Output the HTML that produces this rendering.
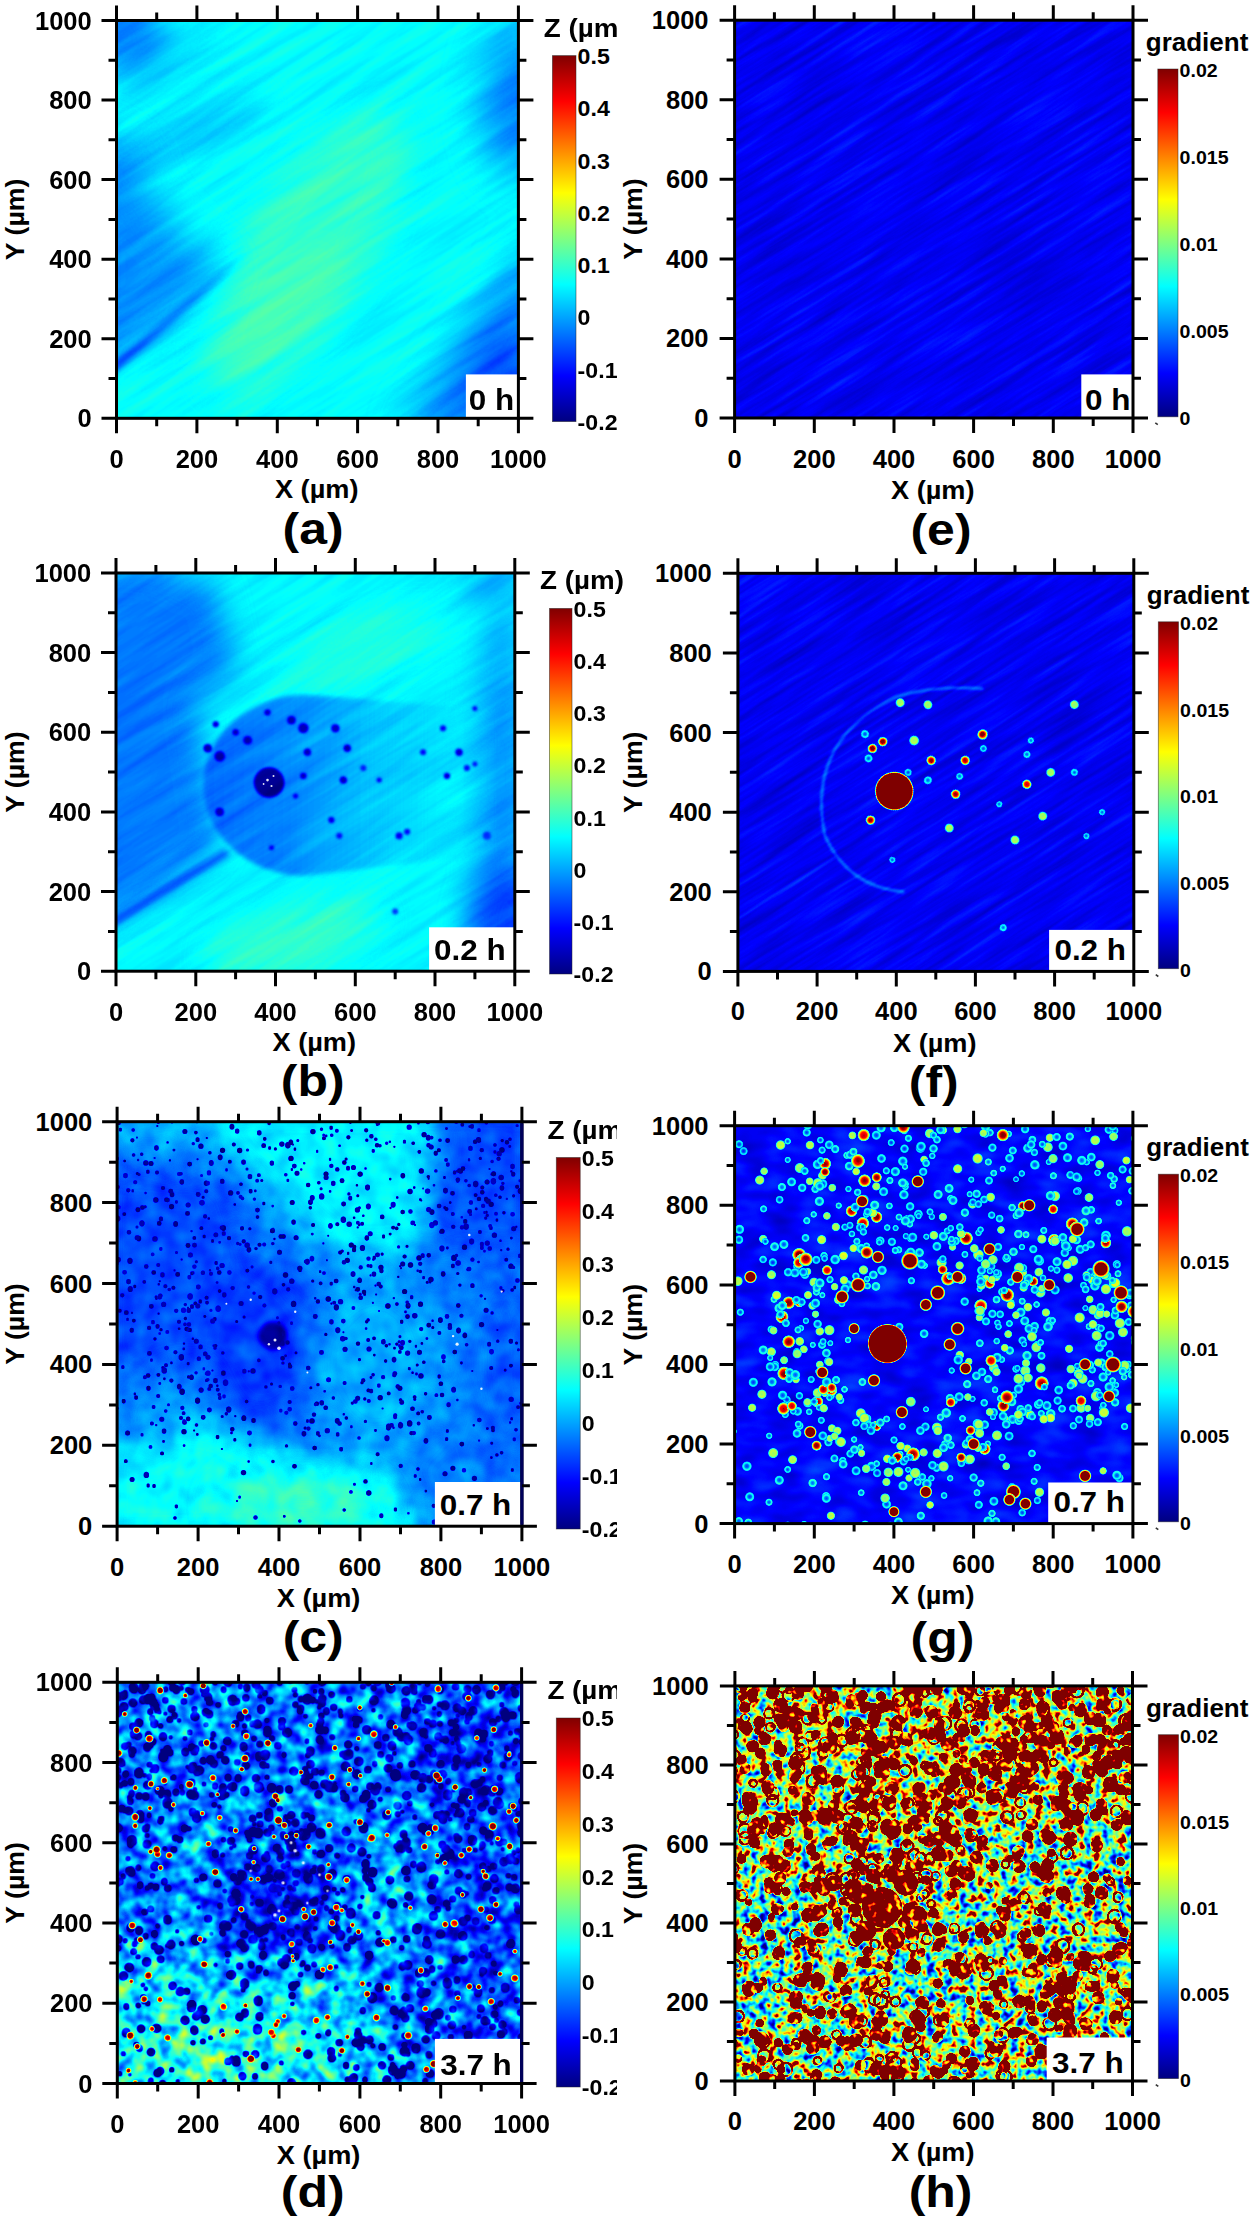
<!DOCTYPE html><html><head><meta charset="utf-8"><title>Figure</title><style>html,body{margin:0;padding:0;background:#fff;width:1250px;height:2220px;overflow:hidden}text{font-family:'Liberation Sans',sans-serif;font-weight:bold;fill:#000}</style></head><body><svg width="1250" height="2220" viewBox="0 0 1250 2220" style="display:block;font-family:'Liberation Sans',sans-serif;font-weight:bold"><defs><filter id="blur05" x="-50%" y="-50%" width="200%" height="200%" color-interpolation-filters="sRGB"><feGaussianBlur stdDeviation="0.5"/></filter><filter id="blur07h" x="-5%" y="-5%" width="110%" height="110%" color-interpolation-filters="sRGB"><feGaussianBlur stdDeviation="0.7"/></filter><filter id="blur12h" x="-5%" y="-5%" width="110%" height="110%" color-interpolation-filters="sRGB"><feGaussianBlur stdDeviation="1.2"/></filter><filter id="blur15h" x="-5%" y="-5%" width="110%" height="110%" color-interpolation-filters="sRGB"><feGaussianBlur stdDeviation="1.5"/></filter><filter id="blur1" x="-50%" y="-50%" width="200%" height="200%" color-interpolation-filters="sRGB"><feGaussianBlur stdDeviation="0.8"/></filter><filter id="blur2" x="-50%" y="-50%" width="200%" height="200%" color-interpolation-filters="sRGB"><feGaussianBlur stdDeviation="2"/></filter><filter id="blur3" x="-50%" y="-50%" width="200%" height="200%" color-interpolation-filters="sRGB"><feGaussianBlur stdDeviation="3"/></filter><filter id="blur4" x="-50%" y="-50%" width="200%" height="200%" color-interpolation-filters="sRGB"><feGaussianBlur stdDeviation="4"/></filter><filter id="blur8" x="-50%" y="-50%" width="200%" height="200%" color-interpolation-filters="sRGB"><feGaussianBlur stdDeviation="8"/></filter><filter id="blur15" x="-50%" y="-50%" width="200%" height="200%" color-interpolation-filters="sRGB"><feGaussianBlur stdDeviation="15"/></filter><filter id="blur20" x="-50%" y="-50%" width="200%" height="200%" color-interpolation-filters="sRGB"><feGaussianBlur stdDeviation="20"/></filter><filter id="blur30" x="-50%" y="-50%" width="200%" height="200%" color-interpolation-filters="sRGB"><feGaussianBlur stdDeviation="30"/></filter><radialGradient id="full"><stop offset="0" stop-color="#f2f2f2"/><stop offset="0.45" stop-color="#e6e6e6"/><stop offset="0.65" stop-color="#b8b8b8"/><stop offset="0.8" stop-color="#858585"/><stop offset="0.9" stop-color="#616161"/><stop offset="1" stop-color="#212121" stop-opacity="0"/></radialGradient><radialGradient id="half"><stop offset="0" stop-color="#808080"/><stop offset="0.3" stop-color="#8c8c8c"/><stop offset="0.6" stop-color="#8c8c8c"/><stop offset="0.8" stop-color="#666666"/><stop offset="1" stop-color="#212121" stop-opacity="0"/></radialGradient><radialGradient id="donut"><stop offset="0" stop-color="#2e2e2e"/><stop offset="0.35" stop-color="#404040"/><stop offset="0.65" stop-color="#6b6b6b"/><stop offset="0.82" stop-color="#545454"/><stop offset="1" stop-color="#212121" stop-opacity="0"/></radialGradient><radialGradient id="big"><stop offset="0" stop-color="#ffffff"/><stop offset="0.9" stop-color="#ffffff"/><stop offset="0.95" stop-color="#cccccc"/><stop offset="1" stop-color="#4c4c4c" stop-opacity="0"/></radialGradient><radialGradient id="dred"><stop offset="0" stop-color="#ffffff"/><stop offset="0.62" stop-color="#ffffff"/><stop offset="0.75" stop-color="#b2b2b2"/><stop offset="0.86" stop-color="#737373"/><stop offset="1" stop-color="#212121" stop-opacity="0"/></radialGradient><radialGradient id="rdot"><stop offset="0" stop-color="#ffffff"/><stop offset="0.5" stop-color="#f7f7f7"/><stop offset="0.75" stop-color="#bfbfbf"/><stop offset="1" stop-color="#4c4c4c" stop-opacity="0"/></radialGradient><linearGradient id="cbar" x1="0" y1="0" x2="0" y2="1"><stop offset="0.0000" stop-color="#800000"/><stop offset="0.1250" stop-color="#ff0000"/><stop offset="0.2500" stop-color="#ff8000"/><stop offset="0.3750" stop-color="#ffff00"/><stop offset="0.5000" stop-color="#80ff80"/><stop offset="0.6250" stop-color="#00ffff"/><stop offset="0.7500" stop-color="#0080ff"/><stop offset="0.8750" stop-color="#0000ff"/><stop offset="1.0000" stop-color="#000080"/></linearGradient><clipPath id="clip_a"><rect x="0" y="0" width="401.9" height="397.8"/></clipPath><filter id="jet_a" filterUnits="userSpaceOnUse" x="-401.9" y="-397.8" width="1205.6999999999998" height="1193.4" color-interpolation-filters="sRGB"><feTurbulence type="fractalNoise" baseFrequency="0.008 0.09" numOctaves="3" seed="2" result="n"/><feColorMatrix in="n" type="matrix" values="1 0 0 0 0  1 0 0 0 0  1 0 0 0 0  0 0 0 0 1" result="ng"/><feComposite in="SourceGraphic" in2="ng" operator="arithmetic" k1="0" k2="1" k3="0.075" k4="-0.0375" result="s"/><feComponentTransfer><feFuncR type="table" tableValues="0 0 0 0 0.5 1 1 1 0.5"/><feFuncG type="table" tableValues="0 0 0.5 1 1 1 0.5 0 0"/><feFuncB type="table" tableValues="0.5 1 1 1 0.5 0 0 0 0"/><feFuncA type="identity"/></feComponentTransfer></filter><clipPath id="colclip_a"><rect x="0" y="0" width="617" height="2220"/></clipPath><clipPath id="clip_b"><rect x="0" y="0" width="398.8" height="398.2"/></clipPath><filter id="jet_b" filterUnits="userSpaceOnUse" x="-398.79999999999995" y="-398.20000000000005" width="1196.3999999999999" height="1194.6000000000001" color-interpolation-filters="sRGB"><feTurbulence type="fractalNoise" baseFrequency="0.008 0.09" numOctaves="3" seed="4" result="n"/><feColorMatrix in="n" type="matrix" values="1 0 0 0 0  1 0 0 0 0  1 0 0 0 0  0 0 0 0 1" result="ng"/><feComposite in="SourceGraphic" in2="ng" operator="arithmetic" k1="0" k2="1" k3="0.075" k4="-0.0375" result="s"/><feComponentTransfer><feFuncR type="table" tableValues="0 0 0 0 0.5 1 1 1 0.5"/><feFuncG type="table" tableValues="0 0 0.5 1 1 1 0.5 0 0"/><feFuncB type="table" tableValues="0.5 1 1 1 0.5 0 0 0 0"/><feFuncA type="identity"/></feComponentTransfer></filter><clipPath id="colclip_b"><rect x="0" y="0" width="640" height="2220"/></clipPath><clipPath id="clip_c"><rect x="0" y="0" width="404.8" height="404.5"/></clipPath><filter id="jet_c" filterUnits="userSpaceOnUse" x="-404.79999999999995" y="-404.5" width="1214.3999999999999" height="1213.5" color-interpolation-filters="sRGB"><feTurbulence type="fractalNoise" baseFrequency="0.05" numOctaves="2" seed="12" result="n"/><feColorMatrix in="n" type="matrix" values="1 0 0 0 0  1 0 0 0 0  1 0 0 0 0  0 0 0 0 1" result="ng"/><feComposite in="SourceGraphic" in2="ng" operator="arithmetic" k1="0" k2="1" k3="0.12" k4="-0.0600" result="s"/><feComponentTransfer><feFuncR type="table" tableValues="0 0 0 0 0.5 1 1 1 0.5"/><feFuncG type="table" tableValues="0 0 0.5 1 1 1 0.5 0 0"/><feFuncB type="table" tableValues="0.5 1 1 1 0.5 0 0 0 0"/><feFuncA type="identity"/></feComponentTransfer></filter><clipPath id="colclip_c"><rect x="0" y="0" width="617" height="2220"/></clipPath><clipPath id="clip_d"><rect x="0" y="0" width="404.3" height="401.2"/></clipPath><filter id="jet_d" filterUnits="userSpaceOnUse" x="-404.3" y="-401.20000000000005" width="1212.9" height="1203.6000000000001" color-interpolation-filters="sRGB"><feTurbulence type="fractalNoise" baseFrequency="0.07" numOctaves="2" seed="21" result="n"/><feColorMatrix in="n" type="matrix" values="1 0 0 0 0  1 0 0 0 0  1 0 0 0 0  0 0 0 0 1" result="ng"/><feComposite in="SourceGraphic" in2="ng" operator="arithmetic" k1="0" k2="1" k3="0.6" k4="-0.3000" result="s"/><feComponentTransfer><feFuncR type="table" tableValues="0 0 0 0 0.5 1 1 1 0.5"/><feFuncG type="table" tableValues="0 0 0.5 1 1 1 0.5 0 0"/><feFuncB type="table" tableValues="0.5 1 1 1 0.5 0 0 0 0"/><feFuncA type="identity"/></feComponentTransfer></filter><clipPath id="colclip_d"><rect x="0" y="0" width="617" height="2220"/></clipPath><clipPath id="clip_e"><rect x="0" y="0" width="398.4" height="397.8"/></clipPath><filter id="jet_e" filterUnits="userSpaceOnUse" x="-398.4" y="-397.8" width="1195.1999999999998" height="1193.4" color-interpolation-filters="sRGB"><feTurbulence type="fractalNoise" baseFrequency="0.01 0.15" numOctaves="3" seed="6" result="n"/><feColorMatrix in="n" type="matrix" values="1 0 0 0 0  1 0 0 0 0  1 0 0 0 0  0 0 0 0 1" result="ng"/><feComposite in="SourceGraphic" in2="ng" operator="arithmetic" k1="0" k2="1" k3="0.12" k4="-0.0600" result="s"/><feComponentTransfer><feFuncR type="table" tableValues="0.000 0.000 0.000 0.000 0.000 0.000 0.000 0.000 0.000 0.000 0.000 0.000 0.000 0.000 0.000 0.000 0.100 0.200 0.300 0.400 0.500 0.600 0.700 0.800 0.900 1.000 1.000 1.000 1.000 1.000 1.000 1.000 1.000 1.000 1.000 1.000 0.900 0.600 0.500 0.500 0.500"/><feFuncG type="table" tableValues="0.000 0.000 0.000 0.000 0.000 0.000 0.100 0.200 0.300 0.400 0.500 0.600 0.700 0.800 0.900 1.000 1.000 1.000 1.000 1.000 1.000 1.000 1.000 1.000 1.000 1.000 0.900 0.800 0.700 0.600 0.500 0.400 0.300 0.200 0.100 0.000 0.000 0.000 0.000 0.000 0.000"/><feFuncB type="table" tableValues="0.500 0.600 0.700 0.800 0.900 1.000 1.000 1.000 1.000 1.000 1.000 1.000 1.000 1.000 1.000 1.000 0.900 0.800 0.700 0.600 0.500 0.400 0.300 0.200 0.100 0.000 0.000 0.000 0.000 0.000 0.000 0.000 0.000 0.000 0.000 0.000 0.000 0.000 0.000 0.000 0.000"/><feFuncA type="identity"/></feComponentTransfer></filter><clipPath id="clip_f"><rect x="0" y="0" width="395.9" height="398.1"/></clipPath><filter id="jet_f" filterUnits="userSpaceOnUse" x="-395.9" y="-398.1" width="1187.6999999999998" height="1194.3000000000002" color-interpolation-filters="sRGB"><feTurbulence type="fractalNoise" baseFrequency="0.01 0.15" numOctaves="3" seed="8" result="n"/><feColorMatrix in="n" type="matrix" values="1 0 0 0 0  1 0 0 0 0  1 0 0 0 0  0 0 0 0 1" result="ng"/><feComposite in="SourceGraphic" in2="ng" operator="arithmetic" k1="0" k2="1" k3="0.12" k4="-0.0600" result="s"/><feComponentTransfer><feFuncR type="table" tableValues="0.000 0.000 0.000 0.000 0.000 0.000 0.000 0.000 0.000 0.000 0.000 0.000 0.000 0.000 0.000 0.000 0.100 0.200 0.300 0.400 0.500 0.600 0.700 0.800 0.900 1.000 1.000 1.000 1.000 1.000 1.000 1.000 1.000 1.000 1.000 1.000 0.900 0.600 0.500 0.500 0.500"/><feFuncG type="table" tableValues="0.000 0.000 0.000 0.000 0.000 0.000 0.100 0.200 0.300 0.400 0.500 0.600 0.700 0.800 0.900 1.000 1.000 1.000 1.000 1.000 1.000 1.000 1.000 1.000 1.000 1.000 0.900 0.800 0.700 0.600 0.500 0.400 0.300 0.200 0.100 0.000 0.000 0.000 0.000 0.000 0.000"/><feFuncB type="table" tableValues="0.500 0.600 0.700 0.800 0.900 1.000 1.000 1.000 1.000 1.000 1.000 1.000 1.000 1.000 1.000 1.000 0.900 0.800 0.700 0.600 0.500 0.400 0.300 0.200 0.100 0.000 0.000 0.000 0.000 0.000 0.000 0.000 0.000 0.000 0.000 0.000 0.000 0.000 0.000 0.000 0.000"/><feFuncA type="identity"/></feComponentTransfer></filter><clipPath id="clip_g"><rect x="0" y="0" width="398.3" height="397.9"/></clipPath><filter id="jet_g" filterUnits="userSpaceOnUse" x="-398.30000000000007" y="-397.89999999999986" width="1194.9" height="1193.6999999999996" color-interpolation-filters="sRGB"><feTurbulence type="fractalNoise" baseFrequency="0.03 0.06" numOctaves="2" seed="31" result="n"/><feColorMatrix in="n" type="matrix" values="1 0 0 0 0  1 0 0 0 0  1 0 0 0 0  0 0 0 0 1" result="ng"/><feComposite in="SourceGraphic" in2="ng" operator="arithmetic" k1="0" k2="1" k3="0.16" k4="-0.0800" result="s"/><feComponentTransfer><feFuncR type="table" tableValues="0.000 0.000 0.000 0.000 0.000 0.000 0.000 0.000 0.000 0.000 0.000 0.000 0.000 0.000 0.000 0.000 0.100 0.200 0.300 0.400 0.500 0.600 0.700 0.800 0.900 1.000 1.000 1.000 1.000 1.000 1.000 1.000 1.000 1.000 1.000 1.000 0.900 0.600 0.500 0.500 0.500"/><feFuncG type="table" tableValues="0.000 0.000 0.000 0.000 0.000 0.000 0.100 0.200 0.300 0.400 0.500 0.600 0.700 0.800 0.900 1.000 1.000 1.000 1.000 1.000 1.000 1.000 1.000 1.000 1.000 1.000 0.900 0.800 0.700 0.600 0.500 0.400 0.300 0.200 0.100 0.000 0.000 0.000 0.000 0.000 0.000"/><feFuncB type="table" tableValues="0.500 0.600 0.700 0.800 0.900 1.000 1.000 1.000 1.000 1.000 1.000 1.000 1.000 1.000 1.000 1.000 0.900 0.800 0.700 0.600 0.500 0.400 0.300 0.200 0.100 0.000 0.000 0.000 0.000 0.000 0.000 0.000 0.000 0.000 0.000 0.000 0.000 0.000 0.000 0.000 0.000"/><feFuncA type="identity"/></feComponentTransfer></filter><clipPath id="clip_h"><rect x="0" y="0" width="397.6" height="395.1"/></clipPath><filter id="jet_h" filterUnits="userSpaceOnUse" x="-397.6" y="-395.0999999999999" width="1192.8000000000002" height="1185.2999999999997" color-interpolation-filters="sRGB"><feTurbulence type="fractalNoise" baseFrequency="0.12" numOctaves="2" seed="41" result="n"/><feColorMatrix in="n" type="matrix" values="1 0 0 0 0  1 0 0 0 0  1 0 0 0 0  0 0 0 0 1" result="ng"/><feComposite in="SourceGraphic" in2="ng" operator="arithmetic" k1="0" k2="1" k3="1.5" k4="-0.7500" result="s"/><feComponentTransfer><feFuncR type="table" tableValues="0.000 0.000 0.000 0.000 0.000 0.000 0.000 0.000 0.000 0.000 0.000 0.000 0.000 0.000 0.000 0.000 0.000 0.000 0.000 0.000 0.000 0.000 0.000 0.000 0.000 0.000 0.000 0.000 0.000 0.000 0.000 0.000 0.000 0.000 0.000 0.000 0.000 0.000 0.020 0.060 0.100 0.140 0.180 0.220 0.260 0.300 0.340 0.380 0.420 0.460 0.500 0.540 0.580 0.620 0.660 0.700 0.740 0.780 0.820 0.860 0.900 0.940 0.980 1.000 1.000 1.000 1.000 1.000 1.000 1.000 1.000 1.000 1.000 1.000 1.000 1.000 1.000 1.000 1.000 0.929 0.843 0.757 0.671 0.586 0.500 0.500 0.500 0.500 0.500 0.500 0.500 0.500 0.500 0.500 0.500 0.500 0.500 0.500 0.500 0.500 0.500"/><feFuncG type="table" tableValues="0.000 0.000 0.000 0.000 0.000 0.000 0.000 0.000 0.000 0.000 0.000 0.000 0.000 0.020 0.060 0.100 0.140 0.180 0.220 0.260 0.300 0.340 0.380 0.420 0.460 0.500 0.540 0.580 0.620 0.660 0.700 0.740 0.780 0.820 0.860 0.900 0.940 0.980 1.000 1.000 1.000 1.000 1.000 1.000 1.000 1.000 1.000 1.000 1.000 1.000 1.000 1.000 1.000 1.000 1.000 1.000 1.000 1.000 1.000 1.000 1.000 1.000 1.000 0.980 0.940 0.900 0.860 0.820 0.780 0.740 0.700 0.614 0.529 0.443 0.357 0.271 0.186 0.100 0.014 0.000 0.000 0.000 0.000 0.000 0.000 0.000 0.000 0.000 0.000 0.000 0.000 0.000 0.000 0.000 0.000 0.000 0.000 0.000 0.000 0.000 0.000"/><feFuncB type="table" tableValues="0.500 0.540 0.580 0.620 0.660 0.700 0.740 0.780 0.820 0.860 0.900 0.940 0.980 1.000 1.000 1.000 1.000 1.000 1.000 1.000 1.000 1.000 1.000 1.000 1.000 1.000 1.000 1.000 1.000 1.000 1.000 1.000 1.000 1.000 1.000 1.000 1.000 1.000 0.980 0.940 0.900 0.860 0.820 0.780 0.740 0.700 0.660 0.620 0.580 0.540 0.500 0.460 0.420 0.380 0.340 0.300 0.260 0.220 0.180 0.140 0.100 0.060 0.020 0.000 0.000 0.000 0.000 0.000 0.000 0.000 0.000 0.000 0.000 0.000 0.000 0.000 0.000 0.000 0.000 0.000 0.000 0.000 0.000 0.000 0.000 0.000 0.000 0.000 0.000 0.000 0.000 0.000 0.000 0.000 0.000 0.000 0.000 0.000 0.000 0.000 0.000"/><feFuncA type="identity"/></feComponentTransfer></filter></defs><rect width="1250" height="2220" fill="#fff"/><g transform="translate(116.5 20.5)"><g clip-path="url(#clip_a)"><g transform="rotate(-32 200.9 198.9)" filter="url(#jet_a)"><g transform="rotate(32 200.9 198.9)"><rect x="-241" y="-239" width="884" height="875" fill="#606060"/>
<g filter="url(#blur15)">
<ellipse cx="188.9" cy="230.7" rx="160.8" ry="59.7" fill="#6c6c6c" transform="rotate(-58 188.9 230.7)"/>
<ellipse cx="176.8" cy="278.5" rx="64.3" ry="39.8" fill="#717171" transform="rotate(-45 176.8 278.5)"/>
<ellipse cx="0.0" cy="11.9" rx="48.2" ry="39.8" fill="#404040"/>
<ellipse cx="68.3" cy="115.4" rx="88.4" ry="15.9" fill="#4c4c4c" transform="rotate(-25 68.3 115.4)"/>
<ellipse cx="48.2" cy="47.7" rx="56.3" ry="13.9" fill="#525252" transform="rotate(-30 48.2 47.7)"/>
</g><g filter="url(#blur20)">
<path d="M-40.2 99.5 L16.1 127.3 L36.2 183.0 L80.4 226.7 L108.5 250.6 L0.0 342.1 L-40.2 358.0 Z" fill="#424242" />
<ellipse cx="401.9" cy="79.6" rx="36.2" ry="79.6" fill="#404040"/>
<path d="M281.3 417.7 L422.0 206.9 L422.0 417.7 Z" fill="#3b3b3b" />
<ellipse cx="389.8" cy="350.1" rx="24.1" ry="39.8" fill="#2b2b2b"/>
</g>
<g filter="url(#blur3)">
<linearGradient id="sga" gradientUnits="userSpaceOnUse" x1="0" y1="350.1" x2="132.6" y2="230.7"><stop offset="0" stop-color="#292929"/><stop offset="0.6" stop-color="#333333" stop-opacity="0.8"/><stop offset="1" stop-color="#404040" stop-opacity="0"/></linearGradient>
<path d="M-8.0 352.1 L132.6 230.7" stroke="url(#sga)" stroke-width="7" fill="none"/>
</g></g></g></g><rect x="349.4" y="353.9" width="52.5" height="43.9" fill="#fff"/></g>
<rect x="116.5" y="20.5" width="401.9" height="397.8" fill="none" stroke="#000" stroke-width="3"/>
<path d="M116.5 20.5v-15M116.5 418.3v15M116.5 418.3h-15M518.4 418.3h15M156.7 20.5v-8M156.7 418.3v8M116.5 378.5h-8M518.4 378.5h8M196.9 20.5v-15M196.9 418.3v15M116.5 338.7h-15M518.4 338.7h15M237.1 20.5v-8M237.1 418.3v8M116.5 299.0h-8M518.4 299.0h8M277.3 20.5v-15M277.3 418.3v15M116.5 259.2h-15M518.4 259.2h15M317.4 20.5v-8M317.4 418.3v8M116.5 219.4h-8M518.4 219.4h8M357.6 20.5v-15M357.6 418.3v15M116.5 179.6h-15M518.4 179.6h15M397.8 20.5v-8M397.8 418.3v8M116.5 139.8h-8M518.4 139.8h8M438.0 20.5v-15M438.0 418.3v15M116.5 100.1h-15M518.4 100.1h15M478.2 20.5v-8M478.2 418.3v8M116.5 60.3h-8M518.4 60.3h8M518.4 20.5v-15M518.4 418.3v15M116.5 20.5h-15M518.4 20.5h15" stroke="#000" stroke-width="3" fill="none"/>
<g clip-path="url(#colclip_a)"><text x="91.7" y="427.3" font-size="25.5" text-anchor="end" >0</text>
<text x="116.5" y="468.3" font-size="25.5" text-anchor="middle" >0</text>
<text x="91.7" y="347.7" font-size="25.5" text-anchor="end" >200</text>
<text x="196.9" y="468.3" font-size="25.5" text-anchor="middle" >200</text>
<text x="91.7" y="268.2" font-size="25.5" text-anchor="end" >400</text>
<text x="277.3" y="468.3" font-size="25.5" text-anchor="middle" >400</text>
<text x="91.7" y="188.6" font-size="25.5" text-anchor="end" >600</text>
<text x="357.6" y="468.3" font-size="25.5" text-anchor="middle" >600</text>
<text x="91.7" y="109.0" font-size="25.5" text-anchor="end" >800</text>
<text x="438.0" y="468.3" font-size="25.5" text-anchor="middle" >800</text>
<text x="91.7" y="29.5" font-size="25.5" text-anchor="end" >1000</text>
<text x="518.4" y="468.3" font-size="25.5" text-anchor="middle" >1000</text>
<text transform="translate(316.7 498.0) scale(1.065 1)" font-size="25.5" text-anchor="middle" >X (µm)</text>
<text transform="translate(23.6 219.4) rotate(-90) scale(1.045 1)" font-size="25.5" text-anchor="middle">Y (µm)</text>
<text transform="translate(313.1 544.0) scale(1.11 1)" font-size="45" text-anchor="middle" >(a)</text>
<text transform="translate(514.2 409.5) scale(1.065 1)" font-size="29.5" text-anchor="end" >0 h</text>
<rect x="552.4" y="55.6" width="23.6" height="366.0" fill="url(#cbar)" stroke="#222" stroke-width="0.8" stroke-opacity="0.6"/>
<text transform="translate(577.6 63.9) scale(1.03 1)" font-size="22.5" text-anchor="start" >0.5</text>
<text transform="translate(577.6 116.2) scale(1.03 1)" font-size="22.5" text-anchor="start" >0.4</text>
<text transform="translate(577.6 168.5) scale(1.03 1)" font-size="22.5" text-anchor="start" >0.3</text>
<text transform="translate(577.6 220.8) scale(1.03 1)" font-size="22.5" text-anchor="start" >0.2</text>
<text transform="translate(577.6 273.1) scale(1.03 1)" font-size="22.5" text-anchor="start" >0.1</text>
<text transform="translate(577.6 325.4) scale(1.03 1)" font-size="22.5" text-anchor="start" >0</text>
<text transform="translate(577.6 377.6) scale(1.03 1)" font-size="22.5" text-anchor="start" >-0.1</text>
<text transform="translate(577.6 429.9) scale(1.03 1)" font-size="22.5" text-anchor="start" >-0.2</text>
<text transform="translate(543.8 37.0) scale(1.11 1)" font-size="25" text-anchor="start" >Z (µm)</text></g>
<g transform="translate(116.0 573.0)"><g clip-path="url(#clip_b)"><g transform="rotate(-32 199.4 199.1)" filter="url(#jet_b)"><g transform="rotate(32 199.4 199.1)"><rect x="-239" y="-239" width="877" height="876" fill="#5e5e5e"/>
<g filter="url(#blur15)">
<ellipse cx="247.3" cy="79.6" rx="87.7" ry="23.9" fill="#696969" transform="rotate(-20 247.3 79.6)"/>
<ellipse cx="179.5" cy="366.3" rx="87.7" ry="31.9" fill="#6c6c6c" transform="rotate(-15 179.5 366.3)"/>
<ellipse cx="8.0" cy="19.9" rx="71.8" ry="31.9" fill="#424242"/>
<path d="M-39.9 19.9 L99.7 8.0 L119.6 99.6 L79.8 127.4 L103.7 278.7 L0.0 350.4 L-39.9 358.4 Z" fill="#3e3e3e" />
<ellipse cx="386.8" cy="199.1" rx="27.9" ry="159.3" fill="#454545"/>
<ellipse cx="390.8" cy="350.4" rx="39.9" ry="55.7" fill="#303030"/>
<ellipse cx="378.9" cy="11.9" rx="31.9" ry="19.9" fill="#474747"/>
</g>
<g filter="url(#blur3)">
<path d="M-8.0 352.4 L111.7 278.7" stroke="#2e2e2e" stroke-width="7" fill="none"/>
</g>
<linearGradient id="dgrad" gradientUnits="userSpaceOnUse" x1="83.7" y1="0" x2="378.9" y2="0"><stop offset="0" stop-color="#393939"/><stop offset="0.3" stop-color="#424242"/><stop offset="0.55" stop-color="#4f4f4f"/><stop offset="0.8" stop-color="#575757" stop-opacity="0.7"/><stop offset="1" stop-color="#595959" stop-opacity="0"/></linearGradient>
<g filter="url(#blur2)">
<path d="M187.4 121.5 A103.7 90.8 0 0 0 187.4 303.0 L378.9 279.9 L378.9 136.6 Z" fill="url(#dgrad)"/>
</g>
<g filter="url(#blur1)">
<circle cx="153.1" cy="209.5" r="15" fill="#050505"/>
<circle cx="119.6" cy="159.3" r="3" fill="#0d0d0d"/>
<circle cx="131.6" cy="167.2" r="4" fill="#0d0d0d"/>
<circle cx="99.7" cy="151.3" r="3" fill="#0f0f0f"/>
<circle cx="91.7" cy="175.2" r="4" fill="#0a0a0a"/>
<circle cx="103.7" cy="183.2" r="5" fill="#0a0a0a"/>
<circle cx="151.5" cy="139.4" r="3" fill="#0f0f0f"/>
<circle cx="175.5" cy="147.3" r="4" fill="#0f0f0f"/>
<circle cx="187.4" cy="155.3" r="5" fill="#0d0d0d"/>
<circle cx="191.4" cy="179.2" r="3.5" fill="#0d0d0d"/>
<circle cx="219.3" cy="155.3" r="4" fill="#0d0d0d"/>
<circle cx="231.3" cy="175.2" r="3.5" fill="#0a0a0a"/>
<circle cx="187.4" cy="203.1" r="3" fill="#0f0f0f"/>
<circle cx="227.3" cy="207.1" r="3.5" fill="#0d0d0d"/>
<circle cx="103.7" cy="238.9" r="4" fill="#0a0a0a"/>
<circle cx="215.4" cy="246.9" r="3" fill="#121212"/>
<circle cx="155.5" cy="274.8" r="2.5" fill="#1a1a1a"/>
<circle cx="223.3" cy="262.8" r="3" fill="#1f1f1f"/>
<circle cx="247.3" cy="195.1" r="3" fill="#262626"/>
<circle cx="343.0" cy="179.2" r="3.5" fill="#141414"/>
<circle cx="331.0" cy="203.1" r="3" fill="#0f0f0f"/>
<circle cx="350.9" cy="195.1" r="3" fill="#1f1f1f"/>
<circle cx="283.1" cy="262.8" r="3.5" fill="#1a1a1a"/>
<circle cx="291.1" cy="258.8" r="3" fill="#1f1f1f"/>
<circle cx="358.9" cy="191.1" r="2.5" fill="#212121"/>
<circle cx="307.1" cy="179.2" r="3" fill="#1f1f1f"/>
<circle cx="279.2" cy="338.5" r="3" fill="#2e2e2e"/>
<circle cx="370.9" cy="262.8" r="4" fill="#2b2b2b"/>
<circle cx="358.9" cy="135.4" r="2.5" fill="#1f1f1f"/>
<circle cx="263.2" cy="207.1" r="2.5" fill="#1f1f1f"/>
<circle cx="179.5" cy="223.0" r="2.5" fill="#1a1a1a"/>
<circle cx="327.0" cy="155.3" r="3" fill="#1f1f1f"/>
</g></g></g><circle cx="151.5" cy="207.1" r="1.3" fill="#fff" fill-opacity="0.9"/><circle cx="155.5" cy="213.0" r="1.1" fill="#fff" fill-opacity="0.9"/><circle cx="157.5" cy="203.1" r="1.0" fill="#fff" fill-opacity="0.9"/><circle cx="147.6" cy="211.0" r="0.9" fill="#fff" fill-opacity="0.9"/></g><rect x="313.1" y="354.3" width="85.7" height="43.9" fill="#fff"/></g>
<rect x="116.0" y="573.0" width="398.8" height="398.2" fill="none" stroke="#000" stroke-width="3"/>
<path d="M116.0 573.0v-15M116.0 971.2v15M116.0 971.2h-15M514.8 971.2h15M155.9 573.0v-8M155.9 971.2v8M116.0 931.4h-8M514.8 931.4h8M195.8 573.0v-15M195.8 971.2v15M116.0 891.6h-15M514.8 891.6h15M235.6 573.0v-8M235.6 971.2v8M116.0 851.7h-8M514.8 851.7h8M275.5 573.0v-15M275.5 971.2v15M116.0 811.9h-15M514.8 811.9h15M315.4 573.0v-8M315.4 971.2v8M116.0 772.1h-8M514.8 772.1h8M355.3 573.0v-15M355.3 971.2v15M116.0 732.3h-15M514.8 732.3h15M395.2 573.0v-8M395.2 971.2v8M116.0 692.5h-8M514.8 692.5h8M435.0 573.0v-15M435.0 971.2v15M116.0 652.6h-15M514.8 652.6h15M474.9 573.0v-8M474.9 971.2v8M116.0 612.8h-8M514.8 612.8h8M514.8 573.0v-15M514.8 971.2v15M116.0 573.0h-15M514.8 573.0h15" stroke="#000" stroke-width="3" fill="none"/>
<g clip-path="url(#colclip_b)"><text x="91.2" y="980.2" font-size="25.5" text-anchor="end" >0</text>
<text x="116.0" y="1020.5" font-size="25.5" text-anchor="middle" >0</text>
<text x="91.2" y="900.5" font-size="25.5" text-anchor="end" >200</text>
<text x="195.8" y="1020.5" font-size="25.5" text-anchor="middle" >200</text>
<text x="91.2" y="820.9" font-size="25.5" text-anchor="end" >400</text>
<text x="275.5" y="1020.5" font-size="25.5" text-anchor="middle" >400</text>
<text x="91.2" y="741.3" font-size="25.5" text-anchor="end" >600</text>
<text x="355.3" y="1020.5" font-size="25.5" text-anchor="middle" >600</text>
<text x="91.2" y="661.6" font-size="25.5" text-anchor="end" >800</text>
<text x="435.0" y="1020.5" font-size="25.5" text-anchor="middle" >800</text>
<text x="91.2" y="582.0" font-size="25.5" text-anchor="end" >1000</text>
<text x="514.8" y="1020.5" font-size="25.5" text-anchor="middle" >1000</text>
<text transform="translate(314.3 1050.5) scale(1.065 1)" font-size="25.5" text-anchor="middle" >X (µm)</text>
<text transform="translate(23.6 772.1) rotate(-90) scale(1.045 1)" font-size="25.5" text-anchor="middle">Y (µm)</text>
<text transform="translate(312.7 1096.0) scale(1.11 1)" font-size="45" text-anchor="middle" >(b)</text>
<text transform="translate(505.6 960.2) scale(1.065 1)" font-size="29.5" text-anchor="end" >0.2 h</text>
<rect x="549.5" y="608.4" width="22.5" height="365.6" fill="url(#cbar)" stroke="#222" stroke-width="0.8" stroke-opacity="0.6"/>
<text transform="translate(573.6 616.7) scale(1.03 1)" font-size="22.5" text-anchor="start" >0.5</text>
<text transform="translate(573.6 669.0) scale(1.03 1)" font-size="22.5" text-anchor="start" >0.4</text>
<text transform="translate(573.6 721.2) scale(1.03 1)" font-size="22.5" text-anchor="start" >0.3</text>
<text transform="translate(573.6 773.4) scale(1.03 1)" font-size="22.5" text-anchor="start" >0.2</text>
<text transform="translate(573.6 825.6) scale(1.03 1)" font-size="22.5" text-anchor="start" >0.1</text>
<text transform="translate(573.6 877.9) scale(1.03 1)" font-size="22.5" text-anchor="start" >0</text>
<text transform="translate(573.6 930.1) scale(1.03 1)" font-size="22.5" text-anchor="start" >-0.1</text>
<text transform="translate(573.6 982.3) scale(1.03 1)" font-size="22.5" text-anchor="start" >-0.2</text>
<text transform="translate(540.1 589.3) scale(1.11 1)" font-size="25" text-anchor="start" >Z (µm)</text></g>
<g transform="translate(117.1 1121.7)"><g clip-path="url(#clip_c)"><g filter="url(#jet_c)"><rect x="-20" y="-20" width="445" height="444" fill="#414141"/>
<g filter="url(#blur15)">
<path d="M-20.2 40.5 L113.3 48.5 L145.7 141.6 L97.2 242.7 L-20.2 258.9 Z" fill="#333333" />
<ellipse cx="32.4" cy="8.1" rx="56.7" ry="28.3" fill="#4a4a4a"/>
<path d="M48.6 -20.2 L129.5 -20.2 L259.1 105.2 L210.5 129.4 Z" fill="#595959" />
<path d="M121.4 -20.2 L331.9 -20.2 L303.6 133.5 L222.6 137.5 Z" fill="#5d5d5d" />
<path d="M323.8 -20.2 L425.0 -20.2 L425.0 133.5 L307.6 133.5 Z" fill="#333333" />
<ellipse cx="145.7" cy="222.5" rx="60.7" ry="84.9" fill="#2f2f2f"/>
<ellipse cx="259.1" cy="242.7" rx="68.8" ry="89.0" fill="#4b4b4b"/>
<path d="M-20.2 323.6 L89.1 291.2 L170.0 335.7 L275.3 347.9 L307.6 424.7 L-20.2 424.7 Z" fill="#616161" />
<ellipse cx="388.6" cy="242.7" rx="24.3" ry="121.3" fill="#363636"/>
<ellipse cx="24.3" cy="291.2" rx="32.4" ry="40.5" fill="#454545"/>
</g>
<g filter="url(#blur20)">
<ellipse cx="186.2" cy="384.3" rx="81.0" ry="28.3" fill="#6e6e6e"/>
</g>
<circle cx="155.8" cy="214.4" r="14" fill="#050505" filter="url(#blur2)"/>
<g filter="url(#blur05)">
<path fill="#000000" d="M67.3 207.3a2.3 2.3 0 1 0 4.7 0a2.3 2.3 0 1 0 -4.7 0M177.4 51.6a2.5 2.5 0 1 0 5.0 0a2.5 2.5 0 1 0 -5.0 0M239.2 74.1a1.5 1.5 0 1 0 3.0 0a1.5 1.5 0 1 0 -3.0 0M268.1 184.3a2.7 2.7 0 1 0 5.4 0a2.7 2.7 0 1 0 -5.4 0M288.4 124.5a1.5 1.5 0 1 0 3.0 0a1.5 1.5 0 1 0 -3.0 0M227.5 37.3a1.5 1.5 0 1 0 3.0 0a1.5 1.5 0 1 0 -3.0 0M393.9 348.4a1.4 1.4 0 1 0 2.7 0a1.4 1.4 0 1 0 -2.7 0M102.8 28.6a2.6 2.6 0 1 0 5.3 0a2.6 2.6 0 1 0 -5.3 0M165.7 153.3a2.7 2.7 0 1 0 5.4 0a2.7 2.7 0 1 0 -5.4 0M280.0 155.2a1.1 1.1 0 1 0 2.3 0a1.1 1.1 0 1 0 -2.3 0M18.4 88.0a2.4 2.4 0 1 0 4.9 0a2.4 2.4 0 1 0 -4.9 0M140.4 123.1a2.0 2.0 0 1 0 4.0 0a2.0 2.0 0 1 0 -4.0 0M192.2 299.2a2.7 2.7 0 1 0 5.4 0a2.7 2.7 0 1 0 -5.4 0M323.7 376.8a2.2 2.2 0 1 0 4.3 0a2.2 2.2 0 1 0 -4.3 0M175.1 344.6a2.3 2.3 0 1 0 4.6 0a2.3 2.3 0 1 0 -4.6 0M119.9 28.8a2.6 2.6 0 1 0 5.3 0a2.6 2.6 0 1 0 -5.3 0M235.5 125.0a1.8 1.8 0 1 0 3.7 0a1.8 1.8 0 1 0 -3.7 0M246.1 277.2a1.6 1.6 0 1 0 3.2 0a1.6 1.6 0 1 0 -3.2 0M36.2 217.1a1.6 1.6 0 1 0 3.3 0a1.6 1.6 0 1 0 -3.3 0M278.8 75.8a1.3 1.3 0 1 0 2.6 0a1.3 1.3 0 1 0 -2.6 0M334.2 136.2a2.7 2.7 0 1 0 5.3 0a2.7 2.7 0 1 0 -5.3 0M167.7 324.2a1.7 1.7 0 1 0 3.4 0a1.7 1.7 0 1 0 -3.4 0M294.3 21.6a1.8 1.8 0 1 0 3.6 0a1.8 1.8 0 1 0 -3.6 0M116.4 82.8a1.3 1.3 0 1 0 2.6 0a1.3 1.3 0 1 0 -2.6 0M258.5 332.5a2.0 2.0 0 1 0 4.0 0a2.0 2.0 0 1 0 -4.0 0M269.0 306.5a2.3 2.3 0 1 0 4.6 0a2.3 2.3 0 1 0 -4.6 0M304.4 13.0a2.6 2.6 0 1 0 5.2 0a2.6 2.6 0 1 0 -5.2 0M373.4 52.6a1.4 1.4 0 1 0 2.8 0a1.4 1.4 0 1 0 -2.8 0M1.8 7.9a1.5 1.5 0 1 0 2.9 0a1.5 1.5 0 1 0 -2.9 0M191.1 80.5a2.3 2.3 0 1 0 4.5 0a2.3 2.3 0 1 0 -4.5 0M116.4 318.1a1.4 1.4 0 1 0 2.7 0a1.4 1.4 0 1 0 -2.7 0M328.2 18.9a2.3 2.3 0 1 0 4.7 0a2.3 2.3 0 1 0 -4.7 0M131.2 107.0a1.5 1.5 0 1 0 3.1 0a1.5 1.5 0 1 0 -3.1 0M374.1 308.7a1.8 1.8 0 1 0 3.6 0a1.8 1.8 0 1 0 -3.6 0M130.3 339.8a1.2 1.2 0 1 0 2.5 0a1.2 1.2 0 1 0 -2.5 0M45.9 257.1a1.3 1.3 0 1 0 2.7 0a1.3 1.3 0 1 0 -2.7 0M34.3 150.8a2.3 2.3 0 1 0 4.7 0a2.3 2.3 0 1 0 -4.7 0M298.6 243.3a1.5 1.5 0 1 0 3.0 0a1.5 1.5 0 1 0 -3.0 0M59.8 265.1a1.2 1.2 0 1 0 2.4 0a1.2 1.2 0 1 0 -2.4 0M-9.4 94.5a1.6 1.6 0 1 0 3.1 0a1.6 1.6 0 1 0 -3.1 0M359.7 77.2a2.2 2.2 0 1 0 4.4 0a2.2 2.2 0 1 0 -4.4 0M409.6 76.9a1.3 1.3 0 1 0 2.7 0a1.3 1.3 0 1 0 -2.7 0M16.3 164.7a1.4 1.4 0 1 0 2.7 0a1.4 1.4 0 1 0 -2.7 0M405.0 -6.7a1.9 1.9 0 1 0 3.8 0a1.9 1.9 0 1 0 -3.8 0M156.2 117.3a1.1 1.1 0 1 0 2.3 0a1.1 1.1 0 1 0 -2.3 0M247.0 8.6a2.1 2.1 0 1 0 4.2 0a2.1 2.1 0 1 0 -4.2 0M66.6 196.8a1.7 1.7 0 1 0 3.4 0a1.7 1.7 0 1 0 -3.4 0M85.7 114.8a1.4 1.4 0 1 0 2.7 0a1.4 1.4 0 1 0 -2.7 0M117.1 294.5a1.1 1.1 0 1 0 2.2 0a1.1 1.1 0 1 0 -2.2 0M391.2 144.5a2.6 2.6 0 1 0 5.2 0a2.6 2.6 0 1 0 -5.2 0M277.8 106.7a1.8 1.8 0 1 0 3.6 0a1.8 1.8 0 1 0 -3.6 0M382.6 407.9a2.2 2.2 0 1 0 4.4 0a2.2 2.2 0 1 0 -4.4 0M356.6 73.4a1.9 1.9 0 1 0 3.8 0a1.9 1.9 0 1 0 -3.8 0M96.2 197.3a1.6 1.6 0 1 0 3.1 0a1.6 1.6 0 1 0 -3.1 0M86.3 194.8a1.4 1.4 0 1 0 2.9 0a1.4 1.4 0 1 0 -2.9 0M295.8 65.9a1.3 1.3 0 1 0 2.6 0a1.3 1.3 0 1 0 -2.6 0M274.1 105.9a1.9 1.9 0 1 0 3.9 0a1.9 1.9 0 1 0 -3.9 0M205.8 -3.7a2.6 2.6 0 1 0 5.3 0a2.6 2.6 0 1 0 -5.3 0M240.8 103.2a1.3 1.3 0 1 0 2.6 0a1.3 1.3 0 1 0 -2.6 0M303.5 221.7a1.3 1.3 0 1 0 2.6 0a1.3 1.3 0 1 0 -2.6 0M389.3 127.5a1.6 1.6 0 1 0 3.2 0a1.6 1.6 0 1 0 -3.2 0M202.0 149.9a1.1 1.1 0 1 0 2.1 0a1.1 1.1 0 1 0 -2.1 0M213.2 181.9a1.1 1.1 0 1 0 2.2 0a1.1 1.1 0 1 0 -2.2 0M320.9 198.4a2.4 2.4 0 1 0 4.7 0a2.4 2.4 0 1 0 -4.7 0M326.2 55.8a1.2 1.2 0 1 0 2.3 0a1.2 1.2 0 1 0 -2.3 0M386.7 248.5a1.3 1.3 0 1 0 2.7 0a1.3 1.3 0 1 0 -2.7 0M152.8 109.0a2.5 2.5 0 1 0 5.0 0a2.5 2.5 0 1 0 -5.0 0M192.4 266.2a1.4 1.4 0 1 0 2.8 0a1.4 1.4 0 1 0 -2.8 0M339.1 208.8a2.4 2.4 0 1 0 4.7 0a2.4 2.4 0 1 0 -4.7 0M387.9 368.8a1.6 1.6 0 1 0 3.2 0a1.6 1.6 0 1 0 -3.2 0M316.7 31.6a2.0 2.0 0 1 0 3.9 0a2.0 2.0 0 1 0 -3.9 0M238.6 63.5a1.2 1.2 0 1 0 2.5 0a1.2 1.2 0 1 0 -2.5 0M396.4 165.8a1.3 1.3 0 1 0 2.5 0a1.3 1.3 0 1 0 -2.5 0M299.2 291.7a1.9 1.9 0 1 0 3.8 0a1.9 1.9 0 1 0 -3.8 0M263.5 132.4a1.5 1.5 0 1 0 3.1 0a1.5 1.5 0 1 0 -3.1 0M58.2 152.7a2.4 2.4 0 1 0 4.8 0a2.4 2.4 0 1 0 -4.8 0M78.9 312.7a1.3 1.3 0 1 0 2.6 0a1.3 1.3 0 1 0 -2.6 0M262.4 149.0a2.0 2.0 0 1 0 3.9 0a2.0 2.0 0 1 0 -3.9 0M321.5 262.1a2.3 2.3 0 1 0 4.6 0a2.3 2.3 0 1 0 -4.6 0M156.7 27.2a1.6 1.6 0 1 0 3.2 0a1.6 1.6 0 1 0 -3.2 0M280.3 266.5a2.5 2.5 0 1 0 5.0 0a2.5 2.5 0 1 0 -5.0 0M197.4 282.0a2.3 2.3 0 1 0 4.6 0a2.3 2.3 0 1 0 -4.6 0M283.3 90.2a2.2 2.2 0 1 0 4.5 0a2.2 2.2 0 1 0 -4.5 0M271.6 112.4a1.4 1.4 0 1 0 2.9 0a1.4 1.4 0 1 0 -2.9 0M227.6 138.6a2.6 2.6 0 1 0 5.2 0a2.6 2.6 0 1 0 -5.2 0M382.2 28.3a2.6 2.6 0 1 0 5.3 0a2.6 2.6 0 1 0 -5.3 0M341.2 163.4a1.6 1.6 0 1 0 3.2 0a1.6 1.6 0 1 0 -3.2 0M301.8 77.9a1.4 1.4 0 1 0 2.8 0a1.4 1.4 0 1 0 -2.8 0M181.5 148.5a1.5 1.5 0 1 0 2.9 0a1.5 1.5 0 1 0 -2.9 0M285.4 134.8a2.1 2.1 0 1 0 4.2 0a2.1 2.1 0 1 0 -4.2 0M229.2 15.6a2.1 2.1 0 1 0 4.2 0a2.1 2.1 0 1 0 -4.2 0M40.4 192.0a1.1 1.1 0 1 0 2.2 0a1.1 1.1 0 1 0 -2.2 0M260.5 276.0a2.6 2.6 0 1 0 5.2 0a2.6 2.6 0 1 0 -5.2 0M122.8 106.7a2.1 2.1 0 1 0 4.2 0a2.1 2.1 0 1 0 -4.2 0M164.6 163.0a1.8 1.8 0 1 0 3.6 0a1.8 1.8 0 1 0 -3.6 0M103.7 327.3a1.1 1.1 0 1 0 2.2 0a1.1 1.1 0 1 0 -2.2 0M171.3 36.7a2.6 2.6 0 1 0 5.2 0a2.6 2.6 0 1 0 -5.2 0M302.0 357.8a1.1 1.1 0 1 0 2.1 0a1.1 1.1 0 1 0 -2.1 0M172.6 80.8a2.5 2.5 0 1 0 5.0 0a2.5 2.5 0 1 0 -5.0 0M339.1 151.8a1.6 1.6 0 1 0 3.2 0a1.6 1.6 0 1 0 -3.2 0M259.0 3.2a1.0 1.0 0 1 0 2.1 0a1.0 1.0 0 1 0 -2.1 0M357.7 87.2a1.4 1.4 0 1 0 2.8 0a1.4 1.4 0 1 0 -2.8 0M109.8 116.5a2.1 2.1 0 1 0 4.2 0a2.1 2.1 0 1 0 -4.2 0M238.7 221.9a2.2 2.2 0 1 0 4.4 0a2.2 2.2 0 1 0 -4.4 0M81.6 179.9a1.6 1.6 0 1 0 3.1 0a1.6 1.6 0 1 0 -3.1 0M244.9 94.0a1.3 1.3 0 1 0 2.6 0a1.3 1.3 0 1 0 -2.6 0M68.0 91.7a2.4 2.4 0 1 0 4.9 0a2.4 2.4 0 1 0 -4.9 0M14.8 198.9a1.9 1.9 0 1 0 3.8 0a1.9 1.9 0 1 0 -3.8 0M53.0 241.2a1.3 1.3 0 1 0 2.6 0a1.3 1.3 0 1 0 -2.6 0M6.3 39.3a1.3 1.3 0 1 0 2.6 0a1.3 1.3 0 1 0 -2.6 0M29.8 -5.7a2.7 2.7 0 1 0 5.4 0a2.7 2.7 0 1 0 -5.4 0M218.2 102.5a2.0 2.0 0 1 0 4.1 0a2.0 2.0 0 1 0 -4.1 0M278.1 222.4a1.6 1.6 0 1 0 3.3 0a1.6 1.6 0 1 0 -3.3 0M44.2 245.8a1.6 1.6 0 1 0 3.2 0a1.6 1.6 0 1 0 -3.2 0M204.8 16.6a2.0 2.0 0 1 0 4.1 0a2.0 2.0 0 1 0 -4.1 0M194.0 159.3a1.6 1.6 0 1 0 3.2 0a1.6 1.6 0 1 0 -3.2 0M17.3 275.9a1.8 1.8 0 1 0 3.5 0a1.8 1.8 0 1 0 -3.5 0M124.4 296.5a2.4 2.4 0 1 0 4.7 0a2.4 2.4 0 1 0 -4.7 0M152.9 262.3a1.5 1.5 0 1 0 3.1 0a1.5 1.5 0 1 0 -3.1 0M398.0 65.0a2.0 2.0 0 1 0 4.0 0a2.0 2.0 0 1 0 -4.0 0M255.1 216.6a1.8 1.8 0 1 0 3.7 0a1.8 1.8 0 1 0 -3.7 0M70.2 42.4a2.3 2.3 0 1 0 4.7 0a2.3 2.3 0 1 0 -4.7 0M174.4 100.4a2.1 2.1 0 1 0 4.1 0a2.1 2.1 0 1 0 -4.1 0M43.0 331.7a1.9 1.9 0 1 0 3.9 0a1.9 1.9 0 1 0 -3.9 0M261.3 145.7a2.5 2.5 0 1 0 5.1 0a2.5 2.5 0 1 0 -5.1 0M383.5 18.9a1.6 1.6 0 1 0 3.2 0a1.6 1.6 0 1 0 -3.2 0M39.2 4.3a1.0 1.0 0 1 0 2.1 0a1.0 1.0 0 1 0 -2.1 0M295.6 275.4a1.9 1.9 0 1 0 3.8 0a1.9 1.9 0 1 0 -3.8 0M212.5 6.0a1.6 1.6 0 1 0 3.1 0a1.6 1.6 0 1 0 -3.1 0M207.2 212.7a1.5 1.5 0 1 0 3.1 0a1.5 1.5 0 1 0 -3.1 0M31.4 41.7a2.5 2.5 0 1 0 5.0 0a2.5 2.5 0 1 0 -5.0 0M335.4 230.3a2.2 2.2 0 1 0 4.5 0a2.2 2.2 0 1 0 -4.5 0M76.3 181.7a1.9 1.9 0 1 0 3.9 0a1.9 1.9 0 1 0 -3.9 0M355.5 303.6a1.2 1.2 0 1 0 2.4 0a1.2 1.2 0 1 0 -2.4 0M378.7 98.4a1.2 1.2 0 1 0 2.3 0a1.2 1.2 0 1 0 -2.3 0M198.6 179.7a2.2 2.2 0 1 0 4.4 0a2.2 2.2 0 1 0 -4.4 0M75.4 116.2a1.8 1.8 0 1 0 3.7 0a1.8 1.8 0 1 0 -3.7 0M249.4 268.7a1.9 1.9 0 1 0 3.8 0a1.9 1.9 0 1 0 -3.8 0M84.5 75.6a1.5 1.5 0 1 0 3.0 0a1.5 1.5 0 1 0 -3.0 0M165.7 394.5a1.5 1.5 0 1 0 3.0 0a1.5 1.5 0 1 0 -3.0 0M222.5 59.1a2.4 2.4 0 1 0 4.9 0a2.4 2.4 0 1 0 -4.9 0M331.8 80.9a1.3 1.3 0 1 0 2.6 0a1.3 1.3 0 1 0 -2.6 0M99.0 264.0a1.2 1.2 0 1 0 2.4 0a1.2 1.2 0 1 0 -2.4 0M366.5 188.6a2.5 2.5 0 1 0 5.0 0a2.5 2.5 0 1 0 -5.0 0M406.1 157.0a2.5 2.5 0 1 0 5.0 0a2.5 2.5 0 1 0 -5.0 0M276.0 226.5a1.4 1.4 0 1 0 2.8 0a1.4 1.4 0 1 0 -2.8 0M231.6 123.3a2.6 2.6 0 1 0 5.2 0a2.6 2.6 0 1 0 -5.2 0M391.9 243.9a1.9 1.9 0 1 0 3.9 0a1.9 1.9 0 1 0 -3.9 0M72.2 255.6a2.3 2.3 0 1 0 4.5 0a2.3 2.3 0 1 0 -4.5 0M342.4 322.4a2.3 2.3 0 1 0 4.7 0a2.3 2.3 0 1 0 -4.7 0M291.1 219.6a1.6 1.6 0 1 0 3.3 0a1.6 1.6 0 1 0 -3.3 0M170.9 242.5a1.6 1.6 0 1 0 3.2 0a1.6 1.6 0 1 0 -3.2 0M246.0 172.5a1.5 1.5 0 1 0 3.0 0a1.5 1.5 0 1 0 -3.0 0M265.5 218.5a1.1 1.1 0 1 0 2.3 0a1.1 1.1 0 1 0 -2.3 0M322.5 109.5a2.5 2.5 0 1 0 5.0 0a2.5 2.5 0 1 0 -5.0 0M266.9 239.3a1.6 1.6 0 1 0 3.3 0a1.6 1.6 0 1 0 -3.3 0M94.2 119.3a1.3 1.3 0 1 0 2.5 0a1.3 1.3 0 1 0 -2.5 0M195.3 326.3a2.2 2.2 0 1 0 4.5 0a2.2 2.2 0 1 0 -4.5 0M129.6 128.0a2.3 2.3 0 1 0 4.5 0a2.3 2.3 0 1 0 -4.5 0M210.1 114.1a1.0 1.0 0 1 0 2.0 0a1.0 1.0 0 1 0 -2.0 0M117.1 411.9a2.4 2.4 0 1 0 4.7 0a2.4 2.4 0 1 0 -4.7 0M186.5 306.2a1.5 1.5 0 1 0 3.0 0a1.5 1.5 0 1 0 -3.0 0M257.7 23.5a2.2 2.2 0 1 0 4.5 0a2.2 2.2 0 1 0 -4.5 0M141.0 175.4a2.1 2.1 0 1 0 4.2 0a2.1 2.1 0 1 0 -4.2 0M294.3 251.0a1.2 1.2 0 1 0 2.4 0a1.2 1.2 0 1 0 -2.4 0M225.3 388.3a1.8 1.8 0 1 0 3.6 0a1.8 1.8 0 1 0 -3.6 0M73.0 184.8a1.9 1.9 0 1 0 3.7 0a1.9 1.9 0 1 0 -3.7 0M240.4 52.4a2.6 2.6 0 1 0 5.3 0a2.6 2.6 0 1 0 -5.3 0M255.8 233.4a1.3 1.3 0 1 0 2.7 0a1.3 1.3 0 1 0 -2.7 0M-7.2 153.2a1.5 1.5 0 1 0 3.1 0a1.5 1.5 0 1 0 -3.1 0M112.5 5.0a2.4 2.4 0 1 0 4.7 0a2.4 2.4 0 1 0 -4.7 0M367.5 60.4a2.5 2.5 0 1 0 5.0 0a2.5 2.5 0 1 0 -5.0 0M42.3 208.0a1.6 1.6 0 1 0 3.2 0a1.6 1.6 0 1 0 -3.2 0M299.3 136.2a2.6 2.6 0 1 0 5.2 0a2.6 2.6 0 1 0 -5.2 0M39.4 253.1a1.9 1.9 0 1 0 3.8 0a1.9 1.9 0 1 0 -3.8 0M309.3 203.5a2.3 2.3 0 1 0 4.7 0a2.3 2.3 0 1 0 -4.7 0M310.5 57.0a1.0 1.0 0 1 0 2.0 0a1.0 1.0 0 1 0 -2.0 0M68.5 123.8a2.4 2.4 0 1 0 4.8 0a2.4 2.4 0 1 0 -4.8 0M-2.5 3.4a1.7 1.7 0 1 0 3.5 0a1.7 1.7 0 1 0 -3.5 0M409.5 335.6a2.7 2.7 0 1 0 5.3 0a2.7 2.7 0 1 0 -5.3 0M137.2 126.9a1.7 1.7 0 1 0 3.4 0a1.7 1.7 0 1 0 -3.4 0M300.4 30.1a1.8 1.8 0 1 0 3.7 0a1.8 1.8 0 1 0 -3.7 0M374.0 52.0a2.5 2.5 0 1 0 5.0 0a2.5 2.5 0 1 0 -5.0 0M247.9 200.1a1.7 1.7 0 1 0 3.4 0a1.7 1.7 0 1 0 -3.4 0M288.6 184.0a2.4 2.4 0 1 0 4.7 0a2.4 2.4 0 1 0 -4.7 0M134.4 298.8a2.1 2.1 0 1 0 4.1 0a2.1 2.1 0 1 0 -4.1 0M86.8 61.5a2.3 2.3 0 1 0 4.5 0a2.3 2.3 0 1 0 -4.5 0M303.1 78.8a1.0 1.0 0 1 0 2.1 0a1.0 1.0 0 1 0 -2.1 0M338.9 183.9a2.2 2.2 0 1 0 4.5 0a2.2 2.2 0 1 0 -4.5 0M344.8 125.5a2.6 2.6 0 1 0 5.2 0a2.6 2.6 0 1 0 -5.2 0M284.9 169.8a2.6 2.6 0 1 0 5.2 0a2.6 2.6 0 1 0 -5.2 0M176.7 27.4a1.2 1.2 0 1 0 2.3 0a1.2 1.2 0 1 0 -2.3 0M124.5 119.7a2.1 2.1 0 1 0 4.2 0a2.1 2.1 0 1 0 -4.2 0M371.5 82.6a2.6 2.6 0 1 0 5.2 0a2.6 2.6 0 1 0 -5.2 0M379.4 37.1a2.0 2.0 0 1 0 4.1 0a2.0 2.0 0 1 0 -4.1 0M0.1 1.3a1.7 1.7 0 1 0 3.3 0a1.7 1.7 0 1 0 -3.3 0M73.3 151.6a1.5 1.5 0 1 0 2.9 0a1.5 1.5 0 1 0 -2.9 0M319.7 28.5a2.0 2.0 0 1 0 4.1 0a2.0 2.0 0 1 0 -4.1 0M300.8 182.5a2.6 2.6 0 1 0 5.2 0a2.6 2.6 0 1 0 -5.2 0M62.4 270.1a2.7 2.7 0 1 0 5.3 0a2.7 2.7 0 1 0 -5.3 0M355.8 20.1a2.2 2.2 0 1 0 4.4 0a2.2 2.2 0 1 0 -4.4 0M-3.1 36.9a2.3 2.3 0 1 0 4.5 0a2.3 2.3 0 1 0 -4.5 0M296.2 277.5a1.5 1.5 0 1 0 3.0 0a1.5 1.5 0 1 0 -3.0 0M408.4 272.6a2.0 2.0 0 1 0 4.1 0a2.0 2.0 0 1 0 -4.1 0M314.2 205.9a1.5 1.5 0 1 0 3.0 0a1.5 1.5 0 1 0 -3.0 0M56.1 396.3a1.7 1.7 0 1 0 3.5 0a1.7 1.7 0 1 0 -3.5 0M123.9 106.1a1.5 1.5 0 1 0 3.0 0a1.5 1.5 0 1 0 -3.0 0M280.1 102.7a1.6 1.6 0 1 0 3.2 0a1.6 1.6 0 1 0 -3.2 0M346.2 99.7a2.0 2.0 0 1 0 3.9 0a2.0 2.0 0 1 0 -3.9 0M99.9 150.9a2.2 2.2 0 1 0 4.5 0a2.2 2.2 0 1 0 -4.5 0M-5.1 158.3a2.5 2.5 0 1 0 5.1 0a2.5 2.5 0 1 0 -5.1 0M225.0 40.7a2.2 2.2 0 1 0 4.5 0a2.2 2.2 0 1 0 -4.5 0M65.7 221.9a1.2 1.2 0 1 0 2.4 0a1.2 1.2 0 1 0 -2.4 0M151.2 26.4a1.4 1.4 0 1 0 2.7 0a1.4 1.4 0 1 0 -2.7 0M374.2 59.6a2.4 2.4 0 1 0 4.9 0a2.4 2.4 0 1 0 -4.9 0M39.8 101.7a2.3 2.3 0 1 0 4.6 0a2.3 2.3 0 1 0 -4.6 0M145.4 81.8a1.4 1.4 0 1 0 2.7 0a1.4 1.4 0 1 0 -2.7 0M381.1 75.5a1.8 1.8 0 1 0 3.6 0a1.8 1.8 0 1 0 -3.6 0M244.7 170.3a2.2 2.2 0 1 0 4.4 0a2.2 2.2 0 1 0 -4.4 0M378.1 333.2a1.7 1.7 0 1 0 3.4 0a1.7 1.7 0 1 0 -3.4 0M77.9 278.9a2.6 2.6 0 1 0 5.1 0a2.6 2.6 0 1 0 -5.1 0M406.5 96.8a1.9 1.9 0 1 0 3.7 0a1.9 1.9 0 1 0 -3.7 0M290.7 143.3a2.7 2.7 0 1 0 5.4 0a2.7 2.7 0 1 0 -5.4 0M51.7 38.7a1.1 1.1 0 1 0 2.3 0a1.1 1.1 0 1 0 -2.3 0M299.1 347.2a1.7 1.7 0 1 0 3.5 0a1.7 1.7 0 1 0 -3.5 0M345.5 213.7a2.3 2.3 0 1 0 4.5 0a2.3 2.3 0 1 0 -4.5 0M173.8 182.2a2.7 2.7 0 1 0 5.3 0a2.7 2.7 0 1 0 -5.3 0M49.3 20.7a1.2 1.2 0 1 0 2.4 0a1.2 1.2 0 1 0 -2.4 0M269.7 271.7a1.9 1.9 0 1 0 3.8 0a1.9 1.9 0 1 0 -3.8 0M13.2 18.6a2.1 2.1 0 1 0 4.2 0a2.1 2.1 0 1 0 -4.2 0M385.1 91.1a1.7 1.7 0 1 0 3.4 0a1.7 1.7 0 1 0 -3.4 0M4.8 279.5a1.8 1.8 0 1 0 3.5 0a1.8 1.8 0 1 0 -3.5 0M194.0 103.4a2.0 2.0 0 1 0 4.0 0a2.0 2.0 0 1 0 -4.0 0M208.5 177.3a2.7 2.7 0 1 0 5.4 0a2.7 2.7 0 1 0 -5.4 0M104.1 106.4a2.4 2.4 0 1 0 4.7 0a2.4 2.4 0 1 0 -4.7 0M51.9 84.9a2.5 2.5 0 1 0 5.1 0a2.5 2.5 0 1 0 -5.1 0M281.8 226.1a2.4 2.4 0 1 0 4.8 0a2.4 2.4 0 1 0 -4.8 0M41.6 159.5a1.0 1.0 0 1 0 2.1 0a1.0 1.0 0 1 0 -2.1 0M333.3 346.5a2.5 2.5 0 1 0 5.0 0a2.5 2.5 0 1 0 -5.0 0M188.8 63.3a2.2 2.2 0 1 0 4.5 0a2.2 2.2 0 1 0 -4.5 0M403.6 37.9a1.3 1.3 0 1 0 2.7 0a1.3 1.3 0 1 0 -2.7 0M280.9 230.2a1.8 1.8 0 1 0 3.7 0a1.8 1.8 0 1 0 -3.7 0M308.6 160.5a1.5 1.5 0 1 0 3.1 0a1.5 1.5 0 1 0 -3.1 0M68.8 297.2a2.3 2.3 0 1 0 4.6 0a2.3 2.3 0 1 0 -4.6 0M191.5 86.0a1.7 1.7 0 1 0 3.4 0a1.7 1.7 0 1 0 -3.4 0M206.4 52.2a2.5 2.5 0 1 0 5.0 0a2.5 2.5 0 1 0 -5.0 0M75.9 308.8a1.1 1.1 0 1 0 2.2 0a1.1 1.1 0 1 0 -2.2 0M343.4 3.0a1.8 1.8 0 1 0 3.7 0a1.8 1.8 0 1 0 -3.7 0M100.7 169.4a1.8 1.8 0 1 0 3.6 0a1.8 1.8 0 1 0 -3.6 0M372.3 106.4a1.6 1.6 0 1 0 3.1 0a1.6 1.6 0 1 0 -3.1 0M164.0 114.8a2.3 2.3 0 1 0 4.7 0a2.3 2.3 0 1 0 -4.7 0M366.8 177.1a1.1 1.1 0 1 0 2.3 0a1.1 1.1 0 1 0 -2.3 0M267.5 224.1a1.8 1.8 0 1 0 3.6 0a1.8 1.8 0 1 0 -3.6 0M407.4 407.6a1.2 1.2 0 1 0 2.5 0a1.2 1.2 0 1 0 -2.5 0M70.4 208.2a2.2 2.2 0 1 0 4.4 0a2.2 2.2 0 1 0 -4.4 0M118.1 199.9a1.5 1.5 0 1 0 3.0 0a1.5 1.5 0 1 0 -3.0 0M128.3 148.9a1.9 1.9 0 1 0 3.9 0a1.9 1.9 0 1 0 -3.9 0M252.3 144.4a1.5 1.5 0 1 0 2.9 0a1.5 1.5 0 1 0 -2.9 0M69.8 255.2a1.5 1.5 0 1 0 3.1 0a1.5 1.5 0 1 0 -3.1 0M19.5 116.8a2.3 2.3 0 1 0 4.5 0a2.3 2.3 0 1 0 -4.5 0M221.1 130.8a2.0 2.0 0 1 0 4.0 0a2.0 2.0 0 1 0 -4.0 0M397.8 221.3a1.6 1.6 0 1 0 3.2 0a1.6 1.6 0 1 0 -3.2 0M29.4 266.6a2.0 2.0 0 1 0 3.9 0a2.0 2.0 0 1 0 -3.9 0M391.7 219.5a2.1 2.1 0 1 0 4.1 0a2.1 2.1 0 1 0 -4.1 0M48.9 -4.6a2.0 2.0 0 1 0 4.1 0a2.0 2.0 0 1 0 -4.1 0"/>
<path fill="#050505" d="M240.3 158.6a2.3 2.3 0 1 0 4.5 0a2.3 2.3 0 1 0 -4.5 0M253.2 341.8a1.1 1.1 0 1 0 2.1 0a1.1 1.1 0 1 0 -2.1 0M65.4 227.2a1.3 1.3 0 1 0 2.6 0a1.3 1.3 0 1 0 -2.6 0M114.7 22.8a2.0 2.0 0 1 0 4.0 0a2.0 2.0 0 1 0 -4.0 0M373.0 335.9a1.3 1.3 0 1 0 2.6 0a1.3 1.3 0 1 0 -2.6 0M-2.2 105.2a1.1 1.1 0 1 0 2.2 0a1.1 1.1 0 1 0 -2.2 0M29.2 50.1a1.6 1.6 0 1 0 3.1 0a1.6 1.6 0 1 0 -3.1 0M180.1 146.6a2.6 2.6 0 1 0 5.2 0a2.6 2.6 0 1 0 -5.2 0M97.5 -3.3a2.2 2.2 0 1 0 4.3 0a2.2 2.2 0 1 0 -4.3 0M328.9 309.4a1.4 1.4 0 1 0 2.7 0a1.4 1.4 0 1 0 -2.7 0M409.4 58.9a2.2 2.2 0 1 0 4.4 0a2.2 2.2 0 1 0 -4.4 0M26.6 85.1a1.5 1.5 0 1 0 3.0 0a1.5 1.5 0 1 0 -3.0 0M45.1 319.7a1.3 1.3 0 1 0 2.7 0a1.3 1.3 0 1 0 -2.7 0M249.2 218.3a1.9 1.9 0 1 0 3.8 0a1.9 1.9 0 1 0 -3.8 0M350.2 89.8a2.4 2.4 0 1 0 4.8 0a2.4 2.4 0 1 0 -4.8 0M38.6 204.6a1.9 1.9 0 1 0 3.7 0a1.9 1.9 0 1 0 -3.7 0M170.8 244.7a2.2 2.2 0 1 0 4.4 0a2.2 2.2 0 1 0 -4.4 0M66.5 182.9a1.7 1.7 0 1 0 3.4 0a1.7 1.7 0 1 0 -3.4 0M326.3 86.0a1.4 1.4 0 1 0 2.9 0a1.4 1.4 0 1 0 -2.9 0M243.3 261.0a1.6 1.6 0 1 0 3.2 0a1.6 1.6 0 1 0 -3.2 0M320.6 254.8a1.5 1.5 0 1 0 2.9 0a1.5 1.5 0 1 0 -2.9 0M257.0 308.8a1.4 1.4 0 1 0 2.8 0a1.4 1.4 0 1 0 -2.8 0M283.0 200.0a1.6 1.6 0 1 0 3.1 0a1.6 1.6 0 1 0 -3.1 0M360.9 110.3a1.9 1.9 0 1 0 3.8 0a1.9 1.9 0 1 0 -3.8 0M311.2 157.8a2.6 2.6 0 1 0 5.3 0a2.6 2.6 0 1 0 -5.3 0M189.1 299.3a1.3 1.3 0 1 0 2.5 0a1.3 1.3 0 1 0 -2.5 0M240.8 86.1a1.5 1.5 0 1 0 3.0 0a1.5 1.5 0 1 0 -3.0 0M90.3 -3.5a1.6 1.6 0 1 0 3.3 0a1.6 1.6 0 1 0 -3.3 0M207.8 14.2a1.3 1.3 0 1 0 2.6 0a1.3 1.3 0 1 0 -2.6 0M342.9 241.3a1.4 1.4 0 1 0 2.8 0a1.4 1.4 0 1 0 -2.8 0M370.2 222.5a1.9 1.9 0 1 0 3.7 0a1.9 1.9 0 1 0 -3.7 0M221.2 24.0a1.3 1.3 0 1 0 2.6 0a1.3 1.3 0 1 0 -2.6 0M40.5 162.6a1.2 1.2 0 1 0 2.4 0a1.2 1.2 0 1 0 -2.4 0M230.0 131.6a1.1 1.1 0 1 0 2.1 0a1.1 1.1 0 1 0 -2.1 0M23.0 85.8a2.2 2.2 0 1 0 4.4 0a2.2 2.2 0 1 0 -4.4 0M237.7 88.2a2.6 2.6 0 1 0 5.2 0a2.6 2.6 0 1 0 -5.2 0M65.1 300.8a2.3 2.3 0 1 0 4.7 0a2.3 2.3 0 1 0 -4.7 0M125.5 195.3a1.5 1.5 0 1 0 3.0 0a1.5 1.5 0 1 0 -3.0 0M351.3 4.9a1.3 1.3 0 1 0 2.6 0a1.3 1.3 0 1 0 -2.6 0M96.7 224.1a1.8 1.8 0 1 0 3.6 0a1.8 1.8 0 1 0 -3.6 0M299.9 230.6a2.5 2.5 0 1 0 5.0 0a2.5 2.5 0 1 0 -5.0 0M136.9 69.2a1.3 1.3 0 1 0 2.6 0a1.3 1.3 0 1 0 -2.6 0M281.9 144.5a1.0 1.0 0 1 0 2.1 0a1.0 1.0 0 1 0 -2.1 0M302.0 207.4a2.1 2.1 0 1 0 4.2 0a2.1 2.1 0 1 0 -4.2 0M109.1 287.8a2.6 2.6 0 1 0 5.1 0a2.6 2.6 0 1 0 -5.1 0M91.1 31.1a1.7 1.7 0 1 0 3.4 0a1.7 1.7 0 1 0 -3.4 0M52.8 72.9a2.2 2.2 0 1 0 4.3 0a2.2 2.2 0 1 0 -4.3 0M100.7 35.6a2.4 2.4 0 1 0 4.7 0a2.4 2.4 0 1 0 -4.7 0M282.3 280.7a2.4 2.4 0 1 0 4.8 0a2.4 2.4 0 1 0 -4.8 0M90.4 96.8a1.3 1.3 0 1 0 2.6 0a1.3 1.3 0 1 0 -2.6 0M96.2 258.9a2.2 2.2 0 1 0 4.3 0a2.2 2.2 0 1 0 -4.3 0M87.2 69.6a2.0 2.0 0 1 0 4.0 0a2.0 2.0 0 1 0 -4.0 0M272.8 -6.4a1.2 1.2 0 1 0 2.5 0a1.2 1.2 0 1 0 -2.5 0M201.6 161.6a1.9 1.9 0 1 0 3.8 0a1.9 1.9 0 1 0 -3.8 0M52.2 258.9a2.1 2.1 0 1 0 4.2 0a2.1 2.1 0 1 0 -4.2 0M70.1 189.2a1.1 1.1 0 1 0 2.2 0a1.1 1.1 0 1 0 -2.2 0M307.5 369.4a1.3 1.3 0 1 0 2.6 0a1.3 1.3 0 1 0 -2.6 0M249.0 371.3a2.7 2.7 0 1 0 5.4 0a2.7 2.7 0 1 0 -5.4 0M138.6 95.4a1.8 1.8 0 1 0 3.6 0a1.8 1.8 0 1 0 -3.6 0M330.8 203.8a2.0 2.0 0 1 0 3.9 0a2.0 2.0 0 1 0 -3.9 0M367.0 77.6a2.0 2.0 0 1 0 3.9 0a2.0 2.0 0 1 0 -3.9 0M376.1 23.4a1.7 1.7 0 1 0 3.5 0a1.7 1.7 0 1 0 -3.5 0M278.0 182.4a1.8 1.8 0 1 0 3.6 0a1.8 1.8 0 1 0 -3.6 0M74.6 217.0a1.2 1.2 0 1 0 2.4 0a1.2 1.2 0 1 0 -2.4 0M394.9 74.1a1.6 1.6 0 1 0 3.2 0a1.6 1.6 0 1 0 -3.2 0M16.7 272.2a1.1 1.1 0 1 0 2.1 0a1.1 1.1 0 1 0 -2.1 0M320.4 211.2a1.9 1.9 0 1 0 3.8 0a1.9 1.9 0 1 0 -3.8 0M380.2 362.0a1.2 1.2 0 1 0 2.5 0a1.2 1.2 0 1 0 -2.5 0M82.4 106.5a1.9 1.9 0 1 0 3.8 0a1.9 1.9 0 1 0 -3.8 0M393.7 383.8a2.6 2.6 0 1 0 5.2 0a2.6 2.6 0 1 0 -5.2 0M328.8 126.3a1.4 1.4 0 1 0 2.8 0a1.4 1.4 0 1 0 -2.8 0M24.7 85.7a1.5 1.5 0 1 0 3.1 0a1.5 1.5 0 1 0 -3.1 0M311.7 160.4a1.3 1.3 0 1 0 2.6 0a1.3 1.3 0 1 0 -2.6 0M248.1 18.5a1.6 1.6 0 1 0 3.2 0a1.6 1.6 0 1 0 -3.2 0M216.7 185.6a2.6 2.6 0 1 0 5.1 0a2.6 2.6 0 1 0 -5.1 0M61.9 296.2a2.0 2.0 0 1 0 4.0 0a2.0 2.0 0 1 0 -4.0 0M152.5 140.6a1.3 1.3 0 1 0 2.5 0a1.3 1.3 0 1 0 -2.5 0M237.6 168.5a1.1 1.1 0 1 0 2.3 0a1.1 1.1 0 1 0 -2.3 0M221.6 -7.2a2.0 2.0 0 1 0 4.1 0a2.0 2.0 0 1 0 -4.1 0M353.4 163.9a2.0 2.0 0 1 0 3.9 0a2.0 2.0 0 1 0 -3.9 0M216.7 159.3a2.3 2.3 0 1 0 4.7 0a2.3 2.3 0 1 0 -4.7 0M322.1 110.3a1.6 1.6 0 1 0 3.2 0a1.6 1.6 0 1 0 -3.2 0M363.2 65.8a2.0 2.0 0 1 0 4.0 0a2.0 2.0 0 1 0 -4.0 0M62.6 60.3a2.2 2.2 0 1 0 4.3 0a2.2 2.2 0 1 0 -4.3 0M334.0 144.3a1.8 1.8 0 1 0 3.5 0a1.8 1.8 0 1 0 -3.5 0M407.8 23.7a1.0 1.0 0 1 0 2.0 0a1.0 1.0 0 1 0 -2.0 0M400.7 69.3a2.4 2.4 0 1 0 4.7 0a2.4 2.4 0 1 0 -4.7 0M308.8 16.0a2.4 2.4 0 1 0 4.7 0a2.4 2.4 0 1 0 -4.7 0M290.3 69.8a2.6 2.6 0 1 0 5.3 0a2.6 2.6 0 1 0 -5.3 0M200.9 314.1a1.4 1.4 0 1 0 2.8 0a1.4 1.4 0 1 0 -2.8 0M193.2 9.9a2.6 2.6 0 1 0 5.3 0a2.6 2.6 0 1 0 -5.3 0M69.6 188.7a2.1 2.1 0 1 0 4.1 0a2.1 2.1 0 1 0 -4.1 0M309.9 295.8a2.4 2.4 0 1 0 4.8 0a2.4 2.4 0 1 0 -4.8 0M91.4 264.2a2.2 2.2 0 1 0 4.4 0a2.2 2.2 0 1 0 -4.4 0M113.0 307.5a2.2 2.2 0 1 0 4.4 0a2.2 2.2 0 1 0 -4.4 0M394.2 52.4a2.0 2.0 0 1 0 3.9 0a2.0 2.0 0 1 0 -3.9 0M353.1 4.6a1.9 1.9 0 1 0 3.7 0a1.9 1.9 0 1 0 -3.7 0M147.1 265.2a1.7 1.7 0 1 0 3.4 0a1.7 1.7 0 1 0 -3.4 0M187.7 -3.6a1.4 1.4 0 1 0 2.9 0a1.4 1.4 0 1 0 -2.9 0M9.3 160.0a2.2 2.2 0 1 0 4.3 0a2.2 2.2 0 1 0 -4.3 0M177.5 231.2a1.4 1.4 0 1 0 2.8 0a1.4 1.4 0 1 0 -2.8 0M176.5 116.1a2.5 2.5 0 1 0 5.0 0a2.5 2.5 0 1 0 -5.0 0M297.4 -6.7a1.2 1.2 0 1 0 2.5 0a1.2 1.2 0 1 0 -2.5 0M393.3 168.3a1.8 1.8 0 1 0 3.6 0a1.8 1.8 0 1 0 -3.6 0M309.4 133.6a2.2 2.2 0 1 0 4.4 0a2.2 2.2 0 1 0 -4.4 0M199.2 263.0a1.6 1.6 0 1 0 3.3 0a1.6 1.6 0 1 0 -3.3 0M382.7 331.0a1.8 1.8 0 1 0 3.6 0a1.8 1.8 0 1 0 -3.6 0M29.6 363.8a1.5 1.5 0 1 0 2.9 0a1.5 1.5 0 1 0 -2.9 0M64.3 310.0a2.6 2.6 0 1 0 5.2 0a2.6 2.6 0 1 0 -5.2 0M373.4 191.2a1.6 1.6 0 1 0 3.2 0a1.6 1.6 0 1 0 -3.2 0M272.3 86.3a1.1 1.1 0 1 0 2.3 0a1.1 1.1 0 1 0 -2.3 0M131.8 69.5a1.8 1.8 0 1 0 3.5 0a1.8 1.8 0 1 0 -3.5 0M28.7 253.8a2.3 2.3 0 1 0 4.6 0a2.3 2.3 0 1 0 -4.6 0M233.6 152.4a2.4 2.4 0 1 0 4.7 0a2.4 2.4 0 1 0 -4.7 0M301.6 49.2a2.6 2.6 0 1 0 5.2 0a2.6 2.6 0 1 0 -5.2 0M341.2 49.6a2.4 2.4 0 1 0 4.8 0a2.4 2.4 0 1 0 -4.8 0M406.7 185.3a2.0 2.0 0 1 0 4.1 0a2.0 2.0 0 1 0 -4.1 0M283.1 142.4a2.5 2.5 0 1 0 5.0 0a2.5 2.5 0 1 0 -5.0 0M56.3 230.5a2.0 2.0 0 1 0 4.1 0a2.0 2.0 0 1 0 -4.1 0M83.7 295.6a2.4 2.4 0 1 0 4.8 0a2.4 2.4 0 1 0 -4.8 0M293.1 287.1a2.3 2.3 0 1 0 4.6 0a2.3 2.3 0 1 0 -4.6 0M392.8 116.4a1.4 1.4 0 1 0 2.8 0a1.4 1.4 0 1 0 -2.8 0M246.2 359.7a2.2 2.2 0 1 0 4.4 0a2.2 2.2 0 1 0 -4.4 0M379.0 219.5a1.6 1.6 0 1 0 3.3 0a1.6 1.6 0 1 0 -3.3 0M354.7 356.6a2.6 2.6 0 1 0 5.2 0a2.6 2.6 0 1 0 -5.2 0M403.4 91.3a1.8 1.8 0 1 0 3.5 0a1.8 1.8 0 1 0 -3.5 0M362.9 70.6a2.2 2.2 0 1 0 4.5 0a2.2 2.2 0 1 0 -4.5 0M104.1 251.4a2.2 2.2 0 1 0 4.3 0a2.2 2.2 0 1 0 -4.3 0M324.8 390.3a2.1 2.1 0 1 0 4.1 0a2.1 2.1 0 1 0 -4.1 0M-0.9 138.0a2.3 2.3 0 1 0 4.5 0a2.3 2.3 0 1 0 -4.5 0M55.2 -1.6a1.4 1.4 0 1 0 2.8 0a1.4 1.4 0 1 0 -2.8 0M235.7 96.1a1.3 1.3 0 1 0 2.6 0a1.3 1.3 0 1 0 -2.6 0M235.0 128.1a2.0 2.0 0 1 0 3.9 0a2.0 2.0 0 1 0 -3.9 0M338.4 -5.0a1.3 1.3 0 1 0 2.6 0a1.3 1.3 0 1 0 -2.6 0M247.6 116.3a2.2 2.2 0 1 0 4.3 0a2.2 2.2 0 1 0 -4.3 0M252.4 153.7a1.0 1.0 0 1 0 2.1 0a1.0 1.0 0 1 0 -2.1 0M60.7 207.0a1.3 1.3 0 1 0 2.6 0a1.3 1.3 0 1 0 -2.6 0M334.4 -6.6a1.7 1.7 0 1 0 3.4 0a1.7 1.7 0 1 0 -3.4 0M127.7 279.8a1.8 1.8 0 1 0 3.6 0a1.8 1.8 0 1 0 -3.6 0M324.8 239.7a1.8 1.8 0 1 0 3.6 0a1.8 1.8 0 1 0 -3.6 0M312.5 90.4a2.4 2.4 0 1 0 4.7 0a2.4 2.4 0 1 0 -4.7 0M261.8 164.8a1.9 1.9 0 1 0 3.8 0a1.9 1.9 0 1 0 -3.8 0M387.3 138.0a1.9 1.9 0 1 0 3.8 0a1.9 1.9 0 1 0 -3.8 0M46.9 243.6a2.0 2.0 0 1 0 4.0 0a2.0 2.0 0 1 0 -4.0 0M110.8 40.0a1.9 1.9 0 1 0 3.8 0a1.9 1.9 0 1 0 -3.8 0M154.1 339.8a1.7 1.7 0 1 0 3.5 0a1.7 1.7 0 1 0 -3.5 0M219.3 300.2a1.8 1.8 0 1 0 3.6 0a1.8 1.8 0 1 0 -3.6 0M0.7 189.1a1.9 1.9 0 1 0 3.9 0a1.9 1.9 0 1 0 -3.9 0M249.3 198.2a1.7 1.7 0 1 0 3.4 0a1.7 1.7 0 1 0 -3.4 0M14.6 69.1a1.1 1.1 0 1 0 2.1 0a1.1 1.1 0 1 0 -2.1 0M254.7 152.5a2.2 2.2 0 1 0 4.3 0a2.2 2.2 0 1 0 -4.3 0M98.8 315.4a1.7 1.7 0 1 0 3.3 0a1.7 1.7 0 1 0 -3.3 0M301.4 149.8a1.7 1.7 0 1 0 3.5 0a1.7 1.7 0 1 0 -3.5 0M374.7 113.5a2.6 2.6 0 1 0 5.2 0a2.6 2.6 0 1 0 -5.2 0M196.9 176.5a1.2 1.2 0 1 0 2.4 0a1.2 1.2 0 1 0 -2.4 0M405.6 325.3a1.5 1.5 0 1 0 2.9 0a1.5 1.5 0 1 0 -2.9 0M276.1 25.1a1.1 1.1 0 1 0 2.3 0a1.1 1.1 0 1 0 -2.3 0M240.8 237.9a1.6 1.6 0 1 0 3.2 0a1.6 1.6 0 1 0 -3.2 0M162.1 22.4a2.6 2.6 0 1 0 5.3 0a2.6 2.6 0 1 0 -5.3 0M218.0 47.7a2.2 2.2 0 1 0 4.4 0a2.2 2.2 0 1 0 -4.4 0M393.4 297.1a1.2 1.2 0 1 0 2.3 0a1.2 1.2 0 1 0 -2.3 0M145.8 17.2a1.8 1.8 0 1 0 3.6 0a1.8 1.8 0 1 0 -3.6 0M5.3 92.4a1.9 1.9 0 1 0 3.8 0a1.9 1.9 0 1 0 -3.8 0M358.8 17.8a2.6 2.6 0 1 0 5.2 0a2.6 2.6 0 1 0 -5.2 0M236.0 -4.5a2.4 2.4 0 1 0 4.8 0a2.4 2.4 0 1 0 -4.8 0M206.3 286.0a2.3 2.3 0 1 0 4.6 0a2.3 2.3 0 1 0 -4.6 0M393.1 49.7a1.1 1.1 0 1 0 2.3 0a1.1 1.1 0 1 0 -2.3 0M233.1 8.9a1.4 1.4 0 1 0 2.9 0a1.4 1.4 0 1 0 -2.9 0M37.9 176.8a1.4 1.4 0 1 0 2.8 0a1.4 1.4 0 1 0 -2.8 0M289.9 301.7a2.7 2.7 0 1 0 5.3 0a2.7 2.7 0 1 0 -5.3 0M212.7 161.9a1.5 1.5 0 1 0 2.9 0a1.5 1.5 0 1 0 -2.9 0M281.4 215.1a1.4 1.4 0 1 0 2.9 0a1.4 1.4 0 1 0 -2.9 0M233.6 281.4a1.6 1.6 0 1 0 3.2 0a1.6 1.6 0 1 0 -3.2 0M387.7 20.6a2.2 2.2 0 1 0 4.4 0a2.2 2.2 0 1 0 -4.4 0M161.4 114.8a2.3 2.3 0 1 0 4.6 0a2.3 2.3 0 1 0 -4.6 0M255.6 136.0a1.6 1.6 0 1 0 3.1 0a1.6 1.6 0 1 0 -3.1 0M98.7 268.0a1.9 1.9 0 1 0 3.8 0a1.9 1.9 0 1 0 -3.8 0M26.1 41.2a2.7 2.7 0 1 0 5.4 0a2.7 2.7 0 1 0 -5.4 0M81.2 24.5a2.6 2.6 0 1 0 5.2 0a2.6 2.6 0 1 0 -5.2 0M288.1 194.9a2.3 2.3 0 1 0 4.6 0a2.3 2.3 0 1 0 -4.6 0M333.1 71.6a2.3 2.3 0 1 0 4.6 0a2.3 2.3 0 1 0 -4.6 0M328.0 6.9a1.4 1.4 0 1 0 2.8 0a1.4 1.4 0 1 0 -2.8 0M95.6 -8.1a1.9 1.9 0 1 0 3.8 0a1.9 1.9 0 1 0 -3.8 0M238.3 167.6a2.4 2.4 0 1 0 4.8 0a2.4 2.4 0 1 0 -4.8 0M29.9 206.2a2.1 2.1 0 1 0 4.2 0a2.1 2.1 0 1 0 -4.2 0M361.3 19.3a1.4 1.4 0 1 0 2.8 0a1.4 1.4 0 1 0 -2.8 0M37.2 26.3a2.2 2.2 0 1 0 4.3 0a2.2 2.2 0 1 0 -4.3 0M10.3 139.1a2.6 2.6 0 1 0 5.1 0a2.6 2.6 0 1 0 -5.1 0M359.7 19.4a2.0 2.0 0 1 0 4.0 0a2.0 2.0 0 1 0 -4.0 0M118.8 379.4a1.1 1.1 0 1 0 2.2 0a1.1 1.1 0 1 0 -2.2 0M309.5 54.9a1.7 1.7 0 1 0 3.4 0a1.7 1.7 0 1 0 -3.4 0M227.5 296.3a1.7 1.7 0 1 0 3.5 0a1.7 1.7 0 1 0 -3.5 0M133.3 249.2a2.6 2.6 0 1 0 5.2 0a2.6 2.6 0 1 0 -5.2 0M122.1 62.5a1.8 1.8 0 1 0 3.6 0a1.8 1.8 0 1 0 -3.6 0M94.3 248.8a1.0 1.0 0 1 0 2.1 0a1.0 1.0 0 1 0 -2.1 0M399.1 4.1a1.2 1.2 0 1 0 2.4 0a1.2 1.2 0 1 0 -2.4 0M110.9 71.2a2.6 2.6 0 1 0 5.2 0a2.6 2.6 0 1 0 -5.2 0M159.9 130.5a2.5 2.5 0 1 0 5.0 0a2.5 2.5 0 1 0 -5.0 0M88.1 180.9a1.8 1.8 0 1 0 3.7 0a1.8 1.8 0 1 0 -3.7 0M327.4 87.3a1.9 1.9 0 1 0 3.9 0a1.9 1.9 0 1 0 -3.9 0M144.2 24.0a2.4 2.4 0 1 0 4.8 0a2.4 2.4 0 1 0 -4.8 0M6.8 339.5a1.9 1.9 0 1 0 3.8 0a1.9 1.9 0 1 0 -3.8 0M18.7 51.8a1.5 1.5 0 1 0 3.0 0a1.5 1.5 0 1 0 -3.0 0M69.8 186.2a1.1 1.1 0 1 0 2.2 0a1.1 1.1 0 1 0 -2.2 0M323.9 152.3a2.2 2.2 0 1 0 4.3 0a2.2 2.2 0 1 0 -4.3 0M54.3 166.1a2.0 2.0 0 1 0 4.0 0a2.0 2.0 0 1 0 -4.0 0M265.0 114.8a1.5 1.5 0 1 0 2.9 0a1.5 1.5 0 1 0 -2.9 0M368.8 306.9a1.4 1.4 0 1 0 2.9 0a1.4 1.4 0 1 0 -2.9 0M349.2 147.9a1.7 1.7 0 1 0 3.4 0a1.7 1.7 0 1 0 -3.4 0M-1.3 141.7a1.4 1.4 0 1 0 2.7 0a1.4 1.4 0 1 0 -2.7 0M35.4 364.3a1.6 1.6 0 1 0 3.1 0a1.6 1.6 0 1 0 -3.1 0M199.0 311.8a1.8 1.8 0 1 0 3.5 0a1.8 1.8 0 1 0 -3.5 0M306.8 272.1a1.7 1.7 0 1 0 3.4 0a1.7 1.7 0 1 0 -3.4 0M173.7 47.8a1.1 1.1 0 1 0 2.1 0a1.1 1.1 0 1 0 -2.1 0M347.0 398.0a1.3 1.3 0 1 0 2.6 0a1.3 1.3 0 1 0 -2.6 0M398.1 105.1a1.1 1.1 0 1 0 2.2 0a1.1 1.1 0 1 0 -2.2 0M37.7 175.5a1.4 1.4 0 1 0 2.7 0a1.4 1.4 0 1 0 -2.7 0M36.1 78.3a2.6 2.6 0 1 0 5.3 0a2.6 2.6 0 1 0 -5.3 0M211.1 104.2a2.3 2.3 0 1 0 4.5 0a2.3 2.3 0 1 0 -4.5 0M406.3 289.4a1.0 1.0 0 1 0 2.1 0a1.0 1.0 0 1 0 -2.1 0M296.8 354.3a1.4 1.4 0 1 0 2.7 0a1.4 1.4 0 1 0 -2.7 0M368.3 90.5a1.1 1.1 0 1 0 2.1 0a1.1 1.1 0 1 0 -2.1 0M261.0 24.1a1.8 1.8 0 1 0 3.6 0a1.8 1.8 0 1 0 -3.6 0M56.2 102.2a2.4 2.4 0 1 0 4.7 0a2.4 2.4 0 1 0 -4.7 0M361.6 36.7a1.6 1.6 0 1 0 3.2 0a1.6 1.6 0 1 0 -3.2 0M281.7 278.4a1.8 1.8 0 1 0 3.6 0a1.8 1.8 0 1 0 -3.6 0M361.8 202.9a2.6 2.6 0 1 0 5.3 0a2.6 2.6 0 1 0 -5.3 0M371.4 47.2a1.0 1.0 0 1 0 2.0 0a1.0 1.0 0 1 0 -2.0 0M304.9 240.5a1.8 1.8 0 1 0 3.6 0a1.8 1.8 0 1 0 -3.6 0M150.3 1.9a1.7 1.7 0 1 0 3.4 0a1.7 1.7 0 1 0 -3.4 0M217.8 299.1a2.4 2.4 0 1 0 4.7 0a2.4 2.4 0 1 0 -4.7 0M53.1 0.0a1.8 1.8 0 1 0 3.6 0a1.8 1.8 0 1 0 -3.6 0M365.5 -6.9a2.1 2.1 0 1 0 4.2 0a2.1 2.1 0 1 0 -4.2 0M12.7 208.5a2.0 2.0 0 1 0 3.9 0a2.0 2.0 0 1 0 -3.9 0M220.2 301.8a2.2 2.2 0 1 0 4.5 0a2.2 2.2 0 1 0 -4.5 0M376.3 369.7a1.3 1.3 0 1 0 2.6 0a1.3 1.3 0 1 0 -2.6 0M255.0 137.8a1.3 1.3 0 1 0 2.6 0a1.3 1.3 0 1 0 -2.6 0M162.9 -1.8a2.1 2.1 0 1 0 4.3 0a2.1 2.1 0 1 0 -4.3 0M373.2 321.6a1.4 1.4 0 1 0 2.9 0a1.4 1.4 0 1 0 -2.9 0M327.2 38.2a1.8 1.8 0 1 0 3.7 0a1.8 1.8 0 1 0 -3.7 0M4.3 245.4a1.5 1.5 0 1 0 2.9 0a1.5 1.5 0 1 0 -2.9 0M170.5 280.4a2.0 2.0 0 1 0 4.0 0a2.0 2.0 0 1 0 -4.0 0M12.5 357.7a2.5 2.5 0 1 0 5.0 0a2.5 2.5 0 1 0 -5.0 0M187.7 140.0a2.5 2.5 0 1 0 4.9 0a2.5 2.5 0 1 0 -4.9 0M199.9 61.1a1.8 1.8 0 1 0 3.6 0a1.8 1.8 0 1 0 -3.6 0M322.7 273.2a2.2 2.2 0 1 0 4.5 0a2.2 2.2 0 1 0 -4.5 0M65.3 9.7a2.5 2.5 0 1 0 5.0 0a2.5 2.5 0 1 0 -5.0 0M97.6 141.3a1.5 1.5 0 1 0 2.9 0a1.5 1.5 0 1 0 -2.9 0M328.1 317.4a1.5 1.5 0 1 0 2.9 0a1.5 1.5 0 1 0 -2.9 0M243.1 102.0a1.9 1.9 0 1 0 3.9 0a1.9 1.9 0 1 0 -3.9 0M171.5 20.6a2.3 2.3 0 1 0 4.5 0a2.3 2.3 0 1 0 -4.5 0M258.2 133.1a1.6 1.6 0 1 0 3.2 0a1.6 1.6 0 1 0 -3.2 0M343.6 46.9a2.3 2.3 0 1 0 4.6 0a2.3 2.3 0 1 0 -4.6 0M408.4 344.3a1.0 1.0 0 1 0 2.0 0a1.0 1.0 0 1 0 -2.0 0M163.2 236.6a2.3 2.3 0 1 0 4.6 0a2.3 2.3 0 1 0 -4.6 0M176.0 301.8a2.2 2.2 0 1 0 4.4 0a2.2 2.2 0 1 0 -4.4 0M249.4 144.1a1.7 1.7 0 1 0 3.4 0a1.7 1.7 0 1 0 -3.4 0M292.3 311.5a2.1 2.1 0 1 0 4.2 0a2.1 2.1 0 1 0 -4.2 0M263.3 95.2a1.5 1.5 0 1 0 3.1 0a1.5 1.5 0 1 0 -3.1 0M283.5 54.0a2.3 2.3 0 1 0 4.5 0a2.3 2.3 0 1 0 -4.5 0M63.5 137.8a1.1 1.1 0 1 0 2.2 0a1.1 1.1 0 1 0 -2.2 0M314.5 384.1a2.1 2.1 0 1 0 4.3 0a2.1 2.1 0 1 0 -4.3 0M372.2 246.3a1.9 1.9 0 1 0 3.9 0a1.9 1.9 0 1 0 -3.9 0M397.1 308.0a1.8 1.8 0 1 0 3.6 0a1.8 1.8 0 1 0 -3.6 0M78.6 17.9a1.9 1.9 0 1 0 3.7 0a1.9 1.9 0 1 0 -3.7 0M194.7 292.9a2.2 2.2 0 1 0 4.4 0a2.2 2.2 0 1 0 -4.4 0"/>
<path fill="#0f0f0f" d="M46.8 289.3a1.8 1.8 0 1 0 3.6 0a1.8 1.8 0 1 0 -3.6 0M-2.8 147.0a1.2 1.2 0 1 0 2.4 0a1.2 1.2 0 1 0 -2.4 0M89.9 288.3a2.4 2.4 0 1 0 4.8 0a2.4 2.4 0 1 0 -4.8 0M360.0 298.3a2.2 2.2 0 1 0 4.5 0a2.2 2.2 0 1 0 -4.5 0M207.6 309.0a2.6 2.6 0 1 0 5.2 0a2.6 2.6 0 1 0 -5.2 0M366.0 129.5a1.3 1.3 0 1 0 2.7 0a1.3 1.3 0 1 0 -2.7 0M290.0 391.6a1.3 1.3 0 1 0 2.6 0a1.3 1.3 0 1 0 -2.6 0M89.8 51.2a2.1 2.1 0 1 0 4.1 0a2.1 2.1 0 1 0 -4.1 0M44.0 182.7a2.5 2.5 0 1 0 5.1 0a2.5 2.5 0 1 0 -5.1 0M131.7 323.4a1.3 1.3 0 1 0 2.5 0a1.3 1.3 0 1 0 -2.5 0M231.3 76.5a1.9 1.9 0 1 0 3.7 0a1.9 1.9 0 1 0 -3.7 0M196.7 282.6a1.9 1.9 0 1 0 3.8 0a1.9 1.9 0 1 0 -3.8 0M93.1 199.3a2.5 2.5 0 1 0 5.1 0a2.5 2.5 0 1 0 -5.1 0M327.6 194.7a2.3 2.3 0 1 0 4.6 0a2.3 2.3 0 1 0 -4.6 0M379.5 32.0a2.6 2.6 0 1 0 5.2 0a2.6 2.6 0 1 0 -5.2 0M98.6 160.8a1.3 1.3 0 1 0 2.7 0a1.3 1.3 0 1 0 -2.7 0M-5.1 100.7a1.6 1.6 0 1 0 3.2 0a1.6 1.6 0 1 0 -3.2 0M241.6 172.6a1.5 1.5 0 1 0 3.0 0a1.5 1.5 0 1 0 -3.0 0M212.1 44.2a2.1 2.1 0 1 0 4.3 0a2.1 2.1 0 1 0 -4.3 0M360.4 8.5a1.5 1.5 0 1 0 2.9 0a1.5 1.5 0 1 0 -2.9 0M373.6 59.6a2.7 2.7 0 1 0 5.3 0a2.7 2.7 0 1 0 -5.3 0M234.4 186.3a1.9 1.9 0 1 0 3.8 0a1.9 1.9 0 1 0 -3.8 0M407.8 149.9a1.3 1.3 0 1 0 2.7 0a1.3 1.3 0 1 0 -2.7 0M121.5 75.0a2.0 2.0 0 1 0 4.0 0a2.0 2.0 0 1 0 -4.0 0M267.4 316.5a2.5 2.5 0 1 0 4.9 0a2.5 2.5 0 1 0 -4.9 0M376.5 30.2a1.4 1.4 0 1 0 2.7 0a1.4 1.4 0 1 0 -2.7 0M121.5 122.6a1.5 1.5 0 1 0 3.0 0a1.5 1.5 0 1 0 -3.0 0M271.5 20.1a1.2 1.2 0 1 0 2.5 0a1.2 1.2 0 1 0 -2.5 0M275.2 306.0a1.2 1.2 0 1 0 2.4 0a1.2 1.2 0 1 0 -2.4 0M48.3 78.3a2.2 2.2 0 1 0 4.4 0a2.2 2.2 0 1 0 -4.4 0M246.5 -0.3a1.6 1.6 0 1 0 3.2 0a1.6 1.6 0 1 0 -3.2 0M-2.5 75.9a1.2 1.2 0 1 0 2.5 0a1.2 1.2 0 1 0 -2.5 0M160.1 201.2a1.6 1.6 0 1 0 3.2 0a1.6 1.6 0 1 0 -3.2 0M370.4 126.8a2.2 2.2 0 1 0 4.5 0a2.2 2.2 0 1 0 -4.5 0M31.5 325.2a1.9 1.9 0 1 0 3.8 0a1.9 1.9 0 1 0 -3.8 0M49.9 283.1a1.5 1.5 0 1 0 3.0 0a1.5 1.5 0 1 0 -3.0 0M367.6 121.4a2.6 2.6 0 1 0 5.2 0a2.6 2.6 0 1 0 -5.2 0M105.8 261.1a2.7 2.7 0 1 0 5.3 0a2.7 2.7 0 1 0 -5.3 0M405.5 6.0a2.3 2.3 0 1 0 4.6 0a2.3 2.3 0 1 0 -4.6 0M240.2 316.4a1.7 1.7 0 1 0 3.5 0a1.7 1.7 0 1 0 -3.5 0M293.2 101.2a2.4 2.4 0 1 0 4.9 0a2.4 2.4 0 1 0 -4.9 0M205.0 151.3a1.8 1.8 0 1 0 3.7 0a1.8 1.8 0 1 0 -3.7 0M69.6 208.1a1.4 1.4 0 1 0 2.7 0a1.4 1.4 0 1 0 -2.7 0M88.9 258.0a1.7 1.7 0 1 0 3.5 0a1.7 1.7 0 1 0 -3.5 0M113.4 166.4a2.1 2.1 0 1 0 4.3 0a2.1 2.1 0 1 0 -4.3 0M362.9 122.4a1.9 1.9 0 1 0 3.7 0a1.9 1.9 0 1 0 -3.7 0M192.6 136.9a2.3 2.3 0 1 0 4.5 0a2.3 2.3 0 1 0 -4.5 0M130.0 311.3a2.4 2.4 0 1 0 4.8 0a2.4 2.4 0 1 0 -4.8 0M102.6 106.0a2.1 2.1 0 1 0 4.3 0a2.1 2.1 0 1 0 -4.3 0M84.8 295.6a1.2 1.2 0 1 0 2.5 0a1.2 1.2 0 1 0 -2.5 0M273.6 83.0a2.5 2.5 0 1 0 4.9 0a2.5 2.5 0 1 0 -4.9 0M407.8 163.8a1.6 1.6 0 1 0 3.2 0a1.6 1.6 0 1 0 -3.2 0M312.2 103.4a2.6 2.6 0 1 0 5.1 0a2.6 2.6 0 1 0 -5.1 0M312.5 406.7a2.6 2.6 0 1 0 5.2 0a2.6 2.6 0 1 0 -5.2 0M56.4 148.7a1.0 1.0 0 1 0 2.1 0a1.0 1.0 0 1 0 -2.1 0M162.3 288.9a1.5 1.5 0 1 0 2.9 0a1.5 1.5 0 1 0 -2.9 0M249.2 136.9a2.2 2.2 0 1 0 4.4 0a2.2 2.2 0 1 0 -4.4 0M202.0 230.7a2.4 2.4 0 1 0 4.8 0a2.4 2.4 0 1 0 -4.8 0M208.8 138.6a1.0 1.0 0 1 0 2.0 0a1.0 1.0 0 1 0 -2.0 0M73.3 109.5a1.1 1.1 0 1 0 2.3 0a1.1 1.1 0 1 0 -2.3 0M381.5 393.8a1.5 1.5 0 1 0 3.0 0a1.5 1.5 0 1 0 -3.0 0M281.6 301.6a1.5 1.5 0 1 0 3.1 0a1.5 1.5 0 1 0 -3.1 0M74.5 22.0a1.6 1.6 0 1 0 3.3 0a1.6 1.6 0 1 0 -3.3 0M108.3 48.2a1.2 1.2 0 1 0 2.3 0a1.2 1.2 0 1 0 -2.3 0M391.3 24.8a1.4 1.4 0 1 0 2.8 0a1.4 1.4 0 1 0 -2.8 0M179.2 18.9a1.5 1.5 0 1 0 3.0 0a1.5 1.5 0 1 0 -3.0 0M264.4 286.8a1.1 1.1 0 1 0 2.2 0a1.1 1.1 0 1 0 -2.2 0M289.5 5.5a2.6 2.6 0 1 0 5.2 0a2.6 2.6 0 1 0 -5.2 0M249.7 279.2a1.9 1.9 0 1 0 3.9 0a1.9 1.9 0 1 0 -3.9 0M3.0 173.6a2.1 2.1 0 1 0 4.3 0a2.1 2.1 0 1 0 -4.3 0M249.4 227.3a2.5 2.5 0 1 0 5.1 0a2.5 2.5 0 1 0 -5.1 0M138.2 59.0a1.8 1.8 0 1 0 3.7 0a1.8 1.8 0 1 0 -3.7 0M104.8 111.8a1.9 1.9 0 1 0 3.7 0a1.9 1.9 0 1 0 -3.7 0M35.2 117.2a2.7 2.7 0 1 0 5.4 0a2.7 2.7 0 1 0 -5.4 0M329.6 -7.8a2.4 2.4 0 1 0 4.7 0a2.4 2.4 0 1 0 -4.7 0M382.5 166.2a1.4 1.4 0 1 0 2.7 0a1.4 1.4 0 1 0 -2.7 0M23.6 313.1a1.4 1.4 0 1 0 2.7 0a1.4 1.4 0 1 0 -2.7 0M169.5 58.6a1.3 1.3 0 1 0 2.5 0a1.3 1.3 0 1 0 -2.5 0M42.3 127.1a1.5 1.5 0 1 0 2.9 0a1.5 1.5 0 1 0 -2.9 0M57.9 130.9a1.5 1.5 0 1 0 3.0 0a1.5 1.5 0 1 0 -3.0 0M6.2 53.9a2.2 2.2 0 1 0 4.3 0a2.2 2.2 0 1 0 -4.3 0M59.9 52.3a2.0 2.0 0 1 0 4.1 0a2.0 2.0 0 1 0 -4.1 0M275.1 253.5a2.1 2.1 0 1 0 4.2 0a2.1 2.1 0 1 0 -4.2 0M379.3 208.2a1.0 1.0 0 1 0 2.0 0a1.0 1.0 0 1 0 -2.0 0M401.4 59.1a1.5 1.5 0 1 0 3.0 0a1.5 1.5 0 1 0 -3.0 0M42.2 297.6a2.5 2.5 0 1 0 5.0 0a2.5 2.5 0 1 0 -5.0 0M87.8 252.0a1.3 1.3 0 1 0 2.5 0a1.3 1.3 0 1 0 -2.5 0M395.7 317.6a1.5 1.5 0 1 0 2.9 0a1.5 1.5 0 1 0 -2.9 0M13.8 191.2a1.1 1.1 0 1 0 2.2 0a1.1 1.1 0 1 0 -2.2 0M298.0 252.3a1.4 1.4 0 1 0 2.8 0a1.4 1.4 0 1 0 -2.8 0M258.1 133.1a2.4 2.4 0 1 0 4.8 0a2.4 2.4 0 1 0 -4.8 0M288.3 180.5a1.7 1.7 0 1 0 3.5 0a1.7 1.7 0 1 0 -3.5 0M272.2 303.6a2.2 2.2 0 1 0 4.5 0a2.2 2.2 0 1 0 -4.5 0M135.3 171.4a1.6 1.6 0 1 0 3.3 0a1.6 1.6 0 1 0 -3.3 0M173.1 201.5a1.4 1.4 0 1 0 2.7 0a1.4 1.4 0 1 0 -2.7 0M133.5 145.3a1.4 1.4 0 1 0 2.9 0a1.4 1.4 0 1 0 -2.9 0M212.3 200.2a2.1 2.1 0 1 0 4.1 0a2.1 2.1 0 1 0 -4.1 0M166.9 53.0a1.8 1.8 0 1 0 3.6 0a1.8 1.8 0 1 0 -3.6 0M242.8 126.3a2.6 2.6 0 1 0 5.1 0a2.6 2.6 0 1 0 -5.1 0M252.2 269.3a1.9 1.9 0 1 0 3.7 0a1.9 1.9 0 1 0 -3.7 0M250.6 112.0a2.5 2.5 0 1 0 5.0 0a2.5 2.5 0 1 0 -5.0 0M39.2 143.3a1.9 1.9 0 1 0 3.9 0a1.9 1.9 0 1 0 -3.9 0M174.8 22.9a1.1 1.1 0 1 0 2.2 0a1.1 1.1 0 1 0 -2.2 0M70.8 133.2a2.5 2.5 0 1 0 5.0 0a2.5 2.5 0 1 0 -5.0 0M260.9 189.3a1.0 1.0 0 1 0 2.1 0a1.0 1.0 0 1 0 -2.1 0M291.1 89.7a2.2 2.2 0 1 0 4.5 0a2.2 2.2 0 1 0 -4.5 0M393.3 44.8a2.2 2.2 0 1 0 4.3 0a2.2 2.2 0 1 0 -4.3 0M407.1 325.4a1.8 1.8 0 1 0 3.5 0a1.8 1.8 0 1 0 -3.5 0M185.8 41.6a1.3 1.3 0 1 0 2.6 0a1.3 1.3 0 1 0 -2.6 0M85.6 247.1a1.2 1.2 0 1 0 2.3 0a1.2 1.2 0 1 0 -2.3 0M92.3 188.5a1.5 1.5 0 1 0 3.1 0a1.5 1.5 0 1 0 -3.1 0M317.4 273.5a1.9 1.9 0 1 0 3.8 0a1.9 1.9 0 1 0 -3.8 0M33.7 132.6a1.8 1.8 0 1 0 3.7 0a1.8 1.8 0 1 0 -3.7 0M263.9 255.5a2.1 2.1 0 1 0 4.2 0a2.1 2.1 0 1 0 -4.2 0M136.1 395.8a2.3 2.3 0 1 0 4.6 0a2.3 2.3 0 1 0 -4.6 0M145.1 122.8a2.0 2.0 0 1 0 4.0 0a2.0 2.0 0 1 0 -4.0 0M205.1 13.2a1.5 1.5 0 1 0 3.0 0a1.5 1.5 0 1 0 -3.0 0M145.3 183.8a2.0 2.0 0 1 0 4.0 0a2.0 2.0 0 1 0 -4.0 0M223.9 199.4a2.3 2.3 0 1 0 4.6 0a2.3 2.3 0 1 0 -4.6 0M360.8 318.9a1.1 1.1 0 1 0 2.3 0a1.1 1.1 0 1 0 -2.3 0M105.4 274.7a1.6 1.6 0 1 0 3.1 0a1.6 1.6 0 1 0 -3.1 0M282.8 146.5a1.1 1.1 0 1 0 2.2 0a1.1 1.1 0 1 0 -2.2 0M347.7 223.1a1.8 1.8 0 1 0 3.6 0a1.8 1.8 0 1 0 -3.6 0M-6.1 129.0a2.7 2.7 0 1 0 5.4 0a2.7 2.7 0 1 0 -5.4 0M233.1 305.0a1.2 1.2 0 1 0 2.3 0a1.2 1.2 0 1 0 -2.3 0M300.0 1.5a1.3 1.3 0 1 0 2.6 0a1.3 1.3 0 1 0 -2.6 0M16.1 60.6a2.0 2.0 0 1 0 4.1 0a2.0 2.0 0 1 0 -4.1 0M212.8 13.6a1.8 1.8 0 1 0 3.6 0a1.8 1.8 0 1 0 -3.6 0M409.4 93.8a1.6 1.6 0 1 0 3.2 0a1.6 1.6 0 1 0 -3.2 0M338.7 49.6a1.2 1.2 0 1 0 2.5 0a1.2 1.2 0 1 0 -2.5 0M209.0 258.0a2.5 2.5 0 1 0 5.0 0a2.5 2.5 0 1 0 -5.0 0M123.6 76.7a1.8 1.8 0 1 0 3.6 0a1.8 1.8 0 1 0 -3.6 0M222.9 217.0a2.7 2.7 0 1 0 5.4 0a2.7 2.7 0 1 0 -5.4 0M192.3 79.6a1.6 1.6 0 1 0 3.3 0a1.6 1.6 0 1 0 -3.3 0M276.2 295.1a1.9 1.9 0 1 0 3.7 0a1.9 1.9 0 1 0 -3.7 0M36.4 36.3a1.1 1.1 0 1 0 2.2 0a1.1 1.1 0 1 0 -2.2 0M238.8 101.1a1.9 1.9 0 1 0 3.9 0a1.9 1.9 0 1 0 -3.9 0M78.8 165.3a2.4 2.4 0 1 0 4.8 0a2.4 2.4 0 1 0 -4.8 0M235.9 279.8a2.3 2.3 0 1 0 4.7 0a2.3 2.3 0 1 0 -4.7 0M26.6 353.2a2.7 2.7 0 1 0 5.3 0a2.7 2.7 0 1 0 -5.3 0M349.6 147.3a2.3 2.3 0 1 0 4.7 0a2.3 2.3 0 1 0 -4.7 0M377.1 92.0a1.8 1.8 0 1 0 3.7 0a1.8 1.8 0 1 0 -3.7 0M155.1 169.7a2.6 2.6 0 1 0 5.1 0a2.6 2.6 0 1 0 -5.1 0M91.7 148.5a1.2 1.2 0 1 0 2.4 0a1.2 1.2 0 1 0 -2.4 0M305.3 410.8a2.7 2.7 0 1 0 5.4 0a2.7 2.7 0 1 0 -5.4 0M279.9 125.2a1.6 1.6 0 1 0 3.2 0a1.6 1.6 0 1 0 -3.2 0M235.8 362.6a1.5 1.5 0 1 0 3.1 0a1.5 1.5 0 1 0 -3.1 0M47.2 226.4a2.2 2.2 0 1 0 4.5 0a2.2 2.2 0 1 0 -4.5 0M211.7 69.7a1.3 1.3 0 1 0 2.6 0a1.3 1.3 0 1 0 -2.6 0M363.0 126.0a1.8 1.8 0 1 0 3.5 0a1.8 1.8 0 1 0 -3.5 0M231.9 370.2a1.9 1.9 0 1 0 3.9 0a1.9 1.9 0 1 0 -3.9 0M391.5 277.6a2.6 2.6 0 1 0 5.2 0a2.6 2.6 0 1 0 -5.2 0M70.5 155.5a1.8 1.8 0 1 0 3.5 0a1.8 1.8 0 1 0 -3.5 0M303.4 290.1a1.7 1.7 0 1 0 3.5 0a1.7 1.7 0 1 0 -3.5 0M65.4 299.7a1.7 1.7 0 1 0 3.3 0a1.7 1.7 0 1 0 -3.3 0M34.2 200.5a1.7 1.7 0 1 0 3.3 0a1.7 1.7 0 1 0 -3.3 0M88.3 251.5a2.6 2.6 0 1 0 5.2 0a2.6 2.6 0 1 0 -5.2 0M252.5 255.8a1.4 1.4 0 1 0 2.8 0a1.4 1.4 0 1 0 -2.8 0M290.0 183.5a1.4 1.4 0 1 0 2.9 0a1.4 1.4 0 1 0 -2.9 0M213.8 -4.8a2.4 2.4 0 1 0 4.7 0a2.4 2.4 0 1 0 -4.7 0M372.2 230.0a2.3 2.3 0 1 0 4.5 0a2.3 2.3 0 1 0 -4.5 0M368.2 361.4a1.0 1.0 0 1 0 2.1 0a1.0 1.0 0 1 0 -2.1 0M294.6 311.4a2.1 2.1 0 1 0 4.3 0a2.1 2.1 0 1 0 -4.3 0M70.4 174.8a2.7 2.7 0 1 0 5.3 0a2.7 2.7 0 1 0 -5.3 0M43.8 66.3a2.1 2.1 0 1 0 4.2 0a2.1 2.1 0 1 0 -4.2 0M91.9 152.0a2.0 2.0 0 1 0 4.0 0a2.0 2.0 0 1 0 -4.0 0M25.8 255.5a2.0 2.0 0 1 0 4.0 0a2.0 2.0 0 1 0 -4.0 0M158.8 196.1a1.5 1.5 0 1 0 3.0 0a1.5 1.5 0 1 0 -3.0 0M280.9 303.6a2.6 2.6 0 1 0 5.1 0a2.6 2.6 0 1 0 -5.1 0M69.7 202.7a2.2 2.2 0 1 0 4.4 0a2.2 2.2 0 1 0 -4.4 0M-8.9 79.8a1.7 1.7 0 1 0 3.3 0a1.7 1.7 0 1 0 -3.3 0M339.1 59.9a1.4 1.4 0 1 0 2.9 0a1.4 1.4 0 1 0 -2.9 0M5.2 150.6a2.3 2.3 0 1 0 4.6 0a2.3 2.3 0 1 0 -4.6 0M18.8 15.9a1.0 1.0 0 1 0 2.1 0a1.0 1.0 0 1 0 -2.1 0M167.1 234.1a1.4 1.4 0 1 0 2.8 0a1.4 1.4 0 1 0 -2.8 0M78.7 72.8a2.4 2.4 0 1 0 4.8 0a2.4 2.4 0 1 0 -4.8 0M248.8 84.8a2.5 2.5 0 1 0 4.9 0a2.5 2.5 0 1 0 -4.9 0M125.3 249.4a2.0 2.0 0 1 0 3.9 0a2.0 2.0 0 1 0 -3.9 0M404.1 34.2a2.2 2.2 0 1 0 4.3 0a2.2 2.2 0 1 0 -4.3 0M222.1 -6.6a2.3 2.3 0 1 0 4.5 0a2.3 2.3 0 1 0 -4.5 0M373.3 39.8a1.7 1.7 0 1 0 3.4 0a1.7 1.7 0 1 0 -3.4 0M294.4 410.2a2.6 2.6 0 1 0 5.2 0a2.6 2.6 0 1 0 -5.2 0M351.8 92.8a1.6 1.6 0 1 0 3.2 0a1.6 1.6 0 1 0 -3.2 0M267.9 21.5a1.7 1.7 0 1 0 3.4 0a1.7 1.7 0 1 0 -3.4 0M98.4 187.1a2.7 2.7 0 1 0 5.3 0a2.7 2.7 0 1 0 -5.3 0M89.1 61.5a1.8 1.8 0 1 0 3.5 0a1.8 1.8 0 1 0 -3.5 0M214.0 61.7a2.2 2.2 0 1 0 4.3 0a2.2 2.2 0 1 0 -4.3 0M167.2 291.1a2.0 2.0 0 1 0 4.1 0a2.0 2.0 0 1 0 -4.1 0M247.7 206.9a1.3 1.3 0 1 0 2.6 0a1.3 1.3 0 1 0 -2.6 0M223.6 98.0a2.7 2.7 0 1 0 5.3 0a2.7 2.7 0 1 0 -5.3 0M260.1 263.9a1.7 1.7 0 1 0 3.3 0a1.7 1.7 0 1 0 -3.3 0M154.3 84.4a1.3 1.3 0 1 0 2.6 0a1.3 1.3 0 1 0 -2.6 0M247.2 46.8a1.2 1.2 0 1 0 2.5 0a1.2 1.2 0 1 0 -2.5 0M366.4 90.8a1.1 1.1 0 1 0 2.1 0a1.1 1.1 0 1 0 -2.1 0M201.9 74.7a2.7 2.7 0 1 0 5.3 0a2.7 2.7 0 1 0 -5.3 0M332.5 406.1a2.1 2.1 0 1 0 4.2 0a2.1 2.1 0 1 0 -4.2 0M189.2 306.9a2.1 2.1 0 1 0 4.3 0a2.1 2.1 0 1 0 -4.3 0M41.3 211.9a1.3 1.3 0 1 0 2.6 0a1.3 1.3 0 1 0 -2.6 0M79.6 237.0a2.2 2.2 0 1 0 4.4 0a2.2 2.2 0 1 0 -4.4 0M329.5 283.0a2.0 2.0 0 1 0 3.9 0a2.0 2.0 0 1 0 -3.9 0M344.7 348.5a2.2 2.2 0 1 0 4.4 0a2.2 2.2 0 1 0 -4.4 0M128.8 28.3a1.6 1.6 0 1 0 3.2 0a1.6 1.6 0 1 0 -3.2 0M66.1 202.7a1.8 1.8 0 1 0 3.6 0a1.8 1.8 0 1 0 -3.6 0M75.1 144.9a2.2 2.2 0 1 0 4.4 0a2.2 2.2 0 1 0 -4.4 0M44.8 309.5a2.2 2.2 0 1 0 4.3 0a2.2 2.2 0 1 0 -4.3 0M338.3 141.3a2.7 2.7 0 1 0 5.4 0a2.7 2.7 0 1 0 -5.4 0M50.4 167.9a1.7 1.7 0 1 0 3.5 0a1.7 1.7 0 1 0 -3.5 0M319.7 84.3a2.3 2.3 0 1 0 4.6 0a2.3 2.3 0 1 0 -4.6 0M393.2 92.6a2.3 2.3 0 1 0 4.6 0a2.3 2.3 0 1 0 -4.6 0M135.6 77.4a1.7 1.7 0 1 0 3.4 0a1.7 1.7 0 1 0 -3.4 0M275.3 251.9a2.4 2.4 0 1 0 4.9 0a2.4 2.4 0 1 0 -4.9 0M363.9 84.2a2.1 2.1 0 1 0 4.2 0a2.1 2.1 0 1 0 -4.2 0M307.8 69.4a2.7 2.7 0 1 0 5.4 0a2.7 2.7 0 1 0 -5.4 0M96.3 113.2a2.4 2.4 0 1 0 4.9 0a2.4 2.4 0 1 0 -4.9 0M154.4 -4.3a2.5 2.5 0 1 0 4.9 0a2.5 2.5 0 1 0 -4.9 0M285.9 20.0a1.5 1.5 0 1 0 2.9 0a1.5 1.5 0 1 0 -2.9 0M170.3 287.5a2.2 2.2 0 1 0 4.5 0a2.2 2.2 0 1 0 -4.5 0M101.2 120.6a1.4 1.4 0 1 0 2.8 0a1.4 1.4 0 1 0 -2.8 0M205.2 121.7a1.0 1.0 0 1 0 2.1 0a1.0 1.0 0 1 0 -2.1 0M19.8 38.3a1.2 1.2 0 1 0 2.4 0a1.2 1.2 0 1 0 -2.4 0M283.1 221.1a2.4 2.4 0 1 0 4.7 0a2.4 2.4 0 1 0 -4.7 0M352.1 119.7a2.5 2.5 0 1 0 4.9 0a2.5 2.5 0 1 0 -4.9 0M83.0 53.8a1.5 1.5 0 1 0 3.0 0a1.5 1.5 0 1 0 -3.0 0M0.1 85.5a1.6 1.6 0 1 0 3.1 0a1.6 1.6 0 1 0 -3.1 0M342.7 105.7a2.1 2.1 0 1 0 4.3 0a2.1 2.1 0 1 0 -4.3 0M293.0 175.6a1.6 1.6 0 1 0 3.1 0a1.6 1.6 0 1 0 -3.1 0M353.2 138.0a2.1 2.1 0 1 0 4.2 0a2.1 2.1 0 1 0 -4.2 0M63.2 286.2a2.0 2.0 0 1 0 4.1 0a2.0 2.0 0 1 0 -4.1 0M315.6 63.5a1.3 1.3 0 1 0 2.6 0a1.3 1.3 0 1 0 -2.6 0M110.1 150.8a2.2 2.2 0 1 0 4.4 0a2.2 2.2 0 1 0 -4.4 0M14.3 8.3a1.8 1.8 0 1 0 3.6 0a1.8 1.8 0 1 0 -3.6 0M314.7 400.3a2.5 2.5 0 1 0 5.0 0a2.5 2.5 0 1 0 -5.0 0M225.5 261.3a2.0 2.0 0 1 0 4.0 0a2.0 2.0 0 1 0 -4.0 0M401.1 134.2a1.7 1.7 0 1 0 3.3 0a1.7 1.7 0 1 0 -3.3 0M303.7 133.9a1.9 1.9 0 1 0 3.7 0a1.9 1.9 0 1 0 -3.7 0M398.5 4.0a1.2 1.2 0 1 0 2.4 0a1.2 1.2 0 1 0 -2.4 0M63.8 188.5a2.6 2.6 0 1 0 5.2 0a2.6 2.6 0 1 0 -5.2 0M269.7 304.8a2.1 2.1 0 1 0 4.3 0a2.1 2.1 0 1 0 -4.3 0M121.3 375.4a1.3 1.3 0 1 0 2.5 0a1.3 1.3 0 1 0 -2.5 0M217.8 9.1a1.9 1.9 0 1 0 3.9 0a1.9 1.9 0 1 0 -3.9 0M206.3 269.5a1.3 1.3 0 1 0 2.6 0a1.3 1.3 0 1 0 -2.6 0M83.6 151.0a2.2 2.2 0 1 0 4.4 0a2.2 2.2 0 1 0 -4.4 0M128.4 47.2a1.5 1.5 0 1 0 3.0 0a1.5 1.5 0 1 0 -3.0 0M82.2 81.0a2.7 2.7 0 1 0 5.4 0a2.7 2.7 0 1 0 -5.4 0M324.2 235.3a2.2 2.2 0 1 0 4.3 0a2.2 2.2 0 1 0 -4.3 0M220.8 180.0a2.6 2.6 0 1 0 5.3 0a2.6 2.6 0 1 0 -5.3 0M199.0 29.6a1.1 1.1 0 1 0 2.1 0a1.1 1.1 0 1 0 -2.1 0M144.0 -7.7a2.6 2.6 0 1 0 5.2 0a2.6 2.6 0 1 0 -5.2 0M388.6 77.2a1.1 1.1 0 1 0 2.3 0a1.1 1.1 0 1 0 -2.3 0M367.4 0.8a1.9 1.9 0 1 0 3.8 0a1.9 1.9 0 1 0 -3.8 0M262.3 394.1a2.0 2.0 0 1 0 3.9 0a2.0 2.0 0 1 0 -3.9 0M43.3 153.2a2.1 2.1 0 1 0 4.1 0a2.1 2.1 0 1 0 -4.1 0M376.9 73.5a1.8 1.8 0 1 0 3.6 0a1.8 1.8 0 1 0 -3.6 0M343.4 95.5a1.2 1.2 0 1 0 2.5 0a1.2 1.2 0 1 0 -2.5 0M58.0 80.2a1.4 1.4 0 1 0 2.7 0a1.4 1.4 0 1 0 -2.7 0M75.0 123.5a2.4 2.4 0 1 0 4.8 0a2.4 2.4 0 1 0 -4.8 0M40.0 0.7a1.3 1.3 0 1 0 2.5 0a1.3 1.3 0 1 0 -2.5 0M20.4 52.9a1.5 1.5 0 1 0 3.0 0a1.5 1.5 0 1 0 -3.0 0M48.3 210.2a1.9 1.9 0 1 0 3.8 0a1.9 1.9 0 1 0 -3.8 0M305.0 66.8a1.0 1.0 0 1 0 2.0 0a1.0 1.0 0 1 0 -2.0 0M206.5 55.7a2.5 2.5 0 1 0 5.0 0a2.5 2.5 0 1 0 -5.0 0M248.0 65.7a2.5 2.5 0 1 0 4.9 0a2.5 2.5 0 1 0 -4.9 0M169.0 167.7a2.1 2.1 0 1 0 4.2 0a2.1 2.1 0 1 0 -4.2 0M309.0 87.9a2.6 2.6 0 1 0 5.2 0a2.6 2.6 0 1 0 -5.2 0M313.4 -5.1a1.7 1.7 0 1 0 3.5 0a1.7 1.7 0 1 0 -3.5 0M105.1 173.2a2.1 2.1 0 1 0 4.1 0a2.1 2.1 0 1 0 -4.1 0"/>
<path fill="#0a0a0a" d="M340.3 49.0a2.1 2.1 0 1 0 4.1 0a2.1 2.1 0 1 0 -4.1 0M259.4 162.4a2.3 2.3 0 1 0 4.6 0a2.3 2.3 0 1 0 -4.6 0M308.4 216.9a1.4 1.4 0 1 0 2.8 0a1.4 1.4 0 1 0 -2.8 0M322.4 126.7a2.5 2.5 0 1 0 4.9 0a2.5 2.5 0 1 0 -4.9 0M202.7 7.5a1.7 1.7 0 1 0 3.4 0a1.7 1.7 0 1 0 -3.4 0M368.4 79.5a2.6 2.6 0 1 0 5.3 0a2.6 2.6 0 1 0 -5.3 0M211.9 37.6a1.1 1.1 0 1 0 2.1 0a1.1 1.1 0 1 0 -2.1 0M29.9 231.7a2.4 2.4 0 1 0 4.8 0a2.4 2.4 0 1 0 -4.8 0M51.2 69.5a2.4 2.4 0 1 0 4.9 0a2.4 2.4 0 1 0 -4.9 0M22.9 32.6a1.7 1.7 0 1 0 3.4 0a1.7 1.7 0 1 0 -3.4 0M230.2 72.2a1.6 1.6 0 1 0 3.2 0a1.6 1.6 0 1 0 -3.2 0M57.7 384.7a1.6 1.6 0 1 0 3.1 0a1.6 1.6 0 1 0 -3.1 0M241.5 145.7a2.1 2.1 0 1 0 4.2 0a2.1 2.1 0 1 0 -4.2 0M257.3 163.9a1.1 1.1 0 1 0 2.2 0a1.1 1.1 0 1 0 -2.2 0M10.7 167.4a2.5 2.5 0 1 0 4.9 0a2.5 2.5 0 1 0 -4.9 0M391.8 300.8a1.2 1.2 0 1 0 2.4 0a1.2 1.2 0 1 0 -2.4 0M305.3 156.0a1.3 1.3 0 1 0 2.5 0a1.3 1.3 0 1 0 -2.5 0M113.1 311.2a1.3 1.3 0 1 0 2.6 0a1.3 1.3 0 1 0 -2.6 0M81.5 268.4a2.5 2.5 0 1 0 5.1 0a2.5 2.5 0 1 0 -5.1 0M287.9 231.4a2.6 2.6 0 1 0 5.2 0a2.6 2.6 0 1 0 -5.2 0M367.0 96.4a1.6 1.6 0 1 0 3.2 0a1.6 1.6 0 1 0 -3.2 0M274.7 237.9a2.3 2.3 0 1 0 4.5 0a2.3 2.3 0 1 0 -4.5 0M262.8 95.2a2.3 2.3 0 1 0 4.6 0a2.3 2.3 0 1 0 -4.6 0M290.9 246.9a1.3 1.3 0 1 0 2.5 0a1.3 1.3 0 1 0 -2.5 0M77.3 251.1a1.6 1.6 0 1 0 3.3 0a1.6 1.6 0 1 0 -3.3 0M27.3 71.3a1.2 1.2 0 1 0 2.4 0a1.2 1.2 0 1 0 -2.4 0M129.7 165.3a1.7 1.7 0 1 0 3.4 0a1.7 1.7 0 1 0 -3.4 0M317.1 49.2a1.7 1.7 0 1 0 3.4 0a1.7 1.7 0 1 0 -3.4 0M225.4 227.6a2.5 2.5 0 1 0 5.1 0a2.5 2.5 0 1 0 -5.1 0M394.1 107.1a2.5 2.5 0 1 0 5.0 0a2.5 2.5 0 1 0 -5.0 0M103.6 294.9a1.5 1.5 0 1 0 3.0 0a1.5 1.5 0 1 0 -3.0 0M377.0 23.0a1.0 1.0 0 1 0 2.0 0a1.0 1.0 0 1 0 -2.0 0M-8.1 367.0a1.1 1.1 0 1 0 2.2 0a1.1 1.1 0 1 0 -2.2 0M252.1 14.6a2.2 2.2 0 1 0 4.4 0a2.2 2.2 0 1 0 -4.4 0M276.1 293.5a2.0 2.0 0 1 0 4.1 0a2.0 2.0 0 1 0 -4.1 0M102.4 143.8a2.6 2.6 0 1 0 5.2 0a2.6 2.6 0 1 0 -5.2 0M168.2 220.8a2.2 2.2 0 1 0 4.4 0a2.2 2.2 0 1 0 -4.4 0M121.5 181.9a2.5 2.5 0 1 0 5.0 0a2.5 2.5 0 1 0 -5.0 0M215.2 181.0a1.9 1.9 0 1 0 3.8 0a1.9 1.9 0 1 0 -3.8 0M224.6 140.6a2.3 2.3 0 1 0 4.6 0a2.3 2.3 0 1 0 -4.6 0M100.4 272.9a1.8 1.8 0 1 0 3.6 0a1.8 1.8 0 1 0 -3.6 0M254.3 253.1a1.7 1.7 0 1 0 3.4 0a1.7 1.7 0 1 0 -3.4 0M311.6 25.2a2.5 2.5 0 1 0 5.0 0a2.5 2.5 0 1 0 -5.0 0M103.1 59.6a2.1 2.1 0 1 0 4.1 0a2.1 2.1 0 1 0 -4.1 0M350.3 63.9a1.7 1.7 0 1 0 3.5 0a1.7 1.7 0 1 0 -3.5 0M104.0 231.2a1.7 1.7 0 1 0 3.4 0a1.7 1.7 0 1 0 -3.4 0M224.1 82.3a2.4 2.4 0 1 0 4.8 0a2.4 2.4 0 1 0 -4.8 0M252.9 -4.1a1.6 1.6 0 1 0 3.1 0a1.6 1.6 0 1 0 -3.1 0M254.7 181.1a1.1 1.1 0 1 0 2.2 0a1.1 1.1 0 1 0 -2.2 0M-1.3 65.3a2.0 2.0 0 1 0 4.0 0a2.0 2.0 0 1 0 -4.0 0M381.4 55.8a2.7 2.7 0 1 0 5.4 0a2.7 2.7 0 1 0 -5.4 0M408.0 19.2a2.2 2.2 0 1 0 4.4 0a2.2 2.2 0 1 0 -4.4 0M62.6 236.1a1.5 1.5 0 1 0 2.9 0a1.5 1.5 0 1 0 -2.9 0M88.4 235.6a2.5 2.5 0 1 0 5.0 0a2.5 2.5 0 1 0 -5.0 0M-4.4 248.8a1.6 1.6 0 1 0 3.3 0a1.6 1.6 0 1 0 -3.3 0M26.9 144.9a2.2 2.2 0 1 0 4.5 0a2.2 2.2 0 1 0 -4.5 0M271.8 57.4a1.3 1.3 0 1 0 2.6 0a1.3 1.3 0 1 0 -2.6 0M59.9 264.9a2.3 2.3 0 1 0 4.5 0a2.3 2.3 0 1 0 -4.5 0M362.4 174.1a1.6 1.6 0 1 0 3.3 0a1.6 1.6 0 1 0 -3.3 0M229.1 46.5a1.9 1.9 0 1 0 3.7 0a1.9 1.9 0 1 0 -3.7 0M218.9 312.7a1.7 1.7 0 1 0 3.3 0a1.7 1.7 0 1 0 -3.3 0M22.3 101.6a2.6 2.6 0 1 0 5.1 0a2.6 2.6 0 1 0 -5.1 0M98.8 146.7a1.8 1.8 0 1 0 3.6 0a1.8 1.8 0 1 0 -3.6 0M299.4 149.0a1.2 1.2 0 1 0 2.4 0a1.2 1.2 0 1 0 -2.4 0M394.8 145.7a1.6 1.6 0 1 0 3.3 0a1.6 1.6 0 1 0 -3.3 0M208.1 309.0a1.2 1.2 0 1 0 2.3 0a1.2 1.2 0 1 0 -2.3 0M271.2 222.5a1.2 1.2 0 1 0 2.4 0a1.2 1.2 0 1 0 -2.4 0M152.7 41.4a2.1 2.1 0 1 0 4.1 0a2.1 2.1 0 1 0 -4.1 0M296.9 103.3a1.0 1.0 0 1 0 2.1 0a1.0 1.0 0 1 0 -2.1 0M315.7 101.2a2.6 2.6 0 1 0 5.2 0a2.6 2.6 0 1 0 -5.2 0M264.1 220.1a2.2 2.2 0 1 0 4.3 0a2.2 2.2 0 1 0 -4.3 0M399.8 228.1a1.5 1.5 0 1 0 3.0 0a1.5 1.5 0 1 0 -3.0 0M351.6 385.2a1.8 1.8 0 1 0 3.7 0a1.8 1.8 0 1 0 -3.7 0M368.5 93.6a1.6 1.6 0 1 0 3.3 0a1.6 1.6 0 1 0 -3.3 0M90.3 267.2a1.9 1.9 0 1 0 3.8 0a1.9 1.9 0 1 0 -3.8 0M232.2 1.3a1.1 1.1 0 1 0 2.2 0a1.1 1.1 0 1 0 -2.2 0M118.0 9.4a2.1 2.1 0 1 0 4.1 0a2.1 2.1 0 1 0 -4.1 0M195.7 194.8a2.4 2.4 0 1 0 4.9 0a2.4 2.4 0 1 0 -4.9 0M172.0 159.5a2.6 2.6 0 1 0 5.3 0a2.6 2.6 0 1 0 -5.3 0M40.9 174.1a2.3 2.3 0 1 0 4.6 0a2.3 2.3 0 1 0 -4.6 0M312.5 15.9a1.9 1.9 0 1 0 3.9 0a1.9 1.9 0 1 0 -3.9 0M172.8 266.8a2.3 2.3 0 1 0 4.6 0a2.3 2.3 0 1 0 -4.6 0M218.7 407.2a2.3 2.3 0 1 0 4.7 0a2.3 2.3 0 1 0 -4.7 0M330.5 206.0a2.3 2.3 0 1 0 4.6 0a2.3 2.3 0 1 0 -4.6 0M309.2 23.6a2.2 2.2 0 1 0 4.4 0a2.2 2.2 0 1 0 -4.4 0M351.6 80.8a2.2 2.2 0 1 0 4.4 0a2.2 2.2 0 1 0 -4.4 0M188.8 246.3a2.3 2.3 0 1 0 4.6 0a2.3 2.3 0 1 0 -4.6 0M276.8 387.8a1.6 1.6 0 1 0 3.1 0a1.6 1.6 0 1 0 -3.1 0M-2.0 96.9a2.6 2.6 0 1 0 5.1 0a2.6 2.6 0 1 0 -5.1 0M99.8 -1.3a2.0 2.0 0 1 0 4.0 0a2.0 2.0 0 1 0 -4.0 0M218.3 208.5a2.5 2.5 0 1 0 4.9 0a2.5 2.5 0 1 0 -4.9 0M124.3 40.4a2.2 2.2 0 1 0 4.3 0a2.2 2.2 0 1 0 -4.3 0M239.5 105.7a1.1 1.1 0 1 0 2.3 0a1.1 1.1 0 1 0 -2.3 0M379.7 37.2a1.4 1.4 0 1 0 2.9 0a1.4 1.4 0 1 0 -2.9 0M96.2 226.4a1.7 1.7 0 1 0 3.4 0a1.7 1.7 0 1 0 -3.4 0M238.1 276.6a2.5 2.5 0 1 0 5.0 0a2.5 2.5 0 1 0 -5.0 0M384.0 169.0a1.7 1.7 0 1 0 3.4 0a1.7 1.7 0 1 0 -3.4 0M14.7 33.3a1.8 1.8 0 1 0 3.6 0a1.8 1.8 0 1 0 -3.6 0M33.1 238.5a1.3 1.3 0 1 0 2.5 0a1.3 1.3 0 1 0 -2.5 0M168.1 23.5a2.7 2.7 0 1 0 5.3 0a2.7 2.7 0 1 0 -5.3 0M77.0 10.9a1.8 1.8 0 1 0 3.6 0a1.8 1.8 0 1 0 -3.6 0M333.8 92.3a1.9 1.9 0 1 0 3.8 0a1.9 1.9 0 1 0 -3.8 0M95.4 224.1a1.3 1.3 0 1 0 2.6 0a1.3 1.3 0 1 0 -2.6 0M161.4 264.7a1.7 1.7 0 1 0 3.4 0a1.7 1.7 0 1 0 -3.4 0M41.9 97.2a2.0 2.0 0 1 0 3.9 0a2.0 2.0 0 1 0 -3.9 0M360.1 140.3a1.3 1.3 0 1 0 2.7 0a1.3 1.3 0 1 0 -2.7 0M202.5 67.1a1.5 1.5 0 1 0 3.0 0a1.5 1.5 0 1 0 -3.0 0M37.9 50.9a2.0 2.0 0 1 0 4.0 0a2.0 2.0 0 1 0 -4.0 0M164.0 210.9a1.8 1.8 0 1 0 3.6 0a1.8 1.8 0 1 0 -3.6 0M399.1 285.4a1.9 1.9 0 1 0 3.8 0a1.9 1.9 0 1 0 -3.8 0M74.9 151.1a1.2 1.2 0 1 0 2.3 0a1.2 1.2 0 1 0 -2.3 0M9.3 197.6a1.2 1.2 0 1 0 2.3 0a1.2 1.2 0 1 0 -2.3 0M328.9 42.9a1.8 1.8 0 1 0 3.5 0a1.8 1.8 0 1 0 -3.5 0M241.3 176.0a2.3 2.3 0 1 0 4.6 0a2.3 2.3 0 1 0 -4.6 0M163.5 221.7a2.0 2.0 0 1 0 3.9 0a2.0 2.0 0 1 0 -3.9 0M45.2 -5.0a2.5 2.5 0 1 0 5.1 0a2.5 2.5 0 1 0 -5.1 0M85.9 94.7a2.1 2.1 0 1 0 4.2 0a2.1 2.1 0 1 0 -4.2 0M233.8 45.8a2.5 2.5 0 1 0 5.1 0a2.5 2.5 0 1 0 -5.1 0M246.7 299.7a1.6 1.6 0 1 0 3.2 0a1.6 1.6 0 1 0 -3.2 0M354.2 249.4a1.0 1.0 0 1 0 2.0 0a1.0 1.0 0 1 0 -2.0 0M140.0 11.1a2.2 2.2 0 1 0 4.3 0a2.2 2.2 0 1 0 -4.3 0M84.6 -2.1a2.5 2.5 0 1 0 5.0 0a2.5 2.5 0 1 0 -5.0 0M262.7 -6.3a2.7 2.7 0 1 0 5.4 0a2.7 2.7 0 1 0 -5.4 0M164.5 213.1a1.5 1.5 0 1 0 3.0 0a1.5 1.5 0 1 0 -3.0 0M347.1 59.1a1.7 1.7 0 1 0 3.4 0a1.7 1.7 0 1 0 -3.4 0M119.1 71.2a1.8 1.8 0 1 0 3.6 0a1.8 1.8 0 1 0 -3.6 0M17.6 116.1a2.5 2.5 0 1 0 5.0 0a2.5 2.5 0 1 0 -5.0 0M174.8 44.4a2.4 2.4 0 1 0 4.8 0a2.4 2.4 0 1 0 -4.8 0M404.7 113.7a2.5 2.5 0 1 0 4.9 0a2.5 2.5 0 1 0 -4.9 0M373.7 306.2a2.0 2.0 0 1 0 4.1 0a2.0 2.0 0 1 0 -4.1 0M91.8 41.3a2.4 2.4 0 1 0 4.7 0a2.4 2.4 0 1 0 -4.7 0M65.6 323.9a1.4 1.4 0 1 0 2.8 0a1.4 1.4 0 1 0 -2.8 0M139.9 53.5a1.9 1.9 0 1 0 3.8 0a1.9 1.9 0 1 0 -3.8 0M244.0 258.7a2.1 2.1 0 1 0 4.3 0a2.1 2.1 0 1 0 -4.3 0M64.6 291.5a1.9 1.9 0 1 0 3.8 0a1.9 1.9 0 1 0 -3.8 0M87.5 176.0a2.0 2.0 0 1 0 4.0 0a2.0 2.0 0 1 0 -4.0 0M382.7 66.3a2.2 2.2 0 1 0 4.3 0a2.2 2.2 0 1 0 -4.3 0M29.7 407.5a1.1 1.1 0 1 0 2.2 0a1.1 1.1 0 1 0 -2.2 0M192.8 76.1a2.4 2.4 0 1 0 4.7 0a2.4 2.4 0 1 0 -4.7 0M88.6 16.3a1.1 1.1 0 1 0 2.2 0a1.1 1.1 0 1 0 -2.2 0M202.5 281.2a2.2 2.2 0 1 0 4.3 0a2.2 2.2 0 1 0 -4.3 0M350.9 38.1a1.1 1.1 0 1 0 2.1 0a1.1 1.1 0 1 0 -2.1 0M351.3 26.6a2.1 2.1 0 1 0 4.1 0a2.1 2.1 0 1 0 -4.1 0M314.3 199.0a1.2 1.2 0 1 0 2.4 0a1.2 1.2 0 1 0 -2.4 0M281.2 224.2a1.2 1.2 0 1 0 2.3 0a1.2 1.2 0 1 0 -2.3 0M225.3 210.6a1.0 1.0 0 1 0 2.0 0a1.0 1.0 0 1 0 -2.0 0M186.9 140.0a1.3 1.3 0 1 0 2.5 0a1.3 1.3 0 1 0 -2.5 0M335.9 50.9a1.6 1.6 0 1 0 3.1 0a1.6 1.6 0 1 0 -3.1 0M164.2 241.3a1.6 1.6 0 1 0 3.2 0a1.6 1.6 0 1 0 -3.2 0M214.5 276.4a1.7 1.7 0 1 0 3.5 0a1.7 1.7 0 1 0 -3.5 0M301.2 254.2a2.6 2.6 0 1 0 5.3 0a2.6 2.6 0 1 0 -5.3 0M78.2 184.4a2.5 2.5 0 1 0 5.0 0a2.5 2.5 0 1 0 -5.0 0M321.1 18.5a1.8 1.8 0 1 0 3.6 0a1.8 1.8 0 1 0 -3.6 0M229.4 102.5a2.7 2.7 0 1 0 5.4 0a2.7 2.7 0 1 0 -5.4 0M180.9 399.3a1.8 1.8 0 1 0 3.6 0a1.8 1.8 0 1 0 -3.6 0M62.1 52.0a1.7 1.7 0 1 0 3.5 0a1.7 1.7 0 1 0 -3.5 0M342.3 194.0a2.0 2.0 0 1 0 4.1 0a2.0 2.0 0 1 0 -4.1 0M306.6 319.1a2.3 2.3 0 1 0 4.5 0a2.3 2.3 0 1 0 -4.5 0M323.0 402.7a2.1 2.1 0 1 0 4.1 0a2.1 2.1 0 1 0 -4.1 0M79.4 37.5a1.0 1.0 0 1 0 2.1 0a1.0 1.0 0 1 0 -2.1 0M337.6 133.9a1.7 1.7 0 1 0 3.5 0a1.7 1.7 0 1 0 -3.5 0M139.9 238.7a1.8 1.8 0 1 0 3.6 0a1.8 1.8 0 1 0 -3.6 0M55.4 28.4a1.4 1.4 0 1 0 2.9 0a1.4 1.4 0 1 0 -2.9 0M40.3 175.5a2.3 2.3 0 1 0 4.6 0a2.3 2.3 0 1 0 -4.6 0M257.9 172.8a1.1 1.1 0 1 0 2.2 0a1.1 1.1 0 1 0 -2.2 0M346.4 104.9a2.7 2.7 0 1 0 5.3 0a2.7 2.7 0 1 0 -5.3 0M326.0 68.9a2.4 2.4 0 1 0 4.7 0a2.4 2.4 0 1 0 -4.7 0M-2.2 286.6a1.9 1.9 0 1 0 3.8 0a1.9 1.9 0 1 0 -3.8 0M225.5 292.6a1.2 1.2 0 1 0 2.4 0a1.2 1.2 0 1 0 -2.4 0M154.6 107.5a1.4 1.4 0 1 0 2.8 0a1.4 1.4 0 1 0 -2.8 0M339.0 278.3a1.2 1.2 0 1 0 2.5 0a1.2 1.2 0 1 0 -2.5 0M76.7 219.6a2.5 2.5 0 1 0 5.0 0a2.5 2.5 0 1 0 -5.0 0M25.4 160.2a1.8 1.8 0 1 0 3.6 0a1.8 1.8 0 1 0 -3.6 0M184.6 312.0a2.3 2.3 0 1 0 4.5 0a2.3 2.3 0 1 0 -4.5 0M308.7 0.0a2.1 2.1 0 1 0 4.1 0a2.1 2.1 0 1 0 -4.1 0M127.4 123.5a2.7 2.7 0 1 0 5.4 0a2.7 2.7 0 1 0 -5.4 0M222.3 327.5a1.8 1.8 0 1 0 3.5 0a1.8 1.8 0 1 0 -3.5 0M275.6 176.5a1.1 1.1 0 1 0 2.3 0a1.1 1.1 0 1 0 -2.3 0M403.4 203.3a1.6 1.6 0 1 0 3.2 0a1.6 1.6 0 1 0 -3.2 0M57.0 189.1a2.1 2.1 0 1 0 4.3 0a2.1 2.1 0 1 0 -4.3 0M34.6 285.3a1.9 1.9 0 1 0 3.8 0a1.9 1.9 0 1 0 -3.8 0M349.7 387.1a1.8 1.8 0 1 0 3.6 0a1.8 1.8 0 1 0 -3.6 0M77.6 303.3a1.8 1.8 0 1 0 3.6 0a1.8 1.8 0 1 0 -3.6 0M371.2 104.3a1.9 1.9 0 1 0 3.8 0a1.9 1.9 0 1 0 -3.8 0M182.9 47.8a1.2 1.2 0 1 0 2.5 0a1.2 1.2 0 1 0 -2.5 0M85.8 232.2a2.3 2.3 0 1 0 4.7 0a2.3 2.3 0 1 0 -4.7 0M227.0 216.8a1.8 1.8 0 1 0 3.6 0a1.8 1.8 0 1 0 -3.6 0M101.0 276.1a1.7 1.7 0 1 0 3.3 0a1.7 1.7 0 1 0 -3.3 0M325.4 352.1a2.5 2.5 0 1 0 5.0 0a2.5 2.5 0 1 0 -5.0 0M31.8 184.6a2.4 2.4 0 1 0 4.8 0a2.4 2.4 0 1 0 -4.8 0M59.8 200.0a2.0 2.0 0 1 0 4.1 0a2.0 2.0 0 1 0 -4.1 0M32.8 301.8a2.0 2.0 0 1 0 4.0 0a2.0 2.0 0 1 0 -4.0 0M41.3 261.8a1.4 1.4 0 1 0 2.8 0a1.4 1.4 0 1 0 -2.8 0M301.0 142.1a2.1 2.1 0 1 0 4.2 0a2.1 2.1 0 1 0 -4.2 0M9.6 110.5a2.3 2.3 0 1 0 4.6 0a2.3 2.3 0 1 0 -4.6 0M384.1 61.6a1.6 1.6 0 1 0 3.3 0a1.6 1.6 0 1 0 -3.3 0M39.1 274.3a2.0 2.0 0 1 0 4.0 0a2.0 2.0 0 1 0 -4.0 0M143.2 58.8a1.5 1.5 0 1 0 3.0 0a1.5 1.5 0 1 0 -3.0 0M334.6 406.4a1.6 1.6 0 1 0 3.1 0a1.6 1.6 0 1 0 -3.1 0M130.7 54.9a2.2 2.2 0 1 0 4.3 0a2.2 2.2 0 1 0 -4.3 0M258.4 1.6a2.4 2.4 0 1 0 4.8 0a2.4 2.4 0 1 0 -4.8 0M44.5 248.7a2.7 2.7 0 1 0 5.3 0a2.7 2.7 0 1 0 -5.3 0M9.1 68.6a2.1 2.1 0 1 0 4.2 0a2.1 2.1 0 1 0 -4.2 0M254.7 29.1a1.5 1.5 0 1 0 2.9 0a1.5 1.5 0 1 0 -2.9 0M138.0 88.4a2.3 2.3 0 1 0 4.7 0a2.3 2.3 0 1 0 -4.7 0M334.2 268.0a2.4 2.4 0 1 0 4.7 0a2.4 2.4 0 1 0 -4.7 0M278.4 264.8a2.2 2.2 0 1 0 4.4 0a2.2 2.2 0 1 0 -4.4 0M78.3 -0.0a1.6 1.6 0 1 0 3.2 0a1.6 1.6 0 1 0 -3.2 0M47.0 78.1a2.2 2.2 0 1 0 4.4 0a2.2 2.2 0 1 0 -4.4 0M8.0 311.4a2.5 2.5 0 1 0 5.0 0a2.5 2.5 0 1 0 -5.0 0M297.8 224.5a1.1 1.1 0 1 0 2.1 0a1.1 1.1 0 1 0 -2.1 0M154.0 121.9a1.7 1.7 0 1 0 3.4 0a1.7 1.7 0 1 0 -3.4 0M68.5 83.4a2.5 2.5 0 1 0 5.0 0a2.5 2.5 0 1 0 -5.0 0M119.0 121.8a1.6 1.6 0 1 0 3.3 0a1.6 1.6 0 1 0 -3.3 0M402.2 281.6a1.3 1.3 0 1 0 2.6 0a1.3 1.3 0 1 0 -2.6 0M235.8 165.2a1.2 1.2 0 1 0 2.5 0a1.2 1.2 0 1 0 -2.5 0M37.9 303.4a1.2 1.2 0 1 0 2.4 0a1.2 1.2 0 1 0 -2.4 0M223.5 129.4a1.6 1.6 0 1 0 3.2 0a1.6 1.6 0 1 0 -3.2 0M107.5 292.1a1.7 1.7 0 1 0 3.5 0a1.7 1.7 0 1 0 -3.5 0M405.4 163.5a1.8 1.8 0 1 0 3.6 0a1.8 1.8 0 1 0 -3.6 0M93.6 -8.0a1.1 1.1 0 1 0 2.3 0a1.1 1.1 0 1 0 -2.3 0M382.2 119.0a1.2 1.2 0 1 0 2.4 0a1.2 1.2 0 1 0 -2.4 0M81.5 225.2a2.0 2.0 0 1 0 3.9 0a2.0 2.0 0 1 0 -3.9 0M18.4 105.2a1.5 1.5 0 1 0 3.0 0a1.5 1.5 0 1 0 -3.0 0M281.5 344.2a2.1 2.1 0 1 0 4.2 0a2.1 2.1 0 1 0 -4.2 0M355.9 62.3a2.7 2.7 0 1 0 5.3 0a2.7 2.7 0 1 0 -5.3 0M295.0 194.0a2.7 2.7 0 1 0 5.4 0a2.7 2.7 0 1 0 -5.4 0M391.1 17.6a1.7 1.7 0 1 0 3.5 0a1.7 1.7 0 1 0 -3.5 0M334.0 105.1a2.1 2.1 0 1 0 4.3 0a2.1 2.1 0 1 0 -4.3 0M77.7 140.1a1.5 1.5 0 1 0 3.1 0a1.5 1.5 0 1 0 -3.1 0M193.7 112.4a1.4 1.4 0 1 0 2.9 0a1.4 1.4 0 1 0 -2.9 0M130.6 249.6a1.1 1.1 0 1 0 2.2 0a1.1 1.1 0 1 0 -2.2 0M383.0 128.5a1.1 1.1 0 1 0 2.2 0a1.1 1.1 0 1 0 -2.2 0M61.6 235.5a2.7 2.7 0 1 0 5.3 0a2.7 2.7 0 1 0 -5.3 0M123.7 350.9a2.7 2.7 0 1 0 5.4 0a2.7 2.7 0 1 0 -5.4 0M256.9 17.5a1.8 1.8 0 1 0 3.6 0a1.8 1.8 0 1 0 -3.6 0M87.8 258.7a1.6 1.6 0 1 0 3.2 0a1.6 1.6 0 1 0 -3.2 0M6.8 191.0a2.4 2.4 0 1 0 4.8 0a2.4 2.4 0 1 0 -4.8 0M299.6 301.8a1.9 1.9 0 1 0 3.8 0a1.9 1.9 0 1 0 -3.8 0M400.3 -4.1a2.6 2.6 0 1 0 5.2 0a2.6 2.6 0 1 0 -5.2 0M280.5 220.1a1.5 1.5 0 1 0 3.0 0a1.5 1.5 0 1 0 -3.0 0M48.3 -4.0a1.0 1.0 0 1 0 2.1 0a1.0 1.0 0 1 0 -2.1 0M338.5 58.1a2.3 2.3 0 1 0 4.6 0a2.3 2.3 0 1 0 -4.6 0M336.5 -1.1a2.7 2.7 0 1 0 5.3 0a2.7 2.7 0 1 0 -5.3 0M69.8 241.9a1.3 1.3 0 1 0 2.5 0a1.3 1.3 0 1 0 -2.5 0M377.3 394.4a2.0 2.0 0 1 0 4.0 0a2.0 2.0 0 1 0 -4.0 0M398.1 158.8a2.3 2.3 0 1 0 4.6 0a2.3 2.3 0 1 0 -4.6 0M380.5 370.1a1.5 1.5 0 1 0 3.1 0a1.5 1.5 0 1 0 -3.1 0M287.1 190.2a1.3 1.3 0 1 0 2.6 0a1.3 1.3 0 1 0 -2.6 0M362.5 28.5a2.1 2.1 0 1 0 4.3 0a2.1 2.1 0 1 0 -4.3 0M78.8 72.3a1.4 1.4 0 1 0 2.8 0a1.4 1.4 0 1 0 -2.8 0M46.3 164.6a2.0 2.0 0 1 0 4.0 0a2.0 2.0 0 1 0 -4.0 0M268.9 304.9a2.6 2.6 0 1 0 5.1 0a2.6 2.6 0 1 0 -5.1 0"/>
</g></g><circle cx="157.9" cy="218.4" r="1.5" fill="#fff" fill-opacity="0.9"/><circle cx="161.9" cy="226.5" r="1.8" fill="#fff" fill-opacity="0.9"/><circle cx="151.8" cy="222.5" r="1.2" fill="#fff" fill-opacity="0.9"/><circle cx="133.6" cy="178.0" r="1.2" fill="#fff" fill-opacity="0.9"/><circle cx="109.3" cy="182.0" r="1.0" fill="#fff" fill-opacity="0.9"/><circle cx="178.1" cy="190.1" r="1.2" fill="#fff" fill-opacity="0.9"/><circle cx="340.0" cy="222.5" r="1.6" fill="#fff" fill-opacity="0.9"/><circle cx="336.0" cy="214.4" r="1.2" fill="#fff" fill-opacity="0.9"/><circle cx="352.2" cy="113.3" r="1.3" fill="#fff" fill-opacity="0.9"/><circle cx="364.3" cy="267.0" r="1.2" fill="#fff" fill-opacity="0.9"/><circle cx="190.3" cy="250.8" r="1.0" fill="#fff" fill-opacity="0.9"/><circle cx="384.6" cy="169.9" r="1.1" fill="#fff" fill-opacity="0.9"/></g><rect x="317.8" y="360.3" width="87.0" height="44.2" fill="#fff"/></g>
<rect x="117.1" y="1121.7" width="404.8" height="404.5" fill="none" stroke="#000" stroke-width="3"/>
<path d="M521.9 1123.2V1524.7" stroke="#00005a" stroke-width="3.2"/>
<path d="M117.1 1121.7v-15M117.1 1526.2v15M117.1 1526.2h-15M521.9 1526.2h15M157.6 1121.7v-8M157.6 1526.2v8M117.1 1485.8h-8M521.9 1485.8h8M198.1 1121.7v-15M198.1 1526.2v15M117.1 1445.3h-15M521.9 1445.3h15M238.5 1121.7v-8M238.5 1526.2v8M117.1 1404.9h-8M521.9 1404.9h8M279.0 1121.7v-15M279.0 1526.2v15M117.1 1364.4h-15M521.9 1364.4h15M319.5 1121.7v-8M319.5 1526.2v8M117.1 1324.0h-8M521.9 1324.0h8M360.0 1121.7v-15M360.0 1526.2v15M117.1 1283.5h-15M521.9 1283.5h15M400.5 1121.7v-8M400.5 1526.2v8M117.1 1243.1h-8M521.9 1243.1h8M440.9 1121.7v-15M440.9 1526.2v15M117.1 1202.6h-15M521.9 1202.6h15M481.4 1121.7v-8M481.4 1526.2v8M117.1 1162.2h-8M521.9 1162.2h8M521.9 1121.7v-15M521.9 1526.2v15M117.1 1121.7h-15M521.9 1121.7h15" stroke="#000" stroke-width="3" fill="none"/>
<g clip-path="url(#colclip_c)"><text x="92.3" y="1535.2" font-size="25.5" text-anchor="end" >0</text>
<text x="117.1" y="1575.5" font-size="25.5" text-anchor="middle" >0</text>
<text x="92.3" y="1454.3" font-size="25.5" text-anchor="end" >200</text>
<text x="198.1" y="1575.5" font-size="25.5" text-anchor="middle" >200</text>
<text x="92.3" y="1373.4" font-size="25.5" text-anchor="end" >400</text>
<text x="279.0" y="1575.5" font-size="25.5" text-anchor="middle" >400</text>
<text x="92.3" y="1292.5" font-size="25.5" text-anchor="end" >600</text>
<text x="360.0" y="1575.5" font-size="25.5" text-anchor="middle" >600</text>
<text x="92.3" y="1211.6" font-size="25.5" text-anchor="end" >800</text>
<text x="440.9" y="1575.5" font-size="25.5" text-anchor="middle" >800</text>
<text x="92.3" y="1130.7" font-size="25.5" text-anchor="end" >1000</text>
<text x="521.9" y="1575.5" font-size="25.5" text-anchor="middle" >1000</text>
<text transform="translate(318.6 1607.3) scale(1.065 1)" font-size="25.5" text-anchor="middle" >X (µm)</text>
<text transform="translate(23.6 1324.0) rotate(-90) scale(1.045 1)" font-size="25.5" text-anchor="middle">Y (µm)</text>
<text transform="translate(313.2 1652.0) scale(1.11 1)" font-size="45" text-anchor="middle" >(c)</text>
<text transform="translate(511.3 1514.5) scale(1.065 1)" font-size="29.5" text-anchor="end" >0.7 h</text>
<rect x="556.3" y="1157.5" width="23.9" height="371.5" fill="url(#cbar)" stroke="#222" stroke-width="0.8" stroke-opacity="0.6"/>
<text transform="translate(581.8 1165.8) scale(1.03 1)" font-size="22.5" text-anchor="start" >0.5</text>
<text transform="translate(581.8 1218.9) scale(1.03 1)" font-size="22.5" text-anchor="start" >0.4</text>
<text transform="translate(581.8 1272.0) scale(1.03 1)" font-size="22.5" text-anchor="start" >0.3</text>
<text transform="translate(581.8 1325.0) scale(1.03 1)" font-size="22.5" text-anchor="start" >0.2</text>
<text transform="translate(581.8 1378.1) scale(1.03 1)" font-size="22.5" text-anchor="start" >0.1</text>
<text transform="translate(581.8 1431.2) scale(1.03 1)" font-size="22.5" text-anchor="start" >0</text>
<text transform="translate(581.8 1484.3) scale(1.03 1)" font-size="22.5" text-anchor="start" >-0.1</text>
<text transform="translate(581.8 1537.3) scale(1.03 1)" font-size="22.5" text-anchor="start" >-0.2</text>
<text transform="translate(547.6 1138.5) scale(1.11 1)" font-size="25" text-anchor="start" >Z (µm)</text></g>
<g transform="translate(117.3 1682.3)"><g clip-path="url(#clip_d)"><g filter="url(#jet_d)"><rect x="-20" y="-20" width="444" height="441" fill="#404040"/>
<g filter="url(#blur20)">
<path d="M-20.2 248.7 L88.9 280.8 L222.4 288.9 L291.1 421.3 L-20.2 421.3 Z" fill="#5e5e5e" />
<ellipse cx="101.1" cy="369.1" rx="88.9" ry="32.1" fill="#707070"/>
<ellipse cx="161.7" cy="220.7" rx="56.6" ry="56.2" fill="#262626"/>
<ellipse cx="266.8" cy="220.7" rx="40.4" ry="48.1" fill="#525252"/>
<ellipse cx="60.6" cy="24.1" rx="60.6" ry="24.1" fill="#4f4f4f" transform="rotate(-20 60.6 24.1)"/>
<ellipse cx="355.8" cy="72.2" rx="48.5" ry="56.2" fill="#2b2b2b"/>
<ellipse cx="363.9" cy="240.7" rx="32.3" ry="100.3" fill="#303030"/>
</g>
<g filter="url(#blur4)">
<circle cx="169.8" cy="224.7" r="109.2" fill="none" stroke="#545454" stroke-width="9"/>
</g>
<g filter="url(#blur05)">
<path fill="#030303" d="M188.9 82.1a4.4 4.4 0 1 0 8.8 0a4.4 4.4 0 1 0 -8.8 0M67.8 7.5a2.7 2.7 0 1 0 5.4 0a2.7 2.7 0 1 0 -5.4 0M224.4 225.2a3.0 3.0 0 1 0 6.0 0a3.0 3.0 0 1 0 -6.0 0M121.1 194.1a4.5 4.5 0 1 0 9.0 0a4.5 4.5 0 1 0 -9.0 0M290.4 406.2a3.5 3.5 0 1 0 6.9 0a3.5 3.5 0 1 0 -6.9 0M337.7 130.7a4.8 4.8 0 1 0 9.6 0a4.8 4.8 0 1 0 -9.6 0M55.2 7.3a4.0 4.0 0 1 0 7.9 0a4.0 4.0 0 1 0 -7.9 0M10.6 99.6a3.3 3.3 0 1 0 6.5 0a3.3 3.3 0 1 0 -6.5 0M51.2 55.1a2.1 2.1 0 1 0 4.3 0a2.1 2.1 0 1 0 -4.3 0M276.3 390.0a3.8 3.8 0 1 0 7.6 0a3.8 3.8 0 1 0 -7.6 0M346.8 235.8a3.2 3.2 0 1 0 6.4 0a3.2 3.2 0 1 0 -6.4 0M350.8 158.0a4.6 4.6 0 1 0 9.1 0a4.6 4.6 0 1 0 -9.1 0M3.8 64.1a3.8 3.8 0 1 0 7.6 0a3.8 3.8 0 1 0 -7.6 0M-8.6 122.4a3.2 3.2 0 1 0 6.3 0a3.2 3.2 0 1 0 -6.3 0M21.6 3.9a4.8 4.8 0 1 0 9.7 0a4.8 4.8 0 1 0 -9.7 0M211.3 12.5a3.2 3.2 0 1 0 6.4 0a3.2 3.2 0 1 0 -6.4 0M124.2 83.4a4.2 4.2 0 1 0 8.4 0a4.2 4.2 0 1 0 -8.4 0M247.3 185.8a2.6 2.6 0 1 0 5.1 0a2.6 2.6 0 1 0 -5.1 0M277.4 131.8a3.1 3.1 0 1 0 6.2 0a3.1 3.1 0 1 0 -6.2 0M305.8 257.2a3.5 3.5 0 1 0 7.1 0a3.5 3.5 0 1 0 -7.1 0M171.9 89.0a4.7 4.7 0 1 0 9.4 0a4.7 4.7 0 1 0 -9.4 0M25.4 93.2a2.3 2.3 0 1 0 4.6 0a2.3 2.3 0 1 0 -4.6 0M316.7 99.2a2.8 2.8 0 1 0 5.6 0a2.8 2.8 0 1 0 -5.6 0M11.4 111.8a3.0 3.0 0 1 0 5.9 0a3.0 3.0 0 1 0 -5.9 0M252.8 189.6a3.1 3.1 0 1 0 6.2 0a3.1 3.1 0 1 0 -6.2 0M171.3 313.4a3.5 3.5 0 1 0 7.0 0a3.5 3.5 0 1 0 -7.0 0M2.2 81.4a3.0 3.0 0 1 0 6.0 0a3.0 3.0 0 1 0 -6.0 0M65.2 145.8a3.1 3.1 0 1 0 6.2 0a3.1 3.1 0 1 0 -6.2 0M250.3 122.4a4.5 4.5 0 1 0 9.1 0a4.5 4.5 0 1 0 -9.1 0M212.1 263.8a2.6 2.6 0 1 0 5.2 0a2.6 2.6 0 1 0 -5.2 0M201.1 9.6a3.0 3.0 0 1 0 5.9 0a3.0 3.0 0 1 0 -5.9 0M193.4 102.7a3.9 3.9 0 1 0 7.8 0a3.9 3.9 0 1 0 -7.8 0M300.3 145.6a4.7 4.7 0 1 0 9.5 0a4.7 4.7 0 1 0 -9.5 0M362.0 183.9a3.5 3.5 0 1 0 7.1 0a3.5 3.5 0 1 0 -7.1 0M372.8 345.7a2.2 2.2 0 1 0 4.4 0a2.2 2.2 0 1 0 -4.4 0M407.1 345.6a3.9 3.9 0 1 0 7.7 0a3.9 3.9 0 1 0 -7.7 0M170.1 -1.7a3.1 3.1 0 1 0 6.3 0a3.1 3.1 0 1 0 -6.3 0M203.2 102.0a4.7 4.7 0 1 0 9.4 0a4.7 4.7 0 1 0 -9.4 0M1.6 13.4a4.5 4.5 0 1 0 9.0 0a4.5 4.5 0 1 0 -9.0 0M147.0 134.9a4.7 4.7 0 1 0 9.4 0a4.7 4.7 0 1 0 -9.4 0M393.5 206.2a4.7 4.7 0 1 0 9.4 0a4.7 4.7 0 1 0 -9.4 0M288.4 383.1a4.4 4.4 0 1 0 8.8 0a4.4 4.4 0 1 0 -8.8 0M356.5 310.1a4.3 4.3 0 1 0 8.5 0a4.3 4.3 0 1 0 -8.5 0M99.9 124.4a2.1 2.1 0 1 0 4.3 0a2.1 2.1 0 1 0 -4.3 0M210.1 192.3a4.8 4.8 0 1 0 9.5 0a4.8 4.8 0 1 0 -9.5 0M63.0 338.2a4.7 4.7 0 1 0 9.5 0a4.7 4.7 0 1 0 -9.5 0M324.8 57.4a3.4 3.4 0 1 0 6.7 0a3.4 3.4 0 1 0 -6.7 0M337.6 208.5a3.9 3.9 0 1 0 7.9 0a3.9 3.9 0 1 0 -7.9 0M138.3 334.3a4.0 4.0 0 1 0 7.9 0a4.0 4.0 0 1 0 -7.9 0M195.8 246.3a2.2 2.2 0 1 0 4.5 0a2.2 2.2 0 1 0 -4.5 0M400.5 25.7a3.7 3.7 0 1 0 7.4 0a3.7 3.7 0 1 0 -7.4 0M244.7 47.6a4.7 4.7 0 1 0 9.4 0a4.7 4.7 0 1 0 -9.4 0M393.7 -1.1a4.1 4.1 0 1 0 8.2 0a4.1 4.1 0 1 0 -8.2 0M77.4 88.1a4.8 4.8 0 1 0 9.6 0a4.8 4.8 0 1 0 -9.6 0M192.2 18.1a3.3 3.3 0 1 0 6.6 0a3.3 3.3 0 1 0 -6.6 0M136.8 250.4a4.8 4.8 0 1 0 9.7 0a4.8 4.8 0 1 0 -9.7 0M69.6 325.6a4.7 4.7 0 1 0 9.5 0a4.7 4.7 0 1 0 -9.5 0M331.8 50.3a3.1 3.1 0 1 0 6.2 0a3.1 3.1 0 1 0 -6.2 0M210.2 375.6a4.4 4.4 0 1 0 8.8 0a4.4 4.4 0 1 0 -8.8 0M110.0 104.5a3.6 3.6 0 1 0 7.3 0a3.6 3.6 0 1 0 -7.3 0M155.7 165.7a4.0 4.0 0 1 0 8.0 0a4.0 4.0 0 1 0 -8.0 0M288.4 167.8a3.2 3.2 0 1 0 6.4 0a3.2 3.2 0 1 0 -6.4 0M321.5 56.8a3.3 3.3 0 1 0 6.6 0a3.3 3.3 0 1 0 -6.6 0M74.3 131.8a3.0 3.0 0 1 0 6.0 0a3.0 3.0 0 1 0 -6.0 0M94.8 103.9a3.1 3.1 0 1 0 6.1 0a3.1 3.1 0 1 0 -6.1 0M222.6 110.9a3.1 3.1 0 1 0 6.2 0a3.1 3.1 0 1 0 -6.2 0M185.1 17.0a4.8 4.8 0 1 0 9.5 0a4.8 4.8 0 1 0 -9.5 0M221.4 33.6a2.2 2.2 0 1 0 4.3 0a2.2 2.2 0 1 0 -4.3 0M111.5 221.3a3.3 3.3 0 1 0 6.6 0a3.3 3.3 0 1 0 -6.6 0M200.1 186.2a3.9 3.9 0 1 0 7.8 0a3.9 3.9 0 1 0 -7.8 0M333.8 84.8a3.8 3.8 0 1 0 7.7 0a3.8 3.8 0 1 0 -7.7 0M176.8 151.3a3.2 3.2 0 1 0 6.4 0a3.2 3.2 0 1 0 -6.4 0M344.7 168.1a2.4 2.4 0 1 0 4.8 0a2.4 2.4 0 1 0 -4.8 0M17.0 90.7a4.7 4.7 0 1 0 9.3 0a4.7 4.7 0 1 0 -9.3 0M244.7 112.8a4.3 4.3 0 1 0 8.5 0a4.3 4.3 0 1 0 -8.5 0M197.1 112.2a4.2 4.2 0 1 0 8.4 0a4.2 4.2 0 1 0 -8.4 0M208.1 350.6a3.0 3.0 0 1 0 5.9 0a3.0 3.0 0 1 0 -5.9 0M391.7 380.8a2.7 2.7 0 1 0 5.3 0a2.7 2.7 0 1 0 -5.3 0M82.5 78.6a3.3 3.3 0 1 0 6.5 0a3.3 3.3 0 1 0 -6.5 0M375.1 208.6a3.5 3.5 0 1 0 7.0 0a3.5 3.5 0 1 0 -7.0 0M349.2 403.4a4.5 4.5 0 1 0 9.0 0a4.5 4.5 0 1 0 -9.0 0M103.5 7.5a3.0 3.0 0 1 0 5.9 0a3.0 3.0 0 1 0 -5.9 0M388.4 193.4a2.7 2.7 0 1 0 5.4 0a2.7 2.7 0 1 0 -5.4 0M155.4 198.8a2.0 2.0 0 1 0 4.1 0a2.0 2.0 0 1 0 -4.1 0M342.1 211.8a3.7 3.7 0 1 0 7.3 0a3.7 3.7 0 1 0 -7.3 0M330.5 354.8a3.0 3.0 0 1 0 6.1 0a3.0 3.0 0 1 0 -6.1 0M311.7 197.1a4.8 4.8 0 1 0 9.5 0a4.8 4.8 0 1 0 -9.5 0M217.2 223.3a3.1 3.1 0 1 0 6.1 0a3.1 3.1 0 1 0 -6.1 0M270.9 387.8a4.9 4.9 0 1 0 9.7 0a4.9 4.9 0 1 0 -9.7 0M52.0 5.7a3.1 3.1 0 1 0 6.1 0a3.1 3.1 0 1 0 -6.1 0M225.8 383.4a3.1 3.1 0 1 0 6.1 0a3.1 3.1 0 1 0 -6.1 0M390.7 50.9a2.5 2.5 0 1 0 5.0 0a2.5 2.5 0 1 0 -5.0 0M72.9 34.1a4.8 4.8 0 1 0 9.6 0a4.8 4.8 0 1 0 -9.6 0M357.2 50.7a3.8 3.8 0 1 0 7.5 0a3.8 3.8 0 1 0 -7.5 0M371.7 217.9a3.8 3.8 0 1 0 7.6 0a3.8 3.8 0 1 0 -7.6 0M110.2 18.0a4.9 4.9 0 1 0 9.7 0a4.9 4.9 0 1 0 -9.7 0M-8.7 29.1a2.7 2.7 0 1 0 5.3 0a2.7 2.7 0 1 0 -5.3 0M138.6 286.1a3.4 3.4 0 1 0 6.8 0a3.4 3.4 0 1 0 -6.8 0M124.9 15.8a3.7 3.7 0 1 0 7.4 0a3.7 3.7 0 1 0 -7.4 0M226.2 265.0a3.7 3.7 0 1 0 7.3 0a3.7 3.7 0 1 0 -7.3 0M405.8 96.9a2.4 2.4 0 1 0 4.9 0a2.4 2.4 0 1 0 -4.9 0M134.6 393.9a3.1 3.1 0 1 0 6.2 0a3.1 3.1 0 1 0 -6.2 0M175.8 274.7a3.2 3.2 0 1 0 6.3 0a3.2 3.2 0 1 0 -6.3 0M314.8 26.0a2.1 2.1 0 1 0 4.2 0a2.1 2.1 0 1 0 -4.2 0M316.1 408.3a3.5 3.5 0 1 0 7.0 0a3.5 3.5 0 1 0 -7.0 0M183.1 98.2a4.5 4.5 0 1 0 9.0 0a4.5 4.5 0 1 0 -9.0 0M54.4 95.0a2.3 2.3 0 1 0 4.5 0a2.3 2.3 0 1 0 -4.5 0M190.9 136.0a3.4 3.4 0 1 0 6.8 0a3.4 3.4 0 1 0 -6.8 0M360.1 124.9a4.5 4.5 0 1 0 9.0 0a4.5 4.5 0 1 0 -9.0 0M327.8 335.6a3.0 3.0 0 1 0 6.1 0a3.0 3.0 0 1 0 -6.1 0M394.3 170.3a2.3 2.3 0 1 0 4.5 0a2.3 2.3 0 1 0 -4.5 0M91.8 112.7a2.7 2.7 0 1 0 5.5 0a2.7 2.7 0 1 0 -5.5 0M2.2 24.6a4.6 4.6 0 1 0 9.2 0a4.6 4.6 0 1 0 -9.2 0M3.6 194.2a2.5 2.5 0 1 0 4.9 0a2.5 2.5 0 1 0 -4.9 0M244.4 181.7a4.1 4.1 0 1 0 8.1 0a4.1 4.1 0 1 0 -8.1 0M364.2 108.0a4.8 4.8 0 1 0 9.6 0a4.8 4.8 0 1 0 -9.6 0M-8.4 271.2a2.5 2.5 0 1 0 4.9 0a2.5 2.5 0 1 0 -4.9 0M400.4 150.9a4.0 4.0 0 1 0 7.9 0a4.0 4.0 0 1 0 -7.9 0M347.1 39.5a2.7 2.7 0 1 0 5.4 0a2.7 2.7 0 1 0 -5.4 0M221.9 72.1a3.5 3.5 0 1 0 7.0 0a3.5 3.5 0 1 0 -7.0 0M40.0 30.0a2.2 2.2 0 1 0 4.4 0a2.2 2.2 0 1 0 -4.4 0M263.1 -5.0a3.0 3.0 0 1 0 6.0 0a3.0 3.0 0 1 0 -6.0 0M319.2 82.1a4.1 4.1 0 1 0 8.3 0a4.1 4.1 0 1 0 -8.3 0M73.7 257.0a4.5 4.5 0 1 0 9.0 0a4.5 4.5 0 1 0 -9.0 0M73.1 113.0a4.3 4.3 0 1 0 8.5 0a4.3 4.3 0 1 0 -8.5 0M162.6 152.3a3.2 3.2 0 1 0 6.4 0a3.2 3.2 0 1 0 -6.4 0M228.6 231.2a4.9 4.9 0 1 0 9.7 0a4.9 4.9 0 1 0 -9.7 0M70.3 112.4a4.2 4.2 0 1 0 8.4 0a4.2 4.2 0 1 0 -8.4 0M254.2 28.2a2.1 2.1 0 1 0 4.3 0a2.1 2.1 0 1 0 -4.3 0M124.8 43.7a2.5 2.5 0 1 0 5.1 0a2.5 2.5 0 1 0 -5.1 0M7.3 128.7a4.4 4.4 0 1 0 8.8 0a4.4 4.4 0 1 0 -8.8 0M257.3 104.4a3.5 3.5 0 1 0 6.9 0a3.5 3.5 0 1 0 -6.9 0M180.4 292.3a2.8 2.8 0 1 0 5.6 0a2.8 2.8 0 1 0 -5.6 0M401.7 390.9a3.9 3.9 0 1 0 7.8 0a3.9 3.9 0 1 0 -7.8 0M189.7 145.0a4.6 4.6 0 1 0 9.3 0a4.6 4.6 0 1 0 -9.3 0M399.6 330.6a3.3 3.3 0 1 0 6.6 0a3.3 3.3 0 1 0 -6.6 0M181.8 155.0a3.5 3.5 0 1 0 7.0 0a3.5 3.5 0 1 0 -7.0 0M279.6 83.2a3.1 3.1 0 1 0 6.2 0a3.1 3.1 0 1 0 -6.2 0M5.6 258.6a2.5 2.5 0 1 0 5.1 0a2.5 2.5 0 1 0 -5.1 0M25.5 253.9a2.9 2.9 0 1 0 5.7 0a2.9 2.9 0 1 0 -5.7 0M117.6 95.8a3.4 3.4 0 1 0 6.7 0a3.4 3.4 0 1 0 -6.7 0M398.4 131.8a2.7 2.7 0 1 0 5.5 0a2.7 2.7 0 1 0 -5.5 0M192.6 188.9a3.0 3.0 0 1 0 6.0 0a3.0 3.0 0 1 0 -6.0 0M308.4 339.9a3.4 3.4 0 1 0 6.7 0a3.4 3.4 0 1 0 -6.7 0M346.4 110.0a4.1 4.1 0 1 0 8.2 0a4.1 4.1 0 1 0 -8.2 0M369.9 70.9a3.1 3.1 0 1 0 6.1 0a3.1 3.1 0 1 0 -6.1 0M149.7 105.6a4.6 4.6 0 1 0 9.3 0a4.6 4.6 0 1 0 -9.3 0M71.4 83.8a4.1 4.1 0 1 0 8.3 0a4.1 4.1 0 1 0 -8.3 0M195.8 9.3a2.2 2.2 0 1 0 4.4 0a2.2 2.2 0 1 0 -4.4 0M60.1 -1.2a4.6 4.6 0 1 0 9.3 0a4.6 4.6 0 1 0 -9.3 0M138.8 133.0a3.2 3.2 0 1 0 6.4 0a3.2 3.2 0 1 0 -6.4 0M29.4 62.4a3.5 3.5 0 1 0 6.9 0a3.5 3.5 0 1 0 -6.9 0M229.5 165.9a4.5 4.5 0 1 0 9.1 0a4.5 4.5 0 1 0 -9.1 0M30.1 29.6a3.0 3.0 0 1 0 5.9 0a3.0 3.0 0 1 0 -5.9 0M148.1 83.6a2.1 2.1 0 1 0 4.1 0a2.1 2.1 0 1 0 -4.1 0M379.5 95.4a3.0 3.0 0 1 0 6.0 0a3.0 3.0 0 1 0 -6.0 0M245.1 195.3a3.6 3.6 0 1 0 7.1 0a3.6 3.6 0 1 0 -7.1 0M26.3 306.6a2.3 2.3 0 1 0 4.7 0a2.3 2.3 0 1 0 -4.7 0M353.4 101.3a4.3 4.3 0 1 0 8.6 0a4.3 4.3 0 1 0 -8.6 0M273.9 -2.0a2.3 2.3 0 1 0 4.5 0a2.3 2.3 0 1 0 -4.5 0M-7.5 132.6a2.1 2.1 0 1 0 4.2 0a2.1 2.1 0 1 0 -4.2 0M373.2 10.3a2.5 2.5 0 1 0 4.9 0a2.5 2.5 0 1 0 -4.9 0M335.5 77.1a3.9 3.9 0 1 0 7.7 0a3.9 3.9 0 1 0 -7.7 0M20.9 7.6a4.0 4.0 0 1 0 7.9 0a4.0 4.0 0 1 0 -7.9 0M16.4 53.8a4.2 4.2 0 1 0 8.5 0a4.2 4.2 0 1 0 -8.5 0M198.6 57.3a3.7 3.7 0 1 0 7.3 0a3.7 3.7 0 1 0 -7.3 0M340.5 28.8a4.2 4.2 0 1 0 8.5 0a4.2 4.2 0 1 0 -8.5 0M336.8 191.5a4.4 4.4 0 1 0 8.8 0a4.4 4.4 0 1 0 -8.8 0M122.4 64.5a4.0 4.0 0 1 0 7.9 0a4.0 4.0 0 1 0 -7.9 0M235.5 385.3a3.4 3.4 0 1 0 6.8 0a3.4 3.4 0 1 0 -6.8 0M131.6 136.2a3.8 3.8 0 1 0 7.6 0a3.8 3.8 0 1 0 -7.6 0M49.0 262.3a4.7 4.7 0 1 0 9.4 0a4.7 4.7 0 1 0 -9.4 0M187.0 285.5a3.2 3.2 0 1 0 6.4 0a3.2 3.2 0 1 0 -6.4 0M18.3 185.5a2.8 2.8 0 1 0 5.5 0a2.8 2.8 0 1 0 -5.5 0M367.7 186.7a3.2 3.2 0 1 0 6.4 0a3.2 3.2 0 1 0 -6.4 0M394.6 11.6a3.7 3.7 0 1 0 7.3 0a3.7 3.7 0 1 0 -7.3 0M167.7 107.2a3.9 3.9 0 1 0 7.9 0a3.9 3.9 0 1 0 -7.9 0M147.3 38.1a2.3 2.3 0 1 0 4.6 0a2.3 2.3 0 1 0 -4.6 0M147.9 132.9a4.2 4.2 0 1 0 8.4 0a4.2 4.2 0 1 0 -8.4 0M50.3 26.6a4.1 4.1 0 1 0 8.2 0a4.1 4.1 0 1 0 -8.2 0M186.9 -1.2a2.6 2.6 0 1 0 5.1 0a2.6 2.6 0 1 0 -5.1 0M199.3 171.8a4.1 4.1 0 1 0 8.2 0a4.1 4.1 0 1 0 -8.2 0M159.5 126.5a3.0 3.0 0 1 0 6.1 0a3.0 3.0 0 1 0 -6.1 0M403.3 124.3a2.5 2.5 0 1 0 5.0 0a2.5 2.5 0 1 0 -5.0 0M307.7 1.9a2.5 2.5 0 1 0 5.0 0a2.5 2.5 0 1 0 -5.0 0M256.7 62.9a3.7 3.7 0 1 0 7.5 0a3.7 3.7 0 1 0 -7.5 0M366.0 76.6a4.5 4.5 0 1 0 9.1 0a4.5 4.5 0 1 0 -9.1 0M65.8 309.2a3.6 3.6 0 1 0 7.2 0a3.6 3.6 0 1 0 -7.2 0M49.5 70.4a3.3 3.3 0 1 0 6.6 0a3.3 3.3 0 1 0 -6.6 0M45.6 100.8a2.0 2.0 0 1 0 4.1 0a2.0 2.0 0 1 0 -4.1 0M139.1 61.9a3.4 3.4 0 1 0 6.8 0a3.4 3.4 0 1 0 -6.8 0M298.9 19.9a2.5 2.5 0 1 0 4.9 0a2.5 2.5 0 1 0 -4.9 0M272.7 382.5a2.5 2.5 0 1 0 5.0 0a2.5 2.5 0 1 0 -5.0 0M214.7 207.1a2.4 2.4 0 1 0 4.8 0a2.4 2.4 0 1 0 -4.8 0M161.5 380.8a2.5 2.5 0 1 0 5.1 0a2.5 2.5 0 1 0 -5.1 0M10.1 190.0a3.9 3.9 0 1 0 7.7 0a3.9 3.9 0 1 0 -7.7 0M106.2 -0.2a4.4 4.4 0 1 0 8.7 0a4.4 4.4 0 1 0 -8.7 0M235.8 42.4a3.2 3.2 0 1 0 6.4 0a3.2 3.2 0 1 0 -6.4 0M92.5 56.4a2.2 2.2 0 1 0 4.4 0a2.2 2.2 0 1 0 -4.4 0M347.0 364.5a3.5 3.5 0 1 0 7.0 0a3.5 3.5 0 1 0 -7.0 0M71.0 65.4a3.8 3.8 0 1 0 7.7 0a3.8 3.8 0 1 0 -7.7 0M284.0 353.6a3.0 3.0 0 1 0 6.1 0a3.0 3.0 0 1 0 -6.1 0M73.1 360.6a2.6 2.6 0 1 0 5.2 0a2.6 2.6 0 1 0 -5.2 0M139.8 27.1a4.2 4.2 0 1 0 8.3 0a4.2 4.2 0 1 0 -8.3 0M186.4 196.2a4.7 4.7 0 1 0 9.3 0a4.7 4.7 0 1 0 -9.3 0M294.2 403.6a2.0 2.0 0 1 0 4.1 0a2.0 2.0 0 1 0 -4.1 0M167.2 215.1a2.6 2.6 0 1 0 5.2 0a2.6 2.6 0 1 0 -5.2 0M265.0 397.5a4.5 4.5 0 1 0 9.1 0a4.5 4.5 0 1 0 -9.1 0M24.4 229.7a3.2 3.2 0 1 0 6.4 0a3.2 3.2 0 1 0 -6.4 0M101.8 114.6a3.2 3.2 0 1 0 6.4 0a3.2 3.2 0 1 0 -6.4 0M169.9 132.9a4.1 4.1 0 1 0 8.3 0a4.1 4.1 0 1 0 -8.3 0M235.3 36.7a2.6 2.6 0 1 0 5.3 0a2.6 2.6 0 1 0 -5.3 0M-2.1 88.3a3.1 3.1 0 1 0 6.1 0a3.1 3.1 0 1 0 -6.1 0M96.2 201.2a4.0 4.0 0 1 0 8.0 0a4.0 4.0 0 1 0 -8.0 0M347.1 211.2a2.3 2.3 0 1 0 4.6 0a2.3 2.3 0 1 0 -4.6 0M349.9 137.0a3.6 3.6 0 1 0 7.2 0a3.6 3.6 0 1 0 -7.2 0M391.8 33.2a3.9 3.9 0 1 0 7.8 0a3.9 3.9 0 1 0 -7.8 0M383.7 34.4a4.7 4.7 0 1 0 9.3 0a4.7 4.7 0 1 0 -9.3 0M25.8 103.1a4.6 4.6 0 1 0 9.2 0a4.6 4.6 0 1 0 -9.2 0M146.2 150.5a4.1 4.1 0 1 0 8.3 0a4.1 4.1 0 1 0 -8.3 0M199.1 149.9a3.2 3.2 0 1 0 6.3 0a3.2 3.2 0 1 0 -6.3 0M-9.6 128.4a2.7 2.7 0 1 0 5.3 0a2.7 2.7 0 1 0 -5.3 0M393.3 6.8a2.6 2.6 0 1 0 5.3 0a2.6 2.6 0 1 0 -5.3 0M126.0 5.3a3.5 3.5 0 1 0 6.9 0a3.5 3.5 0 1 0 -6.9 0M105.2 398.7a2.1 2.1 0 1 0 4.2 0a2.1 2.1 0 1 0 -4.2 0M122.9 108.7a4.6 4.6 0 1 0 9.1 0a4.6 4.6 0 1 0 -9.1 0M158.5 -1.6a3.4 3.4 0 1 0 6.9 0a3.4 3.4 0 1 0 -6.9 0M375.6 119.7a4.9 4.9 0 1 0 9.8 0a4.9 4.9 0 1 0 -9.8 0M7.2 285.2a4.7 4.7 0 1 0 9.5 0a4.7 4.7 0 1 0 -9.5 0M27.4 153.2a2.5 2.5 0 1 0 5.0 0a2.5 2.5 0 1 0 -5.0 0M367.3 396.1a3.3 3.3 0 1 0 6.7 0a3.3 3.3 0 1 0 -6.7 0M-9.5 7.6a4.3 4.3 0 1 0 8.7 0a4.3 4.3 0 1 0 -8.7 0M198.2 353.7a2.7 2.7 0 1 0 5.4 0a2.7 2.7 0 1 0 -5.4 0M24.1 -7.8a3.4 3.4 0 1 0 6.7 0a3.4 3.4 0 1 0 -6.7 0M407.2 45.2a4.9 4.9 0 1 0 9.9 0a4.9 4.9 0 1 0 -9.9 0M31.6 59.6a3.7 3.7 0 1 0 7.4 0a3.7 3.7 0 1 0 -7.4 0M234.7 91.9a4.7 4.7 0 1 0 9.5 0a4.7 4.7 0 1 0 -9.5 0M94.4 122.7a2.7 2.7 0 1 0 5.5 0a2.7 2.7 0 1 0 -5.5 0M183.5 152.0a5.0 5.0 0 1 0 9.9 0a5.0 5.0 0 1 0 -9.9 0M176.6 302.0a3.0 3.0 0 1 0 6.0 0a3.0 3.0 0 1 0 -6.0 0M151.8 56.3a3.0 3.0 0 1 0 6.0 0a3.0 3.0 0 1 0 -6.0 0M40.3 138.9a3.0 3.0 0 1 0 5.9 0a3.0 3.0 0 1 0 -5.9 0M55.1 110.1a3.6 3.6 0 1 0 7.2 0a3.6 3.6 0 1 0 -7.2 0M261.3 364.7a3.6 3.6 0 1 0 7.3 0a3.6 3.6 0 1 0 -7.3 0M113.7 238.1a2.8 2.8 0 1 0 5.6 0a2.8 2.8 0 1 0 -5.6 0M200.9 33.6a3.2 3.2 0 1 0 6.4 0a3.2 3.2 0 1 0 -6.4 0M330.4 40.6a3.4 3.4 0 1 0 6.9 0a3.4 3.4 0 1 0 -6.9 0M164.6 72.5a2.4 2.4 0 1 0 4.7 0a2.4 2.4 0 1 0 -4.7 0M388.3 205.0a3.7 3.7 0 1 0 7.5 0a3.7 3.7 0 1 0 -7.5 0M82.3 195.3a3.8 3.8 0 1 0 7.7 0a3.8 3.8 0 1 0 -7.7 0M260.5 116.9a2.5 2.5 0 1 0 5.0 0a2.5 2.5 0 1 0 -5.0 0M258.2 260.1a4.7 4.7 0 1 0 9.4 0a4.7 4.7 0 1 0 -9.4 0M-11.3 26.9a3.8 3.8 0 1 0 7.7 0a3.8 3.8 0 1 0 -7.7 0M69.6 322.9a4.9 4.9 0 1 0 9.8 0a4.9 4.9 0 1 0 -9.8 0M305.0 17.4a3.5 3.5 0 1 0 6.9 0a3.5 3.5 0 1 0 -6.9 0M163.4 206.8a2.1 2.1 0 1 0 4.3 0a2.1 2.1 0 1 0 -4.3 0M139.6 42.9a2.4 2.4 0 1 0 4.7 0a2.4 2.4 0 1 0 -4.7 0M335.6 44.4a3.0 3.0 0 1 0 6.0 0a3.0 3.0 0 1 0 -6.0 0M269.1 42.2a4.4 4.4 0 1 0 8.9 0a4.4 4.4 0 1 0 -8.9 0M284.0 32.7a3.3 3.3 0 1 0 6.6 0a3.3 3.3 0 1 0 -6.6 0M37.0 267.8a4.8 4.8 0 1 0 9.6 0a4.8 4.8 0 1 0 -9.6 0M372.5 161.0a2.0 2.0 0 1 0 4.0 0a2.0 2.0 0 1 0 -4.0 0M374.2 -3.8a3.1 3.1 0 1 0 6.2 0a3.1 3.1 0 1 0 -6.2 0M347.0 7.1a3.7 3.7 0 1 0 7.4 0a3.7 3.7 0 1 0 -7.4 0M277.4 393.5a2.9 2.9 0 1 0 5.8 0a2.9 2.9 0 1 0 -5.8 0M197.4 19.3a2.2 2.2 0 1 0 4.4 0a2.2 2.2 0 1 0 -4.4 0M114.6 41.4a3.7 3.7 0 1 0 7.4 0a3.7 3.7 0 1 0 -7.4 0M-9.7 352.3a3.8 3.8 0 1 0 7.5 0a3.8 3.8 0 1 0 -7.5 0M11.7 5.6a4.8 4.8 0 1 0 9.5 0a4.8 4.8 0 1 0 -9.5 0M9.8 119.0a3.3 3.3 0 1 0 6.5 0a3.3 3.3 0 1 0 -6.5 0M76.6 198.0a2.5 2.5 0 1 0 5.1 0a2.5 2.5 0 1 0 -5.1 0M225.5 196.9a3.8 3.8 0 1 0 7.6 0a3.8 3.8 0 1 0 -7.6 0M168.9 164.7a4.7 4.7 0 1 0 9.5 0a4.7 4.7 0 1 0 -9.5 0M159.6 -0.4a2.0 2.0 0 1 0 4.1 0a2.0 2.0 0 1 0 -4.1 0M131.4 257.0a4.6 4.6 0 1 0 9.2 0a4.6 4.6 0 1 0 -9.2 0M250.0 315.4a4.8 4.8 0 1 0 9.5 0a4.8 4.8 0 1 0 -9.5 0M142.1 259.5a2.7 2.7 0 1 0 5.3 0a2.7 2.7 0 1 0 -5.3 0"/>
<path fill="#0a0a0a" d="M201.2 90.5a3.1 3.1 0 1 0 6.2 0a3.1 3.1 0 1 0 -6.2 0M361.8 162.9a3.4 3.4 0 1 0 6.7 0a3.4 3.4 0 1 0 -6.7 0M46.1 237.5a4.2 4.2 0 1 0 8.3 0a4.2 4.2 0 1 0 -8.3 0M46.0 31.5a2.1 2.1 0 1 0 4.2 0a2.1 2.1 0 1 0 -4.2 0M96.1 282.7a2.1 2.1 0 1 0 4.3 0a2.1 2.1 0 1 0 -4.3 0M248.9 127.9a2.2 2.2 0 1 0 4.4 0a2.2 2.2 0 1 0 -4.4 0M32.7 23.7a4.4 4.4 0 1 0 8.9 0a4.4 4.4 0 1 0 -8.9 0M84.0 12.3a2.7 2.7 0 1 0 5.5 0a2.7 2.7 0 1 0 -5.5 0M293.1 182.2a3.2 3.2 0 1 0 6.3 0a3.2 3.2 0 1 0 -6.3 0M275.9 94.3a3.2 3.2 0 1 0 6.3 0a3.2 3.2 0 1 0 -6.3 0M26.2 65.1a3.9 3.9 0 1 0 7.7 0a3.9 3.9 0 1 0 -7.7 0M299.2 184.9a4.9 4.9 0 1 0 9.7 0a4.9 4.9 0 1 0 -9.7 0M366.2 203.5a4.1 4.1 0 1 0 8.1 0a4.1 4.1 0 1 0 -8.1 0M-3.9 201.1a3.8 3.8 0 1 0 7.6 0a3.8 3.8 0 1 0 -7.6 0M69.4 146.6a2.5 2.5 0 1 0 5.0 0a2.5 2.5 0 1 0 -5.0 0M265.0 55.4a3.6 3.6 0 1 0 7.2 0a3.6 3.6 0 1 0 -7.2 0M-3.8 145.7a4.6 4.6 0 1 0 9.2 0a4.6 4.6 0 1 0 -9.2 0M304.9 261.9a4.8 4.8 0 1 0 9.6 0a4.8 4.8 0 1 0 -9.6 0M365.5 206.4a2.7 2.7 0 1 0 5.4 0a2.7 2.7 0 1 0 -5.4 0M314.4 353.6a4.5 4.5 0 1 0 9.0 0a4.5 4.5 0 1 0 -9.0 0M70.3 86.8a4.4 4.4 0 1 0 8.9 0a4.4 4.4 0 1 0 -8.9 0M353.0 305.5a2.8 2.8 0 1 0 5.5 0a2.8 2.8 0 1 0 -5.5 0M361.7 166.3a2.1 2.1 0 1 0 4.3 0a2.1 2.1 0 1 0 -4.3 0M306.4 54.3a2.3 2.3 0 1 0 4.7 0a2.3 2.3 0 1 0 -4.7 0M346.3 394.2a3.1 3.1 0 1 0 6.1 0a3.1 3.1 0 1 0 -6.1 0M127.2 150.5a2.5 2.5 0 1 0 5.0 0a2.5 2.5 0 1 0 -5.0 0M86.2 42.6a2.6 2.6 0 1 0 5.3 0a2.6 2.6 0 1 0 -5.3 0M170.6 269.0a2.4 2.4 0 1 0 4.8 0a2.4 2.4 0 1 0 -4.8 0M-10.4 162.8a4.6 4.6 0 1 0 9.3 0a4.6 4.6 0 1 0 -9.3 0M379.3 9.1a2.7 2.7 0 1 0 5.4 0a2.7 2.7 0 1 0 -5.4 0M311.7 71.0a3.9 3.9 0 1 0 7.7 0a3.9 3.9 0 1 0 -7.7 0M183.2 281.0a2.6 2.6 0 1 0 5.1 0a2.6 2.6 0 1 0 -5.1 0M251.9 18.1a4.9 4.9 0 1 0 9.8 0a4.9 4.9 0 1 0 -9.8 0M25.2 162.0a4.6 4.6 0 1 0 9.2 0a4.6 4.6 0 1 0 -9.2 0M276.1 123.6a4.2 4.2 0 1 0 8.5 0a4.2 4.2 0 1 0 -8.5 0M396.6 318.0a3.3 3.3 0 1 0 6.6 0a3.3 3.3 0 1 0 -6.6 0M362.7 266.1a4.2 4.2 0 1 0 8.3 0a4.2 4.2 0 1 0 -8.3 0M401.5 52.9a3.1 3.1 0 1 0 6.3 0a3.1 3.1 0 1 0 -6.3 0M338.4 33.4a2.1 2.1 0 1 0 4.2 0a2.1 2.1 0 1 0 -4.2 0M205.7 29.0a3.4 3.4 0 1 0 6.7 0a3.4 3.4 0 1 0 -6.7 0M375.7 324.6a2.2 2.2 0 1 0 4.4 0a2.2 2.2 0 1 0 -4.4 0M396.3 222.2a2.9 2.9 0 1 0 5.9 0a2.9 2.9 0 1 0 -5.9 0M132.9 214.4a2.0 2.0 0 1 0 4.0 0a2.0 2.0 0 1 0 -4.0 0M126.8 184.7a3.3 3.3 0 1 0 6.7 0a3.3 3.3 0 1 0 -6.7 0M292.2 5.0a4.0 4.0 0 1 0 8.0 0a4.0 4.0 0 1 0 -8.0 0M174.3 229.2a4.0 4.0 0 1 0 8.1 0a4.0 4.0 0 1 0 -8.1 0M169.7 400.7a4.7 4.7 0 1 0 9.4 0a4.7 4.7 0 1 0 -9.4 0M344.3 113.1a3.6 3.6 0 1 0 7.2 0a3.6 3.6 0 1 0 -7.2 0M13.8 51.6a3.4 3.4 0 1 0 6.8 0a3.4 3.4 0 1 0 -6.8 0M139.4 141.8a3.5 3.5 0 1 0 7.0 0a3.5 3.5 0 1 0 -7.0 0M283.7 327.8a3.0 3.0 0 1 0 5.9 0a3.0 3.0 0 1 0 -5.9 0M291.1 -7.8a4.3 4.3 0 1 0 8.6 0a4.3 4.3 0 1 0 -8.6 0M41.1 401.9a4.1 4.1 0 1 0 8.3 0a4.1 4.1 0 1 0 -8.3 0M-5.9 54.9a2.3 2.3 0 1 0 4.7 0a2.3 2.3 0 1 0 -4.7 0M394.9 179.0a3.5 3.5 0 1 0 7.0 0a3.5 3.5 0 1 0 -7.0 0M88.9 20.2a3.3 3.3 0 1 0 6.6 0a3.3 3.3 0 1 0 -6.6 0M129.9 243.8a4.4 4.4 0 1 0 8.9 0a4.4 4.4 0 1 0 -8.9 0M159.8 209.1a2.3 2.3 0 1 0 4.5 0a2.3 2.3 0 1 0 -4.5 0M63.9 69.7a4.2 4.2 0 1 0 8.4 0a4.2 4.2 0 1 0 -8.4 0M-0.2 16.3a2.0 2.0 0 1 0 4.1 0a2.0 2.0 0 1 0 -4.1 0M147.0 244.3a2.4 2.4 0 1 0 4.7 0a2.4 2.4 0 1 0 -4.7 0M236.2 253.5a4.8 4.8 0 1 0 9.7 0a4.8 4.8 0 1 0 -9.7 0M269.8 221.0a5.0 5.0 0 1 0 10.0 0a5.0 5.0 0 1 0 -10.0 0M377.1 122.1a4.9 4.9 0 1 0 9.8 0a4.9 4.9 0 1 0 -9.8 0M406.8 393.0a3.5 3.5 0 1 0 6.9 0a3.5 3.5 0 1 0 -6.9 0M247.9 357.5a4.3 4.3 0 1 0 8.6 0a4.3 4.3 0 1 0 -8.6 0M30.5 203.5a2.9 2.9 0 1 0 5.8 0a2.9 2.9 0 1 0 -5.8 0M160.7 44.4a3.8 3.8 0 1 0 7.6 0a3.8 3.8 0 1 0 -7.6 0M123.9 50.8a3.4 3.4 0 1 0 6.8 0a3.4 3.4 0 1 0 -6.8 0M108.3 278.8a2.2 2.2 0 1 0 4.3 0a2.2 2.2 0 1 0 -4.3 0M294.4 366.1a4.4 4.4 0 1 0 8.7 0a4.4 4.4 0 1 0 -8.7 0M150.1 227.1a4.6 4.6 0 1 0 9.1 0a4.6 4.6 0 1 0 -9.1 0M103.1 242.2a4.2 4.2 0 1 0 8.4 0a4.2 4.2 0 1 0 -8.4 0M215.4 101.2a2.1 2.1 0 1 0 4.2 0a2.1 2.1 0 1 0 -4.2 0M69.9 9.6a3.4 3.4 0 1 0 6.8 0a3.4 3.4 0 1 0 -6.8 0M42.7 68.9a2.3 2.3 0 1 0 4.7 0a2.3 2.3 0 1 0 -4.7 0M29.9 226.8a3.5 3.5 0 1 0 7.0 0a3.5 3.5 0 1 0 -7.0 0M326.0 221.0a3.5 3.5 0 1 0 7.1 0a3.5 3.5 0 1 0 -7.1 0M406.9 9.5a3.0 3.0 0 1 0 5.9 0a3.0 3.0 0 1 0 -5.9 0M204.2 215.5a3.1 3.1 0 1 0 6.3 0a3.1 3.1 0 1 0 -6.3 0M310.7 144.5a2.8 2.8 0 1 0 5.6 0a2.8 2.8 0 1 0 -5.6 0M62.0 104.8a2.3 2.3 0 1 0 4.5 0a2.3 2.3 0 1 0 -4.5 0M190.4 266.4a4.3 4.3 0 1 0 8.5 0a4.3 4.3 0 1 0 -8.5 0M216.7 284.2a2.2 2.2 0 1 0 4.4 0a2.2 2.2 0 1 0 -4.4 0M314.2 332.9a4.2 4.2 0 1 0 8.3 0a4.2 4.2 0 1 0 -8.3 0M116.7 80.1a3.4 3.4 0 1 0 6.8 0a3.4 3.4 0 1 0 -6.8 0M11.3 20.7a4.3 4.3 0 1 0 8.7 0a4.3 4.3 0 1 0 -8.7 0M285.4 282.8a4.9 4.9 0 1 0 9.8 0a4.9 4.9 0 1 0 -9.8 0M-7.2 245.0a2.2 2.2 0 1 0 4.5 0a2.2 2.2 0 1 0 -4.5 0M277.0 391.2a2.6 2.6 0 1 0 5.2 0a2.6 2.6 0 1 0 -5.2 0M268.1 76.0a4.0 4.0 0 1 0 8.0 0a4.0 4.0 0 1 0 -8.0 0M383.7 305.5a4.4 4.4 0 1 0 8.7 0a4.4 4.4 0 1 0 -8.7 0M151.2 205.9a4.6 4.6 0 1 0 9.2 0a4.6 4.6 0 1 0 -9.2 0M337.1 56.4a2.1 2.1 0 1 0 4.2 0a2.1 2.1 0 1 0 -4.2 0M328.1 99.1a2.9 2.9 0 1 0 5.7 0a2.9 2.9 0 1 0 -5.7 0M302.6 50.4a4.1 4.1 0 1 0 8.1 0a4.1 4.1 0 1 0 -8.1 0M335.5 25.7a4.4 4.4 0 1 0 8.9 0a4.4 4.4 0 1 0 -8.9 0M216.8 236.1a2.8 2.8 0 1 0 5.7 0a2.8 2.8 0 1 0 -5.7 0M383.5 159.8a3.2 3.2 0 1 0 6.5 0a3.2 3.2 0 1 0 -6.5 0M354.7 239.0a3.7 3.7 0 1 0 7.5 0a3.7 3.7 0 1 0 -7.5 0M183.4 133.1a3.1 3.1 0 1 0 6.1 0a3.1 3.1 0 1 0 -6.1 0M342.0 277.6a4.3 4.3 0 1 0 8.7 0a4.3 4.3 0 1 0 -8.7 0M325.8 112.7a4.8 4.8 0 1 0 9.5 0a4.8 4.8 0 1 0 -9.5 0M110.9 104.6a4.6 4.6 0 1 0 9.2 0a4.6 4.6 0 1 0 -9.2 0M358.3 372.8a4.1 4.1 0 1 0 8.3 0a4.1 4.1 0 1 0 -8.3 0M220.6 29.3a2.5 2.5 0 1 0 4.9 0a2.5 2.5 0 1 0 -4.9 0M268.8 6.4a4.9 4.9 0 1 0 9.8 0a4.9 4.9 0 1 0 -9.8 0M-8.8 237.2a4.6 4.6 0 1 0 9.2 0a4.6 4.6 0 1 0 -9.2 0M197.7 292.5a4.4 4.4 0 1 0 8.9 0a4.4 4.4 0 1 0 -8.9 0M140.8 263.9a3.8 3.8 0 1 0 7.5 0a3.8 3.8 0 1 0 -7.5 0M-12.3 151.7a4.6 4.6 0 1 0 9.2 0a4.6 4.6 0 1 0 -9.2 0M393.6 195.2a3.2 3.2 0 1 0 6.5 0a3.2 3.2 0 1 0 -6.5 0M378.0 160.0a4.2 4.2 0 1 0 8.4 0a4.2 4.2 0 1 0 -8.4 0M128.0 35.9a3.1 3.1 0 1 0 6.1 0a3.1 3.1 0 1 0 -6.1 0M318.0 179.5a2.4 2.4 0 1 0 4.8 0a2.4 2.4 0 1 0 -4.8 0M100.2 223.6a2.8 2.8 0 1 0 5.5 0a2.8 2.8 0 1 0 -5.5 0M365.7 121.1a3.0 3.0 0 1 0 6.1 0a3.0 3.0 0 1 0 -6.1 0M382.1 179.6a4.6 4.6 0 1 0 9.2 0a4.6 4.6 0 1 0 -9.2 0M93.3 52.3a2.7 2.7 0 1 0 5.3 0a2.7 2.7 0 1 0 -5.3 0M21.6 17.6a4.4 4.4 0 1 0 8.8 0a4.4 4.4 0 1 0 -8.8 0M367.7 155.8a4.0 4.0 0 1 0 8.0 0a4.0 4.0 0 1 0 -8.0 0M156.4 206.3a3.9 3.9 0 1 0 7.8 0a3.9 3.9 0 1 0 -7.8 0M311.5 341.4a4.4 4.4 0 1 0 8.8 0a4.4 4.4 0 1 0 -8.8 0M122.7 252.3a4.2 4.2 0 1 0 8.4 0a4.2 4.2 0 1 0 -8.4 0M44.8 18.1a3.3 3.3 0 1 0 6.7 0a3.3 3.3 0 1 0 -6.7 0M260.5 34.8a2.7 2.7 0 1 0 5.4 0a2.7 2.7 0 1 0 -5.4 0M165.1 201.3a2.0 2.0 0 1 0 4.1 0a2.0 2.0 0 1 0 -4.1 0M382.2 29.4a4.5 4.5 0 1 0 9.0 0a4.5 4.5 0 1 0 -9.0 0M69.6 50.2a2.8 2.8 0 1 0 5.7 0a2.8 2.8 0 1 0 -5.7 0M122.6 301.5a4.7 4.7 0 1 0 9.3 0a4.7 4.7 0 1 0 -9.3 0M137.6 7.4a4.5 4.5 0 1 0 9.0 0a4.5 4.5 0 1 0 -9.0 0M199.6 25.1a2.2 2.2 0 1 0 4.4 0a2.2 2.2 0 1 0 -4.4 0M37.6 108.4a4.8 4.8 0 1 0 9.7 0a4.8 4.8 0 1 0 -9.7 0M128.2 153.8a3.0 3.0 0 1 0 6.1 0a3.0 3.0 0 1 0 -6.1 0M169.7 205.7a2.8 2.8 0 1 0 5.7 0a2.8 2.8 0 1 0 -5.7 0M86.8 15.0a4.1 4.1 0 1 0 8.1 0a4.1 4.1 0 1 0 -8.1 0M299.1 -6.4a4.4 4.4 0 1 0 8.7 0a4.4 4.4 0 1 0 -8.7 0M0.6 103.1a2.7 2.7 0 1 0 5.3 0a2.7 2.7 0 1 0 -5.3 0M284.6 27.9a4.7 4.7 0 1 0 9.5 0a4.7 4.7 0 1 0 -9.5 0M372.7 184.0a3.6 3.6 0 1 0 7.2 0a3.6 3.6 0 1 0 -7.2 0M298.6 404.5a3.8 3.8 0 1 0 7.5 0a3.8 3.8 0 1 0 -7.5 0M125.5 371.7a3.3 3.3 0 1 0 6.6 0a3.3 3.3 0 1 0 -6.6 0M281.7 265.6a2.7 2.7 0 1 0 5.5 0a2.7 2.7 0 1 0 -5.5 0M265.2 132.6a4.5 4.5 0 1 0 8.9 0a4.5 4.5 0 1 0 -8.9 0M334.6 4.5a3.8 3.8 0 1 0 7.6 0a3.8 3.8 0 1 0 -7.6 0M322.8 23.2a4.8 4.8 0 1 0 9.7 0a4.8 4.8 0 1 0 -9.7 0M164.9 50.5a4.9 4.9 0 1 0 9.8 0a4.9 4.9 0 1 0 -9.8 0M239.7 26.3a2.8 2.8 0 1 0 5.7 0a2.8 2.8 0 1 0 -5.7 0M12.6 52.1a3.9 3.9 0 1 0 7.7 0a3.9 3.9 0 1 0 -7.7 0M-3.7 14.4a4.6 4.6 0 1 0 9.2 0a4.6 4.6 0 1 0 -9.2 0M279.3 391.3a4.6 4.6 0 1 0 9.1 0a4.6 4.6 0 1 0 -9.1 0M156.9 63.5a3.8 3.8 0 1 0 7.6 0a3.8 3.8 0 1 0 -7.6 0M220.4 372.0a2.1 2.1 0 1 0 4.1 0a2.1 2.1 0 1 0 -4.1 0M311.5 41.5a4.1 4.1 0 1 0 8.2 0a4.1 4.1 0 1 0 -8.2 0M289.3 42.9a2.5 2.5 0 1 0 4.9 0a2.5 2.5 0 1 0 -4.9 0M280.3 165.4a4.6 4.6 0 1 0 9.1 0a4.6 4.6 0 1 0 -9.1 0M117.9 334.9a4.4 4.4 0 1 0 8.8 0a4.4 4.4 0 1 0 -8.8 0M8.1 189.0a4.9 4.9 0 1 0 9.9 0a4.9 4.9 0 1 0 -9.9 0M407.3 22.8a3.8 3.8 0 1 0 7.5 0a3.8 3.8 0 1 0 -7.5 0M299.3 310.3a5.0 5.0 0 1 0 9.9 0a5.0 5.0 0 1 0 -9.9 0M281.5 284.0a3.8 3.8 0 1 0 7.5 0a3.8 3.8 0 1 0 -7.5 0M84.4 30.2a4.2 4.2 0 1 0 8.4 0a4.2 4.2 0 1 0 -8.4 0M330.4 342.6a4.3 4.3 0 1 0 8.6 0a4.3 4.3 0 1 0 -8.6 0M147.3 130.3a4.4 4.4 0 1 0 8.8 0a4.4 4.4 0 1 0 -8.8 0M253.5 108.5a4.6 4.6 0 1 0 9.3 0a4.6 4.6 0 1 0 -9.3 0M45.3 120.7a5.0 5.0 0 1 0 9.9 0a5.0 5.0 0 1 0 -9.9 0M370.9 238.0a3.8 3.8 0 1 0 7.7 0a3.8 3.8 0 1 0 -7.7 0M224.3 149.3a4.7 4.7 0 1 0 9.5 0a4.7 4.7 0 1 0 -9.5 0M390.8 124.4a3.6 3.6 0 1 0 7.1 0a3.6 3.6 0 1 0 -7.1 0M349.9 111.1a2.3 2.3 0 1 0 4.6 0a2.3 2.3 0 1 0 -4.6 0M51.1 126.2a2.7 2.7 0 1 0 5.3 0a2.7 2.7 0 1 0 -5.3 0M283.5 20.8a4.7 4.7 0 1 0 9.3 0a4.7 4.7 0 1 0 -9.3 0M253.3 314.4a2.5 2.5 0 1 0 5.0 0a2.5 2.5 0 1 0 -5.0 0M5.1 128.4a2.6 2.6 0 1 0 5.3 0a2.6 2.6 0 1 0 -5.3 0M12.0 44.3a4.0 4.0 0 1 0 8.1 0a4.0 4.0 0 1 0 -8.1 0M323.1 359.4a3.0 3.0 0 1 0 6.0 0a3.0 3.0 0 1 0 -6.0 0M-8.0 150.6a2.5 2.5 0 1 0 5.0 0a2.5 2.5 0 1 0 -5.0 0M286.4 196.8a3.2 3.2 0 1 0 6.5 0a3.2 3.2 0 1 0 -6.5 0M318.6 251.9a4.7 4.7 0 1 0 9.4 0a4.7 4.7 0 1 0 -9.4 0M148.5 187.0a3.6 3.6 0 1 0 7.1 0a3.6 3.6 0 1 0 -7.1 0M27.0 144.4a3.0 3.0 0 1 0 6.0 0a3.0 3.0 0 1 0 -6.0 0M284.0 336.0a4.1 4.1 0 1 0 8.3 0a4.1 4.1 0 1 0 -8.3 0M-6.3 100.1a4.3 4.3 0 1 0 8.6 0a4.3 4.3 0 1 0 -8.6 0M273.8 94.4a4.8 4.8 0 1 0 9.6 0a4.8 4.8 0 1 0 -9.6 0M130.6 282.3a3.3 3.3 0 1 0 6.5 0a3.3 3.3 0 1 0 -6.5 0M386.6 74.4a4.0 4.0 0 1 0 8.0 0a4.0 4.0 0 1 0 -8.0 0M16.6 258.6a3.3 3.3 0 1 0 6.6 0a3.3 3.3 0 1 0 -6.6 0M408.2 168.0a3.3 3.3 0 1 0 6.6 0a3.3 3.3 0 1 0 -6.6 0M151.3 244.0a4.1 4.1 0 1 0 8.2 0a4.1 4.1 0 1 0 -8.2 0M398.3 168.1a2.5 2.5 0 1 0 4.9 0a2.5 2.5 0 1 0 -4.9 0M76.5 89.6a3.7 3.7 0 1 0 7.5 0a3.7 3.7 0 1 0 -7.5 0M289.8 121.1a2.9 2.9 0 1 0 5.8 0a2.9 2.9 0 1 0 -5.8 0M339.4 66.6a4.7 4.7 0 1 0 9.5 0a4.7 4.7 0 1 0 -9.5 0M87.8 32.2a4.1 4.1 0 1 0 8.2 0a4.1 4.1 0 1 0 -8.2 0M216.6 306.5a2.5 2.5 0 1 0 4.9 0a2.5 2.5 0 1 0 -4.9 0M242.7 4.3a3.0 3.0 0 1 0 6.0 0a3.0 3.0 0 1 0 -6.0 0M157.3 231.5a3.8 3.8 0 1 0 7.7 0a3.8 3.8 0 1 0 -7.7 0M74.7 136.0a4.7 4.7 0 1 0 9.4 0a4.7 4.7 0 1 0 -9.4 0M396.9 227.4a4.3 4.3 0 1 0 8.7 0a4.3 4.3 0 1 0 -8.7 0M18.2 274.5a2.6 2.6 0 1 0 5.2 0a2.6 2.6 0 1 0 -5.2 0M317.2 227.3a3.3 3.3 0 1 0 6.6 0a3.3 3.3 0 1 0 -6.6 0M17.6 -7.7a4.8 4.8 0 1 0 9.7 0a4.8 4.8 0 1 0 -9.7 0M199.9 39.4a3.6 3.6 0 1 0 7.3 0a3.6 3.6 0 1 0 -7.3 0M-1.2 199.3a3.9 3.9 0 1 0 7.8 0a3.9 3.9 0 1 0 -7.8 0M106.8 379.2a3.9 3.9 0 1 0 7.8 0a3.9 3.9 0 1 0 -7.8 0M185.8 254.2a4.1 4.1 0 1 0 8.1 0a4.1 4.1 0 1 0 -8.1 0M90.9 355.4a2.5 2.5 0 1 0 5.0 0a2.5 2.5 0 1 0 -5.0 0M92.5 81.5a4.1 4.1 0 1 0 8.3 0a4.1 4.1 0 1 0 -8.3 0M-11.0 132.9a4.7 4.7 0 1 0 9.4 0a4.7 4.7 0 1 0 -9.4 0M336.3 153.8a2.9 2.9 0 1 0 5.9 0a2.9 2.9 0 1 0 -5.9 0M145.7 50.8a4.3 4.3 0 1 0 8.6 0a4.3 4.3 0 1 0 -8.6 0M237.6 349.2a3.3 3.3 0 1 0 6.5 0a3.3 3.3 0 1 0 -6.5 0M174.2 7.4a3.0 3.0 0 1 0 6.0 0a3.0 3.0 0 1 0 -6.0 0M274.0 64.8a2.3 2.3 0 1 0 4.7 0a2.3 2.3 0 1 0 -4.7 0M383.5 167.1a2.0 2.0 0 1 0 4.1 0a2.0 2.0 0 1 0 -4.1 0M3.5 371.4a2.6 2.6 0 1 0 5.2 0a2.6 2.6 0 1 0 -5.2 0M375.0 368.2a5.0 5.0 0 1 0 10.0 0a5.0 5.0 0 1 0 -10.0 0M112.1 376.3a2.6 2.6 0 1 0 5.1 0a2.6 2.6 0 1 0 -5.1 0M225.2 82.9a2.2 2.2 0 1 0 4.3 0a2.2 2.2 0 1 0 -4.3 0M304.3 149.3a3.5 3.5 0 1 0 7.0 0a3.5 3.5 0 1 0 -7.0 0M302.1 25.1a3.3 3.3 0 1 0 6.7 0a3.3 3.3 0 1 0 -6.7 0M91.8 251.6a2.2 2.2 0 1 0 4.4 0a2.2 2.2 0 1 0 -4.4 0M40.9 136.5a2.1 2.1 0 1 0 4.1 0a2.1 2.1 0 1 0 -4.1 0M270.5 63.5a4.3 4.3 0 1 0 8.5 0a4.3 4.3 0 1 0 -8.5 0M180.5 16.8a3.2 3.2 0 1 0 6.4 0a3.2 3.2 0 1 0 -6.4 0M166.9 156.2a3.9 3.9 0 1 0 7.9 0a3.9 3.9 0 1 0 -7.9 0M388.2 176.5a4.8 4.8 0 1 0 9.5 0a4.8 4.8 0 1 0 -9.5 0M404.7 262.4a2.7 2.7 0 1 0 5.3 0a2.7 2.7 0 1 0 -5.3 0M79.1 225.1a2.1 2.1 0 1 0 4.3 0a2.1 2.1 0 1 0 -4.3 0M135.5 347.1a4.8 4.8 0 1 0 9.5 0a4.8 4.8 0 1 0 -9.5 0M275.4 344.9a2.7 2.7 0 1 0 5.4 0a2.7 2.7 0 1 0 -5.4 0M10.5 392.4a2.0 2.0 0 1 0 4.0 0a2.0 2.0 0 1 0 -4.0 0M362.7 97.0a2.6 2.6 0 1 0 5.1 0a2.6 2.6 0 1 0 -5.1 0M255.5 -0.7a4.7 4.7 0 1 0 9.4 0a4.7 4.7 0 1 0 -9.4 0M131.3 258.4a2.7 2.7 0 1 0 5.4 0a2.7 2.7 0 1 0 -5.4 0M253.3 5.8a3.1 3.1 0 1 0 6.2 0a3.1 3.1 0 1 0 -6.2 0M364.1 372.3a2.5 2.5 0 1 0 4.9 0a2.5 2.5 0 1 0 -4.9 0M346.2 6.6a3.4 3.4 0 1 0 6.9 0a3.4 3.4 0 1 0 -6.9 0M347.0 120.8a3.2 3.2 0 1 0 6.5 0a3.2 3.2 0 1 0 -6.5 0M188.8 69.0a4.3 4.3 0 1 0 8.5 0a4.3 4.3 0 1 0 -8.5 0M337.2 311.2a3.0 3.0 0 1 0 6.0 0a3.0 3.0 0 1 0 -6.0 0M38.9 388.7a4.2 4.2 0 1 0 8.4 0a4.2 4.2 0 1 0 -8.4 0M276.3 164.0a3.2 3.2 0 1 0 6.4 0a3.2 3.2 0 1 0 -6.4 0M188.0 236.9a2.8 2.8 0 1 0 5.6 0a2.8 2.8 0 1 0 -5.6 0M181.9 148.2a2.2 2.2 0 1 0 4.4 0a2.2 2.2 0 1 0 -4.4 0M185.8 372.1a4.8 4.8 0 1 0 9.6 0a4.8 4.8 0 1 0 -9.6 0M8.2 176.3a2.6 2.6 0 1 0 5.2 0a2.6 2.6 0 1 0 -5.2 0M134.6 141.7a2.2 2.2 0 1 0 4.5 0a2.2 2.2 0 1 0 -4.5 0M350.0 395.9a3.1 3.1 0 1 0 6.2 0a3.1 3.1 0 1 0 -6.2 0M365.6 227.4a3.1 3.1 0 1 0 6.2 0a3.1 3.1 0 1 0 -6.2 0M336.4 38.1a2.7 2.7 0 1 0 5.4 0a2.7 2.7 0 1 0 -5.4 0M407.0 286.7a4.7 4.7 0 1 0 9.3 0a4.7 4.7 0 1 0 -9.3 0M396.8 49.4a3.4 3.4 0 1 0 6.8 0a3.4 3.4 0 1 0 -6.8 0M88.5 77.6a4.5 4.5 0 1 0 9.1 0a4.5 4.5 0 1 0 -9.1 0M144.4 71.8a4.2 4.2 0 1 0 8.5 0a4.2 4.2 0 1 0 -8.5 0M177.4 244.6a2.7 2.7 0 1 0 5.4 0a2.7 2.7 0 1 0 -5.4 0M146.3 48.5a4.0 4.0 0 1 0 7.9 0a4.0 4.0 0 1 0 -7.9 0M27.7 321.3a2.7 2.7 0 1 0 5.4 0a2.7 2.7 0 1 0 -5.4 0M308.4 372.5a3.3 3.3 0 1 0 6.5 0a3.3 3.3 0 1 0 -6.5 0M39.4 277.1a3.9 3.9 0 1 0 7.9 0a3.9 3.9 0 1 0 -7.9 0M384.4 349.6a3.0 3.0 0 1 0 5.9 0a3.0 3.0 0 1 0 -5.9 0M63.3 19.3a3.3 3.3 0 1 0 6.6 0a3.3 3.3 0 1 0 -6.6 0M75.0 259.6a3.7 3.7 0 1 0 7.4 0a3.7 3.7 0 1 0 -7.4 0M193.7 89.4a3.9 3.9 0 1 0 7.9 0a3.9 3.9 0 1 0 -7.9 0M171.1 165.2a2.4 2.4 0 1 0 4.9 0a2.4 2.4 0 1 0 -4.9 0M178.4 260.0a3.4 3.4 0 1 0 6.9 0a3.4 3.4 0 1 0 -6.9 0M135.3 185.8a4.1 4.1 0 1 0 8.2 0a4.1 4.1 0 1 0 -8.2 0M46.1 112.1a4.0 4.0 0 1 0 7.9 0a4.0 4.0 0 1 0 -7.9 0M272.4 328.2a4.6 4.6 0 1 0 9.2 0a4.6 4.6 0 1 0 -9.2 0M226.9 72.1a4.7 4.7 0 1 0 9.3 0a4.7 4.7 0 1 0 -9.3 0M5.1 101.1a2.7 2.7 0 1 0 5.4 0a2.7 2.7 0 1 0 -5.4 0M74.1 27.2a3.2 3.2 0 1 0 6.4 0a3.2 3.2 0 1 0 -6.4 0M212.0 242.4a4.1 4.1 0 1 0 8.3 0a4.1 4.1 0 1 0 -8.3 0M126.8 72.9a2.8 2.8 0 1 0 5.6 0a2.8 2.8 0 1 0 -5.6 0M273.5 315.8a2.7 2.7 0 1 0 5.4 0a2.7 2.7 0 1 0 -5.4 0M371.6 111.3a3.2 3.2 0 1 0 6.4 0a3.2 3.2 0 1 0 -6.4 0M20.1 40.2a3.0 3.0 0 1 0 6.0 0a3.0 3.0 0 1 0 -6.0 0M159.0 169.5a4.2 4.2 0 1 0 8.4 0a4.2 4.2 0 1 0 -8.4 0M0.6 126.5a3.7 3.7 0 1 0 7.5 0a3.7 3.7 0 1 0 -7.5 0M344.7 344.8a2.1 2.1 0 1 0 4.2 0a2.1 2.1 0 1 0 -4.2 0M53.0 4.9a3.0 3.0 0 1 0 5.9 0a3.0 3.0 0 1 0 -5.9 0M394.8 81.0a2.6 2.6 0 1 0 5.2 0a2.6 2.6 0 1 0 -5.2 0M254.9 81.6a2.7 2.7 0 1 0 5.3 0a2.7 2.7 0 1 0 -5.3 0M140.0 13.9a2.4 2.4 0 1 0 4.9 0a2.4 2.4 0 1 0 -4.9 0M98.3 22.7a2.7 2.7 0 1 0 5.4 0a2.7 2.7 0 1 0 -5.4 0"/>
<path fill="#000000" d="M18.3 323.2a2.7 2.7 0 1 0 5.4 0a2.7 2.7 0 1 0 -5.4 0M159.3 176.3a3.6 3.6 0 1 0 7.2 0a3.6 3.6 0 1 0 -7.2 0M260.5 383.3a4.2 4.2 0 1 0 8.4 0a4.2 4.2 0 1 0 -8.4 0M305.1 310.2a4.2 4.2 0 1 0 8.4 0a4.2 4.2 0 1 0 -8.4 0M147.3 95.1a2.5 2.5 0 1 0 5.0 0a2.5 2.5 0 1 0 -5.0 0M81.1 61.3a3.1 3.1 0 1 0 6.3 0a3.1 3.1 0 1 0 -6.3 0M332.0 327.1a3.7 3.7 0 1 0 7.4 0a3.7 3.7 0 1 0 -7.4 0M118.6 283.8a3.7 3.7 0 1 0 7.4 0a3.7 3.7 0 1 0 -7.4 0M284.0 188.4a4.6 4.6 0 1 0 9.3 0a4.6 4.6 0 1 0 -9.3 0M377.2 360.6a3.7 3.7 0 1 0 7.5 0a3.7 3.7 0 1 0 -7.5 0M253.4 363.4a2.2 2.2 0 1 0 4.4 0a2.2 2.2 0 1 0 -4.4 0M274.8 71.2a2.2 2.2 0 1 0 4.4 0a2.2 2.2 0 1 0 -4.4 0M234.8 106.8a3.2 3.2 0 1 0 6.4 0a3.2 3.2 0 1 0 -6.4 0M160.1 280.2a3.6 3.6 0 1 0 7.1 0a3.6 3.6 0 1 0 -7.1 0M321.9 -3.3a3.8 3.8 0 1 0 7.7 0a3.8 3.8 0 1 0 -7.7 0M296.0 406.5a3.2 3.2 0 1 0 6.4 0a3.2 3.2 0 1 0 -6.4 0M182.2 154.5a3.8 3.8 0 1 0 7.6 0a3.8 3.8 0 1 0 -7.6 0M320.8 379.2a4.5 4.5 0 1 0 9.1 0a4.5 4.5 0 1 0 -9.1 0M204.5 47.9a3.5 3.5 0 1 0 7.0 0a3.5 3.5 0 1 0 -7.0 0M341.8 110.4a4.5 4.5 0 1 0 8.9 0a4.5 4.5 0 1 0 -8.9 0M175.4 200.9a3.1 3.1 0 1 0 6.2 0a3.1 3.1 0 1 0 -6.2 0M74.3 -3.7a2.5 2.5 0 1 0 4.9 0a2.5 2.5 0 1 0 -4.9 0M40.7 43.7a2.6 2.6 0 1 0 5.2 0a2.6 2.6 0 1 0 -5.2 0M311.4 233.8a4.8 4.8 0 1 0 9.6 0a4.8 4.8 0 1 0 -9.6 0M368.6 12.5a4.5 4.5 0 1 0 9.0 0a4.5 4.5 0 1 0 -9.0 0M371.9 61.6a2.4 2.4 0 1 0 4.7 0a2.4 2.4 0 1 0 -4.7 0M293.3 5.0a2.4 2.4 0 1 0 4.8 0a2.4 2.4 0 1 0 -4.8 0M59.4 157.6a3.4 3.4 0 1 0 6.8 0a3.4 3.4 0 1 0 -6.8 0M359.7 326.3a3.9 3.9 0 1 0 7.9 0a3.9 3.9 0 1 0 -7.9 0M19.5 346.4a4.2 4.2 0 1 0 8.5 0a4.2 4.2 0 1 0 -8.5 0M103.9 78.0a4.2 4.2 0 1 0 8.4 0a4.2 4.2 0 1 0 -8.4 0M129.7 157.8a2.6 2.6 0 1 0 5.2 0a2.6 2.6 0 1 0 -5.2 0M299.6 105.6a4.7 4.7 0 1 0 9.4 0a4.7 4.7 0 1 0 -9.4 0M287.6 371.7a2.8 2.8 0 1 0 5.6 0a2.8 2.8 0 1 0 -5.6 0M57.8 249.2a2.1 2.1 0 1 0 4.2 0a2.1 2.1 0 1 0 -4.2 0M285.7 256.8a3.7 3.7 0 1 0 7.5 0a3.7 3.7 0 1 0 -7.5 0M132.3 221.9a2.1 2.1 0 1 0 4.3 0a2.1 2.1 0 1 0 -4.3 0M-4.6 95.1a4.0 4.0 0 1 0 8.0 0a4.0 4.0 0 1 0 -8.0 0M-2.2 266.1a2.9 2.9 0 1 0 5.8 0a2.9 2.9 0 1 0 -5.8 0M18.1 248.3a3.9 3.9 0 1 0 7.7 0a3.9 3.9 0 1 0 -7.7 0M41.3 74.2a4.8 4.8 0 1 0 9.5 0a4.8 4.8 0 1 0 -9.5 0M309.4 217.0a4.8 4.8 0 1 0 9.6 0a4.8 4.8 0 1 0 -9.6 0M203.5 100.2a2.5 2.5 0 1 0 5.0 0a2.5 2.5 0 1 0 -5.0 0M249.0 104.1a3.9 3.9 0 1 0 7.9 0a3.9 3.9 0 1 0 -7.9 0M16.5 -6.5a3.0 3.0 0 1 0 6.0 0a3.0 3.0 0 1 0 -6.0 0M371.6 308.1a3.0 3.0 0 1 0 6.0 0a3.0 3.0 0 1 0 -6.0 0M340.1 117.2a4.4 4.4 0 1 0 8.8 0a4.4 4.4 0 1 0 -8.8 0M64.2 146.2a3.2 3.2 0 1 0 6.3 0a3.2 3.2 0 1 0 -6.3 0M285.4 159.7a2.7 2.7 0 1 0 5.4 0a2.7 2.7 0 1 0 -5.4 0M51.9 387.4a2.6 2.6 0 1 0 5.2 0a2.6 2.6 0 1 0 -5.2 0M248.0 199.7a4.1 4.1 0 1 0 8.3 0a4.1 4.1 0 1 0 -8.3 0M312.9 91.4a3.4 3.4 0 1 0 6.7 0a3.4 3.4 0 1 0 -6.7 0M11.5 71.9a3.1 3.1 0 1 0 6.1 0a3.1 3.1 0 1 0 -6.1 0M285.5 313.4a2.3 2.3 0 1 0 4.5 0a2.3 2.3 0 1 0 -4.5 0M9.4 245.3a4.1 4.1 0 1 0 8.1 0a4.1 4.1 0 1 0 -8.1 0M270.4 375.0a3.3 3.3 0 1 0 6.6 0a3.3 3.3 0 1 0 -6.6 0M327.1 189.7a2.5 2.5 0 1 0 5.0 0a2.5 2.5 0 1 0 -5.0 0M120.0 32.8a3.0 3.0 0 1 0 5.9 0a3.0 3.0 0 1 0 -5.9 0M101.5 105.5a4.3 4.3 0 1 0 8.6 0a4.3 4.3 0 1 0 -8.6 0M99.9 112.2a5.0 5.0 0 1 0 9.9 0a5.0 5.0 0 1 0 -9.9 0M336.7 156.8a4.2 4.2 0 1 0 8.4 0a4.2 4.2 0 1 0 -8.4 0M284.3 362.7a2.8 2.8 0 1 0 5.6 0a2.8 2.8 0 1 0 -5.6 0M18.2 113.7a3.6 3.6 0 1 0 7.3 0a3.6 3.6 0 1 0 -7.3 0M141.9 106.3a2.5 2.5 0 1 0 5.0 0a2.5 2.5 0 1 0 -5.0 0M327.3 171.2a4.9 4.9 0 1 0 9.8 0a4.9 4.9 0 1 0 -9.8 0M378.5 36.7a2.7 2.7 0 1 0 5.3 0a2.7 2.7 0 1 0 -5.3 0M245.3 397.4a2.4 2.4 0 1 0 4.7 0a2.4 2.4 0 1 0 -4.7 0M389.1 261.5a4.5 4.5 0 1 0 9.1 0a4.5 4.5 0 1 0 -9.1 0M82.5 7.2a5.0 5.0 0 1 0 10.0 0a5.0 5.0 0 1 0 -10.0 0M53.4 25.9a2.1 2.1 0 1 0 4.2 0a2.1 2.1 0 1 0 -4.2 0M348.0 34.4a3.7 3.7 0 1 0 7.3 0a3.7 3.7 0 1 0 -7.3 0M32.1 88.6a2.4 2.4 0 1 0 4.8 0a2.4 2.4 0 1 0 -4.8 0M163.6 255.2a2.5 2.5 0 1 0 4.9 0a2.5 2.5 0 1 0 -4.9 0M-5.3 21.7a3.2 3.2 0 1 0 6.3 0a3.2 3.2 0 1 0 -6.3 0M307.7 277.5a4.4 4.4 0 1 0 8.8 0a4.4 4.4 0 1 0 -8.8 0M268.2 3.0a3.4 3.4 0 1 0 6.7 0a3.4 3.4 0 1 0 -6.7 0M307.9 346.4a4.7 4.7 0 1 0 9.3 0a4.7 4.7 0 1 0 -9.3 0M146.7 172.0a2.8 2.8 0 1 0 5.5 0a2.8 2.8 0 1 0 -5.5 0M134.5 96.0a4.1 4.1 0 1 0 8.3 0a4.1 4.1 0 1 0 -8.3 0M401.2 118.9a4.2 4.2 0 1 0 8.4 0a4.2 4.2 0 1 0 -8.4 0M49.2 37.3a3.5 3.5 0 1 0 7.0 0a3.5 3.5 0 1 0 -7.0 0M144.0 175.4a4.7 4.7 0 1 0 9.5 0a4.7 4.7 0 1 0 -9.5 0M146.3 257.6a2.2 2.2 0 1 0 4.5 0a2.2 2.2 0 1 0 -4.5 0M308.7 391.3a3.9 3.9 0 1 0 7.9 0a3.9 3.9 0 1 0 -7.9 0M114.2 211.4a4.5 4.5 0 1 0 9.0 0a4.5 4.5 0 1 0 -9.0 0M102.1 349.1a2.6 2.6 0 1 0 5.1 0a2.6 2.6 0 1 0 -5.1 0M404.3 149.6a3.7 3.7 0 1 0 7.4 0a3.7 3.7 0 1 0 -7.4 0M211.2 229.3a2.8 2.8 0 1 0 5.6 0a2.8 2.8 0 1 0 -5.6 0M-5.9 159.7a2.9 2.9 0 1 0 5.9 0a2.9 2.9 0 1 0 -5.9 0M250.9 189.9a4.5 4.5 0 1 0 8.9 0a4.5 4.5 0 1 0 -8.9 0M190.5 94.1a2.7 2.7 0 1 0 5.5 0a2.7 2.7 0 1 0 -5.5 0M239.2 364.6a4.1 4.1 0 1 0 8.3 0a4.1 4.1 0 1 0 -8.3 0M350.7 364.5a2.7 2.7 0 1 0 5.4 0a2.7 2.7 0 1 0 -5.4 0M379.9 351.9a4.1 4.1 0 1 0 8.2 0a4.1 4.1 0 1 0 -8.2 0M249.2 174.1a2.4 2.4 0 1 0 4.8 0a2.4 2.4 0 1 0 -4.8 0M372.6 196.3a4.4 4.4 0 1 0 8.9 0a4.4 4.4 0 1 0 -8.9 0M45.1 166.4a2.4 2.4 0 1 0 4.8 0a2.4 2.4 0 1 0 -4.8 0M148.2 404.6a2.5 2.5 0 1 0 4.9 0a2.5 2.5 0 1 0 -4.9 0M333.7 122.8a2.6 2.6 0 1 0 5.3 0a2.6 2.6 0 1 0 -5.3 0M284.3 8.8a4.7 4.7 0 1 0 9.4 0a4.7 4.7 0 1 0 -9.4 0M336.7 123.8a2.8 2.8 0 1 0 5.6 0a2.8 2.8 0 1 0 -5.6 0M237.1 66.4a2.4 2.4 0 1 0 4.8 0a2.4 2.4 0 1 0 -4.8 0M61.8 261.2a2.5 2.5 0 1 0 5.0 0a2.5 2.5 0 1 0 -5.0 0M136.3 318.5a4.6 4.6 0 1 0 9.1 0a4.6 4.6 0 1 0 -9.1 0M285.7 222.7a2.6 2.6 0 1 0 5.2 0a2.6 2.6 0 1 0 -5.2 0M234.5 360.4a4.9 4.9 0 1 0 9.8 0a4.9 4.9 0 1 0 -9.8 0M16.2 362.9a3.1 3.1 0 1 0 6.2 0a3.1 3.1 0 1 0 -6.2 0M41.4 54.4a4.4 4.4 0 1 0 8.8 0a4.4 4.4 0 1 0 -8.8 0M131.7 149.9a4.7 4.7 0 1 0 9.4 0a4.7 4.7 0 1 0 -9.4 0M33.6 86.5a4.2 4.2 0 1 0 8.3 0a4.2 4.2 0 1 0 -8.3 0M218.2 360.5a3.7 3.7 0 1 0 7.5 0a3.7 3.7 0 1 0 -7.5 0M316.0 133.1a4.0 4.0 0 1 0 8.0 0a4.0 4.0 0 1 0 -8.0 0M404.8 98.9a4.8 4.8 0 1 0 9.6 0a4.8 4.8 0 1 0 -9.6 0M41.2 113.2a2.6 2.6 0 1 0 5.1 0a2.6 2.6 0 1 0 -5.1 0M134.4 2.3a4.4 4.4 0 1 0 8.8 0a4.4 4.4 0 1 0 -8.8 0M160.8 38.9a3.9 3.9 0 1 0 7.9 0a3.9 3.9 0 1 0 -7.9 0M362.2 148.3a3.9 3.9 0 1 0 7.8 0a3.9 3.9 0 1 0 -7.8 0M384.7 368.3a3.5 3.5 0 1 0 7.1 0a3.5 3.5 0 1 0 -7.1 0M5.2 91.5a3.1 3.1 0 1 0 6.3 0a3.1 3.1 0 1 0 -6.3 0M9.8 161.6a3.7 3.7 0 1 0 7.3 0a3.7 3.7 0 1 0 -7.3 0M138.3 220.7a4.0 4.0 0 1 0 8.0 0a4.0 4.0 0 1 0 -8.0 0M400.3 355.5a4.8 4.8 0 1 0 9.6 0a4.8 4.8 0 1 0 -9.6 0M138.5 75.8a2.6 2.6 0 1 0 5.1 0a2.6 2.6 0 1 0 -5.1 0M358.2 100.6a3.5 3.5 0 1 0 7.0 0a3.5 3.5 0 1 0 -7.0 0M69.0 112.3a4.9 4.9 0 1 0 9.9 0a4.9 4.9 0 1 0 -9.9 0M304.2 357.1a4.2 4.2 0 1 0 8.4 0a4.2 4.2 0 1 0 -8.4 0M102.8 172.8a2.5 2.5 0 1 0 5.0 0a2.5 2.5 0 1 0 -5.0 0M295.4 135.0a2.2 2.2 0 1 0 4.3 0a2.2 2.2 0 1 0 -4.3 0M23.2 302.7a2.4 2.4 0 1 0 4.8 0a2.4 2.4 0 1 0 -4.8 0M158.5 139.7a4.5 4.5 0 1 0 9.0 0a4.5 4.5 0 1 0 -9.0 0M212.6 106.2a3.9 3.9 0 1 0 7.9 0a3.9 3.9 0 1 0 -7.9 0M322.0 176.6a4.9 4.9 0 1 0 9.8 0a4.9 4.9 0 1 0 -9.8 0M123.7 330.9a4.1 4.1 0 1 0 8.1 0a4.1 4.1 0 1 0 -8.1 0M105.3 112.6a3.3 3.3 0 1 0 6.7 0a3.3 3.3 0 1 0 -6.7 0M99.4 72.4a3.6 3.6 0 1 0 7.2 0a3.6 3.6 0 1 0 -7.2 0M143.0 72.9a4.8 4.8 0 1 0 9.5 0a4.8 4.8 0 1 0 -9.5 0M94.7 0.1a2.9 2.9 0 1 0 5.8 0a2.9 2.9 0 1 0 -5.8 0M9.8 158.5a5.0 5.0 0 1 0 9.9 0a5.0 5.0 0 1 0 -9.9 0M321.1 162.5a3.9 3.9 0 1 0 7.8 0a3.9 3.9 0 1 0 -7.8 0M293.4 92.8a4.9 4.9 0 1 0 9.8 0a4.9 4.9 0 1 0 -9.8 0M354.7 7.7a4.4 4.4 0 1 0 8.9 0a4.4 4.4 0 1 0 -8.9 0M371.9 40.1a3.9 3.9 0 1 0 7.8 0a3.9 3.9 0 1 0 -7.8 0M24.1 319.7a2.3 2.3 0 1 0 4.7 0a2.3 2.3 0 1 0 -4.7 0M320.2 284.9a2.7 2.7 0 1 0 5.4 0a2.7 2.7 0 1 0 -5.4 0M136.1 150.9a4.7 4.7 0 1 0 9.3 0a4.7 4.7 0 1 0 -9.3 0M146.9 195.4a4.3 4.3 0 1 0 8.6 0a4.3 4.3 0 1 0 -8.6 0M50.0 -1.3a4.6 4.6 0 1 0 9.3 0a4.6 4.6 0 1 0 -9.3 0M363.1 338.5a4.5 4.5 0 1 0 9.1 0a4.5 4.5 0 1 0 -9.1 0M368.6 339.4a2.5 2.5 0 1 0 4.9 0a2.5 2.5 0 1 0 -4.9 0M160.3 211.8a2.3 2.3 0 1 0 4.6 0a2.3 2.3 0 1 0 -4.6 0M113.2 195.1a3.6 3.6 0 1 0 7.1 0a3.6 3.6 0 1 0 -7.1 0M159.5 0.6a2.8 2.8 0 1 0 5.7 0a2.8 2.8 0 1 0 -5.7 0M344.0 396.8a4.7 4.7 0 1 0 9.4 0a4.7 4.7 0 1 0 -9.4 0M293.2 -2.6a3.4 3.4 0 1 0 6.8 0a3.4 3.4 0 1 0 -6.8 0M243.1 214.8a2.1 2.1 0 1 0 4.2 0a2.1 2.1 0 1 0 -4.2 0M223.1 115.5a4.6 4.6 0 1 0 9.2 0a4.6 4.6 0 1 0 -9.2 0M346.8 353.8a4.2 4.2 0 1 0 8.3 0a4.2 4.2 0 1 0 -8.3 0M297.9 290.9a4.0 4.0 0 1 0 7.9 0a4.0 4.0 0 1 0 -7.9 0M29.5 369.8a4.4 4.4 0 1 0 8.8 0a4.4 4.4 0 1 0 -8.8 0M406.8 274.1a4.8 4.8 0 1 0 9.5 0a4.8 4.8 0 1 0 -9.5 0M165.5 221.7a3.9 3.9 0 1 0 7.7 0a3.9 3.9 0 1 0 -7.7 0M320.0 133.8a4.9 4.9 0 1 0 9.7 0a4.9 4.9 0 1 0 -9.7 0M279.0 161.6a3.6 3.6 0 1 0 7.2 0a3.6 3.6 0 1 0 -7.2 0M319.6 41.5a3.0 3.0 0 1 0 6.0 0a3.0 3.0 0 1 0 -6.0 0M282.5 369.5a4.9 4.9 0 1 0 9.8 0a4.9 4.9 0 1 0 -9.8 0M175.0 22.4a3.1 3.1 0 1 0 6.2 0a3.1 3.1 0 1 0 -6.2 0M293.7 9.6a3.2 3.2 0 1 0 6.5 0a3.2 3.2 0 1 0 -6.5 0M382.4 22.4a2.2 2.2 0 1 0 4.3 0a2.2 2.2 0 1 0 -4.3 0M266.3 85.9a4.2 4.2 0 1 0 8.5 0a4.2 4.2 0 1 0 -8.5 0M76.3 90.6a3.5 3.5 0 1 0 7.0 0a3.5 3.5 0 1 0 -7.0 0M353.8 402.8a2.6 2.6 0 1 0 5.2 0a2.6 2.6 0 1 0 -5.2 0M8.4 187.1a2.4 2.4 0 1 0 4.9 0a2.4 2.4 0 1 0 -4.9 0M187.3 132.9a2.6 2.6 0 1 0 5.3 0a2.6 2.6 0 1 0 -5.3 0M121.8 192.5a3.7 3.7 0 1 0 7.3 0a3.7 3.7 0 1 0 -7.3 0M348.5 194.5a2.9 2.9 0 1 0 5.8 0a2.9 2.9 0 1 0 -5.8 0M409.3 363.8a2.9 2.9 0 1 0 5.7 0a2.9 2.9 0 1 0 -5.7 0M32.9 41.3a4.2 4.2 0 1 0 8.3 0a4.2 4.2 0 1 0 -8.3 0M241.9 116.4a4.0 4.0 0 1 0 8.0 0a4.0 4.0 0 1 0 -8.0 0M143.3 247.4a4.1 4.1 0 1 0 8.1 0a4.1 4.1 0 1 0 -8.1 0M45.9 122.5a3.1 3.1 0 1 0 6.2 0a3.1 3.1 0 1 0 -6.2 0M164.5 276.5a4.5 4.5 0 1 0 9.0 0a4.5 4.5 0 1 0 -9.0 0M172.9 321.8a2.2 2.2 0 1 0 4.5 0a2.2 2.2 0 1 0 -4.5 0M9.8 115.2a2.7 2.7 0 1 0 5.4 0a2.7 2.7 0 1 0 -5.4 0M111.6 19.9a3.3 3.3 0 1 0 6.6 0a3.3 3.3 0 1 0 -6.6 0M344.6 381.0a4.7 4.7 0 1 0 9.3 0a4.7 4.7 0 1 0 -9.3 0M187.6 59.0a2.2 2.2 0 1 0 4.3 0a2.2 2.2 0 1 0 -4.3 0M29.4 82.5a3.0 3.0 0 1 0 6.1 0a3.0 3.0 0 1 0 -6.1 0M226.8 62.4a4.1 4.1 0 1 0 8.3 0a4.1 4.1 0 1 0 -8.3 0M26.2 16.8a4.5 4.5 0 1 0 8.9 0a4.5 4.5 0 1 0 -8.9 0M282.7 386.1a3.7 3.7 0 1 0 7.4 0a3.7 3.7 0 1 0 -7.4 0M401.6 59.6a3.1 3.1 0 1 0 6.2 0a3.1 3.1 0 1 0 -6.2 0M-9.5 6.5a2.6 2.6 0 1 0 5.2 0a2.6 2.6 0 1 0 -5.2 0M151.9 120.5a4.1 4.1 0 1 0 8.3 0a4.1 4.1 0 1 0 -8.3 0M250.8 205.5a3.9 3.9 0 1 0 7.7 0a3.9 3.9 0 1 0 -7.7 0M294.8 246.5a4.9 4.9 0 1 0 9.7 0a4.9 4.9 0 1 0 -9.7 0M231.8 395.8a4.5 4.5 0 1 0 8.9 0a4.5 4.5 0 1 0 -8.9 0M143.7 383.8a3.7 3.7 0 1 0 7.3 0a3.7 3.7 0 1 0 -7.3 0M162.3 281.9a4.8 4.8 0 1 0 9.6 0a4.8 4.8 0 1 0 -9.6 0M33.4 263.9a3.7 3.7 0 1 0 7.5 0a3.7 3.7 0 1 0 -7.5 0M119.2 261.3a4.8 4.8 0 1 0 9.6 0a4.8 4.8 0 1 0 -9.6 0M246.8 87.5a3.8 3.8 0 1 0 7.7 0a3.8 3.8 0 1 0 -7.7 0M42.6 136.4a2.2 2.2 0 1 0 4.3 0a2.2 2.2 0 1 0 -4.3 0M212.8 25.1a3.6 3.6 0 1 0 7.3 0a3.6 3.6 0 1 0 -7.3 0M105.3 244.0a4.7 4.7 0 1 0 9.4 0a4.7 4.7 0 1 0 -9.4 0M247.9 0.8a3.1 3.1 0 1 0 6.2 0a3.1 3.1 0 1 0 -6.2 0M43.8 199.5a3.4 3.4 0 1 0 6.7 0a3.4 3.4 0 1 0 -6.7 0M193.0 -6.7a3.0 3.0 0 1 0 5.9 0a3.0 3.0 0 1 0 -5.9 0M340.8 253.9a4.8 4.8 0 1 0 9.6 0a4.8 4.8 0 1 0 -9.6 0M231.3 87.7a3.0 3.0 0 1 0 6.0 0a3.0 3.0 0 1 0 -6.0 0M206.3 206.5a3.2 3.2 0 1 0 6.4 0a3.2 3.2 0 1 0 -6.4 0M332.0 216.8a3.5 3.5 0 1 0 7.0 0a3.5 3.5 0 1 0 -7.0 0M-5.8 308.6a2.3 2.3 0 1 0 4.7 0a2.3 2.3 0 1 0 -4.7 0M175.6 12.6a2.6 2.6 0 1 0 5.2 0a2.6 2.6 0 1 0 -5.2 0M24.7 114.2a3.7 3.7 0 1 0 7.3 0a3.7 3.7 0 1 0 -7.3 0M282.8 129.5a2.1 2.1 0 1 0 4.2 0a2.1 2.1 0 1 0 -4.2 0M179.8 28.3a3.2 3.2 0 1 0 6.3 0a3.2 3.2 0 1 0 -6.3 0M321.1 103.7a2.5 2.5 0 1 0 4.9 0a2.5 2.5 0 1 0 -4.9 0M285.5 53.7a3.6 3.6 0 1 0 7.3 0a3.6 3.6 0 1 0 -7.3 0M182.3 282.7a2.1 2.1 0 1 0 4.2 0a2.1 2.1 0 1 0 -4.2 0M372.1 344.5a3.3 3.3 0 1 0 6.7 0a3.3 3.3 0 1 0 -6.7 0M194.0 282.2a2.9 2.9 0 1 0 5.9 0a2.9 2.9 0 1 0 -5.9 0M307.0 39.2a3.2 3.2 0 1 0 6.4 0a3.2 3.2 0 1 0 -6.4 0M339.1 382.2a2.3 2.3 0 1 0 4.6 0a2.3 2.3 0 1 0 -4.6 0M307.8 96.9a4.2 4.2 0 1 0 8.4 0a4.2 4.2 0 1 0 -8.4 0M394.7 -3.3a5.0 5.0 0 1 0 9.9 0a5.0 5.0 0 1 0 -9.9 0M198.0 47.4a4.8 4.8 0 1 0 9.7 0a4.8 4.8 0 1 0 -9.7 0M222.4 -7.4a4.8 4.8 0 1 0 9.6 0a4.8 4.8 0 1 0 -9.6 0M169.3 154.7a4.7 4.7 0 1 0 9.3 0a4.7 4.7 0 1 0 -9.3 0M142.1 273.1a3.7 3.7 0 1 0 7.3 0a3.7 3.7 0 1 0 -7.3 0M363.2 51.8a3.9 3.9 0 1 0 7.9 0a3.9 3.9 0 1 0 -7.9 0M307.5 17.3a4.3 4.3 0 1 0 8.7 0a4.3 4.3 0 1 0 -8.7 0M273.3 92.6a4.9 4.9 0 1 0 9.7 0a4.9 4.9 0 1 0 -9.7 0M258.5 250.5a2.6 2.6 0 1 0 5.2 0a2.6 2.6 0 1 0 -5.2 0M23.0 315.1a3.1 3.1 0 1 0 6.2 0a3.1 3.1 0 1 0 -6.2 0M102.4 250.7a3.2 3.2 0 1 0 6.3 0a3.2 3.2 0 1 0 -6.3 0M82.5 359.2a3.0 3.0 0 1 0 6.1 0a3.0 3.0 0 1 0 -6.1 0M218.2 253.1a4.8 4.8 0 1 0 9.5 0a4.8 4.8 0 1 0 -9.5 0M206.0 102.0a3.5 3.5 0 1 0 7.0 0a3.5 3.5 0 1 0 -7.0 0M107.5 95.4a3.4 3.4 0 1 0 6.7 0a3.4 3.4 0 1 0 -6.7 0M311.7 287.1a3.2 3.2 0 1 0 6.3 0a3.2 3.2 0 1 0 -6.3 0M109.6 158.8a4.0 4.0 0 1 0 8.1 0a4.0 4.0 0 1 0 -8.1 0M74.4 66.7a3.9 3.9 0 1 0 7.9 0a3.9 3.9 0 1 0 -7.9 0M75.7 106.9a2.2 2.2 0 1 0 4.4 0a2.2 2.2 0 1 0 -4.4 0M114.6 218.8a4.3 4.3 0 1 0 8.6 0a4.3 4.3 0 1 0 -8.6 0M213.1 247.6a2.6 2.6 0 1 0 5.2 0a2.6 2.6 0 1 0 -5.2 0M105.2 208.8a2.3 2.3 0 1 0 4.7 0a2.3 2.3 0 1 0 -4.7 0M380.4 321.5a2.8 2.8 0 1 0 5.5 0a2.8 2.8 0 1 0 -5.5 0M241.5 145.6a4.8 4.8 0 1 0 9.5 0a4.8 4.8 0 1 0 -9.5 0M208.0 166.0a4.0 4.0 0 1 0 8.0 0a4.0 4.0 0 1 0 -8.0 0M288.5 326.2a4.1 4.1 0 1 0 8.2 0a4.1 4.1 0 1 0 -8.2 0M61.3 5.8a2.6 2.6 0 1 0 5.2 0a2.6 2.6 0 1 0 -5.2 0M328.5 226.2a2.5 2.5 0 1 0 5.1 0a2.5 2.5 0 1 0 -5.1 0M247.9 272.7a4.0 4.0 0 1 0 8.0 0a4.0 4.0 0 1 0 -8.0 0M13.0 269.2a3.5 3.5 0 1 0 7.0 0a3.5 3.5 0 1 0 -7.0 0M382.4 -2.2a5.0 5.0 0 1 0 9.9 0a5.0 5.0 0 1 0 -9.9 0M70.6 100.4a3.9 3.9 0 1 0 7.8 0a3.9 3.9 0 1 0 -7.8 0M201.4 265.1a3.0 3.0 0 1 0 6.1 0a3.0 3.0 0 1 0 -6.1 0M303.8 290.6a4.5 4.5 0 1 0 9.1 0a4.5 4.5 0 1 0 -9.1 0M187.8 73.1a2.9 2.9 0 1 0 5.9 0a2.9 2.9 0 1 0 -5.9 0M110.6 17.9a2.1 2.1 0 1 0 4.3 0a2.1 2.1 0 1 0 -4.3 0M283.9 31.0a3.1 3.1 0 1 0 6.2 0a3.1 3.1 0 1 0 -6.2 0M258.3 -6.8a4.0 4.0 0 1 0 7.9 0a4.0 4.0 0 1 0 -7.9 0M20.0 202.8a3.1 3.1 0 1 0 6.1 0a3.1 3.1 0 1 0 -6.1 0M339.1 -3.6a4.9 4.9 0 1 0 9.8 0a4.9 4.9 0 1 0 -9.8 0"/>
<path fill="#070707" d="M31.0 19.4a4.3 4.3 0 1 0 8.7 0a4.3 4.3 0 1 0 -8.7 0M174.4 162.0a2.2 2.2 0 1 0 4.3 0a2.2 2.2 0 1 0 -4.3 0M-0.6 80.5a4.4 4.4 0 1 0 8.8 0a4.4 4.4 0 1 0 -8.8 0M240.2 169.8a4.5 4.5 0 1 0 9.1 0a4.5 4.5 0 1 0 -9.1 0M319.6 22.0a2.8 2.8 0 1 0 5.7 0a2.8 2.8 0 1 0 -5.7 0M74.4 131.9a4.0 4.0 0 1 0 8.1 0a4.0 4.0 0 1 0 -8.1 0M54.6 155.8a3.4 3.4 0 1 0 6.8 0a3.4 3.4 0 1 0 -6.8 0M30.5 398.9a3.1 3.1 0 1 0 6.1 0a3.1 3.1 0 1 0 -6.1 0M90.6 -4.9a2.3 2.3 0 1 0 4.6 0a2.3 2.3 0 1 0 -4.6 0M141.7 26.5a2.5 2.5 0 1 0 5.1 0a2.5 2.5 0 1 0 -5.1 0M299.5 301.5a3.6 3.6 0 1 0 7.2 0a3.6 3.6 0 1 0 -7.2 0M94.8 171.4a3.5 3.5 0 1 0 6.9 0a3.5 3.5 0 1 0 -6.9 0M4.6 350.3a4.4 4.4 0 1 0 8.7 0a4.4 4.4 0 1 0 -8.7 0M272.4 3.3a2.4 2.4 0 1 0 4.8 0a2.4 2.4 0 1 0 -4.8 0M301.3 95.8a4.3 4.3 0 1 0 8.5 0a4.3 4.3 0 1 0 -8.5 0M134.1 56.4a2.8 2.8 0 1 0 5.6 0a2.8 2.8 0 1 0 -5.6 0M280.7 331.0a4.9 4.9 0 1 0 9.8 0a4.9 4.9 0 1 0 -9.8 0M110.7 146.8a2.8 2.8 0 1 0 5.6 0a2.8 2.8 0 1 0 -5.6 0M296.8 24.7a4.2 4.2 0 1 0 8.3 0a4.2 4.2 0 1 0 -8.3 0M59.5 38.3a2.2 2.2 0 1 0 4.4 0a2.2 2.2 0 1 0 -4.4 0M35.4 204.9a3.3 3.3 0 1 0 6.7 0a3.3 3.3 0 1 0 -6.7 0M163.4 155.4a2.3 2.3 0 1 0 4.7 0a2.3 2.3 0 1 0 -4.7 0M334.1 108.3a2.0 2.0 0 1 0 4.0 0a2.0 2.0 0 1 0 -4.0 0M58.2 309.4a4.8 4.8 0 1 0 9.6 0a4.8 4.8 0 1 0 -9.6 0M114.1 378.8a4.8 4.8 0 1 0 9.5 0a4.8 4.8 0 1 0 -9.5 0M209.8 369.7a4.2 4.2 0 1 0 8.3 0a4.2 4.2 0 1 0 -8.3 0M339.2 192.7a2.8 2.8 0 1 0 5.6 0a2.8 2.8 0 1 0 -5.6 0M196.5 236.7a2.2 2.2 0 1 0 4.4 0a2.2 2.2 0 1 0 -4.4 0M324.3 132.6a4.2 4.2 0 1 0 8.4 0a4.2 4.2 0 1 0 -8.4 0M305.1 399.0a2.8 2.8 0 1 0 5.5 0a2.8 2.8 0 1 0 -5.5 0M313.6 301.1a2.7 2.7 0 1 0 5.4 0a2.7 2.7 0 1 0 -5.4 0M334.6 277.5a3.9 3.9 0 1 0 7.8 0a3.9 3.9 0 1 0 -7.8 0M17.3 41.0a4.0 4.0 0 1 0 7.9 0a4.0 4.0 0 1 0 -7.9 0M321.5 397.7a2.7 2.7 0 1 0 5.4 0a2.7 2.7 0 1 0 -5.4 0M378.1 109.3a3.7 3.7 0 1 0 7.5 0a3.7 3.7 0 1 0 -7.5 0M321.4 136.7a4.4 4.4 0 1 0 8.7 0a4.4 4.4 0 1 0 -8.7 0M190.3 258.4a2.6 2.6 0 1 0 5.2 0a2.6 2.6 0 1 0 -5.2 0M348.3 122.9a2.4 2.4 0 1 0 4.8 0a2.4 2.4 0 1 0 -4.8 0M107.7 272.1a3.1 3.1 0 1 0 6.2 0a3.1 3.1 0 1 0 -6.2 0M74.5 333.9a4.5 4.5 0 1 0 9.1 0a4.5 4.5 0 1 0 -9.1 0M356.0 5.7a2.7 2.7 0 1 0 5.5 0a2.7 2.7 0 1 0 -5.5 0M255.4 233.0a3.9 3.9 0 1 0 7.9 0a3.9 3.9 0 1 0 -7.9 0M132.0 41.7a3.5 3.5 0 1 0 7.0 0a3.5 3.5 0 1 0 -7.0 0M47.7 263.4a2.2 2.2 0 1 0 4.4 0a2.2 2.2 0 1 0 -4.4 0M114.8 163.5a2.2 2.2 0 1 0 4.4 0a2.2 2.2 0 1 0 -4.4 0M286.9 213.8a4.6 4.6 0 1 0 9.2 0a4.6 4.6 0 1 0 -9.2 0M84.5 101.9a2.3 2.3 0 1 0 4.6 0a2.3 2.3 0 1 0 -4.6 0M330.5 137.0a2.3 2.3 0 1 0 4.6 0a2.3 2.3 0 1 0 -4.6 0M399.7 142.6a2.9 2.9 0 1 0 5.7 0a2.9 2.9 0 1 0 -5.7 0M170.0 165.2a2.8 2.8 0 1 0 5.7 0a2.8 2.8 0 1 0 -5.7 0M404.2 89.3a3.3 3.3 0 1 0 6.7 0a3.3 3.3 0 1 0 -6.7 0M290.7 43.8a4.5 4.5 0 1 0 9.1 0a4.5 4.5 0 1 0 -9.1 0M186.0 34.1a2.3 2.3 0 1 0 4.7 0a2.3 2.3 0 1 0 -4.7 0M38.2 243.6a2.3 2.3 0 1 0 4.6 0a2.3 2.3 0 1 0 -4.6 0M367.3 245.3a2.6 2.6 0 1 0 5.3 0a2.6 2.6 0 1 0 -5.3 0M163.5 184.0a2.8 2.8 0 1 0 5.5 0a2.8 2.8 0 1 0 -5.5 0M224.3 73.0a5.0 5.0 0 1 0 10.0 0a5.0 5.0 0 1 0 -10.0 0M-7.2 67.9a4.3 4.3 0 1 0 8.6 0a4.3 4.3 0 1 0 -8.6 0M123.3 234.1a3.9 3.9 0 1 0 7.8 0a3.9 3.9 0 1 0 -7.8 0M175.0 206.8a2.1 2.1 0 1 0 4.1 0a2.1 2.1 0 1 0 -4.1 0M376.7 338.3a2.5 2.5 0 1 0 5.0 0a2.5 2.5 0 1 0 -5.0 0M359.4 334.4a2.3 2.3 0 1 0 4.6 0a2.3 2.3 0 1 0 -4.6 0M237.8 38.0a3.7 3.7 0 1 0 7.5 0a3.7 3.7 0 1 0 -7.5 0M18.5 366.0a3.7 3.7 0 1 0 7.4 0a3.7 3.7 0 1 0 -7.4 0M286.5 57.9a4.6 4.6 0 1 0 9.1 0a4.6 4.6 0 1 0 -9.1 0M217.0 173.4a2.8 2.8 0 1 0 5.6 0a2.8 2.8 0 1 0 -5.6 0M320.9 366.0a3.8 3.8 0 1 0 7.5 0a3.8 3.8 0 1 0 -7.5 0M8.3 62.4a3.0 3.0 0 1 0 6.0 0a3.0 3.0 0 1 0 -6.0 0M73.1 69.2a4.1 4.1 0 1 0 8.2 0a4.1 4.1 0 1 0 -8.2 0M84.1 258.2a2.7 2.7 0 1 0 5.4 0a2.7 2.7 0 1 0 -5.4 0M303.0 106.9a2.2 2.2 0 1 0 4.5 0a2.2 2.2 0 1 0 -4.5 0M24.5 146.6a3.8 3.8 0 1 0 7.6 0a3.8 3.8 0 1 0 -7.6 0M268.1 107.1a2.8 2.8 0 1 0 5.7 0a2.8 2.8 0 1 0 -5.7 0M337.2 58.1a2.7 2.7 0 1 0 5.5 0a2.7 2.7 0 1 0 -5.5 0M193.8 219.1a3.9 3.9 0 1 0 7.7 0a3.9 3.9 0 1 0 -7.7 0M368.1 152.6a4.3 4.3 0 1 0 8.5 0a4.3 4.3 0 1 0 -8.5 0M406.2 132.7a3.6 3.6 0 1 0 7.3 0a3.6 3.6 0 1 0 -7.3 0M310.3 202.6a4.4 4.4 0 1 0 8.8 0a4.4 4.4 0 1 0 -8.8 0M213.7 246.8a4.9 4.9 0 1 0 9.8 0a4.9 4.9 0 1 0 -9.8 0M268.2 197.7a4.4 4.4 0 1 0 8.9 0a4.4 4.4 0 1 0 -8.9 0M6.2 324.3a3.0 3.0 0 1 0 5.9 0a3.0 3.0 0 1 0 -5.9 0M361.7 288.8a4.1 4.1 0 1 0 8.3 0a4.1 4.1 0 1 0 -8.3 0M229.3 247.7a2.6 2.6 0 1 0 5.1 0a2.6 2.6 0 1 0 -5.1 0M380.8 342.5a4.2 4.2 0 1 0 8.4 0a4.2 4.2 0 1 0 -8.4 0M130.9 167.5a4.9 4.9 0 1 0 9.8 0a4.9 4.9 0 1 0 -9.8 0M24.6 279.9a4.9 4.9 0 1 0 9.8 0a4.9 4.9 0 1 0 -9.8 0M227.5 397.7a3.7 3.7 0 1 0 7.4 0a3.7 3.7 0 1 0 -7.4 0M-4.0 256.8a4.7 4.7 0 1 0 9.4 0a4.7 4.7 0 1 0 -9.4 0M62.4 110.3a2.7 2.7 0 1 0 5.3 0a2.7 2.7 0 1 0 -5.3 0M128.8 173.4a3.5 3.5 0 1 0 7.0 0a3.5 3.5 0 1 0 -7.0 0M71.6 130.0a3.9 3.9 0 1 0 7.7 0a3.9 3.9 0 1 0 -7.7 0M14.3 261.9a3.0 3.0 0 1 0 6.1 0a3.0 3.0 0 1 0 -6.1 0M241.4 168.7a2.8 2.8 0 1 0 5.5 0a2.8 2.8 0 1 0 -5.5 0M33.0 184.1a4.9 4.9 0 1 0 9.8 0a4.9 4.9 0 1 0 -9.8 0M272.9 257.4a3.2 3.2 0 1 0 6.4 0a3.2 3.2 0 1 0 -6.4 0M236.6 352.6a4.3 4.3 0 1 0 8.6 0a4.3 4.3 0 1 0 -8.6 0M58.4 399.1a2.1 2.1 0 1 0 4.2 0a2.1 2.1 0 1 0 -4.2 0M111.9 165.8a2.0 2.0 0 1 0 4.0 0a2.0 2.0 0 1 0 -4.0 0M126.5 -6.7a4.6 4.6 0 1 0 9.1 0a4.6 4.6 0 1 0 -9.1 0M10.6 68.5a4.3 4.3 0 1 0 8.7 0a4.3 4.3 0 1 0 -8.7 0M319.2 7.5a3.6 3.6 0 1 0 7.1 0a3.6 3.6 0 1 0 -7.1 0M102.0 243.7a3.8 3.8 0 1 0 7.5 0a3.8 3.8 0 1 0 -7.5 0M207.3 104.6a4.8 4.8 0 1 0 9.5 0a4.8 4.8 0 1 0 -9.5 0M174.6 222.9a2.6 2.6 0 1 0 5.2 0a2.6 2.6 0 1 0 -5.2 0M34.1 251.7a3.2 3.2 0 1 0 6.3 0a3.2 3.2 0 1 0 -6.3 0M183.6 91.7a4.4 4.4 0 1 0 8.7 0a4.4 4.4 0 1 0 -8.7 0M346.7 144.4a3.2 3.2 0 1 0 6.3 0a3.2 3.2 0 1 0 -6.3 0M241.7 357.5a4.1 4.1 0 1 0 8.2 0a4.1 4.1 0 1 0 -8.2 0M230.2 257.9a4.4 4.4 0 1 0 8.9 0a4.4 4.4 0 1 0 -8.9 0M169.7 250.1a3.9 3.9 0 1 0 7.8 0a3.9 3.9 0 1 0 -7.8 0M223.6 84.2a4.9 4.9 0 1 0 9.8 0a4.9 4.9 0 1 0 -9.8 0M166.0 134.8a2.9 2.9 0 1 0 5.8 0a2.9 2.9 0 1 0 -5.8 0M136.5 105.0a5.0 5.0 0 1 0 9.9 0a5.0 5.0 0 1 0 -9.9 0M257.4 305.2a4.4 4.4 0 1 0 8.9 0a4.4 4.4 0 1 0 -8.9 0M336.3 132.7a2.2 2.2 0 1 0 4.4 0a2.2 2.2 0 1 0 -4.4 0M123.1 265.3a4.4 4.4 0 1 0 8.8 0a4.4 4.4 0 1 0 -8.8 0M387.0 66.2a2.5 2.5 0 1 0 4.9 0a2.5 2.5 0 1 0 -4.9 0M278.2 167.2a2.5 2.5 0 1 0 4.9 0a2.5 2.5 0 1 0 -4.9 0M284.7 113.5a4.7 4.7 0 1 0 9.5 0a4.7 4.7 0 1 0 -9.5 0M299.5 0.4a2.5 2.5 0 1 0 5.0 0a2.5 2.5 0 1 0 -5.0 0M167.6 159.8a4.3 4.3 0 1 0 8.6 0a4.3 4.3 0 1 0 -8.6 0M400.0 143.1a4.5 4.5 0 1 0 8.9 0a4.5 4.5 0 1 0 -8.9 0M198.7 43.3a3.7 3.7 0 1 0 7.3 0a3.7 3.7 0 1 0 -7.3 0M200.3 -0.7a4.6 4.6 0 1 0 9.2 0a4.6 4.6 0 1 0 -9.2 0M183.6 350.1a2.6 2.6 0 1 0 5.3 0a2.6 2.6 0 1 0 -5.3 0M144.5 10.8a3.0 3.0 0 1 0 6.0 0a3.0 3.0 0 1 0 -6.0 0M210.5 244.6a3.4 3.4 0 1 0 6.8 0a3.4 3.4 0 1 0 -6.8 0M141.6 197.6a4.2 4.2 0 1 0 8.3 0a4.2 4.2 0 1 0 -8.3 0M345.1 14.1a4.7 4.7 0 1 0 9.5 0a4.7 4.7 0 1 0 -9.5 0M115.9 19.2a3.5 3.5 0 1 0 7.1 0a3.5 3.5 0 1 0 -7.1 0M42.4 408.9a4.6 4.6 0 1 0 9.1 0a4.6 4.6 0 1 0 -9.1 0M29.3 94.6a2.9 2.9 0 1 0 5.7 0a2.9 2.9 0 1 0 -5.7 0M279.5 54.7a4.6 4.6 0 1 0 9.2 0a4.6 4.6 0 1 0 -9.2 0M154.3 234.3a4.4 4.4 0 1 0 8.9 0a4.4 4.4 0 1 0 -8.9 0M367.5 273.2a3.4 3.4 0 1 0 6.8 0a3.4 3.4 0 1 0 -6.8 0M308.4 148.7a4.2 4.2 0 1 0 8.5 0a4.2 4.2 0 1 0 -8.5 0M-0.8 27.5a3.6 3.6 0 1 0 7.3 0a3.6 3.6 0 1 0 -7.3 0M133.6 372.2a4.3 4.3 0 1 0 8.7 0a4.3 4.3 0 1 0 -8.7 0M312.5 122.5a2.1 2.1 0 1 0 4.2 0a2.1 2.1 0 1 0 -4.2 0M359.5 82.4a2.4 2.4 0 1 0 4.9 0a2.4 2.4 0 1 0 -4.9 0M142.2 82.7a3.8 3.8 0 1 0 7.6 0a3.8 3.8 0 1 0 -7.6 0M103.1 66.0a3.0 3.0 0 1 0 6.0 0a3.0 3.0 0 1 0 -6.0 0M351.6 28.5a4.4 4.4 0 1 0 8.8 0a4.4 4.4 0 1 0 -8.8 0M382.9 -7.8a3.1 3.1 0 1 0 6.2 0a3.1 3.1 0 1 0 -6.2 0M325.4 301.0a4.7 4.7 0 1 0 9.3 0a4.7 4.7 0 1 0 -9.3 0M79.7 327.9a5.0 5.0 0 1 0 10.0 0a5.0 5.0 0 1 0 -10.0 0M376.2 291.0a2.3 2.3 0 1 0 4.7 0a2.3 2.3 0 1 0 -4.7 0M1.3 293.8a4.8 4.8 0 1 0 9.7 0a4.8 4.8 0 1 0 -9.7 0M218.0 211.2a2.4 2.4 0 1 0 4.9 0a2.4 2.4 0 1 0 -4.9 0M65.4 56.2a2.4 2.4 0 1 0 4.8 0a2.4 2.4 0 1 0 -4.8 0M31.2 15.7a3.6 3.6 0 1 0 7.1 0a3.6 3.6 0 1 0 -7.1 0M52.7 95.9a2.4 2.4 0 1 0 4.8 0a2.4 2.4 0 1 0 -4.8 0M406.8 83.6a4.7 4.7 0 1 0 9.5 0a4.7 4.7 0 1 0 -9.5 0M318.3 172.5a2.3 2.3 0 1 0 4.7 0a2.3 2.3 0 1 0 -4.7 0M18.7 132.6a4.1 4.1 0 1 0 8.1 0a4.1 4.1 0 1 0 -8.1 0M170.8 224.3a4.7 4.7 0 1 0 9.5 0a4.7 4.7 0 1 0 -9.5 0M158.8 107.4a3.8 3.8 0 1 0 7.5 0a3.8 3.8 0 1 0 -7.5 0M249.3 302.2a2.5 2.5 0 1 0 5.1 0a2.5 2.5 0 1 0 -5.1 0M31.5 36.1a3.4 3.4 0 1 0 6.8 0a3.4 3.4 0 1 0 -6.8 0M351.3 272.3a3.2 3.2 0 1 0 6.3 0a3.2 3.2 0 1 0 -6.3 0M177.9 171.4a2.1 2.1 0 1 0 4.3 0a2.1 2.1 0 1 0 -4.3 0M105.8 58.6a4.2 4.2 0 1 0 8.4 0a4.2 4.2 0 1 0 -8.4 0M294.9 28.0a3.2 3.2 0 1 0 6.4 0a3.2 3.2 0 1 0 -6.4 0M110.2 217.4a4.1 4.1 0 1 0 8.2 0a4.1 4.1 0 1 0 -8.2 0M380.6 5.2a3.7 3.7 0 1 0 7.5 0a3.7 3.7 0 1 0 -7.5 0M107.8 -1.7a3.8 3.8 0 1 0 7.5 0a3.8 3.8 0 1 0 -7.5 0M119.1 35.3a4.0 4.0 0 1 0 8.1 0a4.0 4.0 0 1 0 -8.1 0M36.4 390.8a4.0 4.0 0 1 0 8.0 0a4.0 4.0 0 1 0 -8.0 0M54.4 33.7a3.1 3.1 0 1 0 6.1 0a3.1 3.1 0 1 0 -6.1 0M222.8 207.6a2.6 2.6 0 1 0 5.2 0a2.6 2.6 0 1 0 -5.2 0M373.7 281.4a2.8 2.8 0 1 0 5.6 0a2.8 2.8 0 1 0 -5.6 0M68.3 84.7a2.2 2.2 0 1 0 4.4 0a2.2 2.2 0 1 0 -4.4 0M32.5 193.8a2.8 2.8 0 1 0 5.6 0a2.8 2.8 0 1 0 -5.6 0M275.4 49.8a4.9 4.9 0 1 0 9.8 0a4.9 4.9 0 1 0 -9.8 0M-3.8 30.6a4.4 4.4 0 1 0 8.8 0a4.4 4.4 0 1 0 -8.8 0M27.8 205.7a2.4 2.4 0 1 0 4.8 0a2.4 2.4 0 1 0 -4.8 0M207.0 225.9a2.4 2.4 0 1 0 4.7 0a2.4 2.4 0 1 0 -4.7 0M242.5 328.4a3.1 3.1 0 1 0 6.1 0a3.1 3.1 0 1 0 -6.1 0M134.9 -6.4a3.0 3.0 0 1 0 6.0 0a3.0 3.0 0 1 0 -6.0 0M336.5 297.7a3.3 3.3 0 1 0 6.5 0a3.3 3.3 0 1 0 -6.5 0M236.3 139.2a2.5 2.5 0 1 0 5.0 0a2.5 2.5 0 1 0 -5.0 0M382.3 82.8a3.2 3.2 0 1 0 6.5 0a3.2 3.2 0 1 0 -6.5 0M200.5 20.6a4.1 4.1 0 1 0 8.1 0a4.1 4.1 0 1 0 -8.1 0M198.5 151.2a4.9 4.9 0 1 0 9.7 0a4.9 4.9 0 1 0 -9.7 0M184.9 86.9a3.1 3.1 0 1 0 6.2 0a3.1 3.1 0 1 0 -6.2 0M11.5 111.0a3.0 3.0 0 1 0 5.9 0a3.0 3.0 0 1 0 -5.9 0M119.8 190.8a3.4 3.4 0 1 0 6.8 0a3.4 3.4 0 1 0 -6.8 0M195.1 184.8a2.4 2.4 0 1 0 4.8 0a2.4 2.4 0 1 0 -4.8 0M362.2 292.3a2.4 2.4 0 1 0 4.8 0a2.4 2.4 0 1 0 -4.8 0M317.0 54.2a3.9 3.9 0 1 0 7.8 0a3.9 3.9 0 1 0 -7.8 0M202.0 220.5a2.4 2.4 0 1 0 4.8 0a2.4 2.4 0 1 0 -4.8 0M133.7 -6.1a3.1 3.1 0 1 0 6.2 0a3.1 3.1 0 1 0 -6.2 0M282.6 151.9a3.8 3.8 0 1 0 7.5 0a3.8 3.8 0 1 0 -7.5 0M323.8 166.7a4.6 4.6 0 1 0 9.3 0a4.6 4.6 0 1 0 -9.3 0M284.3 160.4a4.6 4.6 0 1 0 9.1 0a4.6 4.6 0 1 0 -9.1 0M45.4 7.1a2.8 2.8 0 1 0 5.6 0a2.8 2.8 0 1 0 -5.6 0M351.7 130.8a3.7 3.7 0 1 0 7.5 0a3.7 3.7 0 1 0 -7.5 0M260.1 72.4a3.3 3.3 0 1 0 6.6 0a3.3 3.3 0 1 0 -6.6 0M29.8 132.9a2.1 2.1 0 1 0 4.1 0a2.1 2.1 0 1 0 -4.1 0M371.9 107.4a4.4 4.4 0 1 0 8.8 0a4.4 4.4 0 1 0 -8.8 0M373.4 332.3a3.7 3.7 0 1 0 7.4 0a3.7 3.7 0 1 0 -7.4 0M34.6 346.2a4.7 4.7 0 1 0 9.4 0a4.7 4.7 0 1 0 -9.4 0M284.3 315.2a4.0 4.0 0 1 0 8.0 0a4.0 4.0 0 1 0 -8.0 0M368.9 -3.5a3.1 3.1 0 1 0 6.1 0a3.1 3.1 0 1 0 -6.1 0M135.3 41.9a4.7 4.7 0 1 0 9.4 0a4.7 4.7 0 1 0 -9.4 0M405.2 32.6a4.3 4.3 0 1 0 8.5 0a4.3 4.3 0 1 0 -8.5 0M73.0 348.1a4.2 4.2 0 1 0 8.3 0a4.2 4.2 0 1 0 -8.3 0M346.4 359.7a3.0 3.0 0 1 0 6.1 0a3.0 3.0 0 1 0 -6.1 0M-7.3 62.0a3.1 3.1 0 1 0 6.2 0a3.1 3.1 0 1 0 -6.2 0M46.8 206.1a3.7 3.7 0 1 0 7.5 0a3.7 3.7 0 1 0 -7.5 0M195.1 169.5a2.2 2.2 0 1 0 4.3 0a2.2 2.2 0 1 0 -4.3 0M138.8 288.5a2.5 2.5 0 1 0 5.0 0a2.5 2.5 0 1 0 -5.0 0M191.6 220.3a3.9 3.9 0 1 0 7.9 0a3.9 3.9 0 1 0 -7.9 0M53.3 167.3a3.4 3.4 0 1 0 6.8 0a3.4 3.4 0 1 0 -6.8 0M22.6 -5.9a2.2 2.2 0 1 0 4.4 0a2.2 2.2 0 1 0 -4.4 0M348.5 82.9a2.6 2.6 0 1 0 5.1 0a2.6 2.6 0 1 0 -5.1 0M109.1 292.7a5.0 5.0 0 1 0 10.0 0a5.0 5.0 0 1 0 -10.0 0M174.7 191.1a4.4 4.4 0 1 0 8.8 0a4.4 4.4 0 1 0 -8.8 0M395.7 58.5a2.8 2.8 0 1 0 5.6 0a2.8 2.8 0 1 0 -5.6 0M316.5 331.5a5.0 5.0 0 1 0 9.9 0a5.0 5.0 0 1 0 -9.9 0M240.0 224.3a2.7 2.7 0 1 0 5.4 0a2.7 2.7 0 1 0 -5.4 0M236.9 79.2a4.8 4.8 0 1 0 9.6 0a4.8 4.8 0 1 0 -9.6 0M123.5 307.2a2.4 2.4 0 1 0 4.7 0a2.4 2.4 0 1 0 -4.7 0M-0.2 391.5a2.6 2.6 0 1 0 5.2 0a2.6 2.6 0 1 0 -5.2 0M307.1 65.8a3.8 3.8 0 1 0 7.7 0a3.8 3.8 0 1 0 -7.7 0M253.0 108.8a2.3 2.3 0 1 0 4.7 0a2.3 2.3 0 1 0 -4.7 0M397.7 95.3a4.9 4.9 0 1 0 9.7 0a4.9 4.9 0 1 0 -9.7 0M19.7 137.5a3.4 3.4 0 1 0 6.9 0a3.4 3.4 0 1 0 -6.9 0M92.3 63.8a3.7 3.7 0 1 0 7.5 0a3.7 3.7 0 1 0 -7.5 0M320.3 92.2a4.8 4.8 0 1 0 9.6 0a4.8 4.8 0 1 0 -9.6 0M148.8 18.5a3.8 3.8 0 1 0 7.6 0a3.8 3.8 0 1 0 -7.6 0M151.0 145.7a3.1 3.1 0 1 0 6.3 0a3.1 3.1 0 1 0 -6.3 0M403.4 373.0a3.1 3.1 0 1 0 6.2 0a3.1 3.1 0 1 0 -6.2 0M200.8 16.3a4.2 4.2 0 1 0 8.5 0a4.2 4.2 0 1 0 -8.5 0M46.2 66.9a3.9 3.9 0 1 0 7.8 0a3.9 3.9 0 1 0 -7.8 0M36.9 28.3a3.2 3.2 0 1 0 6.5 0a3.2 3.2 0 1 0 -6.5 0M400.5 73.8a3.7 3.7 0 1 0 7.4 0a3.7 3.7 0 1 0 -7.4 0M338.4 61.5a2.7 2.7 0 1 0 5.4 0a2.7 2.7 0 1 0 -5.4 0M27.8 52.8a3.5 3.5 0 1 0 6.9 0a3.5 3.5 0 1 0 -6.9 0M212.2 54.9a2.8 2.8 0 1 0 5.6 0a2.8 2.8 0 1 0 -5.6 0M146.1 290.4a2.7 2.7 0 1 0 5.3 0a2.7 2.7 0 1 0 -5.3 0M77.4 331.8a4.5 4.5 0 1 0 9.0 0a4.5 4.5 0 1 0 -9.0 0M394.9 126.3a2.7 2.7 0 1 0 5.3 0a2.7 2.7 0 1 0 -5.3 0M172.1 252.2a2.6 2.6 0 1 0 5.2 0a2.6 2.6 0 1 0 -5.2 0M179.9 26.0a3.6 3.6 0 1 0 7.2 0a3.6 3.6 0 1 0 -7.2 0M355.7 167.9a2.4 2.4 0 1 0 4.8 0a2.4 2.4 0 1 0 -4.8 0M22.8 3.2a4.4 4.4 0 1 0 8.8 0a4.4 4.4 0 1 0 -8.8 0M362.8 56.8a3.0 3.0 0 1 0 6.0 0a3.0 3.0 0 1 0 -6.0 0M127.8 243.0a3.4 3.4 0 1 0 6.9 0a3.4 3.4 0 1 0 -6.9 0M341.2 239.1a4.7 4.7 0 1 0 9.4 0a4.7 4.7 0 1 0 -9.4 0M333.4 60.9a2.0 2.0 0 1 0 4.1 0a2.0 2.0 0 1 0 -4.1 0M50.9 303.7a4.4 4.4 0 1 0 8.8 0a4.4 4.4 0 1 0 -8.8 0M167.2 141.0a3.3 3.3 0 1 0 6.7 0a3.3 3.3 0 1 0 -6.7 0M157.1 192.0a5.0 5.0 0 1 0 10.0 0a5.0 5.0 0 1 0 -10.0 0M167.7 182.0a2.8 2.8 0 1 0 5.5 0a2.8 2.8 0 1 0 -5.5 0M103.6 157.5a2.7 2.7 0 1 0 5.4 0a2.7 2.7 0 1 0 -5.4 0M319.7 31.9a2.5 2.5 0 1 0 4.9 0a2.5 2.5 0 1 0 -4.9 0M173.8 140.5a4.3 4.3 0 1 0 8.6 0a4.3 4.3 0 1 0 -8.6 0M3.7 101.4a2.9 2.9 0 1 0 5.9 0a2.9 2.9 0 1 0 -5.9 0M228.9 17.3a3.2 3.2 0 1 0 6.4 0a3.2 3.2 0 1 0 -6.4 0M128.9 239.5a2.4 2.4 0 1 0 4.8 0a2.4 2.4 0 1 0 -4.8 0M83.6 337.1a4.5 4.5 0 1 0 9.1 0a4.5 4.5 0 1 0 -9.1 0M120.8 394.0a4.3 4.3 0 1 0 8.7 0a4.3 4.3 0 1 0 -8.7 0M138.3 72.9a3.7 3.7 0 1 0 7.5 0a3.7 3.7 0 1 0 -7.5 0M384.7 406.8a2.1 2.1 0 1 0 4.2 0a2.1 2.1 0 1 0 -4.2 0M170.9 303.9a4.6 4.6 0 1 0 9.2 0a4.6 4.6 0 1 0 -9.2 0M5.1 10.9a2.7 2.7 0 1 0 5.3 0a2.7 2.7 0 1 0 -5.3 0M291.2 81.7a3.5 3.5 0 1 0 7.0 0a3.5 3.5 0 1 0 -7.0 0M370.8 128.4a4.5 4.5 0 1 0 9.1 0a4.5 4.5 0 1 0 -9.1 0M152.5 229.0a3.9 3.9 0 1 0 7.9 0a3.9 3.9 0 1 0 -7.9 0M86.9 236.5a4.1 4.1 0 1 0 8.2 0a4.1 4.1 0 1 0 -8.2 0M116.3 199.1a3.9 3.9 0 1 0 7.9 0a3.9 3.9 0 1 0 -7.9 0M244.6 188.7a3.1 3.1 0 1 0 6.2 0a3.1 3.1 0 1 0 -6.2 0M120.8 4.2a2.5 2.5 0 1 0 4.9 0a2.5 2.5 0 1 0 -4.9 0"/>
</g>
<circle cx="211.2" cy="182.2" r="2.3" fill="url(#rdot)"/><circle cx="115.8" cy="43.7" r="2.7" fill="url(#rdot)"/><circle cx="46.9" cy="98.4" r="3.8" fill="url(#rdot)"/><circle cx="361.5" cy="304.6" r="2.9" fill="url(#rdot)"/><circle cx="327.6" cy="180.6" r="2.9" fill="url(#rdot)"/><circle cx="367.1" cy="394.7" r="2.7" fill="url(#rdot)"/><circle cx="42.8" cy="8.3" r="3.9" fill="url(#rdot)"/><circle cx="179.0" cy="153.2" r="3.0" fill="url(#rdot)"/><circle cx="124.5" cy="86.9" r="2.8" fill="url(#rdot)"/><circle cx="169.1" cy="154.3" r="2.8" fill="url(#rdot)"/><circle cx="259.1" cy="335.4" r="4.0" fill="url(#rdot)"/><circle cx="352.1" cy="304.1" r="3.5" fill="url(#rdot)"/><circle cx="191.1" cy="164.2" r="3.1" fill="url(#rdot)"/><circle cx="375.4" cy="144.1" r="4.5" fill="url(#rdot)"/><circle cx="133.8" cy="196.8" r="2.3" fill="url(#rdot)"/><circle cx="68.1" cy="13.2" r="2.6" fill="url(#rdot)"/><circle cx="156.6" cy="154.4" r="2.5" fill="url(#rdot)"/><circle cx="86.8" cy="282.0" r="3.9" fill="url(#rdot)"/><circle cx="353.4" cy="115.3" r="2.5" fill="url(#rdot)"/><circle cx="18.0" cy="400.4" r="3.1" fill="url(#rdot)"/><circle cx="373.9" cy="319.3" r="3.9" fill="url(#rdot)"/><circle cx="270.2" cy="305.6" r="3.9" fill="url(#rdot)"/><circle cx="328.0" cy="242.1" r="3.6" fill="url(#rdot)"/><circle cx="270.2" cy="260.4" r="3.9" fill="url(#rdot)"/><circle cx="252.6" cy="156.9" r="3.0" fill="url(#rdot)"/><circle cx="14.1" cy="298.9" r="2.5" fill="url(#rdot)"/><circle cx="32.2" cy="56.4" r="4.5" fill="url(#rdot)"/><circle cx="352.0" cy="167.0" r="3.5" fill="url(#rdot)"/><circle cx="397.5" cy="269.0" r="2.7" fill="url(#rdot)"/><circle cx="72.2" cy="102.0" r="4.5" fill="url(#rdot)"/><circle cx="40.3" cy="172.0" r="3.8" fill="url(#rdot)"/><circle cx="42.7" cy="317.2" r="3.4" fill="url(#rdot)"/><circle cx="391.8" cy="129.4" r="3.2" fill="url(#rdot)"/><circle cx="7.4" cy="31.7" r="2.9" fill="url(#rdot)"/><circle cx="311.1" cy="151.0" r="3.5" fill="url(#rdot)"/><circle cx="392.5" cy="164.0" r="3.5" fill="url(#rdot)"/><circle cx="395.9" cy="123.8" r="3.6" fill="url(#rdot)"/><circle cx="56.1" cy="122.4" r="2.9" fill="url(#rdot)"/><circle cx="136.4" cy="179.8" r="2.6" fill="url(#rdot)"/><circle cx="167.1" cy="142.9" r="3.7" fill="url(#rdot)"/><circle cx="321.0" cy="6.6" r="4.2" fill="url(#rdot)"/><circle cx="160.4" cy="118.1" r="2.5" fill="url(#rdot)"/><circle cx="377.5" cy="106.9" r="4.0" fill="url(#rdot)"/><circle cx="161.2" cy="138.1" r="4.4" fill="url(#rdot)"/><circle cx="303.6" cy="288.1" r="3.6" fill="url(#rdot)"/><circle cx="372.7" cy="235.4" r="4.2" fill="url(#rdot)"/><circle cx="155.9" cy="353.3" r="3.5" fill="url(#rdot)"/><circle cx="316.5" cy="381.6" r="4.3" fill="url(#rdot)"/><circle cx="51.8" cy="172.9" r="3.7" fill="url(#rdot)"/><circle cx="106.2" cy="324.7" r="4.2" fill="url(#rdot)"/><circle cx="43.2" cy="185.4" r="3.1" fill="url(#rdot)"/><circle cx="34.7" cy="346.5" r="3.1" fill="url(#rdot)"/><circle cx="242.5" cy="25.5" r="2.7" fill="url(#rdot)"/><circle cx="337.9" cy="104.9" r="3.4" fill="url(#rdot)"/><circle cx="26.8" cy="316.8" r="4.0" fill="url(#rdot)"/><circle cx="187.9" cy="234.3" r="4.1" fill="url(#rdot)"/><circle cx="392.2" cy="71.2" r="2.5" fill="url(#rdot)"/><circle cx="13.1" cy="353.4" r="4.3" fill="url(#rdot)"/><circle cx="241.1" cy="249.6" r="3.0" fill="url(#rdot)"/><circle cx="344.0" cy="173.1" r="3.4" fill="url(#rdot)"/><circle cx="31.0" cy="293.4" r="4.4" fill="url(#rdot)"/><circle cx="217.4" cy="65.6" r="3.2" fill="url(#rdot)"/><circle cx="198.9" cy="338.1" r="4.0" fill="url(#rdot)"/><circle cx="351.1" cy="15.9" r="3.5" fill="url(#rdot)"/><circle cx="378.6" cy="222.4" r="3.4" fill="url(#rdot)"/><circle cx="320.1" cy="173.0" r="2.6" fill="url(#rdot)"/><circle cx="270.7" cy="130.0" r="3.2" fill="url(#rdot)"/><circle cx="175.8" cy="278.4" r="2.4" fill="url(#rdot)"/><circle cx="242.9" cy="93.4" r="2.6" fill="url(#rdot)"/><circle cx="105.7" cy="352.7" r="2.9" fill="url(#rdot)"/><circle cx="399.8" cy="382.3" r="4.0" fill="url(#rdot)"/><circle cx="193.4" cy="43.2" r="2.7" fill="url(#rdot)"/><circle cx="175.4" cy="274.0" r="2.3" fill="url(#rdot)"/><circle cx="157.9" cy="113.7" r="3.8" fill="url(#rdot)"/><circle cx="97.9" cy="189.7" r="3.8" fill="url(#rdot)"/><circle cx="50.3" cy="355.5" r="4.0" fill="url(#rdot)"/><circle cx="290.9" cy="353.3" r="4.4" fill="url(#rdot)"/><circle cx="212.0" cy="142.7" r="3.5" fill="url(#rdot)"/><circle cx="118.5" cy="148.3" r="3.1" fill="url(#rdot)"/><circle cx="33.6" cy="101.7" r="3.6" fill="url(#rdot)"/><circle cx="39.4" cy="167.4" r="4.3" fill="url(#rdot)"/><circle cx="183.8" cy="89.9" r="2.7" fill="url(#rdot)"/><circle cx="340.6" cy="315.8" r="3.0" fill="url(#rdot)"/><circle cx="213.0" cy="259.9" r="2.7" fill="url(#rdot)"/><circle cx="232.6" cy="87.4" r="3.1" fill="url(#rdot)"/><circle cx="219.1" cy="225.1" r="4.0" fill="url(#rdot)"/><circle cx="224.6" cy="368.3" r="3.5" fill="url(#rdot)"/><circle cx="210.1" cy="334.8" r="3.5" fill="url(#rdot)"/><circle cx="249.8" cy="311.6" r="3.7" fill="url(#rdot)"/><circle cx="376.5" cy="47.4" r="3.4" fill="url(#rdot)"/><circle cx="14.9" cy="243.3" r="4.2" fill="url(#rdot)"/><circle cx="367.2" cy="87.7" r="2.6" fill="url(#rdot)"/><circle cx="140.7" cy="196.8" r="2.7" fill="url(#rdot)"/><circle cx="160.6" cy="339.1" r="3.1" fill="url(#rdot)"/><circle cx="231.3" cy="101.9" r="2.6" fill="url(#rdot)"/><circle cx="318.0" cy="145.8" r="4.0" fill="url(#rdot)"/><circle cx="293.1" cy="225.5" r="2.6" fill="url(#rdot)"/><circle cx="397.4" cy="296.0" r="4.2" fill="url(#rdot)"/><circle cx="308.1" cy="326.5" r="3.6" fill="url(#rdot)"/><circle cx="174.4" cy="261.9" r="3.6" fill="url(#rdot)"/><circle cx="165.3" cy="236.8" r="4.0" fill="url(#rdot)"/><circle cx="33.4" cy="169.4" r="2.6" fill="url(#rdot)"/><circle cx="127.8" cy="76.2" r="4.3" fill="url(#rdot)"/><circle cx="205.6" cy="287.5" r="3.4" fill="url(#rdot)"/><circle cx="380.5" cy="156.2" r="2.9" fill="url(#rdot)"/><circle cx="345.1" cy="212.5" r="2.8" fill="url(#rdot)"/><circle cx="181.1" cy="367.6" r="3.5" fill="url(#rdot)"/><circle cx="363.7" cy="227.1" r="3.7" fill="url(#rdot)"/><circle cx="256.6" cy="51.8" r="4.2" fill="url(#rdot)"/><circle cx="359.7" cy="55.7" r="3.1" fill="url(#rdot)"/><circle cx="196.4" cy="229.9" r="3.6" fill="url(#rdot)"/><circle cx="85.9" cy="3.6" r="3.4" fill="url(#rdot)"/><circle cx="365.8" cy="189.0" r="2.5" fill="url(#rdot)"/><circle cx="274.3" cy="0.7" r="3.0" fill="url(#rdot)"/><circle cx="212.9" cy="285.2" r="3.8" fill="url(#rdot)"/><circle cx="278.1" cy="44.7" r="3.0" fill="url(#rdot)"/><circle cx="150.5" cy="60.7" r="3.8" fill="url(#rdot)"/><circle cx="229.5" cy="197.6" r="3.8" fill="url(#rdot)"/><circle cx="85.1" cy="131.1" r="2.8" fill="url(#rdot)"/><circle cx="382.6" cy="291.6" r="2.7" fill="url(#rdot)"/><circle cx="1.3" cy="71.2" r="4.1" fill="url(#rdot)"/><circle cx="127.9" cy="29.3" r="3.7" fill="url(#rdot)"/><circle cx="11.2" cy="388.2" r="2.9" fill="url(#rdot)"/><circle cx="32.6" cy="125.9" r="2.5" fill="url(#rdot)"/><circle cx="128.2" cy="323.2" r="2.5" fill="url(#rdot)"/><circle cx="235.1" cy="242.7" r="2.7" fill="url(#rdot)"/><circle cx="123.8" cy="227.0" r="3.4" fill="url(#rdot)"/><circle cx="241.2" cy="56.2" r="2.7" fill="url(#rdot)"/><circle cx="82.6" cy="256.9" r="3.5" fill="url(#rdot)"/><circle cx="230.1" cy="354.6" r="2.7" fill="url(#rdot)"/><circle cx="245.0" cy="301.4" r="3.2" fill="url(#rdot)"/><circle cx="17.9" cy="143.6" r="3.1" fill="url(#rdot)"/><circle cx="398.9" cy="138.0" r="3.4" fill="url(#rdot)"/><circle cx="95.6" cy="95.5" r="3.8" fill="url(#rdot)"/><circle cx="321.8" cy="97.0" r="4.1" fill="url(#rdot)"/><circle cx="129.0" cy="53.7" r="3.9" fill="url(#rdot)"/><circle cx="186.4" cy="226.8" r="2.7" fill="url(#rdot)"/><circle cx="133.4" cy="376.6" r="4.4" fill="url(#rdot)"/><circle cx="307.2" cy="164.4" r="3.8" fill="url(#rdot)"/><circle cx="242.7" cy="140.1" r="4.0" fill="url(#rdot)"/><circle cx="136.9" cy="166.3" r="2.7" fill="url(#rdot)"/><circle cx="119.9" cy="349.4" r="3.1" fill="url(#rdot)"/><circle cx="166.9" cy="333.9" r="3.0" fill="url(#rdot)"/><circle cx="91.2" cy="161.5" r="3.2" fill="url(#rdot)"/><circle cx="154.0" cy="350.1" r="4.0" fill="url(#rdot)"/><circle cx="18.1" cy="105.6" r="2.9" fill="url(#rdot)"/><circle cx="309.3" cy="387.3" r="3.8" fill="url(#rdot)"/><circle cx="40.3" cy="106.5" r="2.3" fill="url(#rdot)"/><circle cx="337.0" cy="241.2" r="4.5" fill="url(#rdot)"/><circle cx="102.4" cy="135.3" r="3.1" fill="url(#rdot)"/><circle cx="19.4" cy="47.8" r="3.7" fill="url(#rdot)"/><circle cx="269.8" cy="152.7" r="2.8" fill="url(#rdot)"/><circle cx="23.0" cy="257.3" r="3.5" fill="url(#rdot)"/><circle cx="368.2" cy="194.0" r="3.8" fill="url(#rdot)"/><circle cx="319.3" cy="93.3" r="4.3" fill="url(#rdot)"/><circle cx="100.3" cy="112.3" r="2.4" fill="url(#rdot)"/><circle cx="211.3" cy="194.5" r="4.3" fill="url(#rdot)"/><circle cx="215.0" cy="240.6" r="3.9" fill="url(#rdot)"/><circle cx="391.8" cy="72.5" r="2.8" fill="url(#rdot)"/><circle cx="224.4" cy="228.0" r="2.9" fill="url(#rdot)"/><circle cx="254.4" cy="155.7" r="4.4" fill="url(#rdot)"/><circle cx="92.3" cy="400.5" r="4.3" fill="url(#rdot)"/><circle cx="214.6" cy="94.8" r="3.7" fill="url(#rdot)"/><circle cx="18.0" cy="134.7" r="4.3" fill="url(#rdot)"/><circle cx="378.8" cy="5.5" r="3.9" fill="url(#rdot)"/><circle cx="266.3" cy="258.6" r="2.4" fill="url(#rdot)"/><circle cx="158.8" cy="342.5" r="3.3" fill="url(#rdot)"/><circle cx="331.2" cy="392.5" r="2.8" fill="url(#rdot)"/><circle cx="19.8" cy="364.0" r="3.4" fill="url(#rdot)"/><circle cx="89.4" cy="60.4" r="3.9" fill="url(#rdot)"/></g><circle cx="177.9" cy="168.5" r="1.8" fill="#fff" fill-opacity="0.9"/><circle cx="186.0" cy="180.5" r="1.5" fill="#fff" fill-opacity="0.9"/><circle cx="165.8" cy="200.6" r="1.6" fill="#fff" fill-opacity="0.9"/><circle cx="161.7" cy="228.7" r="1.4" fill="#fff" fill-opacity="0.9"/><circle cx="157.7" cy="232.7" r="1.8" fill="#fff" fill-opacity="0.9"/><circle cx="202.2" cy="192.6" r="1.3" fill="#fff" fill-opacity="0.9"/><circle cx="210.2" cy="208.6" r="1.2" fill="#fff" fill-opacity="0.9"/><circle cx="133.4" cy="188.6" r="1.2" fill="#fff" fill-opacity="0.9"/><circle cx="173.8" cy="160.5" r="1.4" fill="#fff" fill-opacity="0.9"/><circle cx="190.0" cy="220.7" r="1.2" fill="#fff" fill-opacity="0.9"/></g><rect x="317.6" y="356.6" width="86.7" height="44.6" fill="#fff"/></g>
<rect x="117.3" y="1682.3" width="404.3" height="401.2" fill="none" stroke="#000" stroke-width="3"/>
<path d="M521.6 1683.8V2082.0" stroke="#00005a" stroke-width="3.2"/>
<path d="M117.3 1682.3v-15M117.3 2083.5v15M117.3 2083.5h-15M521.6 2083.5h15M157.7 1682.3v-8M157.7 2083.5v8M117.3 2043.4h-8M521.6 2043.4h8M198.2 1682.3v-15M198.2 2083.5v15M117.3 2003.3h-15M521.6 2003.3h15M238.6 1682.3v-8M238.6 2083.5v8M117.3 1963.1h-8M521.6 1963.1h8M279.0 1682.3v-15M279.0 2083.5v15M117.3 1923.0h-15M521.6 1923.0h15M319.4 1682.3v-8M319.4 2083.5v8M117.3 1882.9h-8M521.6 1882.9h8M359.9 1682.3v-15M359.9 2083.5v15M117.3 1842.8h-15M521.6 1842.8h15M400.3 1682.3v-8M400.3 2083.5v8M117.3 1802.7h-8M521.6 1802.7h8M440.7 1682.3v-15M440.7 2083.5v15M117.3 1762.5h-15M521.6 1762.5h15M481.2 1682.3v-8M481.2 2083.5v8M117.3 1722.4h-8M521.6 1722.4h8M521.6 1682.3v-15M521.6 2083.5v15M117.3 1682.3h-15M521.6 1682.3h15" stroke="#000" stroke-width="3" fill="none"/>
<g clip-path="url(#colclip_d)"><text x="92.5" y="2092.5" font-size="25.5" text-anchor="end" >0</text>
<text x="117.3" y="2133.0" font-size="25.5" text-anchor="middle" >0</text>
<text x="92.5" y="2012.2" font-size="25.5" text-anchor="end" >200</text>
<text x="198.2" y="2133.0" font-size="25.5" text-anchor="middle" >200</text>
<text x="92.5" y="1932.0" font-size="25.5" text-anchor="end" >400</text>
<text x="279.0" y="2133.0" font-size="25.5" text-anchor="middle" >400</text>
<text x="92.5" y="1851.8" font-size="25.5" text-anchor="end" >600</text>
<text x="359.9" y="2133.0" font-size="25.5" text-anchor="middle" >600</text>
<text x="92.5" y="1771.5" font-size="25.5" text-anchor="end" >800</text>
<text x="440.7" y="2133.0" font-size="25.5" text-anchor="middle" >800</text>
<text x="92.5" y="1691.3" font-size="25.5" text-anchor="end" >1000</text>
<text x="521.6" y="2133.0" font-size="25.5" text-anchor="middle" >1000</text>
<text transform="translate(318.6 2164.0) scale(1.065 1)" font-size="25.5" text-anchor="middle" >X (µm)</text>
<text transform="translate(23.6 1882.9) rotate(-90) scale(1.045 1)" font-size="25.5" text-anchor="middle">Y (µm)</text>
<text transform="translate(312.7 2207.2) scale(1.11 1)" font-size="45" text-anchor="middle" >(d)</text>
<text transform="translate(511.8 2075.0) scale(1.065 1)" font-size="29.5" text-anchor="end" >3.7 h</text>
<rect x="556.3" y="1718.0" width="23.9" height="369.0" fill="url(#cbar)" stroke="#222" stroke-width="0.8" stroke-opacity="0.6"/>
<text transform="translate(581.8 1726.3) scale(1.03 1)" font-size="22.5" text-anchor="start" >0.5</text>
<text transform="translate(581.8 1779.0) scale(1.03 1)" font-size="22.5" text-anchor="start" >0.4</text>
<text transform="translate(581.8 1831.8) scale(1.03 1)" font-size="22.5" text-anchor="start" >0.3</text>
<text transform="translate(581.8 1884.5) scale(1.03 1)" font-size="22.5" text-anchor="start" >0.2</text>
<text transform="translate(581.8 1937.2) scale(1.03 1)" font-size="22.5" text-anchor="start" >0.1</text>
<text transform="translate(581.8 1989.9) scale(1.03 1)" font-size="22.5" text-anchor="start" >0</text>
<text transform="translate(581.8 2042.6) scale(1.03 1)" font-size="22.5" text-anchor="start" >-0.1</text>
<text transform="translate(581.8 2095.3) scale(1.03 1)" font-size="22.5" text-anchor="start" >-0.2</text>
<text transform="translate(547.4 1698.8) scale(1.11 1)" font-size="25" text-anchor="start" >Z (µm)</text></g>
<g transform="translate(734.6 20.2)"><g clip-path="url(#clip_e)"><g transform="rotate(-32 199.2 198.9)" filter="url(#jet_e)"><g transform="rotate(32 199.2 198.9)"><rect x="-239" y="-239" width="876" height="875" fill="#1d1d1d"/></g></g></g><rect x="346.7" y="354.2" width="51.7" height="43.6" fill="#fff"/></g>
<rect x="734.6" y="20.2" width="398.4" height="397.8" fill="none" stroke="#000" stroke-width="3"/>
<path d="M734.6 20.2v-15M734.6 418.0v15M734.6 418.0h-15M1133.0 418.0h15M774.4 20.2v-8M774.4 418.0v8M734.6 378.2h-8M1133.0 378.2h8M814.3 20.2v-15M814.3 418.0v15M734.6 338.4h-15M1133.0 338.4h15M854.1 20.2v-8M854.1 418.0v8M734.6 298.7h-8M1133.0 298.7h8M894.0 20.2v-15M894.0 418.0v15M734.6 258.9h-15M1133.0 258.9h15M933.8 20.2v-8M933.8 418.0v8M734.6 219.1h-8M1133.0 219.1h8M973.6 20.2v-15M973.6 418.0v15M734.6 179.3h-15M1133.0 179.3h15M1013.5 20.2v-8M1013.5 418.0v8M734.6 139.5h-8M1133.0 139.5h8M1053.3 20.2v-15M1053.3 418.0v15M734.6 99.8h-15M1133.0 99.8h15M1093.2 20.2v-8M1093.2 418.0v8M734.6 60.0h-8M1133.0 60.0h8M1133.0 20.2v-15M1133.0 418.0v15M734.6 20.2h-15M1133.0 20.2h15" stroke="#000" stroke-width="3" fill="none"/>
<text x="708.5" y="427.0" font-size="25.5" text-anchor="end" >0</text>
<text x="734.6" y="468.3" font-size="25.5" text-anchor="middle" >0</text>
<text x="708.5" y="347.4" font-size="25.5" text-anchor="end" >200</text>
<text x="814.3" y="468.3" font-size="25.5" text-anchor="middle" >200</text>
<text x="708.5" y="267.9" font-size="25.5" text-anchor="end" >400</text>
<text x="894.0" y="468.3" font-size="25.5" text-anchor="middle" >400</text>
<text x="708.5" y="188.3" font-size="25.5" text-anchor="end" >600</text>
<text x="973.6" y="468.3" font-size="25.5" text-anchor="middle" >600</text>
<text x="708.5" y="108.7" font-size="25.5" text-anchor="end" >800</text>
<text x="1053.3" y="468.3" font-size="25.5" text-anchor="middle" >800</text>
<text x="708.5" y="29.2" font-size="25.5" text-anchor="end" >1000</text>
<text x="1133.0" y="468.3" font-size="25.5" text-anchor="middle" >1000</text>
<text transform="translate(932.8 499.0) scale(1.065 1)" font-size="25.5" text-anchor="middle" >X (µm)</text>
<text transform="translate(641.8 219.1) rotate(-90) scale(1.045 1)" font-size="25.5" text-anchor="middle">Y (µm)</text>
<text transform="translate(941.0 545.2) scale(1.11 1)" font-size="45" text-anchor="middle" >(e)</text>
<text transform="translate(1130.4 409.5) scale(1.065 1)" font-size="29.5" text-anchor="end" >0 h</text>
<rect x="1157.8" y="69.0" width="20.2" height="347.8" fill="url(#cbar)" stroke="#222" stroke-width="0.8" stroke-opacity="0.6"/>
<text transform="translate(1179.6 77.2) scale(1.03 1)" font-size="19" text-anchor="start" >0.02</text>
<text transform="translate(1179.6 164.1) scale(1.03 1)" font-size="19" text-anchor="start" >0.015</text>
<text transform="translate(1179.6 251.1) scale(1.03 1)" font-size="19" text-anchor="start" >0.01</text>
<text transform="translate(1179.6 338.0) scale(1.03 1)" font-size="19" text-anchor="start" >0.005</text>
<text transform="translate(1179.6 425.0) scale(1.03 1)" font-size="19" text-anchor="start" >0</text>
<path d="M1155.3 422.8l2.5 1.8" stroke="#333" stroke-width="1.6" fill="none"/>
<text x="1145.8" y="50.7" font-size="25" text-anchor="start" textLength="102.5" lengthAdjust="spacingAndGlyphs">gradient</text>
<g transform="translate(737.9 573.3)"><g clip-path="url(#clip_f)"><g transform="rotate(-32 197.9 199.1)" filter="url(#jet_f)"><g transform="rotate(32 197.9 199.1)"><rect x="-238" y="-239" width="871" height="876" fill="#1d1d1d"/>
<g filter="url(#blur1)">
<path d="M 245.5 115.4 Q 197.9 111.5 158.4 123.4 Q 67.3 167.2 87.1 262.7 Q 110.9 314.5 166.3 318.5" fill="none" stroke="#3d3d3d" stroke-width="3"/>
<path d="M 99.0 282.7 L -7.9 350.3" fill="none" stroke="#2e2e2e" stroke-width="3"/>
</g>
<circle cx="127.1" cy="160.8" r="4.5" fill="url(#donut)"/>
<circle cx="162.3" cy="129.4" r="5.0" fill="url(#half)"/>
<circle cx="190.0" cy="131.4" r="5.0" fill="url(#half)"/>
<circle cx="144.9" cy="168.4" r="5.0" fill="url(#full)"/>
<circle cx="134.6" cy="175.2" r="5.0" fill="url(#full)"/>
<circle cx="130.6" cy="185.1" r="4.5" fill="url(#donut)"/>
<circle cx="176.2" cy="167.2" r="5.5" fill="url(#half)"/>
<circle cx="193.2" cy="187.1" r="5.0" fill="url(#full)"/>
<circle cx="227.2" cy="187.1" r="5.0" fill="url(#full)"/>
<circle cx="244.7" cy="161.2" r="5.5" fill="url(#full)"/>
<circle cx="190.0" cy="207.0" r="4.5" fill="url(#donut)"/>
<circle cx="221.7" cy="203.0" r="4.0" fill="url(#donut)"/>
<circle cx="217.7" cy="220.9" r="5.0" fill="url(#full)"/>
<circle cx="132.6" cy="246.8" r="5.0" fill="url(#full)"/>
<circle cx="211.4" cy="254.8" r="5.0" fill="url(#half)"/>
<circle cx="154.4" cy="286.6" r="3.5" fill="url(#donut)"/>
<circle cx="289.0" cy="211.0" r="5.0" fill="url(#full)"/>
<circle cx="289.0" cy="181.1" r="4.0" fill="url(#donut)"/>
<circle cx="312.8" cy="199.1" r="5.0" fill="url(#half)"/>
<circle cx="336.5" cy="199.1" r="4.0" fill="url(#donut)"/>
<circle cx="304.8" cy="242.8" r="5.0" fill="url(#half)"/>
<circle cx="277.1" cy="266.7" r="5.0" fill="url(#half)"/>
<circle cx="336.5" cy="131.4" r="5.0" fill="url(#half)"/>
<circle cx="265.3" cy="354.3" r="4.0" fill="url(#donut)"/>
<circle cx="170.2" cy="199.1" r="4.0" fill="url(#donut)"/>
<circle cx="245.5" cy="175.2" r="4.0" fill="url(#donut)"/>
<circle cx="364.2" cy="238.9" r="3.5" fill="url(#donut)"/>
<circle cx="261.3" cy="230.9" r="3.5" fill="url(#donut)"/>
<circle cx="293.0" cy="167.2" r="3.5" fill="url(#donut)"/>
<circle cx="348.4" cy="262.7" r="3.5" fill="url(#donut)"/>
<circle cx="156.4" cy="217.8" r="19.5" fill="url(#big)"/></g></g></g><rect x="311.2" y="356.6" width="84.7" height="41.5" fill="#fff"/></g>
<rect x="737.9" y="573.3" width="395.9" height="398.1" fill="none" stroke="#000" stroke-width="3"/>
<path d="M737.9 573.3v-15M737.9 971.4v15M737.9 971.4h-15M1133.8 971.4h15M777.5 573.3v-8M777.5 971.4v8M737.9 931.6h-8M1133.8 931.6h8M817.1 573.3v-15M817.1 971.4v15M737.9 891.8h-15M1133.8 891.8h15M856.7 573.3v-8M856.7 971.4v8M737.9 852.0h-8M1133.8 852.0h8M896.3 573.3v-15M896.3 971.4v15M737.9 812.2h-15M1133.8 812.2h15M935.8 573.3v-8M935.8 971.4v8M737.9 772.3h-8M1133.8 772.3h8M975.4 573.3v-15M975.4 971.4v15M737.9 732.5h-15M1133.8 732.5h15M1015.0 573.3v-8M1015.0 971.4v8M737.9 692.7h-8M1133.8 692.7h8M1054.6 573.3v-15M1054.6 971.4v15M737.9 652.9h-15M1133.8 652.9h15M1094.2 573.3v-8M1094.2 971.4v8M737.9 613.1h-8M1133.8 613.1h8M1133.8 573.3v-15M1133.8 971.4v15M737.9 573.3h-15M1133.8 573.3h15" stroke="#000" stroke-width="3" fill="none"/>
<text x="711.8" y="980.4" font-size="25.5" text-anchor="end" >0</text>
<text x="737.9" y="1020.2" font-size="25.5" text-anchor="middle" >0</text>
<text x="711.8" y="900.8" font-size="25.5" text-anchor="end" >200</text>
<text x="817.1" y="1020.2" font-size="25.5" text-anchor="middle" >200</text>
<text x="711.8" y="821.1" font-size="25.5" text-anchor="end" >400</text>
<text x="896.3" y="1020.2" font-size="25.5" text-anchor="middle" >400</text>
<text x="711.8" y="741.5" font-size="25.5" text-anchor="end" >600</text>
<text x="975.4" y="1020.2" font-size="25.5" text-anchor="middle" >600</text>
<text x="711.8" y="661.9" font-size="25.5" text-anchor="end" >800</text>
<text x="1054.6" y="1020.2" font-size="25.5" text-anchor="middle" >800</text>
<text x="711.8" y="582.3" font-size="25.5" text-anchor="end" >1000</text>
<text x="1133.8" y="1020.2" font-size="25.5" text-anchor="middle" >1000</text>
<text transform="translate(934.8 1052.0) scale(1.065 1)" font-size="25.5" text-anchor="middle" >X (µm)</text>
<text transform="translate(641.8 772.3) rotate(-90) scale(1.045 1)" font-size="25.5" text-anchor="middle">Y (µm)</text>
<text transform="translate(933.8 1097.2) scale(1.11 1)" font-size="45" text-anchor="middle" >(f)</text>
<text transform="translate(1126.0 959.8) scale(1.065 1)" font-size="29.5" text-anchor="end" >0.2 h</text>
<rect x="1158.3" y="621.8" width="20.2" height="346.9" fill="url(#cbar)" stroke="#222" stroke-width="0.8" stroke-opacity="0.6"/>
<text transform="translate(1180.1 630.0) scale(1.03 1)" font-size="19" text-anchor="start" >0.02</text>
<text transform="translate(1180.1 716.7) scale(1.03 1)" font-size="19" text-anchor="start" >0.015</text>
<text transform="translate(1180.1 803.4) scale(1.03 1)" font-size="19" text-anchor="start" >0.01</text>
<text transform="translate(1180.1 890.2) scale(1.03 1)" font-size="19" text-anchor="start" >0.005</text>
<text transform="translate(1180.1 976.9) scale(1.03 1)" font-size="19" text-anchor="start" >0</text>
<path d="M1155.8 974.7l2.5 1.8" stroke="#333" stroke-width="1.6" fill="none"/>
<text x="1146.8" y="603.6" font-size="25" text-anchor="start" textLength="102.5" lengthAdjust="spacingAndGlyphs">gradient</text>
<g transform="translate(734.6 1125.7)"><g clip-path="url(#clip_g)"><g filter="url(#jet_g)"><rect x="-239" y="-239" width="876" height="875" fill="#202020"/>
<circle cx="250.1" cy="299.0" r="5.0" fill="url(#donut)"/>
<circle cx="374.1" cy="4.0" r="4.8" fill="url(#donut)"/>
<circle cx="365.2" cy="38.9" r="5.2" fill="url(#half)"/>
<circle cx="229.8" cy="-2.5" r="5.8" fill="url(#half)"/>
<circle cx="49.5" cy="247.6" r="7.2" fill="url(#full)"/>
<circle cx="215.4" cy="272.5" r="4.9" fill="url(#donut)"/>
<circle cx="141.7" cy="60.7" r="4.7" fill="url(#half)"/>
<circle cx="132.0" cy="120.3" r="4.1" fill="url(#donut)"/>
<circle cx="191.4" cy="283.6" r="3.5" fill="url(#donut)"/>
<circle cx="302.6" cy="341.7" r="4.2" fill="url(#donut)"/>
<circle cx="231.7" cy="-4.2" r="5.9" fill="url(#half)"/>
<circle cx="73.4" cy="304.8" r="4.2" fill="url(#donut)"/>
<circle cx="217.9" cy="121.3" r="4.3" fill="url(#half)"/>
<circle cx="53.7" cy="277.2" r="4.3" fill="url(#half)"/>
<circle cx="400.8" cy="212.8" r="5.3" fill="url(#half)"/>
<circle cx="15.1" cy="371.1" r="5.2" fill="url(#donut)"/>
<circle cx="253.2" cy="318.1" r="3.8" fill="url(#donut)"/>
<circle cx="341.9" cy="114.0" r="5.2" fill="url(#donut)"/>
<circle cx="396.3" cy="179.7" r="4.5" fill="url(#donut)"/>
<circle cx="112.6" cy="159.1" r="5.5" fill="url(#donut)"/>
<circle cx="389.6" cy="251.5" r="3.7" fill="url(#donut)"/>
<circle cx="104.8" cy="315.7" r="5.1" fill="url(#donut)"/>
<circle cx="313.0" cy="279.5" r="4.2" fill="url(#donut)"/>
<circle cx="283.8" cy="108.3" r="4.9" fill="url(#donut)"/>
<circle cx="95.9" cy="270.0" r="4.8" fill="url(#donut)"/>
<circle cx="322.4" cy="136.0" r="5.2" fill="url(#donut)"/>
<circle cx="137.0" cy="340.8" r="5.5" fill="url(#donut)"/>
<circle cx="388.3" cy="206.5" r="5.7" fill="url(#half)"/>
<circle cx="380.3" cy="189.5" r="5.0" fill="url(#donut)"/>
<circle cx="267.7" cy="166.2" r="4.8" fill="url(#donut)"/>
<circle cx="290.5" cy="3.5" r="4.8" fill="url(#donut)"/>
<circle cx="82.8" cy="275.9" r="6.2" fill="url(#full)"/>
<circle cx="85.8" cy="14.4" r="3.9" fill="url(#donut)"/>
<circle cx="72.1" cy="6.8" r="4.7" fill="url(#donut)"/>
<circle cx="165.6" cy="328.5" r="3.8" fill="url(#donut)"/>
<circle cx="393.0" cy="243.9" r="3.5" fill="url(#donut)"/>
<circle cx="36.7" cy="226.2" r="5.3" fill="url(#half)"/>
<circle cx="361.2" cy="147.6" r="4.7" fill="url(#half)"/>
<circle cx="370.5" cy="238.6" r="4.5" fill="url(#donut)"/>
<circle cx="164.1" cy="124.1" r="4.1" fill="url(#donut)"/>
<circle cx="175.7" cy="113.3" r="3.5" fill="url(#donut)"/>
<circle cx="212.6" cy="105.3" r="4.0" fill="url(#donut)"/>
<circle cx="259.2" cy="241.9" r="5.6" fill="url(#half)"/>
<circle cx="141.6" cy="300.3" r="5.6" fill="url(#full)"/>
<circle cx="171.3" cy="110.5" r="3.8" fill="url(#donut)"/>
<circle cx="328.3" cy="20.4" r="5.1" fill="url(#donut)"/>
<circle cx="12.3" cy="340.5" r="5.4" fill="url(#donut)"/>
<circle cx="287.2" cy="47.8" r="3.8" fill="url(#donut)"/>
<circle cx="245.0" cy="163.3" r="3.6" fill="url(#donut)"/>
<circle cx="36.9" cy="149.0" r="5.2" fill="url(#half)"/>
<circle cx="299.5" cy="355.6" r="4.1" fill="url(#donut)"/>
<circle cx="54.6" cy="253.3" r="4.6" fill="url(#donut)"/>
<circle cx="97.3" cy="302.6" r="4.6" fill="url(#half)"/>
<circle cx="145.8" cy="296.9" r="4.8" fill="url(#donut)"/>
<circle cx="27.3" cy="268.5" r="5.3" fill="url(#half)"/>
<circle cx="125.9" cy="321.6" r="3.6" fill="url(#donut)"/>
<circle cx="267.5" cy="331.6" r="4.2" fill="url(#donut)"/>
<circle cx="89.4" cy="130.0" r="4.3" fill="url(#donut)"/>
<circle cx="298.6" cy="155.7" r="5.5" fill="url(#full)"/>
<circle cx="307.0" cy="-7.8" r="4.7" fill="url(#donut)"/>
<circle cx="151.8" cy="356.3" r="4.7" fill="url(#half)"/>
<circle cx="271.4" cy="293.8" r="4.2" fill="url(#half)"/>
<circle cx="87.5" cy="24.4" r="4.2" fill="url(#donut)"/>
<circle cx="295.4" cy="289.1" r="5.4" fill="url(#half)"/>
<circle cx="381.6" cy="259.3" r="3.5" fill="url(#donut)"/>
<circle cx="207.0" cy="136.9" r="5.8" fill="url(#half)"/>
<circle cx="195.5" cy="379.3" r="4.3" fill="url(#half)"/>
<circle cx="156.6" cy="16.9" r="4.1" fill="url(#donut)"/>
<circle cx="66.3" cy="202.5" r="3.7" fill="url(#donut)"/>
<circle cx="373.7" cy="239.6" r="4.2" fill="url(#half)"/>
<circle cx="370.2" cy="119.3" r="3.9" fill="url(#donut)"/>
<circle cx="40.0" cy="121.0" r="5.1" fill="url(#donut)"/>
<circle cx="121.6" cy="45.8" r="4.4" fill="url(#half)"/>
<circle cx="17.5" cy="282.0" r="4.7" fill="url(#half)"/>
<circle cx="146.9" cy="32.8" r="5.0" fill="url(#donut)"/>
<circle cx="293.6" cy="282.2" r="4.3" fill="url(#donut)"/>
<circle cx="46.0" cy="19.3" r="5.4" fill="url(#half)"/>
<circle cx="222.9" cy="3.4" r="4.8" fill="url(#half)"/>
<circle cx="87.8" cy="169.5" r="3.5" fill="url(#donut)"/>
<circle cx="234.1" cy="334.2" r="5.2" fill="url(#half)"/>
<circle cx="62.9" cy="285.6" r="5.1" fill="url(#donut)"/>
<circle cx="393.7" cy="238.7" r="4.3" fill="url(#donut)"/>
<circle cx="13.7" cy="396.8" r="4.5" fill="url(#donut)"/>
<circle cx="357.3" cy="154.6" r="4.6" fill="url(#half)"/>
<circle cx="225.0" cy="139.8" r="4.8" fill="url(#half)"/>
<circle cx="344.1" cy="247.8" r="5.7" fill="url(#half)"/>
<circle cx="195.1" cy="7.7" r="5.5" fill="url(#half)"/>
<circle cx="250.1" cy="323.2" r="6.3" fill="url(#full)"/>
<circle cx="235.1" cy="68.5" r="3.6" fill="url(#donut)"/>
<circle cx="121.3" cy="150.5" r="4.3" fill="url(#donut)"/>
<circle cx="279.0" cy="269.4" r="4.2" fill="url(#donut)"/>
<circle cx="237.9" cy="273.2" r="3.7" fill="url(#donut)"/>
<circle cx="306.7" cy="287.7" r="4.0" fill="url(#donut)"/>
<circle cx="217.4" cy="154.8" r="3.9" fill="url(#donut)"/>
<circle cx="246.2" cy="152.0" r="4.6" fill="url(#donut)"/>
<circle cx="288.3" cy="146.8" r="4.8" fill="url(#half)"/>
<circle cx="61.4" cy="253.9" r="4.3" fill="url(#half)"/>
<circle cx="226.4" cy="335.6" r="4.3" fill="url(#donut)"/>
<circle cx="117.3" cy="108.2" r="3.9" fill="url(#donut)"/>
<circle cx="242.0" cy="68.1" r="4.8" fill="url(#donut)"/>
<circle cx="277.9" cy="293.7" r="5.2" fill="url(#donut)"/>
<circle cx="259.3" cy="375.5" r="5.2" fill="url(#donut)"/>
<circle cx="189.5" cy="33.8" r="4.4" fill="url(#half)"/>
<circle cx="55.0" cy="246.8" r="5.0" fill="url(#donut)"/>
<circle cx="391.8" cy="34.8" r="4.6" fill="url(#half)"/>
<circle cx="299.8" cy="26.7" r="4.3" fill="url(#donut)"/>
<circle cx="40.7" cy="239.1" r="4.5" fill="url(#donut)"/>
<circle cx="390.8" cy="383.1" r="4.9" fill="url(#donut)"/>
<circle cx="114.6" cy="40.4" r="5.0" fill="url(#donut)"/>
<circle cx="372.5" cy="150.2" r="4.9" fill="url(#donut)"/>
<circle cx="131.6" cy="343.0" r="5.0" fill="url(#half)"/>
<circle cx="90.6" cy="267.7" r="4.4" fill="url(#half)"/>
<circle cx="152.0" cy="378.5" r="5.1" fill="url(#donut)"/>
<circle cx="150.6" cy="205.9" r="6.0" fill="url(#half)"/>
<circle cx="202.4" cy="14.0" r="4.4" fill="url(#donut)"/>
<circle cx="255.4" cy="7.0" r="4.3" fill="url(#donut)"/>
<circle cx="81.8" cy="166.4" r="4.1" fill="url(#donut)"/>
<circle cx="268.1" cy="43.1" r="3.6" fill="url(#donut)"/>
<circle cx="390.0" cy="239.9" r="5.9" fill="url(#half)"/>
<circle cx="380.4" cy="4.9" r="4.0" fill="url(#donut)"/>
<circle cx="304.3" cy="146.4" r="5.1" fill="url(#half)"/>
<circle cx="395.9" cy="282.5" r="5.4" fill="url(#half)"/>
<circle cx="147.4" cy="144.6" r="5.4" fill="url(#donut)"/>
<circle cx="91.8" cy="227.4" r="5.0" fill="url(#donut)"/>
<circle cx="47.4" cy="191.2" r="6.9" fill="url(#full)"/>
<circle cx="211.6" cy="287.2" r="5.5" fill="url(#donut)"/>
<circle cx="211.1" cy="152.9" r="4.6" fill="url(#donut)"/>
<circle cx="335.7" cy="49.2" r="4.6" fill="url(#donut)"/>
<circle cx="77.9" cy="179.9" r="4.8" fill="url(#half)"/>
<circle cx="106.3" cy="316.3" r="5.7" fill="url(#half)"/>
<circle cx="251.2" cy="152.9" r="4.7" fill="url(#half)"/>
<circle cx="355.1" cy="173.6" r="4.4" fill="url(#half)"/>
<circle cx="196.8" cy="352.6" r="3.7" fill="url(#donut)"/>
<circle cx="290.7" cy="245.0" r="5.9" fill="url(#half)"/>
<circle cx="384.2" cy="77.0" r="3.7" fill="url(#donut)"/>
<circle cx="276.7" cy="177.1" r="3.8" fill="url(#donut)"/>
<circle cx="364.9" cy="221.8" r="5.1" fill="url(#donut)"/>
<circle cx="338.3" cy="113.5" r="4.8" fill="url(#half)"/>
<circle cx="257.4" cy="387.7" r="4.2" fill="url(#donut)"/>
<circle cx="100.0" cy="161.0" r="4.3" fill="url(#half)"/>
<circle cx="289.0" cy="161.9" r="4.7" fill="url(#half)"/>
<circle cx="363.3" cy="201.6" r="4.0" fill="url(#donut)"/>
<circle cx="36.7" cy="203.7" r="4.4" fill="url(#donut)"/>
<circle cx="34.6" cy="310.1" r="3.7" fill="url(#donut)"/>
<circle cx="401.0" cy="216.6" r="5.2" fill="url(#half)"/>
<circle cx="395.1" cy="169.1" r="5.3" fill="url(#donut)"/>
<circle cx="126.9" cy="327.6" r="4.3" fill="url(#half)"/>
<circle cx="381.0" cy="184.9" r="4.6" fill="url(#donut)"/>
<circle cx="199.2" cy="109.6" r="5.0" fill="url(#half)"/>
<circle cx="306.2" cy="242.3" r="5.5" fill="url(#half)"/>
<circle cx="47.3" cy="61.4" r="4.7" fill="url(#donut)"/>
<circle cx="35.6" cy="232.2" r="3.6" fill="url(#donut)"/>
<circle cx="108.9" cy="130.2" r="5.0" fill="url(#half)"/>
<circle cx="163.8" cy="396.1" r="5.0" fill="url(#donut)"/>
<circle cx="121.5" cy="345.1" r="5.2" fill="url(#donut)"/>
<circle cx="272.0" cy="132.7" r="4.9" fill="url(#donut)"/>
<circle cx="246.5" cy="321.4" r="3.5" fill="url(#donut)"/>
<circle cx="261.7" cy="151.3" r="4.7" fill="url(#half)"/>
<circle cx="300.0" cy="200.5" r="5.0" fill="url(#donut)"/>
<circle cx="176.2" cy="276.0" r="5.7" fill="url(#half)"/>
<circle cx="53.1" cy="15.6" r="3.7" fill="url(#donut)"/>
<circle cx="189.5" cy="208.0" r="5.0" fill="url(#donut)"/>
<circle cx="75.4" cy="19.4" r="4.9" fill="url(#half)"/>
<circle cx="29.0" cy="83.2" r="4.1" fill="url(#donut)"/>
<circle cx="293.9" cy="152.9" r="5.3" fill="url(#donut)"/>
<circle cx="277.5" cy="81.9" r="4.3" fill="url(#donut)"/>
<circle cx="320.5" cy="164.2" r="5.3" fill="url(#donut)"/>
<circle cx="287.6" cy="175.5" r="4.0" fill="url(#donut)"/>
<circle cx="274.5" cy="310.4" r="5.2" fill="url(#donut)"/>
<circle cx="142.1" cy="51.6" r="5.4" fill="url(#full)"/>
<circle cx="168.2" cy="35.5" r="5.4" fill="url(#donut)"/>
<circle cx="25.1" cy="54.3" r="5.3" fill="url(#half)"/>
<circle cx="214.5" cy="62.7" r="5.1" fill="url(#donut)"/>
<circle cx="87.1" cy="114.0" r="5.2" fill="url(#half)"/>
<circle cx="83.0" cy="267.3" r="5.5" fill="url(#half)"/>
<circle cx="160.7" cy="124.7" r="4.1" fill="url(#donut)"/>
<circle cx="107.3" cy="178.1" r="4.0" fill="url(#donut)"/>
<circle cx="112.3" cy="29.6" r="4.1" fill="url(#donut)"/>
<circle cx="28.5" cy="133.8" r="4.4" fill="url(#donut)"/>
<circle cx="276.2" cy="179.4" r="4.6" fill="url(#half)"/>
<circle cx="110.3" cy="101.4" r="4.2" fill="url(#donut)"/>
<circle cx="202.0" cy="342.0" r="4.8" fill="url(#donut)"/>
<circle cx="246.8" cy="159.8" r="5.0" fill="url(#half)"/>
<circle cx="356.1" cy="118.7" r="4.7" fill="url(#donut)"/>
<circle cx="64.7" cy="176.6" r="5.3" fill="url(#full)"/>
<circle cx="304.9" cy="366.6" r="5.3" fill="url(#half)"/>
<circle cx="109.9" cy="263.7" r="3.8" fill="url(#donut)"/>
<circle cx="343.1" cy="65.4" r="4.7" fill="url(#donut)"/>
<circle cx="153.7" cy="346.6" r="5.5" fill="url(#half)"/>
<circle cx="293.3" cy="181.5" r="4.9" fill="url(#half)"/>
<circle cx="378.1" cy="158.4" r="4.4" fill="url(#donut)"/>
<circle cx="246.2" cy="180.1" r="7.0" fill="url(#full)"/>
<circle cx="265.0" cy="92.9" r="4.5" fill="url(#donut)"/>
<circle cx="379.0" cy="10.8" r="5.1" fill="url(#half)"/>
<circle cx="318.5" cy="83.5" r="5.3" fill="url(#full)"/>
<circle cx="94.6" cy="19.1" r="5.0" fill="url(#donut)"/>
<circle cx="97.7" cy="62.0" r="4.5" fill="url(#half)"/>
<circle cx="290.2" cy="195.2" r="5.2" fill="url(#donut)"/>
<circle cx="344.5" cy="293.9" r="4.6" fill="url(#donut)"/>
<circle cx="338.7" cy="300.1" r="4.3" fill="url(#donut)"/>
<circle cx="319.5" cy="114.2" r="6.5" fill="url(#full)"/>
<circle cx="86.5" cy="-5.7" r="4.6" fill="url(#half)"/>
<circle cx="267.2" cy="233.9" r="3.9" fill="url(#donut)"/>
<circle cx="284.0" cy="295.1" r="4.8" fill="url(#donut)"/>
<circle cx="278.2" cy="24.8" r="4.6" fill="url(#donut)"/>
<circle cx="263.5" cy="121.2" r="4.7" fill="url(#donut)"/>
<circle cx="259.1" cy="47.4" r="3.9" fill="url(#donut)"/>
<circle cx="34.4" cy="376.5" r="4.1" fill="url(#donut)"/>
<circle cx="4.9" cy="103.7" r="5.3" fill="url(#donut)"/>
<circle cx="250.9" cy="0.7" r="5.3" fill="url(#donut)"/>
<circle cx="175.2" cy="98.6" r="3.8" fill="url(#donut)"/>
<circle cx="268.4" cy="290.4" r="5.0" fill="url(#donut)"/>
<circle cx="388.2" cy="245.6" r="4.8" fill="url(#donut)"/>
<circle cx="247.4" cy="246.2" r="4.9" fill="url(#donut)"/>
<circle cx="285.9" cy="283.4" r="4.7" fill="url(#donut)"/>
<circle cx="126.2" cy="287.5" r="5.6" fill="url(#half)"/>
<circle cx="262.1" cy="215.4" r="3.8" fill="url(#donut)"/>
<circle cx="394.0" cy="196.3" r="4.6" fill="url(#donut)"/>
<circle cx="199.0" cy="9.6" r="4.1" fill="url(#donut)"/>
<circle cx="115.7" cy="328.0" r="4.6" fill="url(#donut)"/>
<circle cx="363.4" cy="189.4" r="4.9" fill="url(#half)"/>
<circle cx="-7.9" cy="41.5" r="5.0" fill="url(#donut)"/>
<circle cx="382.2" cy="138.6" r="4.8" fill="url(#donut)"/>
<circle cx="167.8" cy="-6.7" r="4.9" fill="url(#donut)"/>
<circle cx="297.4" cy="327.7" r="4.4" fill="url(#donut)"/>
<circle cx="368.7" cy="367.8" r="4.6" fill="url(#donut)"/>
<circle cx="118.2" cy="26.3" r="4.4" fill="url(#donut)"/>
<circle cx="119.5" cy="313.8" r="3.7" fill="url(#donut)"/>
<circle cx="208.0" cy="143.8" r="5.3" fill="url(#full)"/>
<circle cx="131.7" cy="88.7" r="3.9" fill="url(#donut)"/>
<circle cx="345.1" cy="191.9" r="5.8" fill="url(#half)"/>
<circle cx="231.5" cy="112.6" r="7.2" fill="url(#full)"/>
<circle cx="380.0" cy="267.0" r="5.2" fill="url(#donut)"/>
<circle cx="237.9" cy="78.5" r="5.1" fill="url(#half)"/>
<circle cx="67.2" cy="176.4" r="4.5" fill="url(#donut)"/>
<circle cx="293.2" cy="22.4" r="5.3" fill="url(#donut)"/>
<circle cx="274.1" cy="8.2" r="3.8" fill="url(#donut)"/>
<circle cx="85.2" cy="205.6" r="4.9" fill="url(#half)"/>
<circle cx="384.4" cy="239.0" r="3.6" fill="url(#donut)"/>
<circle cx="356.7" cy="31.4" r="5.0" fill="url(#donut)"/>
<circle cx="246.7" cy="189.0" r="3.9" fill="url(#donut)"/>
<circle cx="82.9" cy="38.7" r="5.4" fill="url(#donut)"/>
<circle cx="315.7" cy="195.8" r="5.4" fill="url(#donut)"/>
<circle cx="256.8" cy="140.5" r="4.7" fill="url(#donut)"/>
<circle cx="236.2" cy="318.8" r="5.0" fill="url(#half)"/>
<circle cx="128.2" cy="97.5" r="6.7" fill="url(#full)"/>
<circle cx="368.0" cy="282.1" r="3.9" fill="url(#donut)"/>
<circle cx="232.6" cy="258.5" r="4.7" fill="url(#donut)"/>
<circle cx="125.5" cy="101.8" r="4.8" fill="url(#donut)"/>
<circle cx="100.6" cy="23.4" r="4.7" fill="url(#donut)"/>
<circle cx="397.1" cy="249.0" r="4.5" fill="url(#donut)"/>
<circle cx="306.9" cy="230.1" r="4.6" fill="url(#donut)"/>
<circle cx="302.2" cy="218.6" r="3.7" fill="url(#donut)"/>
<circle cx="308.4" cy="152.2" r="3.9" fill="url(#donut)"/>
<circle cx="268.8" cy="280.2" r="6.5" fill="url(#full)"/>
<circle cx="86.7" cy="294.6" r="4.1" fill="url(#donut)"/>
<circle cx="87.5" cy="219.0" r="4.7" fill="url(#donut)"/>
<circle cx="161.0" cy="102.4" r="3.6" fill="url(#donut)"/>
<circle cx="62.5" cy="140.6" r="4.5" fill="url(#donut)"/>
<circle cx="330.2" cy="127.1" r="4.9" fill="url(#donut)"/>
<circle cx="168.4" cy="360.1" r="5.2" fill="url(#donut)"/>
<circle cx="132.5" cy="153.3" r="3.6" fill="url(#donut)"/>
<circle cx="343.8" cy="52.5" r="4.5" fill="url(#donut)"/>
<circle cx="304.7" cy="135.1" r="5.5" fill="url(#donut)"/>
<circle cx="366.9" cy="237.4" r="5.4" fill="url(#donut)"/>
<circle cx="236.7" cy="53.9" r="3.6" fill="url(#donut)"/>
<circle cx="210.4" cy="318.6" r="4.6" fill="url(#donut)"/>
<circle cx="332.9" cy="32.0" r="5.2" fill="url(#donut)"/>
<circle cx="346.6" cy="282.2" r="5.6" fill="url(#half)"/>
<circle cx="286.2" cy="186.6" r="5.4" fill="url(#donut)"/>
<circle cx="397.3" cy="65.2" r="4.3" fill="url(#donut)"/>
<circle cx="238.3" cy="76.5" r="4.4" fill="url(#donut)"/>
<circle cx="100.5" cy="133.9" r="5.5" fill="url(#donut)"/>
<circle cx="142.0" cy="338.0" r="3.9" fill="url(#donut)"/>
<circle cx="170.8" cy="61.2" r="3.8" fill="url(#donut)"/>
<circle cx="273.6" cy="208.4" r="4.5" fill="url(#half)"/>
<circle cx="39.4" cy="173.6" r="4.0" fill="url(#donut)"/>
<circle cx="383.6" cy="376.7" r="4.4" fill="url(#donut)"/>
<circle cx="358.5" cy="184.1" r="5.6" fill="url(#half)"/>
<circle cx="169.7" cy="4.9" r="4.2" fill="url(#donut)"/>
<circle cx="233.4" cy="-5.8" r="5.4" fill="url(#donut)"/>
<circle cx="277.3" cy="276.1" r="5.1" fill="url(#donut)"/>
<circle cx="334.5" cy="223.1" r="4.7" fill="url(#half)"/>
<circle cx="355.6" cy="292.4" r="5.0" fill="url(#half)"/>
<circle cx="172.7" cy="322.8" r="4.6" fill="url(#half)"/>
<circle cx="231.4" cy="318.7" r="4.9" fill="url(#half)"/>
<circle cx="243.9" cy="107.2" r="3.8" fill="url(#donut)"/>
<circle cx="65.1" cy="215.7" r="5.0" fill="url(#half)"/>
<circle cx="338.4" cy="257.5" r="5.3" fill="url(#half)"/>
<circle cx="221.0" cy="115.3" r="4.8" fill="url(#donut)"/>
<circle cx="355.9" cy="146.3" r="4.8" fill="url(#donut)"/>
<circle cx="52.3" cy="273.9" r="4.4" fill="url(#donut)"/>
<circle cx="362.7" cy="266.5" r="4.9" fill="url(#donut)"/>
<circle cx="374.7" cy="261.3" r="5.5" fill="url(#donut)"/>
<circle cx="316.1" cy="288.1" r="5.4" fill="url(#donut)"/>
<circle cx="198.9" cy="22.9" r="4.9" fill="url(#donut)"/>
<circle cx="379.5" cy="53.3" r="4.4" fill="url(#donut)"/>
<circle cx="183.8" cy="88.3" r="5.0" fill="url(#donut)"/>
<circle cx="184.8" cy="126.9" r="5.1" fill="url(#donut)"/>
<circle cx="48.0" cy="269.5" r="5.3" fill="url(#donut)"/>
<circle cx="348.1" cy="253.1" r="5.6" fill="url(#half)"/>
<circle cx="247.0" cy="144.6" r="5.1" fill="url(#donut)"/>
<circle cx="152.7" cy="333.1" r="4.8" fill="url(#half)"/>
<circle cx="164.4" cy="91.4" r="4.0" fill="url(#donut)"/>
<circle cx="79.4" cy="156.5" r="5.3" fill="url(#half)"/>
<circle cx="303.8" cy="133.7" r="5.4" fill="url(#donut)"/>
<circle cx="174.4" cy="352.3" r="4.2" fill="url(#half)"/>
<circle cx="132.8" cy="292.7" r="4.5" fill="url(#donut)"/>
<circle cx="141.3" cy="160.7" r="5.0" fill="url(#donut)"/>
<circle cx="202.3" cy="301.9" r="5.7" fill="url(#half)"/>
<circle cx="329.7" cy="117.3" r="4.1" fill="url(#donut)"/>
<circle cx="176.3" cy="402.6" r="5.3" fill="url(#donut)"/>
<circle cx="404.9" cy="93.5" r="3.8" fill="url(#donut)"/>
<circle cx="375.1" cy="228.3" r="4.5" fill="url(#donut)"/>
<circle cx="388.0" cy="43.8" r="4.7" fill="url(#donut)"/>
<circle cx="244.7" cy="303.0" r="4.8" fill="url(#half)"/>
<circle cx="375.1" cy="209.9" r="5.5" fill="url(#donut)"/>
<circle cx="251.4" cy="195.7" r="4.7" fill="url(#donut)"/>
<circle cx="316.0" cy="292.2" r="5.1" fill="url(#half)"/>
<circle cx="159.7" cy="2.2" r="4.9" fill="url(#donut)"/>
<circle cx="225.2" cy="229.4" r="4.9" fill="url(#half)"/>
<circle cx="275.2" cy="224.8" r="4.8" fill="url(#donut)"/>
<circle cx="258.3" cy="134.2" r="5.5" fill="url(#half)"/>
<circle cx="223.6" cy="234.1" r="5.4" fill="url(#donut)"/>
<circle cx="307.3" cy="113.4" r="5.2" fill="url(#half)"/>
<circle cx="64.6" cy="129.2" r="7.4" fill="url(#full)"/>
<circle cx="42.0" cy="169.6" r="5.2" fill="url(#half)"/>
<circle cx="341.9" cy="65.7" r="4.1" fill="url(#donut)"/>
<circle cx="249.5" cy="73.8" r="4.5" fill="url(#donut)"/>
<circle cx="202.7" cy="327.6" r="5.4" fill="url(#half)"/>
<circle cx="104.1" cy="79.9" r="3.6" fill="url(#donut)"/>
<circle cx="106.1" cy="274.6" r="4.2" fill="url(#donut)"/>
<circle cx="256.5" cy="73.2" r="3.5" fill="url(#donut)"/>
<circle cx="44.4" cy="182.5" r="5.2" fill="url(#donut)"/>
<circle cx="325.9" cy="392.1" r="4.4" fill="url(#half)"/>
<circle cx="320.4" cy="70.5" r="5.8" fill="url(#half)"/>
<circle cx="129.1" cy="9.3" r="6.6" fill="url(#full)"/>
<circle cx="190.8" cy="301.0" r="4.9" fill="url(#donut)"/>
<circle cx="129.9" cy="292.5" r="5.8" fill="url(#half)"/>
<circle cx="184.0" cy="90.4" r="3.6" fill="url(#donut)"/>
<circle cx="5.7" cy="186.5" r="4.2" fill="url(#donut)"/>
<circle cx="91.8" cy="313.0" r="3.9" fill="url(#donut)"/>
<circle cx="169.3" cy="69.0" r="5.4" fill="url(#donut)"/>
<circle cx="291.6" cy="157.4" r="4.1" fill="url(#donut)"/>
<circle cx="192.3" cy="358.0" r="5.5" fill="url(#donut)"/>
<circle cx="130.0" cy="55.0" r="6.8" fill="url(#full)"/>
<circle cx="162.9" cy="331.6" r="5.8" fill="url(#full)"/>
<circle cx="101.3" cy="101.2" r="4.8" fill="url(#half)"/>
<circle cx="226.5" cy="108.0" r="4.9" fill="url(#half)"/>
<circle cx="333.6" cy="152.3" r="5.5" fill="url(#half)"/>
<circle cx="297.8" cy="14.0" r="4.5" fill="url(#donut)"/>
<circle cx="160.7" cy="45.9" r="5.3" fill="url(#donut)"/>
<circle cx="362.9" cy="47.1" r="3.8" fill="url(#donut)"/>
<circle cx="117.0" cy="85.5" r="6.2" fill="url(#full)"/>
<circle cx="313.3" cy="21.5" r="5.6" fill="url(#half)"/>
<circle cx="50.7" cy="288.9" r="4.1" fill="url(#donut)"/>
<circle cx="197.2" cy="91.0" r="3.8" fill="url(#donut)"/>
<circle cx="208.3" cy="91.3" r="4.7" fill="url(#half)"/>
<circle cx="120.6" cy="81.4" r="5.0" fill="url(#donut)"/>
<circle cx="365.9" cy="217.8" r="3.6" fill="url(#donut)"/>
<circle cx="336.0" cy="259.8" r="4.6" fill="url(#donut)"/>
<circle cx="281.5" cy="189.4" r="4.5" fill="url(#half)"/>
<circle cx="128.9" cy="144.3" r="5.3" fill="url(#half)"/>
<circle cx="235.4" cy="333.6" r="5.6" fill="url(#half)"/>
<circle cx="202.3" cy="120.7" r="5.1" fill="url(#donut)"/>
<circle cx="53.1" cy="34.2" r="3.6" fill="url(#donut)"/>
<circle cx="288.3" cy="80.3" r="5.3" fill="url(#full)"/>
<circle cx="387.0" cy="181.1" r="6.6" fill="url(#full)"/>
<circle cx="123.0" cy="66.6" r="4.2" fill="url(#donut)"/>
<circle cx="67.0" cy="133.6" r="5.8" fill="url(#half)"/>
<circle cx="121.3" cy="296.9" r="4.4" fill="url(#donut)"/>
<circle cx="328.3" cy="111.7" r="5.0" fill="url(#donut)"/>
<circle cx="307.7" cy="18.6" r="4.1" fill="url(#donut)"/>
<circle cx="354.3" cy="200.8" r="3.8" fill="url(#donut)"/>
<circle cx="136.4" cy="304.9" r="5.1" fill="url(#donut)"/>
<circle cx="334.2" cy="122.4" r="3.5" fill="url(#donut)"/>
<circle cx="165.9" cy="320.3" r="4.8" fill="url(#half)"/>
<circle cx="307.1" cy="257.6" r="7.5" fill="url(#full)"/>
<circle cx="380.5" cy="276.7" r="4.8" fill="url(#donut)"/>
<circle cx="231.6" cy="317.1" r="4.0" fill="url(#donut)"/>
<circle cx="314.1" cy="36.3" r="3.6" fill="url(#donut)"/>
<circle cx="354.4" cy="71.8" r="5.1" fill="url(#half)"/>
<circle cx="395.0" cy="53.9" r="4.4" fill="url(#half)"/>
<circle cx="78.0" cy="357.3" r="4.8" fill="url(#donut)"/>
<circle cx="281.5" cy="90.0" r="4.1" fill="url(#donut)"/>
<circle cx="242.8" cy="298.1" r="5.5" fill="url(#donut)"/>
<circle cx="356.6" cy="84.1" r="4.4" fill="url(#donut)"/>
<circle cx="213.4" cy="153.0" r="7.3" fill="url(#full)"/>
<circle cx="337.7" cy="98.3" r="7.0" fill="url(#full)"/>
<circle cx="187.7" cy="351.3" r="4.4" fill="url(#donut)"/>
<circle cx="64.2" cy="137.0" r="6.0" fill="url(#full)"/>
<circle cx="384.7" cy="352.4" r="4.9" fill="url(#donut)"/>
<circle cx="318.8" cy="50.1" r="4.1" fill="url(#donut)"/>
<circle cx="371.3" cy="163.5" r="5.8" fill="url(#half)"/>
<circle cx="337.2" cy="398.9" r="5.4" fill="url(#half)"/>
<circle cx="265.5" cy="188.6" r="4.5" fill="url(#donut)"/>
<circle cx="60.7" cy="249.2" r="5.5" fill="url(#donut)"/>
<circle cx="360.6" cy="14.6" r="5.6" fill="url(#half)"/>
<circle cx="295.3" cy="251.9" r="3.6" fill="url(#donut)"/>
<circle cx="73.2" cy="277.1" r="5.2" fill="url(#donut)"/>
<circle cx="152.0" cy="293.3" r="4.0" fill="url(#donut)"/>
<circle cx="243.7" cy="185.3" r="4.5" fill="url(#half)"/>
<circle cx="93.8" cy="316.6" r="4.7" fill="url(#donut)"/>
<circle cx="242.4" cy="367.0" r="4.0" fill="url(#donut)"/>
<circle cx="70.4" cy="149.0" r="4.9" fill="url(#donut)"/>
<circle cx="115.2" cy="29.1" r="4.6" fill="url(#donut)"/>
<circle cx="117.8" cy="9.7" r="4.5" fill="url(#half)"/>
<circle cx="305.8" cy="166.7" r="5.9" fill="url(#half)"/>
<circle cx="262.5" cy="231.8" r="5.4" fill="url(#donut)"/>
<circle cx="398.4" cy="386.1" r="4.9" fill="url(#donut)"/>
<circle cx="357.2" cy="405.1" r="4.7" fill="url(#donut)"/>
<circle cx="142.0" cy="91.4" r="6.1" fill="url(#full)"/>
<circle cx="396.1" cy="167.5" r="5.4" fill="url(#donut)"/>
<circle cx="243.8" cy="129.0" r="6.0" fill="url(#half)"/>
<circle cx="90.0" cy="132.7" r="3.9" fill="url(#donut)"/>
<circle cx="44.7" cy="354.5" r="5.2" fill="url(#donut)"/>
<circle cx="379.8" cy="241.0" r="4.9" fill="url(#donut)"/>
<circle cx="149.0" cy="66.0" r="5.2" fill="url(#donut)"/>
<circle cx="261.3" cy="395.9" r="5.0" fill="url(#donut)"/>
<circle cx="53.1" cy="399.2" r="4.0" fill="url(#donut)"/>
<circle cx="361.5" cy="270.5" r="6.0" fill="url(#half)"/>
<circle cx="127.8" cy="256.3" r="4.5" fill="url(#donut)"/>
<circle cx="300.1" cy="164.0" r="4.7" fill="url(#donut)"/>
<circle cx="208.5" cy="4.5" r="4.5" fill="url(#half)"/>
<circle cx="168.9" cy="1.2" r="6.8" fill="url(#full)"/>
<circle cx="145.6" cy="115.1" r="5.0" fill="url(#donut)"/>
<circle cx="87.8" cy="50.0" r="4.9" fill="url(#half)"/>
<circle cx="243.8" cy="78.4" r="4.4" fill="url(#donut)"/>
<circle cx="99.8" cy="332.7" r="4.6" fill="url(#donut)"/>
<circle cx="88.5" cy="215.9" r="4.0" fill="url(#donut)"/>
<circle cx="315.8" cy="70.0" r="5.3" fill="url(#donut)"/>
<circle cx="61.5" cy="405.5" r="4.8" fill="url(#half)"/>
<circle cx="67.6" cy="62.1" r="4.8" fill="url(#donut)"/>
<circle cx="365.6" cy="187.8" r="5.5" fill="url(#half)"/>
<circle cx="173.5" cy="344.0" r="3.5" fill="url(#donut)"/>
<circle cx="216.1" cy="72.8" r="4.1" fill="url(#donut)"/>
<circle cx="379.0" cy="174.1" r="3.7" fill="url(#donut)"/>
<circle cx="258.8" cy="286.9" r="5.3" fill="url(#donut)"/>
<circle cx="249.6" cy="277.1" r="4.4" fill="url(#donut)"/>
<circle cx="388.4" cy="383.6" r="3.8" fill="url(#donut)"/>
<circle cx="356.3" cy="257.8" r="4.1" fill="url(#donut)"/>
<circle cx="65.1" cy="42.3" r="5.7" fill="url(#half)"/>
<circle cx="38.8" cy="204.8" r="4.7" fill="url(#half)"/>
<circle cx="301.7" cy="221.5" r="5.7" fill="url(#half)"/>
<circle cx="215.2" cy="150.8" r="3.6" fill="url(#donut)"/>
<circle cx="82.2" cy="162.2" r="4.8" fill="url(#donut)"/>
<circle cx="137.8" cy="86.8" r="5.3" fill="url(#half)"/>
<circle cx="293.2" cy="252.1" r="5.4" fill="url(#half)"/>
<circle cx="90.5" cy="38.0" r="6.4" fill="url(#full)"/>
<circle cx="323.0" cy="274.9" r="4.8" fill="url(#donut)"/>
<circle cx="73.0" cy="145.8" r="4.3" fill="url(#half)"/>
<circle cx="110.4" cy="163.3" r="5.2" fill="url(#donut)"/>
<circle cx="338.4" cy="135.1" r="5.9" fill="url(#half)"/>
<circle cx="208.7" cy="110.7" r="5.2" fill="url(#donut)"/>
<circle cx="80.9" cy="188.5" r="4.2" fill="url(#half)"/>
<circle cx="241.8" cy="250.1" r="5.0" fill="url(#donut)"/>
<circle cx="368.5" cy="217.7" r="4.4" fill="url(#donut)"/>
<circle cx="79.1" cy="88.7" r="3.7" fill="url(#donut)"/>
<circle cx="38.6" cy="327.4" r="5.7" fill="url(#half)"/>
<circle cx="103.8" cy="174.0" r="5.0" fill="url(#half)"/>
<circle cx="288.0" cy="286.2" r="5.0" fill="url(#donut)"/>
<circle cx="95.4" cy="312.7" r="4.2" fill="url(#half)"/>
<circle cx="384.3" cy="165.7" r="4.3" fill="url(#half)"/>
<circle cx="344.4" cy="250.0" r="4.3" fill="url(#half)"/>
<circle cx="309.2" cy="104.7" r="4.1" fill="url(#donut)"/>
<circle cx="62.1" cy="226.1" r="4.4" fill="url(#donut)"/>
<circle cx="216.1" cy="102.5" r="3.9" fill="url(#donut)"/>
<circle cx="54.2" cy="177.0" r="6.7" fill="url(#full)"/>
<circle cx="309.8" cy="261.3" r="4.0" fill="url(#donut)"/>
<circle cx="357.7" cy="244.2" r="4.2" fill="url(#donut)"/>
<circle cx="91.5" cy="370.5" r="4.7" fill="url(#donut)"/>
<circle cx="197.7" cy="30.2" r="3.8" fill="url(#donut)"/>
<circle cx="191.5" cy="37.5" r="4.4" fill="url(#donut)"/>
<circle cx="185.8" cy="22.4" r="5.4" fill="url(#donut)"/>
<circle cx="380.6" cy="157.2" r="5.7" fill="url(#half)"/>
<circle cx="49.3" cy="118.7" r="5.2" fill="url(#donut)"/>
<circle cx="174.6" cy="128.8" r="5.6" fill="url(#half)"/>
<circle cx="76.6" cy="253.8" r="4.1" fill="url(#donut)"/>
<circle cx="277.4" cy="361.0" r="4.2" fill="url(#donut)"/>
<circle cx="358.3" cy="198.7" r="5.0" fill="url(#half)"/>
<circle cx="360.3" cy="160.2" r="5.4" fill="url(#donut)"/>
<circle cx="390.0" cy="300.8" r="4.2" fill="url(#donut)"/>
<circle cx="368.7" cy="279.5" r="3.9" fill="url(#donut)"/>
<circle cx="303.6" cy="278.8" r="5.0" fill="url(#donut)"/>
<circle cx="369.3" cy="286.8" r="5.8" fill="url(#half)"/>
<circle cx="81.7" cy="134.2" r="4.7" fill="url(#donut)"/>
<circle cx="345.6" cy="123.7" r="5.2" fill="url(#donut)"/>
<circle cx="172.9" cy="93.4" r="4.8" fill="url(#donut)"/>
<circle cx="28.6" cy="113.3" r="4.8" fill="url(#half)"/>
<circle cx="216.2" cy="319.4" r="4.5" fill="url(#donut)"/>
<circle cx="385.3" cy="197.5" r="5.9" fill="url(#half)"/>
<circle cx="167.8" cy="300.8" r="3.9" fill="url(#donut)"/>
<circle cx="291.4" cy="109.0" r="4.0" fill="url(#donut)"/>
<circle cx="201.7" cy="-5.2" r="4.8" fill="url(#half)"/>
<circle cx="245.0" cy="298.1" r="4.1" fill="url(#donut)"/>
<circle cx="244.2" cy="298.7" r="5.5" fill="url(#half)"/>
<circle cx="102.7" cy="305.2" r="4.8" fill="url(#half)"/>
<circle cx="354.9" cy="298.2" r="4.5" fill="url(#donut)"/>
<circle cx="355.1" cy="239.3" r="5.1" fill="url(#donut)"/>
<circle cx="255.2" cy="145.4" r="3.7" fill="url(#donut)"/>
<circle cx="48.9" cy="282.9" r="6.8" fill="url(#full)"/>
<circle cx="248.1" cy="321.4" r="4.9" fill="url(#donut)"/>
<circle cx="302.0" cy="178.8" r="3.8" fill="url(#donut)"/>
<circle cx="265.9" cy="272.8" r="4.1" fill="url(#donut)"/>
<circle cx="243.3" cy="322.1" r="4.7" fill="url(#half)"/>
<circle cx="120.7" cy="121.4" r="3.9" fill="url(#donut)"/>
<circle cx="170.4" cy="41.0" r="3.6" fill="url(#donut)"/>
<circle cx="60.3" cy="147.1" r="5.3" fill="url(#donut)"/>
<circle cx="236.0" cy="304.6" r="5.2" fill="url(#full)"/>
<circle cx="349.6" cy="96.8" r="4.9" fill="url(#donut)"/>
<circle cx="246.1" cy="155.9" r="5.3" fill="url(#donut)"/>
<circle cx="126.8" cy="122.9" r="5.4" fill="url(#donut)"/>
<circle cx="318.0" cy="194.8" r="3.9" fill="url(#donut)"/>
<circle cx="404.7" cy="204.6" r="4.4" fill="url(#donut)"/>
<circle cx="263.1" cy="148.1" r="5.1" fill="url(#donut)"/>
<circle cx="95.7" cy="217.5" r="3.5" fill="url(#donut)"/>
<circle cx="158.2" cy="210.8" r="3.6" fill="url(#donut)"/>
<circle cx="294.4" cy="202.9" r="5.2" fill="url(#donut)"/>
<circle cx="82.0" cy="319.9" r="5.4" fill="url(#full)"/>
<circle cx="272.4" cy="271.4" r="7.3" fill="url(#full)"/>
<circle cx="401.8" cy="369.3" r="4.4" fill="url(#donut)"/>
<circle cx="144.8" cy="116.6" r="3.8" fill="url(#donut)"/>
<circle cx="292.4" cy="229.9" r="5.3" fill="url(#donut)"/>
<circle cx="108.2" cy="334.7" r="4.1" fill="url(#donut)"/>
<circle cx="73.1" cy="-0.9" r="5.4" fill="url(#donut)"/>
<circle cx="253.6" cy="395.4" r="5.4" fill="url(#donut)"/>
<circle cx="244.2" cy="379.1" r="4.7" fill="url(#donut)"/>
<circle cx="350.9" cy="122.1" r="4.2" fill="url(#donut)"/>
<circle cx="57.0" cy="56.2" r="5.1" fill="url(#donut)"/>
<circle cx="93.5" cy="235.5" r="4.7" fill="url(#donut)"/>
<circle cx="90.4" cy="46.2" r="5.1" fill="url(#full)"/>
<circle cx="362.4" cy="155.5" r="5.4" fill="url(#donut)"/>
<circle cx="84.3" cy="281.9" r="3.6" fill="url(#donut)"/>
<circle cx="9.0" cy="25.4" r="4.7" fill="url(#donut)"/>
<circle cx="49.5" cy="234.5" r="4.6" fill="url(#half)"/>
<circle cx="318.4" cy="32.9" r="5.4" fill="url(#half)"/>
<circle cx="272.6" cy="169.2" r="7.3" fill="url(#full)"/>
<circle cx="61.8" cy="174.1" r="4.5" fill="url(#donut)"/>
<circle cx="297.6" cy="290.9" r="4.4" fill="url(#donut)"/>
<circle cx="129.3" cy="73.8" r="5.4" fill="url(#donut)"/>
<circle cx="108.6" cy="338.5" r="5.0" fill="url(#donut)"/>
<circle cx="371.4" cy="109.7" r="5.5" fill="url(#donut)"/>
<circle cx="281.4" cy="53.6" r="3.5" fill="url(#donut)"/>
<circle cx="277.7" cy="361.3" r="3.9" fill="url(#donut)"/>
<circle cx="96.3" cy="264.3" r="6.8" fill="url(#full)"/>
<circle cx="18.7" cy="256.6" r="5.3" fill="url(#donut)"/>
<circle cx="372.0" cy="188.4" r="4.2" fill="url(#half)"/>
<circle cx="85.2" cy="238.9" r="4.5" fill="url(#half)"/>
<circle cx="115.3" cy="99.6" r="4.2" fill="url(#donut)"/>
<circle cx="218.4" cy="74.7" r="5.2" fill="url(#donut)"/>
<circle cx="365.9" cy="181.2" r="4.6" fill="url(#donut)"/>
<circle cx="109.4" cy="154.6" r="4.8" fill="url(#half)"/>
<circle cx="101.5" cy="254.2" r="4.6" fill="url(#donut)"/>
<circle cx="100.0" cy="310.6" r="4.4" fill="url(#half)"/>
<circle cx="299.5" cy="204.6" r="4.0" fill="url(#donut)"/>
<circle cx="176.8" cy="155.0" r="4.2" fill="url(#donut)"/>
<circle cx="291.4" cy="237.4" r="4.7" fill="url(#half)"/>
<circle cx="258.4" cy="291.3" r="3.7" fill="url(#donut)"/>
<circle cx="285.4" cy="293.0" r="4.4" fill="url(#donut)"/>
<circle cx="365.3" cy="269.4" r="4.2" fill="url(#donut)"/>
<circle cx="70.9" cy="112.2" r="4.5" fill="url(#donut)"/>
<circle cx="190.0" cy="139.9" r="3.8" fill="url(#donut)"/>
<circle cx="274.8" cy="197.8" r="4.0" fill="url(#donut)"/>
<circle cx="256.0" cy="71.4" r="5.0" fill="url(#half)"/>
<circle cx="122.3" cy="115.7" r="4.1" fill="url(#donut)"/>
<circle cx="138.7" cy="149.2" r="5.0" fill="url(#donut)"/>
<circle cx="119.8" cy="324.0" r="4.9" fill="url(#donut)"/>
<circle cx="353.2" cy="3.3" r="3.8" fill="url(#donut)"/>
<circle cx="195.4" cy="86.2" r="4.1" fill="url(#donut)"/>
<circle cx="79.4" cy="276.0" r="4.3" fill="url(#donut)"/>
<circle cx="376.0" cy="49.8" r="4.3" fill="url(#donut)"/>
<circle cx="271.6" cy="298.6" r="5.0" fill="url(#donut)"/>
<circle cx="191.7" cy="111.0" r="3.6" fill="url(#donut)"/>
<circle cx="287.6" cy="387.0" r="4.4" fill="url(#donut)"/>
<circle cx="377.6" cy="154.7" r="4.1" fill="url(#donut)"/>
<circle cx="88.8" cy="263.8" r="5.7" fill="url(#full)"/>
<circle cx="363.2" cy="296.5" r="4.7" fill="url(#donut)"/>
<circle cx="94.9" cy="272.0" r="3.8" fill="url(#donut)"/>
<circle cx="80.7" cy="63.3" r="4.6" fill="url(#donut)"/>
<circle cx="401.6" cy="64.1" r="5.2" fill="url(#donut)"/>
<circle cx="309.1" cy="293.5" r="4.9" fill="url(#half)"/>
<circle cx="215.6" cy="352.6" r="3.7" fill="url(#donut)"/>
<circle cx="97.7" cy="262.0" r="3.9" fill="url(#donut)"/>
<circle cx="271.8" cy="131.2" r="3.7" fill="url(#donut)"/>
<circle cx="262.8" cy="197.1" r="3.8" fill="url(#donut)"/>
<circle cx="281.4" cy="243.3" r="4.3" fill="url(#donut)"/>
<circle cx="65.0" cy="300.2" r="4.5" fill="url(#donut)"/>
<circle cx="91.9" cy="351.0" r="4.2" fill="url(#donut)"/>
<circle cx="37.4" cy="256.2" r="5.3" fill="url(#donut)"/>
<circle cx="284.5" cy="87.2" r="5.4" fill="url(#donut)"/>
<circle cx="233.3" cy="271.4" r="4.4" fill="url(#half)"/>
<circle cx="288.8" cy="142.3" r="4.5" fill="url(#donut)"/>
<circle cx="151.7" cy="45.1" r="4.2" fill="url(#donut)"/>
<circle cx="219.2" cy="275.0" r="4.7" fill="url(#donut)"/>
<circle cx="104.6" cy="271.3" r="4.3" fill="url(#half)"/>
<circle cx="83.7" cy="245.8" r="3.6" fill="url(#donut)"/>
<circle cx="382.8" cy="139.2" r="3.7" fill="url(#donut)"/>
<circle cx="140.1" cy="79.4" r="5.2" fill="url(#donut)"/>
<circle cx="306.0" cy="216.8" r="4.0" fill="url(#donut)"/>
<circle cx="183.2" cy="356.3" r="4.4" fill="url(#donut)"/>
<circle cx="180.6" cy="347.3" r="6.0" fill="url(#half)"/>
<circle cx="141.7" cy="9.5" r="5.2" fill="url(#donut)"/>
<circle cx="392.5" cy="105.7" r="6.0" fill="url(#half)"/>
<circle cx="188.6" cy="46.1" r="4.8" fill="url(#donut)"/>
<circle cx="213.1" cy="312.3" r="4.9" fill="url(#donut)"/>
<circle cx="243.0" cy="32.8" r="5.8" fill="url(#half)"/>
<circle cx="353.0" cy="282.6" r="4.2" fill="url(#half)"/>
<circle cx="40.1" cy="241.1" r="5.1" fill="url(#donut)"/>
<circle cx="286.9" cy="256.7" r="4.3" fill="url(#donut)"/>
<circle cx="289.4" cy="159.5" r="4.7" fill="url(#donut)"/>
<circle cx="175.9" cy="93.2" r="5.1" fill="url(#donut)"/>
<circle cx="226.3" cy="152.8" r="5.9" fill="url(#full)"/>
<circle cx="245.9" cy="104.0" r="3.8" fill="url(#donut)"/>
<circle cx="83.0" cy="198.3" r="4.9" fill="url(#donut)"/>
<circle cx="260.3" cy="263.7" r="3.6" fill="url(#donut)"/>
<circle cx="54.1" cy="216.0" r="6.8" fill="url(#full)"/>
<circle cx="371.1" cy="241.3" r="5.0" fill="url(#donut)"/>
<circle cx="382.3" cy="349.6" r="5.3" fill="url(#donut)"/>
<circle cx="150.5" cy="372.5" r="5.5" fill="url(#half)"/>
<circle cx="72.2" cy="95.0" r="4.1" fill="url(#donut)"/>
<circle cx="244.8" cy="191.8" r="4.4" fill="url(#half)"/>
<circle cx="132.3" cy="126.6" r="6.8" fill="url(#full)"/>
<circle cx="348.9" cy="159.6" r="4.1" fill="url(#donut)"/>
<circle cx="186.9" cy="138.5" r="5.2" fill="url(#donut)"/>
<circle cx="-1.1" cy="305.7" r="3.8" fill="url(#donut)"/>
<circle cx="335.2" cy="10.9" r="4.7" fill="url(#donut)"/>
<circle cx="397.9" cy="45.3" r="4.6" fill="url(#donut)"/>
<circle cx="261.9" cy="246.1" r="4.8" fill="url(#half)"/>
<circle cx="260.5" cy="264.2" r="3.7" fill="url(#donut)"/>
<circle cx="84.8" cy="75.6" r="5.3" fill="url(#donut)"/>
<circle cx="302.8" cy="374.8" r="4.3" fill="url(#donut)"/>
<circle cx="69.2" cy="223.6" r="4.5" fill="url(#half)"/>
<circle cx="80.9" cy="177.5" r="5.2" fill="url(#donut)"/>
<circle cx="331.2" cy="120.2" r="5.5" fill="url(#donut)"/>
<circle cx="342.6" cy="240.3" r="3.7" fill="url(#donut)"/>
<circle cx="35.6" cy="241.1" r="5.2" fill="url(#donut)"/>
<circle cx="45.0" cy="74.0" r="4.5" fill="url(#donut)"/>
<circle cx="239.0" cy="351.8" r="4.8" fill="url(#donut)"/>
<circle cx="133.9" cy="299.0" r="4.6" fill="url(#donut)"/>
<circle cx="88.3" cy="58.2" r="5.2" fill="url(#donut)"/>
<circle cx="128.1" cy="100.9" r="3.6" fill="url(#donut)"/>
<circle cx="72.7" cy="276.4" r="4.5" fill="url(#half)"/>
<circle cx="246.2" cy="357.5" r="4.2" fill="url(#donut)"/>
<circle cx="235.4" cy="313.8" r="5.1" fill="url(#donut)"/>
<circle cx="185.8" cy="304.9" r="5.0" fill="url(#donut)"/>
<circle cx="255.2" cy="286.3" r="4.6" fill="url(#half)"/>
<circle cx="268.2" cy="9.4" r="6.6" fill="url(#full)"/>
<circle cx="253.7" cy="36.3" r="4.1" fill="url(#donut)"/>
<circle cx="62.5" cy="228.0" r="5.3" fill="url(#half)"/>
<circle cx="96.3" cy="390.0" r="4.7" fill="url(#half)"/>
<circle cx="85.2" cy="157.3" r="5.4" fill="url(#donut)"/>
<circle cx="313.4" cy="200.9" r="5.5" fill="url(#donut)"/>
<circle cx="217.1" cy="244.8" r="3.7" fill="url(#donut)"/>
<circle cx="352.1" cy="36.5" r="3.8" fill="url(#donut)"/>
<circle cx="71.3" cy="195.1" r="3.7" fill="url(#donut)"/>
<circle cx="169.1" cy="335.8" r="4.7" fill="url(#donut)"/>
<circle cx="130.5" cy="399.2" r="5.0" fill="url(#donut)"/>
<circle cx="270.2" cy="222.1" r="4.5" fill="url(#half)"/>
<circle cx="351.9" cy="149.4" r="4.6" fill="url(#half)"/>
<circle cx="170.4" cy="58.4" r="4.3" fill="url(#donut)"/>
<circle cx="245.0" cy="307.5" r="5.3" fill="url(#half)"/>
<circle cx="30.8" cy="115.8" r="3.8" fill="url(#donut)"/>
<circle cx="174.2" cy="138.6" r="3.7" fill="url(#donut)"/>
<circle cx="257.8" cy="21.9" r="4.8" fill="url(#donut)"/>
<circle cx="336.2" cy="243.4" r="5.0" fill="url(#half)"/>
<circle cx="250.9" cy="8.0" r="4.7" fill="url(#donut)"/>
<circle cx="92.1" cy="256.3" r="5.4" fill="url(#donut)"/>
<circle cx="176.1" cy="126.4" r="5.2" fill="url(#donut)"/>
<circle cx="152.6" cy="101.9" r="3.8" fill="url(#donut)"/>
<circle cx="29.5" cy="45.5" r="4.4" fill="url(#half)"/>
<circle cx="164.7" cy="201.2" r="4.8" fill="url(#donut)"/>
<circle cx="118.9" cy="26.0" r="4.5" fill="url(#donut)"/>
<circle cx="255.1" cy="157.8" r="5.6" fill="url(#full)"/>
<circle cx="401.3" cy="343.9" r="3.5" fill="url(#donut)"/>
<circle cx="68.7" cy="146.4" r="5.1" fill="url(#donut)"/>
<circle cx="406.1" cy="-5.0" r="5.0" fill="url(#donut)"/>
<circle cx="47.7" cy="179.9" r="5.1" fill="url(#donut)"/>
<circle cx="186.2" cy="390.0" r="4.7" fill="url(#donut)"/>
<circle cx="351.0" cy="163.7" r="4.5" fill="url(#donut)"/>
<circle cx="216.2" cy="276.7" r="5.3" fill="url(#full)"/>
<circle cx="92.4" cy="144.5" r="5.5" fill="url(#full)"/>
<circle cx="78.2" cy="219.2" r="3.5" fill="url(#donut)"/>
<circle cx="284.6" cy="142.0" r="5.9" fill="url(#half)"/>
<circle cx="325.1" cy="377.8" r="3.8" fill="url(#donut)"/>
<circle cx="266.4" cy="104.2" r="4.4" fill="url(#half)"/>
<circle cx="276.2" cy="156.4" r="4.3" fill="url(#donut)"/>
<circle cx="283.9" cy="263.3" r="5.4" fill="url(#donut)"/>
<circle cx="350.8" cy="182.4" r="3.6" fill="url(#donut)"/>
<circle cx="298.7" cy="123.5" r="4.7" fill="url(#donut)"/>
<circle cx="175.5" cy="80.7" r="4.9" fill="url(#donut)"/>
<circle cx="365.6" cy="395.2" r="4.6" fill="url(#donut)"/>
<circle cx="257.1" cy="89.4" r="4.3" fill="url(#donut)"/>
<circle cx="371.3" cy="117.2" r="5.8" fill="url(#full)"/>
<circle cx="95.4" cy="153.9" r="4.2" fill="url(#donut)"/>
<circle cx="257.8" cy="188.1" r="4.8" fill="url(#donut)"/>
<circle cx="342.0" cy="51.2" r="5.2" fill="url(#donut)"/>
<circle cx="178.6" cy="328.6" r="7.4" fill="url(#full)"/>
<circle cx="369.8" cy="148.9" r="5.4" fill="url(#half)"/>
<circle cx="257.4" cy="153.8" r="4.5" fill="url(#half)"/>
<circle cx="227.9" cy="292.8" r="3.9" fill="url(#donut)"/>
<circle cx="159.4" cy="314.3" r="4.2" fill="url(#donut)"/>
<circle cx="278.9" cy="126.1" r="4.9" fill="url(#donut)"/>
<circle cx="63.4" cy="204.2" r="4.1" fill="url(#donut)"/>
<circle cx="45.8" cy="188.8" r="4.6" fill="url(#donut)"/>
<circle cx="217.2" cy="116.3" r="4.8" fill="url(#donut)"/>
<circle cx="338.4" cy="282.8" r="4.6" fill="url(#donut)"/>
<circle cx="224.6" cy="271.1" r="5.2" fill="url(#donut)"/>
<circle cx="62.4" cy="307.7" r="5.0" fill="url(#donut)"/>
<circle cx="4.3" cy="395.4" r="4.6" fill="url(#donut)"/>
<circle cx="189.0" cy="326.7" r="4.8" fill="url(#half)"/>
<circle cx="320.5" cy="115.2" r="5.2" fill="url(#half)"/>
<circle cx="287.9" cy="214.8" r="4.7" fill="url(#donut)"/>
<circle cx="178.0" cy="111.6" r="5.4" fill="url(#donut)"/>
<circle cx="132.9" cy="160.2" r="4.0" fill="url(#donut)"/>
<circle cx="91.8" cy="372.6" r="5.2" fill="url(#donut)"/>
<circle cx="367.4" cy="138.6" r="5.0" fill="url(#donut)"/>
<circle cx="58.0" cy="334.0" r="5.1" fill="url(#half)"/>
<circle cx="332.5" cy="138.8" r="5.4" fill="url(#half)"/>
<circle cx="118.8" cy="122.5" r="4.5" fill="url(#half)"/>
<circle cx="263.9" cy="201.0" r="3.8" fill="url(#donut)"/>
<circle cx="97.1" cy="262.0" r="5.2" fill="url(#full)"/>
<circle cx="38.2" cy="136.7" r="4.8" fill="url(#donut)"/>
<circle cx="225.2" cy="101.4" r="4.4" fill="url(#donut)"/>
<circle cx="362.1" cy="210.0" r="5.8" fill="url(#half)"/>
<circle cx="327.5" cy="283.0" r="4.5" fill="url(#donut)"/>
<circle cx="170.9" cy="95.1" r="5.4" fill="url(#donut)"/>
<circle cx="209.5" cy="369.8" r="3.9" fill="url(#donut)"/>
<circle cx="73.4" cy="169.4" r="4.6" fill="url(#half)"/>
<circle cx="155.3" cy="54.8" r="4.1" fill="url(#donut)"/>
<circle cx="370.7" cy="112.5" r="4.9" fill="url(#donut)"/>
<circle cx="53.5" cy="146.5" r="4.9" fill="url(#donut)"/>
<circle cx="94.8" cy="204.5" r="5.8" fill="url(#half)"/>
<circle cx="4.4" cy="114.0" r="4.9" fill="url(#donut)"/>
<circle cx="163.8" cy="346.2" r="5.8" fill="url(#half)"/>
<circle cx="283.9" cy="253.0" r="5.8" fill="url(#half)"/>
<circle cx="271.6" cy="340.5" r="4.5" fill="url(#half)"/>
<circle cx="203.2" cy="305.0" r="5.1" fill="url(#half)"/>
<circle cx="175.4" cy="331.6" r="4.1" fill="url(#donut)"/>
<circle cx="73.3" cy="-5.1" r="4.6" fill="url(#half)"/>
<circle cx="157.7" cy="334.9" r="4.8" fill="url(#donut)"/>
<circle cx="399.0" cy="384.8" r="5.5" fill="url(#donut)"/>
<circle cx="402.2" cy="135.4" r="3.6" fill="url(#donut)"/>
<circle cx="245.4" cy="185.2" r="5.5" fill="url(#half)"/>
<circle cx="88.2" cy="310.1" r="5.1" fill="url(#donut)"/>
<circle cx="368.5" cy="251.3" r="5.3" fill="url(#donut)"/>
<circle cx="301.5" cy="40.1" r="4.0" fill="url(#donut)"/>
<circle cx="138.5" cy="299.3" r="3.6" fill="url(#donut)"/>
<circle cx="401.1" cy="12.7" r="5.5" fill="url(#half)"/>
<circle cx="300.2" cy="39.1" r="5.4" fill="url(#donut)"/>
<circle cx="83.2" cy="57.6" r="5.9" fill="url(#half)"/>
<circle cx="110.4" cy="-3.1" r="3.8" fill="url(#donut)"/>
<circle cx="404.5" cy="230.4" r="5.0" fill="url(#donut)"/>
<circle cx="126.6" cy="367.0" r="3.9" fill="url(#donut)"/>
<circle cx="254.4" cy="54.9" r="4.6" fill="url(#donut)"/>
<circle cx="173.8" cy="12.6" r="4.1" fill="url(#donut)"/>
<circle cx="378.1" cy="0.8" r="4.8" fill="url(#donut)"/>
<circle cx="123.3" cy="35.3" r="7.5" fill="url(#full)"/>
<circle cx="58.7" cy="285.6" r="3.9" fill="url(#donut)"/>
<circle cx="262.4" cy="309.7" r="5.7" fill="url(#half)"/>
<circle cx="216.9" cy="113.4" r="3.8" fill="url(#donut)"/>
<circle cx="378.3" cy="59.9" r="3.9" fill="url(#donut)"/>
<circle cx="230.3" cy="128.7" r="4.0" fill="url(#donut)"/>
<circle cx="351.4" cy="85.1" r="5.2" fill="url(#donut)"/>
<circle cx="223.1" cy="43.1" r="5.2" fill="url(#half)"/>
<circle cx="245.2" cy="217.5" r="4.5" fill="url(#donut)"/>
<circle cx="346.4" cy="275.2" r="5.9" fill="url(#full)"/>
<circle cx="197.9" cy="339.6" r="5.0" fill="url(#donut)"/>
<circle cx="261.9" cy="173.9" r="4.4" fill="url(#donut)"/>
<circle cx="208.2" cy="133.3" r="4.4" fill="url(#donut)"/>
<circle cx="307.2" cy="162.9" r="4.5" fill="url(#half)"/>
<circle cx="324.1" cy="264.4" r="5.1" fill="url(#donut)"/>
<circle cx="171.6" cy="333.1" r="3.9" fill="url(#donut)"/>
<circle cx="248.8" cy="7.5" r="4.5" fill="url(#half)"/>
<circle cx="154.8" cy="80.2" r="3.9" fill="url(#donut)"/>
<circle cx="69.5" cy="398.9" r="4.3" fill="url(#donut)"/>
<circle cx="226.8" cy="337.6" r="4.4" fill="url(#donut)"/>
<circle cx="142.5" cy="347.4" r="4.8" fill="url(#donut)"/>
<circle cx="401.7" cy="160.9" r="5.1" fill="url(#donut)"/>
<circle cx="287.3" cy="121.3" r="3.7" fill="url(#donut)"/>
<circle cx="174.6" cy="138.6" r="5.4" fill="url(#donut)"/>
<circle cx="230.1" cy="175.9" r="4.9" fill="url(#donut)"/>
<circle cx="366.5" cy="202.6" r="4.3" fill="url(#donut)"/>
<circle cx="383.4" cy="148.0" r="4.0" fill="url(#donut)"/>
<circle cx="251.1" cy="138.4" r="5.6" fill="url(#half)"/>
<circle cx="186.4" cy="20.8" r="5.5" fill="url(#donut)"/>
<circle cx="28.6" cy="224.3" r="5.2" fill="url(#donut)"/>
<circle cx="253.6" cy="253.4" r="4.7" fill="url(#donut)"/>
<circle cx="128.8" cy="106.2" r="4.3" fill="url(#donut)"/>
<circle cx="53.1" cy="343.8" r="4.0" fill="url(#donut)"/>
<circle cx="51.3" cy="197.5" r="4.5" fill="url(#donut)"/>
<circle cx="364.0" cy="95.4" r="3.9" fill="url(#donut)"/>
<circle cx="283.9" cy="288.9" r="5.2" fill="url(#half)"/>
<circle cx="230.3" cy="86.9" r="4.8" fill="url(#donut)"/>
<circle cx="315.3" cy="12.0" r="4.8" fill="url(#half)"/>
<circle cx="157.3" cy="116.1" r="4.8" fill="url(#donut)"/>
<circle cx="4.5" cy="18.6" r="4.7" fill="url(#donut)"/>
<circle cx="245.2" cy="132.6" r="4.0" fill="url(#donut)"/>
<circle cx="282.8" cy="242.4" r="3.7" fill="url(#donut)"/>
<circle cx="92.3" cy="90.2" r="4.4" fill="url(#half)"/>
<circle cx="352.2" cy="151.7" r="4.6" fill="url(#donut)"/>
<circle cx="203.5" cy="68.8" r="5.2" fill="url(#donut)"/>
<circle cx="319.9" cy="-3.6" r="4.2" fill="url(#donut)"/>
<circle cx="86.0" cy="35.0" r="4.3" fill="url(#donut)"/>
<circle cx="71.2" cy="133.7" r="7.4" fill="url(#full)"/>
<circle cx="78.0" cy="306.3" r="4.3" fill="url(#donut)"/>
<circle cx="57.3" cy="280.2" r="5.3" fill="url(#full)"/>
<circle cx="363.6" cy="236.8" r="4.7" fill="url(#half)"/>
<circle cx="206.0" cy="4.1" r="5.1" fill="url(#donut)"/>
<circle cx="322.3" cy="144.4" r="4.2" fill="url(#donut)"/>
<circle cx="75.1" cy="55.6" r="4.4" fill="url(#half)"/>
<circle cx="205.9" cy="291.5" r="4.2" fill="url(#donut)"/>
<circle cx="399.3" cy="185.9" r="7.0" fill="url(#full)"/>
<circle cx="113.4" cy="214.4" r="3.7" fill="url(#donut)"/>
<circle cx="281.8" cy="148.3" r="4.8" fill="url(#donut)"/>
<circle cx="312.3" cy="279.8" r="5.2" fill="url(#donut)"/>
<circle cx="269.6" cy="164.6" r="4.2" fill="url(#donut)"/>
<circle cx="74.6" cy="286.1" r="3.8" fill="url(#donut)"/>
<circle cx="311.3" cy="186.8" r="4.7" fill="url(#half)"/>
<circle cx="208.9" cy="340.7" r="5.9" fill="url(#half)"/>
<circle cx="274.9" cy="32.5" r="5.0" fill="url(#donut)"/>
<circle cx="155.7" cy="399.9" r="4.5" fill="url(#donut)"/>
<circle cx="113.8" cy="63.3" r="3.7" fill="url(#donut)"/>
<circle cx="373.6" cy="246.7" r="3.7" fill="url(#donut)"/>
<circle cx="261.7" cy="146.7" r="3.8" fill="url(#donut)"/>
<circle cx="347.2" cy="34.7" r="5.3" fill="url(#donut)"/>
<circle cx="378.0" cy="254.9" r="3.8" fill="url(#donut)"/>
<circle cx="168.1" cy="57.2" r="5.2" fill="url(#donut)"/>
<circle cx="256.5" cy="235.0" r="6.1" fill="url(#full)"/>
<circle cx="85.2" cy="60.5" r="5.1" fill="url(#donut)"/>
<circle cx="368.5" cy="345.2" r="4.2" fill="url(#half)"/>
<circle cx="94.5" cy="236.2" r="4.8" fill="url(#half)"/>
<circle cx="289.6" cy="218.5" r="3.6" fill="url(#donut)"/>
<circle cx="305.0" cy="277.2" r="4.4" fill="url(#donut)"/>
<circle cx="3.2" cy="155.5" r="5.5" fill="url(#half)"/>
<circle cx="296.5" cy="18.9" r="5.0" fill="url(#donut)"/>
<circle cx="132.9" cy="86.1" r="4.5" fill="url(#donut)"/>
<circle cx="70.1" cy="45.3" r="4.5" fill="url(#donut)"/>
<circle cx="129.7" cy="300.5" r="4.6" fill="url(#donut)"/>
<circle cx="322.1" cy="11.3" r="4.7" fill="url(#donut)"/>
<circle cx="63.7" cy="298.5" r="4.1" fill="url(#donut)"/>
<circle cx="239.7" cy="122.8" r="5.0" fill="url(#half)"/>
<circle cx="64.8" cy="270.1" r="4.4" fill="url(#donut)"/>
<circle cx="169.9" cy="23.0" r="4.9" fill="url(#donut)"/>
<circle cx="316.4" cy="142.9" r="3.7" fill="url(#donut)"/>
<circle cx="209.0" cy="321.9" r="5.1" fill="url(#donut)"/>
<circle cx="226.6" cy="331.7" r="5.2" fill="url(#full)"/>
<circle cx="89.1" cy="282.6" r="4.8" fill="url(#half)"/>
<circle cx="146.5" cy="2.2" r="5.2" fill="url(#donut)"/>
<circle cx="297.4" cy="210.9" r="5.6" fill="url(#half)"/>
<circle cx="234.2" cy="235.8" r="4.2" fill="url(#half)"/>
<circle cx="107.5" cy="171.1" r="7.4" fill="url(#dred)"/>
<circle cx="123.5" cy="159.2" r="8.1" fill="url(#dred)"/>
<circle cx="143.4" cy="131.3" r="6.8" fill="url(#dred)"/>
<circle cx="175.3" cy="135.3" r="9.5" fill="url(#dred)"/>
<circle cx="203.1" cy="167.1" r="8.1" fill="url(#dred)"/>
<circle cx="191.2" cy="179.1" r="6.8" fill="url(#dred)"/>
<circle cx="223.0" cy="202.9" r="7.4" fill="url(#dred)"/>
<circle cx="139.4" cy="254.7" r="6.8" fill="url(#dred)"/>
<circle cx="167.3" cy="286.5" r="6.8" fill="url(#dred)"/>
<circle cx="215.1" cy="218.8" r="6.8" fill="url(#dred)"/>
<circle cx="119.5" cy="202.9" r="6.1" fill="url(#dred)"/>
<circle cx="223.0" cy="151.2" r="6.8" fill="url(#dred)"/>
<circle cx="282.8" cy="151.2" r="6.8" fill="url(#dred)"/>
<circle cx="366.4" cy="143.2" r="9.5" fill="url(#dred)"/>
<circle cx="386.4" cy="167.1" r="8.1" fill="url(#dred)"/>
<circle cx="378.4" cy="238.7" r="8.8" fill="url(#dred)"/>
<circle cx="374.4" cy="270.6" r="6.8" fill="url(#dred)"/>
<circle cx="350.5" cy="238.7" r="6.8" fill="url(#dred)"/>
<circle cx="314.7" cy="159.2" r="6.8" fill="url(#dred)"/>
<circle cx="342.5" cy="103.5" r="8.1" fill="url(#dred)"/>
<circle cx="350.5" cy="350.2" r="6.8" fill="url(#dred)"/>
<circle cx="278.8" cy="366.1" r="8.1" fill="url(#dred)"/>
<circle cx="290.8" cy="378.0" r="6.8" fill="url(#dred)"/>
<circle cx="274.8" cy="374.0" r="6.8" fill="url(#dred)"/>
<circle cx="239.0" cy="318.3" r="6.8" fill="url(#dred)"/>
<circle cx="15.9" cy="151.2" r="6.8" fill="url(#dred)"/>
<circle cx="75.7" cy="306.4" r="6.8" fill="url(#dred)"/>
<circle cx="191.2" cy="366.1" r="6.8" fill="url(#dred)"/>
<circle cx="159.3" cy="386.0" r="6.1" fill="url(#dred)"/>
<circle cx="254.9" cy="123.3" r="6.8" fill="url(#dred)"/>
<circle cx="87.6" cy="246.7" r="6.8" fill="url(#dred)"/>
<circle cx="231.0" cy="242.7" r="6.8" fill="url(#dred)"/>
<circle cx="127.5" cy="75.6" r="6.8" fill="url(#dred)"/>
<circle cx="183.2" cy="55.7" r="6.8" fill="url(#dred)"/>
<circle cx="294.7" cy="79.6" r="6.8" fill="url(#dred)"/>
<circle cx="152.9" cy="218.0" r="20.0" fill="url(#big)"/></g></g><rect x="313.6" y="356.8" width="84.7" height="41.1" fill="#fff"/></g>
<rect x="734.6" y="1125.7" width="398.3" height="397.9" fill="none" stroke="#000" stroke-width="3"/>
<path d="M734.6 1125.7v-15M734.6 1523.6v15M734.6 1523.6h-15M1132.9 1523.6h15M774.4 1125.7v-8M774.4 1523.6v8M734.6 1483.8h-8M1132.9 1483.8h8M814.3 1125.7v-15M814.3 1523.6v15M734.6 1444.0h-15M1132.9 1444.0h15M854.1 1125.7v-8M854.1 1523.6v8M734.6 1404.2h-8M1132.9 1404.2h8M893.9 1125.7v-15M893.9 1523.6v15M734.6 1364.4h-15M1132.9 1364.4h15M933.8 1125.7v-8M933.8 1523.6v8M734.6 1324.7h-8M1132.9 1324.7h8M973.6 1125.7v-15M973.6 1523.6v15M734.6 1284.9h-15M1132.9 1284.9h15M1013.4 1125.7v-8M1013.4 1523.6v8M734.6 1245.1h-8M1132.9 1245.1h8M1053.2 1125.7v-15M1053.2 1523.6v15M734.6 1205.3h-15M1132.9 1205.3h15M1093.1 1125.7v-8M1093.1 1523.6v8M734.6 1165.5h-8M1132.9 1165.5h8M1132.9 1125.7v-15M1132.9 1523.6v15M734.6 1125.7h-15M1132.9 1125.7h15" stroke="#000" stroke-width="3" fill="none"/>
<text x="708.5" y="1532.6" font-size="25.5" text-anchor="end" >0</text>
<text x="734.6" y="1573.3" font-size="25.5" text-anchor="middle" >0</text>
<text x="708.5" y="1453.0" font-size="25.5" text-anchor="end" >200</text>
<text x="814.3" y="1573.3" font-size="25.5" text-anchor="middle" >200</text>
<text x="708.5" y="1373.4" font-size="25.5" text-anchor="end" >400</text>
<text x="893.9" y="1573.3" font-size="25.5" text-anchor="middle" >400</text>
<text x="708.5" y="1293.8" font-size="25.5" text-anchor="end" >600</text>
<text x="973.6" y="1573.3" font-size="25.5" text-anchor="middle" >600</text>
<text x="708.5" y="1214.3" font-size="25.5" text-anchor="end" >800</text>
<text x="1053.2" y="1573.3" font-size="25.5" text-anchor="middle" >800</text>
<text x="708.5" y="1134.7" font-size="25.5" text-anchor="end" >1000</text>
<text x="1132.9" y="1573.3" font-size="25.5" text-anchor="middle" >1000</text>
<text transform="translate(932.8 1604.0) scale(1.065 1)" font-size="25.5" text-anchor="middle" >X (µm)</text>
<text transform="translate(641.8 1324.7) rotate(-90) scale(1.045 1)" font-size="25.5" text-anchor="middle">Y (µm)</text>
<text transform="translate(942.4 1653.0) scale(1.11 1)" font-size="45" text-anchor="middle" >(g)</text>
<text transform="translate(1125.0 1512.4) scale(1.065 1)" font-size="29.5" text-anchor="end" >0.7 h</text>
<rect x="1158.3" y="1174.2" width="20.2" height="347.6" fill="url(#cbar)" stroke="#222" stroke-width="0.8" stroke-opacity="0.6"/>
<text transform="translate(1180.1 1182.4) scale(1.03 1)" font-size="19" text-anchor="start" >0.02</text>
<text transform="translate(1180.1 1269.3) scale(1.03 1)" font-size="19" text-anchor="start" >0.015</text>
<text transform="translate(1180.1 1356.2) scale(1.03 1)" font-size="19" text-anchor="start" >0.01</text>
<text transform="translate(1180.1 1443.1) scale(1.03 1)" font-size="19" text-anchor="start" >0.005</text>
<text transform="translate(1180.1 1530.0) scale(1.03 1)" font-size="19" text-anchor="start" >0</text>
<path d="M1155.8 1527.8l2.5 1.8" stroke="#333" stroke-width="1.6" fill="none"/>
<text x="1146.3" y="1156.0" font-size="25" text-anchor="start" textLength="102.5" lengthAdjust="spacingAndGlyphs">gradient</text>
<g transform="translate(734.9 1685.9)"><g clip-path="url(#clip_h)"><g filter="url(#jet_h)"><rect x="-20" y="-20" width="438" height="435" fill="#828282"/>
<g filter="url(#blur15)">
<ellipse cx="111.3" cy="106.7" rx="19.9" ry="15.8" fill="#5c5c5c"/>
<ellipse cx="218.7" cy="146.2" rx="23.9" ry="19.8" fill="#5c5c5c"/>
<ellipse cx="290.2" cy="165.9" rx="23.9" ry="23.7" fill="#5c5c5c"/>
<ellipse cx="39.8" cy="229.2" rx="27.8" ry="31.6" fill="#5c5c5c"/>
<ellipse cx="19.9" cy="308.2" rx="19.9" ry="31.6" fill="#5c5c5c"/>
<ellipse cx="178.9" cy="296.3" rx="23.9" ry="19.8" fill="#5c5c5c"/>
<ellipse cx="377.7" cy="197.5" rx="19.9" ry="31.6" fill="#5c5c5c"/>
<ellipse cx="99.4" cy="355.6" rx="23.9" ry="19.8" fill="#5c5c5c"/>
<ellipse cx="246.5" cy="245.0" rx="19.9" ry="15.8" fill="#5c5c5c"/>
<ellipse cx="338.0" cy="79.0" rx="15.9" ry="19.8" fill="#5c5c5c"/>
<ellipse cx="198.8" cy="79.0" rx="198.8" ry="79.0" fill="#8f8f8f"/>
</g>
<g filter="url(#blur07h)">
<path fill="#fff" d="M143.8 86.9a5.8 5.8 0 1 0 11.6 0a5.8 5.8 0 1 0 -11.6 0M271.6 219.4a5.8 5.8 0 1 0 11.6 0a5.8 5.8 0 1 0 -11.6 0M169.6 55.8a4.2 4.2 0 1 0 8.3 0a4.2 4.2 0 1 0 -8.3 0M259.1 247.2a3.6 3.6 0 1 0 7.3 0a3.6 3.6 0 1 0 -7.3 0M344.1 337.7a6.4 6.4 0 1 0 12.9 0a6.4 6.4 0 1 0 -12.9 0M37.5 267.4a6.3 6.3 0 1 0 12.5 0a6.3 6.3 0 1 0 -12.5 0M391.4 14.1a5.9 5.9 0 1 0 11.9 0a5.9 5.9 0 1 0 -11.9 0M110.5 52.1a6.2 6.2 0 1 0 12.3 0a6.2 6.2 0 1 0 -12.3 0M349.7 300.8a4.0 4.0 0 1 0 8.0 0a4.0 4.0 0 1 0 -8.0 0M383.5 91.4a6.2 6.2 0 1 0 12.4 0a6.2 6.2 0 1 0 -12.4 0M268.6 105.9a7.2 7.2 0 1 0 14.4 0a7.2 7.2 0 1 0 -14.4 0M263.6 18.5a4.1 4.1 0 1 0 8.2 0a4.1 4.1 0 1 0 -8.2 0M325.9 4.4a6.1 6.1 0 1 0 12.1 0a6.1 6.1 0 1 0 -12.1 0M197.5 259.1a6.6 6.6 0 1 0 13.3 0a6.6 6.6 0 1 0 -13.3 0M360.8 118.6a5.9 5.9 0 1 0 11.9 0a5.9 5.9 0 1 0 -11.9 0M330.3 349.1a4.7 4.7 0 1 0 9.4 0a4.7 4.7 0 1 0 -9.4 0M315.9 276.3a5.9 5.9 0 1 0 11.8 0a5.9 5.9 0 1 0 -11.8 0M374.4 331.5a6.4 6.4 0 1 0 12.7 0a6.4 6.4 0 1 0 -12.7 0M121.0 142.8a4.4 4.4 0 1 0 8.8 0a4.4 4.4 0 1 0 -8.8 0M347.3 203.2a5.6 5.6 0 1 0 11.2 0a5.6 5.6 0 1 0 -11.2 0M286.8 150.6a5.8 5.8 0 1 0 11.7 0a5.8 5.8 0 1 0 -11.7 0M283.6 70.0a6.5 6.5 0 1 0 13.0 0a6.5 6.5 0 1 0 -13.0 0M320.1 342.7a3.9 3.9 0 1 0 7.8 0a3.9 3.9 0 1 0 -7.8 0M146.6 19.5a6.2 6.2 0 1 0 12.4 0a6.2 6.2 0 1 0 -12.4 0M23.0 144.4a4.2 4.2 0 1 0 8.4 0a4.2 4.2 0 1 0 -8.4 0M50.7 28.8a7.1 7.1 0 1 0 14.2 0a7.1 7.1 0 1 0 -14.2 0M114.1 335.9a7.4 7.4 0 1 0 14.8 0a7.4 7.4 0 1 0 -14.8 0M363.5 388.1a6.6 6.6 0 1 0 13.2 0a6.6 6.6 0 1 0 -13.2 0M129.4 61.2a5.6 5.6 0 1 0 11.2 0a5.6 5.6 0 1 0 -11.2 0M353.0 190.9a5.6 5.6 0 1 0 11.3 0a5.6 5.6 0 1 0 -11.3 0M203.6 71.5a4.5 4.5 0 1 0 9.0 0a4.5 4.5 0 1 0 -9.0 0M337.5 103.3a7.5 7.5 0 1 0 15.0 0a7.5 7.5 0 1 0 -15.0 0M114.8 158.5a3.5 3.5 0 1 0 7.1 0a3.5 3.5 0 1 0 -7.1 0M252.7 88.1a7.3 7.3 0 1 0 14.6 0a7.3 7.3 0 1 0 -14.6 0M174.4 25.9a6.7 6.7 0 1 0 13.4 0a6.7 6.7 0 1 0 -13.4 0M388.2 308.4a5.8 5.8 0 1 0 11.5 0a5.8 5.8 0 1 0 -11.5 0M240.4 27.6a7.0 7.0 0 1 0 13.9 0a7.0 7.0 0 1 0 -13.9 0M206.9 150.3a7.3 7.3 0 1 0 14.6 0a7.3 7.3 0 1 0 -14.6 0M365.9 361.3a6.2 6.2 0 1 0 12.5 0a6.2 6.2 0 1 0 -12.5 0M53.7 332.8a4.6 4.6 0 1 0 9.1 0a4.6 4.6 0 1 0 -9.1 0M60.7 396.7a3.5 3.5 0 1 0 7.1 0a3.5 3.5 0 1 0 -7.1 0M189.7 25.8a6.6 6.6 0 1 0 13.3 0a6.6 6.6 0 1 0 -13.3 0M135.6 382.2a7.3 7.3 0 1 0 14.6 0a7.3 7.3 0 1 0 -14.6 0M296.4 68.7a4.5 4.5 0 1 0 9.0 0a4.5 4.5 0 1 0 -9.0 0M77.5 26.6a4.9 4.9 0 1 0 9.8 0a4.9 4.9 0 1 0 -9.8 0M186.3 134.5a4.1 4.1 0 1 0 8.2 0a4.1 4.1 0 1 0 -8.2 0M24.6 175.7a6.9 6.9 0 1 0 13.9 0a6.9 6.9 0 1 0 -13.9 0M82.9 134.4a4.5 4.5 0 1 0 9.1 0a4.5 4.5 0 1 0 -9.1 0M84.1 129.1a7.1 7.1 0 1 0 14.2 0a7.1 7.1 0 1 0 -14.2 0M195.1 86.4a5.1 5.1 0 1 0 10.2 0a5.1 5.1 0 1 0 -10.2 0M41.5 383.5a4.5 4.5 0 1 0 9.0 0a4.5 4.5 0 1 0 -9.0 0M107.3 155.1a4.7 4.7 0 1 0 9.4 0a4.7 4.7 0 1 0 -9.4 0M359.1 68.3a3.6 3.6 0 1 0 7.3 0a3.6 3.6 0 1 0 -7.3 0M209.5 185.0a6.2 6.2 0 1 0 12.4 0a6.2 6.2 0 1 0 -12.4 0M22.7 52.9a6.7 6.7 0 1 0 13.4 0a6.7 6.7 0 1 0 -13.4 0M260.3 246.8a5.3 5.3 0 1 0 10.7 0a5.3 5.3 0 1 0 -10.7 0M221.5 2.1a6.7 6.7 0 1 0 13.5 0a6.7 6.7 0 1 0 -13.5 0M277.7 180.5a6.4 6.4 0 1 0 12.8 0a6.4 6.4 0 1 0 -12.8 0M250.2 399.1a5.6 5.6 0 1 0 11.3 0a5.6 5.6 0 1 0 -11.3 0M29.4 249.5a5.9 5.9 0 1 0 11.9 0a5.9 5.9 0 1 0 -11.9 0M267.8 67.9a7.4 7.4 0 1 0 14.9 0a7.4 7.4 0 1 0 -14.9 0M370.0 98.8a6.8 6.8 0 1 0 13.5 0a6.8 6.8 0 1 0 -13.5 0M-14.9 7.4a7.5 7.5 0 1 0 15.0 0a7.5 7.5 0 1 0 -15.0 0M275.2 100.7a6.1 6.1 0 1 0 12.1 0a6.1 6.1 0 1 0 -12.1 0M298.3 68.4a7.3 7.3 0 1 0 14.6 0a7.3 7.3 0 1 0 -14.6 0M267.1 80.3a4.6 4.6 0 1 0 9.3 0a4.6 4.6 0 1 0 -9.3 0M201.4 335.0a6.5 6.5 0 1 0 13.0 0a6.5 6.5 0 1 0 -13.0 0M387.0 128.7a4.7 4.7 0 1 0 9.4 0a4.7 4.7 0 1 0 -9.4 0M156.3 37.0a7.2 7.2 0 1 0 14.3 0a7.2 7.2 0 1 0 -14.3 0M121.0 239.3a4.8 4.8 0 1 0 9.7 0a4.8 4.8 0 1 0 -9.7 0M396.7 267.7a6.6 6.6 0 1 0 13.3 0a6.6 6.6 0 1 0 -13.3 0M224.1 365.5a5.9 5.9 0 1 0 11.8 0a5.9 5.9 0 1 0 -11.8 0M288.6 315.9a6.0 6.0 0 1 0 12.1 0a6.0 6.0 0 1 0 -12.1 0M158.1 -7.1a5.7 5.7 0 1 0 11.4 0a5.7 5.7 0 1 0 -11.4 0M153.9 217.1a3.8 3.8 0 1 0 7.5 0a3.8 3.8 0 1 0 -7.5 0M227.2 95.3a7.2 7.2 0 1 0 14.4 0a7.2 7.2 0 1 0 -14.4 0M357.1 78.4a4.4 4.4 0 1 0 8.8 0a4.4 4.4 0 1 0 -8.8 0M100.8 355.0a5.4 5.4 0 1 0 10.8 0a5.4 5.4 0 1 0 -10.8 0M276.9 165.8a6.5 6.5 0 1 0 13.0 0a6.5 6.5 0 1 0 -13.0 0M-9.0 77.3a5.5 5.5 0 1 0 11.1 0a5.5 5.5 0 1 0 -11.1 0M228.1 134.3a4.2 4.2 0 1 0 8.4 0a4.2 4.2 0 1 0 -8.4 0M325.5 325.7a6.3 6.3 0 1 0 12.6 0a6.3 6.3 0 1 0 -12.6 0M154.4 169.9a7.4 7.4 0 1 0 14.7 0a7.4 7.4 0 1 0 -14.7 0M149.4 251.9a4.2 4.2 0 1 0 8.4 0a4.2 4.2 0 1 0 -8.4 0M373.5 64.0a4.0 4.0 0 1 0 7.9 0a4.0 4.0 0 1 0 -7.9 0M141.9 79.5a6.7 6.7 0 1 0 13.4 0a6.7 6.7 0 1 0 -13.4 0M298.8 4.4a6.4 6.4 0 1 0 12.9 0a6.4 6.4 0 1 0 -12.9 0M301.6 63.6a5.9 5.9 0 1 0 11.9 0a5.9 5.9 0 1 0 -11.9 0M229.9 376.5a4.2 4.2 0 1 0 8.4 0a4.2 4.2 0 1 0 -8.4 0M228.4 129.5a7.3 7.3 0 1 0 14.6 0a7.3 7.3 0 1 0 -14.6 0M121.2 120.4a6.5 6.5 0 1 0 13.0 0a6.5 6.5 0 1 0 -13.0 0M377.3 78.3a4.9 4.9 0 1 0 9.8 0a4.9 4.9 0 1 0 -9.8 0M168.3 223.9a6.4 6.4 0 1 0 12.7 0a6.4 6.4 0 1 0 -12.7 0M10.2 216.2a3.6 3.6 0 1 0 7.2 0a3.6 3.6 0 1 0 -7.2 0M197.7 386.9a6.1 6.1 0 1 0 12.2 0a6.1 6.1 0 1 0 -12.2 0M194.9 385.1a5.4 5.4 0 1 0 10.7 0a5.4 5.4 0 1 0 -10.7 0M393.8 312.2a6.8 6.8 0 1 0 13.6 0a6.8 6.8 0 1 0 -13.6 0M144.0 75.8a5.3 5.3 0 1 0 10.5 0a5.3 5.3 0 1 0 -10.5 0M120.3 379.3a5.5 5.5 0 1 0 11.0 0a5.5 5.5 0 1 0 -11.0 0M384.8 247.2a4.2 4.2 0 1 0 8.3 0a4.2 4.2 0 1 0 -8.3 0M79.6 243.6a7.3 7.3 0 1 0 14.6 0a7.3 7.3 0 1 0 -14.6 0M79.0 194.4a4.4 4.4 0 1 0 8.8 0a4.4 4.4 0 1 0 -8.8 0M78.2 245.5a5.5 5.5 0 1 0 11.0 0a5.5 5.5 0 1 0 -11.0 0M209.1 58.8a5.4 5.4 0 1 0 10.7 0a5.4 5.4 0 1 0 -10.7 0M188.4 82.2a5.8 5.8 0 1 0 11.5 0a5.8 5.8 0 1 0 -11.5 0M365.0 350.9a4.6 4.6 0 1 0 9.2 0a4.6 4.6 0 1 0 -9.2 0M128.0 203.3a5.3 5.3 0 1 0 10.5 0a5.3 5.3 0 1 0 -10.5 0M29.1 396.3a7.5 7.5 0 1 0 14.9 0a7.5 7.5 0 1 0 -14.9 0M262.2 78.8a4.9 4.9 0 1 0 9.9 0a4.9 4.9 0 1 0 -9.9 0M337.9 290.2a5.1 5.1 0 1 0 10.1 0a5.1 5.1 0 1 0 -10.1 0M108.6 151.5a6.9 6.9 0 1 0 13.7 0a6.9 6.9 0 1 0 -13.7 0M306.0 35.2a6.7 6.7 0 1 0 13.5 0a6.7 6.7 0 1 0 -13.5 0M17.4 301.9a5.3 5.3 0 1 0 10.6 0a5.3 5.3 0 1 0 -10.6 0M395.7 400.9a4.8 4.8 0 1 0 9.6 0a4.8 4.8 0 1 0 -9.6 0M205.3 117.2a6.8 6.8 0 1 0 13.6 0a6.8 6.8 0 1 0 -13.6 0M301.6 20.7a6.0 6.0 0 1 0 12.1 0a6.0 6.0 0 1 0 -12.1 0M31.2 175.0a5.9 5.9 0 1 0 11.8 0a5.9 5.9 0 1 0 -11.8 0M50.0 24.7a4.0 4.0 0 1 0 7.9 0a4.0 4.0 0 1 0 -7.9 0M51.9 136.1a4.4 4.4 0 1 0 8.8 0a4.4 4.4 0 1 0 -8.8 0M292.5 51.8a5.4 5.4 0 1 0 10.8 0a5.4 5.4 0 1 0 -10.8 0M178.2 140.8a4.7 4.7 0 1 0 9.4 0a4.7 4.7 0 1 0 -9.4 0M169.6 242.0a3.8 3.8 0 1 0 7.5 0a3.8 3.8 0 1 0 -7.5 0M307.6 151.8a7.0 7.0 0 1 0 14.0 0a7.0 7.0 0 1 0 -14.0 0M147.2 116.9a7.2 7.2 0 1 0 14.3 0a7.2 7.2 0 1 0 -14.3 0M361.6 395.4a5.4 5.4 0 1 0 10.9 0a5.4 5.4 0 1 0 -10.9 0M117.5 353.0a3.8 3.8 0 1 0 7.5 0a3.8 3.8 0 1 0 -7.5 0M95.7 131.1a6.9 6.9 0 1 0 13.8 0a6.9 6.9 0 1 0 -13.8 0M241.4 102.0a5.3 5.3 0 1 0 10.6 0a5.3 5.3 0 1 0 -10.6 0M37.6 205.2a4.3 4.3 0 1 0 8.7 0a4.3 4.3 0 1 0 -8.7 0M381.4 175.8a4.1 4.1 0 1 0 8.1 0a4.1 4.1 0 1 0 -8.1 0M366.5 377.3a6.4 6.4 0 1 0 12.7 0a6.4 6.4 0 1 0 -12.7 0M198.0 49.2a6.6 6.6 0 1 0 13.2 0a6.6 6.6 0 1 0 -13.2 0M122.8 9.2a5.0 5.0 0 1 0 10.1 0a5.0 5.0 0 1 0 -10.1 0M359.2 54.2a5.9 5.9 0 1 0 11.8 0a5.9 5.9 0 1 0 -11.8 0M174.3 74.6a4.2 4.2 0 1 0 8.5 0a4.2 4.2 0 1 0 -8.5 0M178.1 238.6a3.9 3.9 0 1 0 7.9 0a3.9 3.9 0 1 0 -7.9 0M179.9 340.7a5.5 5.5 0 1 0 11.0 0a5.5 5.5 0 1 0 -11.0 0M292.1 284.5a4.3 4.3 0 1 0 8.6 0a4.3 4.3 0 1 0 -8.6 0M349.2 32.5a6.3 6.3 0 1 0 12.5 0a6.3 6.3 0 1 0 -12.5 0M227.9 189.5a6.1 6.1 0 1 0 12.3 0a6.1 6.1 0 1 0 -12.3 0M367.4 44.3a4.7 4.7 0 1 0 9.3 0a4.7 4.7 0 1 0 -9.3 0M291.0 354.5a5.1 5.1 0 1 0 10.3 0a5.1 5.1 0 1 0 -10.3 0M155.9 179.0a3.8 3.8 0 1 0 7.6 0a3.8 3.8 0 1 0 -7.6 0M164.5 53.1a6.2 6.2 0 1 0 12.3 0a6.2 6.2 0 1 0 -12.3 0M64.9 132.0a6.8 6.8 0 1 0 13.5 0a6.8 6.8 0 1 0 -13.5 0M76.0 85.5a4.7 4.7 0 1 0 9.3 0a4.7 4.7 0 1 0 -9.3 0M193.6 227.1a5.0 5.0 0 1 0 10.0 0a5.0 5.0 0 1 0 -10.0 0M201.5 257.1a4.4 4.4 0 1 0 8.8 0a4.4 4.4 0 1 0 -8.8 0M279.1 345.4a4.1 4.1 0 1 0 8.3 0a4.1 4.1 0 1 0 -8.3 0M203.5 243.9a4.5 4.5 0 1 0 9.1 0a4.5 4.5 0 1 0 -9.1 0M132.5 213.5a4.6 4.6 0 1 0 9.2 0a4.6 4.6 0 1 0 -9.2 0M329.0 401.6a3.9 3.9 0 1 0 7.8 0a3.9 3.9 0 1 0 -7.8 0M5.1 42.1a6.4 6.4 0 1 0 12.8 0a6.4 6.4 0 1 0 -12.8 0M47.7 166.0a5.4 5.4 0 1 0 10.9 0a5.4 5.4 0 1 0 -10.9 0M275.9 219.4a5.5 5.5 0 1 0 11.0 0a5.5 5.5 0 1 0 -11.0 0M260.0 112.3a3.6 3.6 0 1 0 7.2 0a3.6 3.6 0 1 0 -7.2 0M346.9 63.4a4.2 4.2 0 1 0 8.3 0a4.2 4.2 0 1 0 -8.3 0M247.7 254.6a4.4 4.4 0 1 0 8.9 0a4.4 4.4 0 1 0 -8.9 0M56.2 127.1a3.6 3.6 0 1 0 7.3 0a3.6 3.6 0 1 0 -7.3 0M91.7 327.7a5.4 5.4 0 1 0 10.8 0a5.4 5.4 0 1 0 -10.8 0M-6.2 87.4a3.9 3.9 0 1 0 7.8 0a3.9 3.9 0 1 0 -7.8 0M355.4 300.1a4.9 4.9 0 1 0 9.8 0a4.9 4.9 0 1 0 -9.8 0M323.3 102.3a5.5 5.5 0 1 0 11.1 0a5.5 5.5 0 1 0 -11.1 0M138.0 81.4a6.1 6.1 0 1 0 12.3 0a6.1 6.1 0 1 0 -12.3 0M218.0 68.0a3.6 3.6 0 1 0 7.1 0a3.6 3.6 0 1 0 -7.1 0M302.2 223.3a7.2 7.2 0 1 0 14.4 0a7.2 7.2 0 1 0 -14.4 0M205.4 384.7a3.8 3.8 0 1 0 7.6 0a3.8 3.8 0 1 0 -7.6 0M298.0 113.8a5.3 5.3 0 1 0 10.6 0a5.3 5.3 0 1 0 -10.6 0M25.8 133.1a3.8 3.8 0 1 0 7.6 0a3.8 3.8 0 1 0 -7.6 0M225.6 90.4a6.2 6.2 0 1 0 12.4 0a6.2 6.2 0 1 0 -12.4 0M325.8 213.4a4.6 4.6 0 1 0 9.3 0a4.6 4.6 0 1 0 -9.3 0M227.8 365.7a3.6 3.6 0 1 0 7.1 0a3.6 3.6 0 1 0 -7.1 0M12.7 116.1a5.1 5.1 0 1 0 10.1 0a5.1 5.1 0 1 0 -10.1 0M191.7 109.1a4.7 4.7 0 1 0 9.3 0a4.7 4.7 0 1 0 -9.3 0M386.2 132.2a6.8 6.8 0 1 0 13.6 0a6.8 6.8 0 1 0 -13.6 0M206.8 378.7a4.6 4.6 0 1 0 9.2 0a4.6 4.6 0 1 0 -9.2 0M272.9 347.3a5.9 5.9 0 1 0 11.9 0a5.9 5.9 0 1 0 -11.9 0M201.5 317.6a4.5 4.5 0 1 0 8.9 0a4.5 4.5 0 1 0 -8.9 0M38.4 32.6a3.9 3.9 0 1 0 7.8 0a3.9 3.9 0 1 0 -7.8 0M387.8 194.8a4.5 4.5 0 1 0 9.1 0a4.5 4.5 0 1 0 -9.1 0M400.4 46.0a3.6 3.6 0 1 0 7.1 0a3.6 3.6 0 1 0 -7.1 0M63.9 201.3a5.4 5.4 0 1 0 10.8 0a5.4 5.4 0 1 0 -10.8 0M392.0 256.5a3.9 3.9 0 1 0 7.8 0a3.9 3.9 0 1 0 -7.8 0M19.0 353.5a7.3 7.3 0 1 0 14.5 0a7.3 7.3 0 1 0 -14.5 0M117.4 252.2a6.0 6.0 0 1 0 12.1 0a6.0 6.0 0 1 0 -12.1 0M230.1 314.6a4.5 4.5 0 1 0 9.1 0a4.5 4.5 0 1 0 -9.1 0M171.6 249.8a6.3 6.3 0 1 0 12.7 0a6.3 6.3 0 1 0 -12.7 0M66.3 200.9a5.3 5.3 0 1 0 10.6 0a5.3 5.3 0 1 0 -10.6 0M87.9 159.3a4.3 4.3 0 1 0 8.5 0a4.3 4.3 0 1 0 -8.5 0M248.4 -4.8a6.8 6.8 0 1 0 13.6 0a6.8 6.8 0 1 0 -13.6 0M213.6 27.0a6.6 6.6 0 1 0 13.3 0a6.6 6.6 0 1 0 -13.3 0M303.8 149.6a6.6 6.6 0 1 0 13.2 0a6.6 6.6 0 1 0 -13.2 0M50.1 4.3a4.0 4.0 0 1 0 8.0 0a4.0 4.0 0 1 0 -8.0 0M349.6 337.9a4.1 4.1 0 1 0 8.2 0a4.1 4.1 0 1 0 -8.2 0M121.3 166.1a4.4 4.4 0 1 0 8.7 0a4.4 4.4 0 1 0 -8.7 0M212.9 96.4a6.3 6.3 0 1 0 12.6 0a6.3 6.3 0 1 0 -12.6 0M53.0 104.2a4.3 4.3 0 1 0 8.6 0a4.3 4.3 0 1 0 -8.6 0M184.4 119.9a6.7 6.7 0 1 0 13.3 0a6.7 6.7 0 1 0 -13.3 0M113.0 224.7a7.0 7.0 0 1 0 14.1 0a7.0 7.0 0 1 0 -14.1 0M381.5 -7.3a7.5 7.5 0 1 0 15.0 0a7.5 7.5 0 1 0 -15.0 0M315.1 119.6a5.9 5.9 0 1 0 11.8 0a5.9 5.9 0 1 0 -11.8 0M157.4 186.2a4.0 4.0 0 1 0 7.9 0a4.0 4.0 0 1 0 -7.9 0M132.3 36.2a6.4 6.4 0 1 0 12.8 0a6.4 6.4 0 1 0 -12.8 0M243.3 83.6a5.6 5.6 0 1 0 11.1 0a5.6 5.6 0 1 0 -11.1 0M227.7 287.2a4.5 4.5 0 1 0 9.0 0a4.5 4.5 0 1 0 -9.0 0M236.2 45.4a4.6 4.6 0 1 0 9.2 0a4.6 4.6 0 1 0 -9.2 0M137.7 234.4a4.5 4.5 0 1 0 9.0 0a4.5 4.5 0 1 0 -9.0 0M327.6 331.4a6.4 6.4 0 1 0 12.8 0a6.4 6.4 0 1 0 -12.8 0M271.9 172.9a3.7 3.7 0 1 0 7.5 0a3.7 3.7 0 1 0 -7.5 0M269.6 101.0a5.2 5.2 0 1 0 10.5 0a5.2 5.2 0 1 0 -10.5 0M-14.1 111.0a6.4 6.4 0 1 0 12.8 0a6.4 6.4 0 1 0 -12.8 0M88.3 60.6a7.0 7.0 0 1 0 13.9 0a7.0 7.0 0 1 0 -13.9 0M284.9 247.4a5.9 5.9 0 1 0 11.8 0a5.9 5.9 0 1 0 -11.8 0M174.7 135.0a5.8 5.8 0 1 0 11.6 0a5.8 5.8 0 1 0 -11.6 0M97.4 35.9a6.1 6.1 0 1 0 12.2 0a6.1 6.1 0 1 0 -12.2 0M-12.0 357.3a7.2 7.2 0 1 0 14.5 0a7.2 7.2 0 1 0 -14.5 0M346.8 86.4a7.0 7.0 0 1 0 14.0 0a7.0 7.0 0 1 0 -14.0 0M292.1 353.3a6.0 6.0 0 1 0 12.0 0a6.0 6.0 0 1 0 -12.0 0M53.3 77.4a6.9 6.9 0 1 0 13.9 0a6.9 6.9 0 1 0 -13.9 0M167.0 348.8a7.5 7.5 0 1 0 14.9 0a7.5 7.5 0 1 0 -14.9 0M110.8 13.7a5.6 5.6 0 1 0 11.2 0a5.6 5.6 0 1 0 -11.2 0M356.9 312.0a6.4 6.4 0 1 0 12.9 0a6.4 6.4 0 1 0 -12.9 0M72.4 202.0a5.7 5.7 0 1 0 11.4 0a5.7 5.7 0 1 0 -11.4 0M60.4 -3.9a6.9 6.9 0 1 0 13.9 0a6.9 6.9 0 1 0 -13.9 0M301.5 39.7a3.6 3.6 0 1 0 7.3 0a3.6 3.6 0 1 0 -7.3 0M257.6 330.1a3.7 3.7 0 1 0 7.4 0a3.7 3.7 0 1 0 -7.4 0M299.1 57.0a7.5 7.5 0 1 0 15.0 0a7.5 7.5 0 1 0 -15.0 0M196.4 167.4a7.2 7.2 0 1 0 14.3 0a7.2 7.2 0 1 0 -14.3 0M23.7 392.2a6.6 6.6 0 1 0 13.3 0a6.6 6.6 0 1 0 -13.3 0M159.0 143.8a3.8 3.8 0 1 0 7.7 0a3.8 3.8 0 1 0 -7.7 0M328.6 153.3a6.9 6.9 0 1 0 13.7 0a6.9 6.9 0 1 0 -13.7 0M11.4 60.2a6.3 6.3 0 1 0 12.7 0a6.3 6.3 0 1 0 -12.7 0M175.8 179.7a5.7 5.7 0 1 0 11.4 0a5.7 5.7 0 1 0 -11.4 0M256.3 -5.3a3.6 3.6 0 1 0 7.1 0a3.6 3.6 0 1 0 -7.1 0M119.2 159.1a7.4 7.4 0 1 0 14.8 0a7.4 7.4 0 1 0 -14.8 0M221.8 44.9a6.6 6.6 0 1 0 13.2 0a6.6 6.6 0 1 0 -13.2 0M312.4 166.7a4.3 4.3 0 1 0 8.6 0a4.3 4.3 0 1 0 -8.6 0M199.1 35.4a4.4 4.4 0 1 0 8.8 0a4.4 4.4 0 1 0 -8.8 0M153.0 229.4a5.6 5.6 0 1 0 11.2 0a5.6 5.6 0 1 0 -11.2 0M15.9 137.4a6.0 6.0 0 1 0 12.1 0a6.0 6.0 0 1 0 -12.1 0M137.3 194.0a3.6 3.6 0 1 0 7.1 0a3.6 3.6 0 1 0 -7.1 0M196.7 243.3a6.9 6.9 0 1 0 13.8 0a6.9 6.9 0 1 0 -13.8 0M104.9 357.7a7.1 7.1 0 1 0 14.3 0a7.1 7.1 0 1 0 -14.3 0M307.7 57.5a6.4 6.4 0 1 0 12.8 0a6.4 6.4 0 1 0 -12.8 0M137.1 225.9a5.5 5.5 0 1 0 10.9 0a5.5 5.5 0 1 0 -10.9 0M144.5 236.3a6.2 6.2 0 1 0 12.4 0a6.2 6.2 0 1 0 -12.4 0M355.2 159.9a6.4 6.4 0 1 0 12.9 0a6.4 6.4 0 1 0 -12.9 0M7.3 243.4a6.1 6.1 0 1 0 12.1 0a6.1 6.1 0 1 0 -12.1 0M93.0 51.5a5.0 5.0 0 1 0 10.0 0a5.0 5.0 0 1 0 -10.0 0M152.7 78.4a6.0 6.0 0 1 0 12.1 0a6.0 6.0 0 1 0 -12.1 0M361.5 17.9a7.3 7.3 0 1 0 14.6 0a7.3 7.3 0 1 0 -14.6 0M296.5 100.2a4.1 4.1 0 1 0 8.2 0a4.1 4.1 0 1 0 -8.2 0M98.1 292.5a4.0 4.0 0 1 0 8.0 0a4.0 4.0 0 1 0 -8.0 0M-11.2 176.9a5.2 5.2 0 1 0 10.5 0a5.2 5.2 0 1 0 -10.5 0M331.6 271.0a3.9 3.9 0 1 0 7.7 0a3.9 3.9 0 1 0 -7.7 0M356.8 34.1a7.3 7.3 0 1 0 14.6 0a7.3 7.3 0 1 0 -14.6 0M261.8 294.8a5.1 5.1 0 1 0 10.1 0a5.1 5.1 0 1 0 -10.1 0M307.5 206.8a4.5 4.5 0 1 0 9.0 0a4.5 4.5 0 1 0 -9.0 0M56.9 360.2a4.0 4.0 0 1 0 8.0 0a4.0 4.0 0 1 0 -8.0 0M188.6 156.7a5.5 5.5 0 1 0 11.1 0a5.5 5.5 0 1 0 -11.1 0M336.5 -2.1a6.3 6.3 0 1 0 12.6 0a6.3 6.3 0 1 0 -12.6 0M313.2 272.6a6.0 6.0 0 1 0 11.9 0a6.0 6.0 0 1 0 -11.9 0M54.5 88.7a5.9 5.9 0 1 0 11.7 0a5.9 5.9 0 1 0 -11.7 0M395.8 324.2a7.4 7.4 0 1 0 14.8 0a7.4 7.4 0 1 0 -14.8 0M64.6 398.9a6.5 6.5 0 1 0 13.0 0a6.5 6.5 0 1 0 -13.0 0M154.9 386.0a7.4 7.4 0 1 0 14.8 0a7.4 7.4 0 1 0 -14.8 0M110.6 17.3a4.4 4.4 0 1 0 8.8 0a4.4 4.4 0 1 0 -8.8 0M103.3 215.3a4.2 4.2 0 1 0 8.5 0a4.2 4.2 0 1 0 -8.5 0M281.3 60.2a5.4 5.4 0 1 0 10.8 0a5.4 5.4 0 1 0 -10.8 0M367.8 191.6a4.2 4.2 0 1 0 8.4 0a4.2 4.2 0 1 0 -8.4 0M32.9 230.9a3.5 3.5 0 1 0 7.1 0a3.5 3.5 0 1 0 -7.1 0M302.3 321.0a4.8 4.8 0 1 0 9.5 0a4.8 4.8 0 1 0 -9.5 0M360.7 6.4a6.6 6.6 0 1 0 13.2 0a6.6 6.6 0 1 0 -13.2 0M7.0 302.8a7.2 7.2 0 1 0 14.3 0a7.2 7.2 0 1 0 -14.3 0M85.3 0.1a6.1 6.1 0 1 0 12.1 0a6.1 6.1 0 1 0 -12.1 0M-7.8 260.5a7.3 7.3 0 1 0 14.6 0a7.3 7.3 0 1 0 -14.6 0M9.3 122.2a6.4 6.4 0 1 0 12.9 0a6.4 6.4 0 1 0 -12.9 0M112.5 137.3a5.2 5.2 0 1 0 10.4 0a5.2 5.2 0 1 0 -10.4 0M260.6 56.9a7.1 7.1 0 1 0 14.3 0a7.1 7.1 0 1 0 -14.3 0M177.6 110.3a4.7 4.7 0 1 0 9.4 0a4.7 4.7 0 1 0 -9.4 0M28.7 201.0a6.2 6.2 0 1 0 12.3 0a6.2 6.2 0 1 0 -12.3 0M179.6 232.0a6.1 6.1 0 1 0 12.2 0a6.1 6.1 0 1 0 -12.2 0M387.7 -5.1a4.4 4.4 0 1 0 8.7 0a4.4 4.4 0 1 0 -8.7 0M212.4 396.4a6.9 6.9 0 1 0 13.8 0a6.9 6.9 0 1 0 -13.8 0M165.5 117.4a5.0 5.0 0 1 0 10.1 0a5.0 5.0 0 1 0 -10.1 0M156.4 170.0a5.0 5.0 0 1 0 10.0 0a5.0 5.0 0 1 0 -10.0 0M253.7 299.8a5.6 5.6 0 1 0 11.2 0a5.6 5.6 0 1 0 -11.2 0M66.9 111.8a5.1 5.1 0 1 0 10.1 0a5.1 5.1 0 1 0 -10.1 0M203.9 170.5a5.1 5.1 0 1 0 10.2 0a5.1 5.1 0 1 0 -10.2 0M170.7 280.1a7.2 7.2 0 1 0 14.4 0a7.2 7.2 0 1 0 -14.4 0M120.6 85.9a5.5 5.5 0 1 0 10.9 0a5.5 5.5 0 1 0 -10.9 0M120.2 159.1a5.5 5.5 0 1 0 11.1 0a5.5 5.5 0 1 0 -11.1 0M258.8 348.9a4.7 4.7 0 1 0 9.4 0a4.7 4.7 0 1 0 -9.4 0M163.5 236.6a5.7 5.7 0 1 0 11.5 0a5.7 5.7 0 1 0 -11.5 0M115.8 178.8a6.4 6.4 0 1 0 12.8 0a6.4 6.4 0 1 0 -12.8 0M121.2 274.9a4.3 4.3 0 1 0 8.6 0a4.3 4.3 0 1 0 -8.6 0M140.9 10.5a5.2 5.2 0 1 0 10.4 0a5.2 5.2 0 1 0 -10.4 0M76.9 184.6a5.6 5.6 0 1 0 11.2 0a5.6 5.6 0 1 0 -11.2 0M200.9 37.4a4.6 4.6 0 1 0 9.2 0a4.6 4.6 0 1 0 -9.2 0M308.2 -4.8a7.3 7.3 0 1 0 14.6 0a7.3 7.3 0 1 0 -14.6 0M329.5 296.7a6.6 6.6 0 1 0 13.2 0a6.6 6.6 0 1 0 -13.2 0M395.7 105.0a6.4 6.4 0 1 0 12.8 0a6.4 6.4 0 1 0 -12.8 0M263.8 228.4a6.4 6.4 0 1 0 12.7 0a6.4 6.4 0 1 0 -12.7 0M217.7 51.2a4.3 4.3 0 1 0 8.7 0a4.3 4.3 0 1 0 -8.7 0M75.5 22.0a4.1 4.1 0 1 0 8.1 0a4.1 4.1 0 1 0 -8.1 0M76.5 170.5a4.3 4.3 0 1 0 8.7 0a4.3 4.3 0 1 0 -8.7 0M255.1 364.5a6.3 6.3 0 1 0 12.5 0a6.3 6.3 0 1 0 -12.5 0M132.9 52.0a4.8 4.8 0 1 0 9.5 0a4.8 4.8 0 1 0 -9.5 0M55.0 318.0a6.1 6.1 0 1 0 12.2 0a6.1 6.1 0 1 0 -12.2 0M230.7 388.2a4.4 4.4 0 1 0 8.8 0a4.4 4.4 0 1 0 -8.8 0M138.5 172.4a5.5 5.5 0 1 0 11.1 0a5.5 5.5 0 1 0 -11.1 0M145.3 141.1a7.2 7.2 0 1 0 14.3 0a7.2 7.2 0 1 0 -14.3 0M137.7 65.9a5.4 5.4 0 1 0 10.7 0a5.4 5.4 0 1 0 -10.7 0M13.8 347.8a5.3 5.3 0 1 0 10.6 0a5.3 5.3 0 1 0 -10.6 0M284.8 7.1a6.3 6.3 0 1 0 12.7 0a6.3 6.3 0 1 0 -12.7 0M126.4 207.2a6.0 6.0 0 1 0 12.0 0a6.0 6.0 0 1 0 -12.0 0M26.5 101.4a6.5 6.5 0 1 0 12.9 0a6.5 6.5 0 1 0 -12.9 0M182.7 240.4a5.3 5.3 0 1 0 10.6 0a5.3 5.3 0 1 0 -10.6 0M135.4 208.5a4.5 4.5 0 1 0 9.0 0a4.5 4.5 0 1 0 -9.0 0M274.6 27.0a3.6 3.6 0 1 0 7.2 0a3.6 3.6 0 1 0 -7.2 0M250.6 199.8a3.6 3.6 0 1 0 7.2 0a3.6 3.6 0 1 0 -7.2 0M76.7 294.1a6.8 6.8 0 1 0 13.7 0a6.8 6.8 0 1 0 -13.7 0M56.3 27.9a6.2 6.2 0 1 0 12.4 0a6.2 6.2 0 1 0 -12.4 0M286.2 262.7a4.3 4.3 0 1 0 8.5 0a4.3 4.3 0 1 0 -8.5 0M350.1 104.3a3.9 3.9 0 1 0 7.8 0a3.9 3.9 0 1 0 -7.8 0M72.1 327.0a3.8 3.8 0 1 0 7.6 0a3.8 3.8 0 1 0 -7.6 0M131.3 294.7a6.3 6.3 0 1 0 12.6 0a6.3 6.3 0 1 0 -12.6 0M59.2 256.4a5.8 5.8 0 1 0 11.7 0a5.8 5.8 0 1 0 -11.7 0M342.0 278.4a7.5 7.5 0 1 0 15.0 0a7.5 7.5 0 1 0 -15.0 0M38.7 64.8a6.8 6.8 0 1 0 13.6 0a6.8 6.8 0 1 0 -13.6 0M73.4 354.6a5.6 5.6 0 1 0 11.1 0a5.6 5.6 0 1 0 -11.1 0M114.1 354.1a6.8 6.8 0 1 0 13.7 0a6.8 6.8 0 1 0 -13.7 0M134.8 61.6a6.8 6.8 0 1 0 13.5 0a6.8 6.8 0 1 0 -13.5 0M249.2 69.7a6.2 6.2 0 1 0 12.4 0a6.2 6.2 0 1 0 -12.4 0M311.9 382.7a4.9 4.9 0 1 0 9.7 0a4.9 4.9 0 1 0 -9.7 0M49.0 158.8a5.1 5.1 0 1 0 10.1 0a5.1 5.1 0 1 0 -10.1 0M360.4 84.7a6.7 6.7 0 1 0 13.5 0a6.7 6.7 0 1 0 -13.5 0M170.4 181.1a6.0 6.0 0 1 0 12.0 0a6.0 6.0 0 1 0 -12.0 0M142.2 384.9a4.3 4.3 0 1 0 8.5 0a4.3 4.3 0 1 0 -8.5 0M239.4 274.0a6.4 6.4 0 1 0 12.8 0a6.4 6.4 0 1 0 -12.8 0M214.3 198.7a6.2 6.2 0 1 0 12.5 0a6.2 6.2 0 1 0 -12.5 0M276.2 171.2a4.8 4.8 0 1 0 9.7 0a4.8 4.8 0 1 0 -9.7 0M56.6 221.1a3.5 3.5 0 1 0 7.0 0a3.5 3.5 0 1 0 -7.0 0M263.9 275.0a4.2 4.2 0 1 0 8.4 0a4.2 4.2 0 1 0 -8.4 0M82.3 203.4a6.6 6.6 0 1 0 13.2 0a6.6 6.6 0 1 0 -13.2 0M187.1 194.0a4.1 4.1 0 1 0 8.1 0a4.1 4.1 0 1 0 -8.1 0M177.8 102.6a5.2 5.2 0 1 0 10.3 0a5.2 5.2 0 1 0 -10.3 0M375.9 138.8a5.9 5.9 0 1 0 11.9 0a5.9 5.9 0 1 0 -11.9 0M4.3 21.7a5.5 5.5 0 1 0 10.9 0a5.5 5.5 0 1 0 -10.9 0M203.5 -7.5a5.4 5.4 0 1 0 10.9 0a5.4 5.4 0 1 0 -10.9 0M272.1 58.4a5.8 5.8 0 1 0 11.5 0a5.8 5.8 0 1 0 -11.5 0M336.9 54.4a5.5 5.5 0 1 0 11.1 0a5.5 5.5 0 1 0 -11.1 0M267.1 31.0a4.2 4.2 0 1 0 8.5 0a4.2 4.2 0 1 0 -8.5 0M332.5 105.4a3.9 3.9 0 1 0 7.7 0a3.9 3.9 0 1 0 -7.7 0M339.0 358.7a4.1 4.1 0 1 0 8.2 0a4.1 4.1 0 1 0 -8.2 0M303.1 70.9a5.6 5.6 0 1 0 11.1 0a5.6 5.6 0 1 0 -11.1 0M75.4 228.9a5.9 5.9 0 1 0 11.7 0a5.9 5.9 0 1 0 -11.7 0M66.7 229.5a6.6 6.6 0 1 0 13.1 0a6.6 6.6 0 1 0 -13.1 0M244.3 321.5a7.1 7.1 0 1 0 14.2 0a7.1 7.1 0 1 0 -14.2 0M87.1 158.4a4.3 4.3 0 1 0 8.6 0a4.3 4.3 0 1 0 -8.6 0M338.6 23.9a6.8 6.8 0 1 0 13.7 0a6.8 6.8 0 1 0 -13.7 0M131.0 95.6a5.1 5.1 0 1 0 10.2 0a5.1 5.1 0 1 0 -10.2 0M181.5 127.2a7.1 7.1 0 1 0 14.2 0a7.1 7.1 0 1 0 -14.2 0M258.0 307.9a4.8 4.8 0 1 0 9.7 0a4.8 4.8 0 1 0 -9.7 0M6.9 112.7a6.5 6.5 0 1 0 12.9 0a6.5 6.5 0 1 0 -12.9 0M387.4 36.7a7.5 7.5 0 1 0 14.9 0a7.5 7.5 0 1 0 -14.9 0M203.7 144.1a7.3 7.3 0 1 0 14.5 0a7.3 7.3 0 1 0 -14.5 0M394.2 250.5a4.7 4.7 0 1 0 9.4 0a4.7 4.7 0 1 0 -9.4 0M1.3 74.4a5.5 5.5 0 1 0 11.0 0a5.5 5.5 0 1 0 -11.0 0M291.2 375.1a5.3 5.3 0 1 0 10.5 0a5.3 5.3 0 1 0 -10.5 0M218.1 19.6a3.6 3.6 0 1 0 7.2 0a3.6 3.6 0 1 0 -7.2 0M119.5 10.0a3.7 3.7 0 1 0 7.4 0a3.7 3.7 0 1 0 -7.4 0M312.7 329.3a7.1 7.1 0 1 0 14.2 0a7.1 7.1 0 1 0 -14.2 0M263.3 380.5a6.2 6.2 0 1 0 12.4 0a6.2 6.2 0 1 0 -12.4 0M297.5 244.4a6.5 6.5 0 1 0 13.0 0a6.5 6.5 0 1 0 -13.0 0M239.7 241.4a6.0 6.0 0 1 0 12.0 0a6.0 6.0 0 1 0 -12.0 0M173.1 2.5a7.0 7.0 0 1 0 13.9 0a7.0 7.0 0 1 0 -13.9 0M147.8 21.2a6.0 6.0 0 1 0 12.0 0a6.0 6.0 0 1 0 -12.0 0M239.6 17.6a3.6 3.6 0 1 0 7.2 0a3.6 3.6 0 1 0 -7.2 0M197.6 -2.6a7.2 7.2 0 1 0 14.3 0a7.2 7.2 0 1 0 -14.3 0M266.6 215.0a3.9 3.9 0 1 0 7.8 0a3.9 3.9 0 1 0 -7.8 0M147.9 280.9a5.2 5.2 0 1 0 10.5 0a5.2 5.2 0 1 0 -10.5 0M241.9 154.8a5.8 5.8 0 1 0 11.6 0a5.8 5.8 0 1 0 -11.6 0M76.1 297.7a6.7 6.7 0 1 0 13.3 0a6.7 6.7 0 1 0 -13.3 0M380.4 241.5a5.2 5.2 0 1 0 10.4 0a5.2 5.2 0 1 0 -10.4 0M3.3 40.1a4.9 4.9 0 1 0 9.7 0a4.9 4.9 0 1 0 -9.7 0M95.7 95.5a6.6 6.6 0 1 0 13.2 0a6.6 6.6 0 1 0 -13.2 0M98.9 283.0a7.1 7.1 0 1 0 14.2 0a7.1 7.1 0 1 0 -14.2 0M229.1 147.1a4.4 4.4 0 1 0 8.8 0a4.4 4.4 0 1 0 -8.8 0M77.4 225.3a7.3 7.3 0 1 0 14.6 0a7.3 7.3 0 1 0 -14.6 0M332.7 2.9a4.7 4.7 0 1 0 9.5 0a4.7 4.7 0 1 0 -9.5 0M277.6 -3.2a4.1 4.1 0 1 0 8.2 0a4.1 4.1 0 1 0 -8.2 0M38.7 58.3a4.4 4.4 0 1 0 8.8 0a4.4 4.4 0 1 0 -8.8 0M5.2 -5.3a4.2 4.2 0 1 0 8.4 0a4.2 4.2 0 1 0 -8.4 0M88.2 130.7a5.4 5.4 0 1 0 10.9 0a5.4 5.4 0 1 0 -10.9 0M287.7 265.2a7.3 7.3 0 1 0 14.5 0a7.3 7.3 0 1 0 -14.5 0M324.5 138.6a7.0 7.0 0 1 0 14.0 0a7.0 7.0 0 1 0 -14.0 0M150.4 146.3a7.4 7.4 0 1 0 14.9 0a7.4 7.4 0 1 0 -14.9 0M325.2 322.0a7.3 7.3 0 1 0 14.5 0a7.3 7.3 0 1 0 -14.5 0M338.0 277.5a7.1 7.1 0 1 0 14.3 0a7.1 7.1 0 1 0 -14.3 0M320.9 207.4a7.3 7.3 0 1 0 14.7 0a7.3 7.3 0 1 0 -14.7 0M38.9 356.6a4.5 4.5 0 1 0 9.0 0a4.5 4.5 0 1 0 -9.0 0M182.4 266.6a4.1 4.1 0 1 0 8.1 0a4.1 4.1 0 1 0 -8.1 0M145.0 390.9a4.9 4.9 0 1 0 9.8 0a4.9 4.9 0 1 0 -9.8 0M118.7 14.1a5.3 5.3 0 1 0 10.6 0a5.3 5.3 0 1 0 -10.6 0M68.8 -6.7a5.7 5.7 0 1 0 11.4 0a5.7 5.7 0 1 0 -11.4 0M130.5 63.6a6.7 6.7 0 1 0 13.5 0a6.7 6.7 0 1 0 -13.5 0M365.4 76.6a7.4 7.4 0 1 0 14.9 0a7.4 7.4 0 1 0 -14.9 0M269.1 4.3a4.8 4.8 0 1 0 9.5 0a4.8 4.8 0 1 0 -9.5 0M93.5 155.1a4.3 4.3 0 1 0 8.5 0a4.3 4.3 0 1 0 -8.5 0M126.1 51.6a7.4 7.4 0 1 0 14.8 0a7.4 7.4 0 1 0 -14.8 0M321.2 18.0a5.8 5.8 0 1 0 11.7 0a5.8 5.8 0 1 0 -11.7 0M349.1 53.7a6.7 6.7 0 1 0 13.4 0a6.7 6.7 0 1 0 -13.4 0M297.9 1.3a3.7 3.7 0 1 0 7.3 0a3.7 3.7 0 1 0 -7.3 0M76.3 292.7a6.4 6.4 0 1 0 12.8 0a6.4 6.4 0 1 0 -12.8 0M129.9 78.6a3.6 3.6 0 1 0 7.3 0a3.6 3.6 0 1 0 -7.3 0M70.1 114.1a5.2 5.2 0 1 0 10.4 0a5.2 5.2 0 1 0 -10.4 0M273.1 34.6a4.9 4.9 0 1 0 9.8 0a4.9 4.9 0 1 0 -9.8 0M66.5 281.5a6.0 6.0 0 1 0 12.0 0a6.0 6.0 0 1 0 -12.0 0M250.9 111.2a7.4 7.4 0 1 0 14.7 0a7.4 7.4 0 1 0 -14.7 0M116.9 357.2a3.6 3.6 0 1 0 7.2 0a3.6 3.6 0 1 0 -7.2 0M268.7 52.4a4.1 4.1 0 1 0 8.1 0a4.1 4.1 0 1 0 -8.1 0M321.2 92.9a5.5 5.5 0 1 0 11.0 0a5.5 5.5 0 1 0 -11.0 0M134.9 119.6a6.2 6.2 0 1 0 12.4 0a6.2 6.2 0 1 0 -12.4 0M38.2 397.4a7.4 7.4 0 1 0 14.9 0a7.4 7.4 0 1 0 -14.9 0M128.0 70.7a4.1 4.1 0 1 0 8.3 0a4.1 4.1 0 1 0 -8.3 0M43.3 40.9a5.1 5.1 0 1 0 10.3 0a5.1 5.1 0 1 0 -10.3 0M212.1 207.7a4.8 4.8 0 1 0 9.6 0a4.8 4.8 0 1 0 -9.6 0M0.0 372.5a3.6 3.6 0 1 0 7.1 0a3.6 3.6 0 1 0 -7.1 0M149.2 381.4a7.2 7.2 0 1 0 14.4 0a7.2 7.2 0 1 0 -14.4 0M302.1 24.6a4.7 4.7 0 1 0 9.3 0a4.7 4.7 0 1 0 -9.3 0M333.9 56.9a5.5 5.5 0 1 0 11.1 0a5.5 5.5 0 1 0 -11.1 0M20.6 38.7a4.5 4.5 0 1 0 9.1 0a4.5 4.5 0 1 0 -9.1 0M124.0 108.7a5.3 5.3 0 1 0 10.6 0a5.3 5.3 0 1 0 -10.6 0M79.3 326.5a5.8 5.8 0 1 0 11.5 0a5.8 5.8 0 1 0 -11.5 0M143.3 9.8a3.6 3.6 0 1 0 7.2 0a3.6 3.6 0 1 0 -7.2 0M168.4 -1.4a5.4 5.4 0 1 0 10.7 0a5.4 5.4 0 1 0 -10.7 0M82.2 186.9a4.4 4.4 0 1 0 8.8 0a4.4 4.4 0 1 0 -8.8 0M342.1 272.3a7.4 7.4 0 1 0 14.8 0a7.4 7.4 0 1 0 -14.8 0M134.3 347.9a6.9 6.9 0 1 0 13.8 0a6.9 6.9 0 1 0 -13.8 0M360.0 207.1a6.8 6.8 0 1 0 13.7 0a6.8 6.8 0 1 0 -13.7 0M285.0 53.3a4.0 4.0 0 1 0 8.0 0a4.0 4.0 0 1 0 -8.0 0M286.7 286.6a4.5 4.5 0 1 0 9.0 0a4.5 4.5 0 1 0 -9.0 0M222.4 251.4a5.9 5.9 0 1 0 11.9 0a5.9 5.9 0 1 0 -11.9 0M384.6 55.7a4.0 4.0 0 1 0 8.1 0a4.0 4.0 0 1 0 -8.1 0M24.0 295.5a4.1 4.1 0 1 0 8.3 0a4.1 4.1 0 1 0 -8.3 0M89.0 200.0a5.6 5.6 0 1 0 11.2 0a5.6 5.6 0 1 0 -11.2 0M138.9 333.2a7.2 7.2 0 1 0 14.3 0a7.2 7.2 0 1 0 -14.3 0M381.7 4.3a3.7 3.7 0 1 0 7.3 0a3.7 3.7 0 1 0 -7.3 0M316.5 11.1a7.1 7.1 0 1 0 14.2 0a7.1 7.1 0 1 0 -14.2 0M396.7 186.5a6.5 6.5 0 1 0 13.0 0a6.5 6.5 0 1 0 -13.0 0M304.9 190.3a7.0 7.0 0 1 0 14.0 0a7.0 7.0 0 1 0 -14.0 0M259.2 22.3a5.1 5.1 0 1 0 10.2 0a5.1 5.1 0 1 0 -10.2 0M173.0 -6.0a5.8 5.8 0 1 0 11.6 0a5.8 5.8 0 1 0 -11.6 0M284.0 18.6a5.5 5.5 0 1 0 11.1 0a5.5 5.5 0 1 0 -11.1 0M253.2 360.4a4.1 4.1 0 1 0 8.1 0a4.1 4.1 0 1 0 -8.1 0M205.5 169.5a6.4 6.4 0 1 0 12.9 0a6.4 6.4 0 1 0 -12.9 0M314.8 50.8a7.3 7.3 0 1 0 14.5 0a7.3 7.3 0 1 0 -14.5 0M21.7 375.1a4.9 4.9 0 1 0 9.7 0a4.9 4.9 0 1 0 -9.7 0M81.3 93.2a5.2 5.2 0 1 0 10.3 0a5.2 5.2 0 1 0 -10.3 0M229.6 130.5a3.8 3.8 0 1 0 7.7 0a3.8 3.8 0 1 0 -7.7 0M213.4 154.2a7.2 7.2 0 1 0 14.4 0a7.2 7.2 0 1 0 -14.4 0M153.8 56.7a6.1 6.1 0 1 0 12.1 0a6.1 6.1 0 1 0 -12.1 0M46.9 363.4a5.6 5.6 0 1 0 11.3 0a5.6 5.6 0 1 0 -11.3 0M289.5 82.3a7.3 7.3 0 1 0 14.7 0a7.3 7.3 0 1 0 -14.7 0M364.1 124.9a4.4 4.4 0 1 0 8.9 0a4.4 4.4 0 1 0 -8.9 0M294.3 180.9a5.5 5.5 0 1 0 11.0 0a5.5 5.5 0 1 0 -11.0 0M335.0 131.7a7.1 7.1 0 1 0 14.1 0a7.1 7.1 0 1 0 -14.1 0M256.9 244.0a5.9 5.9 0 1 0 11.9 0a5.9 5.9 0 1 0 -11.9 0M264.4 21.9a4.8 4.8 0 1 0 9.6 0a4.8 4.8 0 1 0 -9.6 0M218.5 115.5a6.5 6.5 0 1 0 12.9 0a6.5 6.5 0 1 0 -12.9 0M375.4 299.0a4.2 4.2 0 1 0 8.4 0a4.2 4.2 0 1 0 -8.4 0M188.1 48.0a6.9 6.9 0 1 0 13.8 0a6.9 6.9 0 1 0 -13.8 0M318.3 316.4a7.0 7.0 0 1 0 14.0 0a7.0 7.0 0 1 0 -14.0 0M213.9 283.5a6.3 6.3 0 1 0 12.6 0a6.3 6.3 0 1 0 -12.6 0M54.3 311.2a6.9 6.9 0 1 0 13.9 0a6.9 6.9 0 1 0 -13.9 0M175.4 376.0a4.4 4.4 0 1 0 8.9 0a4.4 4.4 0 1 0 -8.9 0M316.9 116.7a7.2 7.2 0 1 0 14.4 0a7.2 7.2 0 1 0 -14.4 0M231.8 377.3a6.6 6.6 0 1 0 13.2 0a6.6 6.6 0 1 0 -13.2 0M8.1 124.1a4.4 4.4 0 1 0 8.7 0a4.4 4.4 0 1 0 -8.7 0M178.3 7.4a4.5 4.5 0 1 0 9.1 0a4.5 4.5 0 1 0 -9.1 0M319.4 301.9a6.0 6.0 0 1 0 11.9 0a6.0 6.0 0 1 0 -11.9 0M236.1 43.4a4.1 4.1 0 1 0 8.1 0a4.1 4.1 0 1 0 -8.1 0M117.6 14.3a6.1 6.1 0 1 0 12.3 0a6.1 6.1 0 1 0 -12.3 0M126.0 65.7a5.6 5.6 0 1 0 11.1 0a5.6 5.6 0 1 0 -11.1 0M1.4 173.1a5.1 5.1 0 1 0 10.2 0a5.1 5.1 0 1 0 -10.2 0M46.7 205.4a4.4 4.4 0 1 0 8.8 0a4.4 4.4 0 1 0 -8.8 0M37.3 -0.7a4.2 4.2 0 1 0 8.3 0a4.2 4.2 0 1 0 -8.3 0M36.5 223.2a6.2 6.2 0 1 0 12.4 0a6.2 6.2 0 1 0 -12.4 0M330.5 302.4a5.4 5.4 0 1 0 10.7 0a5.4 5.4 0 1 0 -10.7 0M363.9 61.1a7.1 7.1 0 1 0 14.1 0a7.1 7.1 0 1 0 -14.1 0M7.2 382.6a4.7 4.7 0 1 0 9.4 0a4.7 4.7 0 1 0 -9.4 0M62.7 349.7a6.7 6.7 0 1 0 13.5 0a6.7 6.7 0 1 0 -13.5 0M38.3 19.6a7.3 7.3 0 1 0 14.6 0a7.3 7.3 0 1 0 -14.6 0M290.9 138.4a6.0 6.0 0 1 0 12.1 0a6.0 6.0 0 1 0 -12.1 0M-3.1 165.1a5.3 5.3 0 1 0 10.5 0a5.3 5.3 0 1 0 -10.5 0M66.3 -0.5a5.9 5.9 0 1 0 11.7 0a5.9 5.9 0 1 0 -11.7 0M36.4 175.4a6.3 6.3 0 1 0 12.7 0a6.3 6.3 0 1 0 -12.7 0M19.3 44.6a4.9 4.9 0 1 0 9.9 0a4.9 4.9 0 1 0 -9.9 0M148.8 189.3a6.3 6.3 0 1 0 12.5 0a6.3 6.3 0 1 0 -12.5 0M105.1 305.0a6.1 6.1 0 1 0 12.2 0a6.1 6.1 0 1 0 -12.2 0M216.6 180.0a5.2 5.2 0 1 0 10.3 0a5.2 5.2 0 1 0 -10.3 0M244.3 16.9a5.4 5.4 0 1 0 10.7 0a5.4 5.4 0 1 0 -10.7 0M290.4 -2.1a4.4 4.4 0 1 0 8.8 0a4.4 4.4 0 1 0 -8.8 0M224.9 82.9a6.3 6.3 0 1 0 12.6 0a6.3 6.3 0 1 0 -12.6 0M133.0 30.4a6.7 6.7 0 1 0 13.5 0a6.7 6.7 0 1 0 -13.5 0M385.1 66.1a6.3 6.3 0 1 0 12.6 0a6.3 6.3 0 1 0 -12.6 0M82.5 198.5a6.7 6.7 0 1 0 13.4 0a6.7 6.7 0 1 0 -13.4 0M13.0 12.3a4.3 4.3 0 1 0 8.6 0a4.3 4.3 0 1 0 -8.6 0M331.1 335.8a4.5 4.5 0 1 0 9.0 0a4.5 4.5 0 1 0 -9.0 0M354.7 360.0a5.8 5.8 0 1 0 11.7 0a5.8 5.8 0 1 0 -11.7 0M280.2 87.3a6.8 6.8 0 1 0 13.7 0a6.8 6.8 0 1 0 -13.7 0M12.2 143.5a5.4 5.4 0 1 0 10.8 0a5.4 5.4 0 1 0 -10.8 0M379.9 103.1a5.3 5.3 0 1 0 10.5 0a5.3 5.3 0 1 0 -10.5 0M203.6 101.3a4.0 4.0 0 1 0 7.9 0a4.0 4.0 0 1 0 -7.9 0M214.5 84.1a7.0 7.0 0 1 0 14.0 0a7.0 7.0 0 1 0 -14.0 0M5.4 82.5a5.1 5.1 0 1 0 10.1 0a5.1 5.1 0 1 0 -10.1 0M328.7 64.7a3.8 3.8 0 1 0 7.6 0a3.8 3.8 0 1 0 -7.6 0M155.5 137.8a4.5 4.5 0 1 0 9.1 0a4.5 4.5 0 1 0 -9.1 0M179.2 134.4a4.9 4.9 0 1 0 9.8 0a4.9 4.9 0 1 0 -9.8 0M265.1 79.0a6.7 6.7 0 1 0 13.4 0a6.7 6.7 0 1 0 -13.4 0M208.0 278.3a5.5 5.5 0 1 0 11.1 0a5.5 5.5 0 1 0 -11.1 0M85.6 132.3a5.5 5.5 0 1 0 11.0 0a5.5 5.5 0 1 0 -11.0 0M103.8 287.3a4.1 4.1 0 1 0 8.3 0a4.1 4.1 0 1 0 -8.3 0M39.6 192.6a5.9 5.9 0 1 0 11.7 0a5.9 5.9 0 1 0 -11.7 0M292.8 287.0a5.0 5.0 0 1 0 10.0 0a5.0 5.0 0 1 0 -10.0 0M66.4 290.1a5.9 5.9 0 1 0 11.8 0a5.9 5.9 0 1 0 -11.8 0M278.0 94.8a7.5 7.5 0 1 0 14.9 0a7.5 7.5 0 1 0 -14.9 0M326.0 92.2a6.5 6.5 0 1 0 13.0 0a6.5 6.5 0 1 0 -13.0 0M109.5 200.6a7.0 7.0 0 1 0 14.0 0a7.0 7.0 0 1 0 -14.0 0M377.2 263.1a5.0 5.0 0 1 0 10.0 0a5.0 5.0 0 1 0 -10.0 0M296.3 40.7a4.2 4.2 0 1 0 8.4 0a4.2 4.2 0 1 0 -8.4 0M130.5 189.8a7.3 7.3 0 1 0 14.7 0a7.3 7.3 0 1 0 -14.7 0M368.6 24.7a3.6 3.6 0 1 0 7.3 0a3.6 3.6 0 1 0 -7.3 0M277.3 45.8a4.1 4.1 0 1 0 8.2 0a4.1 4.1 0 1 0 -8.2 0M12.4 7.7a5.4 5.4 0 1 0 10.8 0a5.4 5.4 0 1 0 -10.8 0M168.5 157.6a3.9 3.9 0 1 0 7.7 0a3.9 3.9 0 1 0 -7.7 0M252.0 321.6a3.8 3.8 0 1 0 7.7 0a3.8 3.8 0 1 0 -7.7 0M223.4 186.8a6.5 6.5 0 1 0 12.9 0a6.5 6.5 0 1 0 -12.9 0M177.0 333.2a6.8 6.8 0 1 0 13.5 0a6.8 6.8 0 1 0 -13.5 0M12.4 142.6a7.5 7.5 0 1 0 14.9 0a7.5 7.5 0 1 0 -14.9 0M310.4 294.7a3.5 3.5 0 1 0 7.1 0a3.5 3.5 0 1 0 -7.1 0M106.5 324.9a7.5 7.5 0 1 0 15.0 0a7.5 7.5 0 1 0 -15.0 0M14.3 238.8a6.4 6.4 0 1 0 12.7 0a6.4 6.4 0 1 0 -12.7 0M167.6 142.7a5.2 5.2 0 1 0 10.4 0a5.2 5.2 0 1 0 -10.4 0M250.9 179.7a6.6 6.6 0 1 0 13.2 0a6.6 6.6 0 1 0 -13.2 0M29.8 195.3a3.6 3.6 0 1 0 7.2 0a3.6 3.6 0 1 0 -7.2 0M120.7 114.4a5.9 5.9 0 1 0 11.9 0a5.9 5.9 0 1 0 -11.9 0M330.0 386.0a4.0 4.0 0 1 0 8.1 0a4.0 4.0 0 1 0 -8.1 0M379.7 261.7a6.3 6.3 0 1 0 12.7 0a6.3 6.3 0 1 0 -12.7 0M293.0 334.7a4.6 4.6 0 1 0 9.1 0a4.6 4.6 0 1 0 -9.1 0M71.3 362.4a6.3 6.3 0 1 0 12.7 0a6.3 6.3 0 1 0 -12.7 0M283.3 36.8a7.2 7.2 0 1 0 14.4 0a7.2 7.2 0 1 0 -14.4 0M83.6 355.9a6.4 6.4 0 1 0 12.9 0a6.4 6.4 0 1 0 -12.9 0M128.9 305.6a4.3 4.3 0 1 0 8.6 0a4.3 4.3 0 1 0 -8.6 0M124.0 276.4a6.4 6.4 0 1 0 12.8 0a6.4 6.4 0 1 0 -12.8 0M81.2 28.2a5.9 5.9 0 1 0 11.8 0a5.9 5.9 0 1 0 -11.8 0M33.7 142.6a6.0 6.0 0 1 0 12.1 0a6.0 6.0 0 1 0 -12.1 0M42.9 180.1a6.6 6.6 0 1 0 13.2 0a6.6 6.6 0 1 0 -13.2 0M390.9 -2.6a6.5 6.5 0 1 0 13.1 0a6.5 6.5 0 1 0 -13.1 0M62.3 130.7a6.5 6.5 0 1 0 13.0 0a6.5 6.5 0 1 0 -13.0 0M134.7 20.4a3.8 3.8 0 1 0 7.7 0a3.8 3.8 0 1 0 -7.7 0M57.1 7.3a6.1 6.1 0 1 0 12.1 0a6.1 6.1 0 1 0 -12.1 0M20.1 67.1a5.3 5.3 0 1 0 10.6 0a5.3 5.3 0 1 0 -10.6 0M33.0 180.3a6.2 6.2 0 1 0 12.5 0a6.2 6.2 0 1 0 -12.5 0M210.8 146.9a6.9 6.9 0 1 0 13.7 0a6.9 6.9 0 1 0 -13.7 0M381.1 263.7a5.2 5.2 0 1 0 10.4 0a5.2 5.2 0 1 0 -10.4 0M70.3 260.0a5.6 5.6 0 1 0 11.1 0a5.6 5.6 0 1 0 -11.1 0M93.2 120.0a5.3 5.3 0 1 0 10.5 0a5.3 5.3 0 1 0 -10.5 0M122.5 141.3a4.4 4.4 0 1 0 8.8 0a4.4 4.4 0 1 0 -8.8 0M53.9 40.8a6.7 6.7 0 1 0 13.5 0a6.7 6.7 0 1 0 -13.5 0M286.3 84.3a7.4 7.4 0 1 0 14.8 0a7.4 7.4 0 1 0 -14.8 0M396.4 368.3a5.6 5.6 0 1 0 11.3 0a5.6 5.6 0 1 0 -11.3 0M322.6 382.2a7.1 7.1 0 1 0 14.2 0a7.1 7.1 0 1 0 -14.2 0M152.6 265.1a4.5 4.5 0 1 0 9.0 0a4.5 4.5 0 1 0 -9.0 0M348.8 377.5a7.4 7.4 0 1 0 14.8 0a7.4 7.4 0 1 0 -14.8 0M377.1 70.5a6.8 6.8 0 1 0 13.6 0a6.8 6.8 0 1 0 -13.6 0M174.9 380.3a5.0 5.0 0 1 0 10.0 0a5.0 5.0 0 1 0 -10.0 0M37.3 79.8a5.2 5.2 0 1 0 10.3 0a5.2 5.2 0 1 0 -10.3 0M245.7 69.3a5.1 5.1 0 1 0 10.1 0a5.1 5.1 0 1 0 -10.1 0M123.7 102.3a6.6 6.6 0 1 0 13.2 0a6.6 6.6 0 1 0 -13.2 0M40.2 133.6a7.3 7.3 0 1 0 14.6 0a7.3 7.3 0 1 0 -14.6 0M55.5 331.9a6.1 6.1 0 1 0 12.2 0a6.1 6.1 0 1 0 -12.2 0M123.7 183.2a5.3 5.3 0 1 0 10.5 0a5.3 5.3 0 1 0 -10.5 0M140.6 60.2a5.3 5.3 0 1 0 10.6 0a5.3 5.3 0 1 0 -10.6 0M58.2 294.6a7.3 7.3 0 1 0 14.6 0a7.3 7.3 0 1 0 -14.6 0M91.2 10.5a6.3 6.3 0 1 0 12.5 0a6.3 6.3 0 1 0 -12.5 0M224.2 73.9a4.1 4.1 0 1 0 8.1 0a4.1 4.1 0 1 0 -8.1 0M211.0 372.6a5.4 5.4 0 1 0 10.8 0a5.4 5.4 0 1 0 -10.8 0M75.8 49.2a5.1 5.1 0 1 0 10.2 0a5.1 5.1 0 1 0 -10.2 0M72.7 31.3a4.8 4.8 0 1 0 9.5 0a4.8 4.8 0 1 0 -9.5 0M207.0 103.2a5.7 5.7 0 1 0 11.5 0a5.7 5.7 0 1 0 -11.5 0M197.8 152.7a6.8 6.8 0 1 0 13.5 0a6.8 6.8 0 1 0 -13.5 0M321.1 292.0a5.7 5.7 0 1 0 11.5 0a5.7 5.7 0 1 0 -11.5 0M152.1 188.6a6.7 6.7 0 1 0 13.4 0a6.7 6.7 0 1 0 -13.4 0M200.8 39.3a5.5 5.5 0 1 0 11.0 0a5.5 5.5 0 1 0 -11.0 0M35.2 200.3a5.1 5.1 0 1 0 10.2 0a5.1 5.1 0 1 0 -10.2 0M258.3 244.0a6.4 6.4 0 1 0 12.7 0a6.4 6.4 0 1 0 -12.7 0M306.3 179.0a6.7 6.7 0 1 0 13.4 0a6.7 6.7 0 1 0 -13.4 0M179.6 113.1a6.6 6.6 0 1 0 13.2 0a6.6 6.6 0 1 0 -13.2 0M75.1 129.6a5.6 5.6 0 1 0 11.3 0a5.6 5.6 0 1 0 -11.3 0M139.1 88.2a4.1 4.1 0 1 0 8.2 0a4.1 4.1 0 1 0 -8.2 0M320.8 304.5a5.9 5.9 0 1 0 11.9 0a5.9 5.9 0 1 0 -11.9 0M270.1 4.0a3.5 3.5 0 1 0 7.1 0a3.5 3.5 0 1 0 -7.1 0M76.7 344.5a4.8 4.8 0 1 0 9.6 0a4.8 4.8 0 1 0 -9.6 0M-0.3 347.0a4.3 4.3 0 1 0 8.7 0a4.3 4.3 0 1 0 -8.7 0M25.5 83.9a5.8 5.8 0 1 0 11.5 0a5.8 5.8 0 1 0 -11.5 0M132.2 297.7a5.3 5.3 0 1 0 10.6 0a5.3 5.3 0 1 0 -10.6 0M219.9 270.9a4.9 4.9 0 1 0 9.8 0a4.9 4.9 0 1 0 -9.8 0M379.1 43.4a4.5 4.5 0 1 0 8.9 0a4.5 4.5 0 1 0 -8.9 0M388.3 53.3a6.6 6.6 0 1 0 13.2 0a6.6 6.6 0 1 0 -13.2 0M114.9 249.4a4.3 4.3 0 1 0 8.6 0a4.3 4.3 0 1 0 -8.6 0M142.3 278.8a4.1 4.1 0 1 0 8.2 0a4.1 4.1 0 1 0 -8.2 0M82.4 17.5a5.5 5.5 0 1 0 11.0 0a5.5 5.5 0 1 0 -11.0 0M32.9 8.0a4.6 4.6 0 1 0 9.2 0a4.6 4.6 0 1 0 -9.2 0M234.8 171.0a6.3 6.3 0 1 0 12.7 0a6.3 6.3 0 1 0 -12.7 0M361.6 62.6a6.3 6.3 0 1 0 12.6 0a6.3 6.3 0 1 0 -12.6 0M166.9 228.4a6.1 6.1 0 1 0 12.3 0a6.1 6.1 0 1 0 -12.3 0M197.9 297.7a5.0 5.0 0 1 0 10.1 0a5.0 5.0 0 1 0 -10.1 0M20.8 337.1a4.0 4.0 0 1 0 8.0 0a4.0 4.0 0 1 0 -8.0 0M141.7 21.8a5.0 5.0 0 1 0 9.9 0a5.0 5.0 0 1 0 -9.9 0M226.8 3.7a6.9 6.9 0 1 0 13.8 0a6.9 6.9 0 1 0 -13.8 0M369.6 270.3a5.9 5.9 0 1 0 11.8 0a5.9 5.9 0 1 0 -11.8 0M173.1 17.5a7.0 7.0 0 1 0 14.1 0a7.0 7.0 0 1 0 -14.1 0M277.4 315.8a6.8 6.8 0 1 0 13.7 0a6.8 6.8 0 1 0 -13.7 0M93.0 219.0a5.0 5.0 0 1 0 9.9 0a5.0 5.0 0 1 0 -9.9 0M294.3 -6.3a6.6 6.6 0 1 0 13.1 0a6.6 6.6 0 1 0 -13.1 0M76.8 389.1a5.1 5.1 0 1 0 10.1 0a5.1 5.1 0 1 0 -10.1 0M261.2 224.5a3.9 3.9 0 1 0 7.7 0a3.9 3.9 0 1 0 -7.7 0M382.2 401.2a4.7 4.7 0 1 0 9.4 0a4.7 4.7 0 1 0 -9.4 0M183.1 153.5a4.4 4.4 0 1 0 8.8 0a4.4 4.4 0 1 0 -8.8 0M197.2 351.2a5.6 5.6 0 1 0 11.2 0a5.6 5.6 0 1 0 -11.2 0M348.8 216.7a5.9 5.9 0 1 0 11.8 0a5.9 5.9 0 1 0 -11.8 0M195.8 2.4a6.2 6.2 0 1 0 12.3 0a6.2 6.2 0 1 0 -12.3 0M13.5 156.6a5.8 5.8 0 1 0 11.6 0a5.8 5.8 0 1 0 -11.6 0M349.3 212.8a5.2 5.2 0 1 0 10.4 0a5.2 5.2 0 1 0 -10.4 0M77.3 87.2a7.4 7.4 0 1 0 14.7 0a7.4 7.4 0 1 0 -14.7 0M293.3 281.5a4.2 4.2 0 1 0 8.4 0a4.2 4.2 0 1 0 -8.4 0M135.5 337.7a6.3 6.3 0 1 0 12.5 0a6.3 6.3 0 1 0 -12.5 0M188.3 394.9a5.7 5.7 0 1 0 11.4 0a5.7 5.7 0 1 0 -11.4 0M114.2 36.8a6.3 6.3 0 1 0 12.6 0a6.3 6.3 0 1 0 -12.6 0M150.1 102.0a6.7 6.7 0 1 0 13.4 0a6.7 6.7 0 1 0 -13.4 0M299.6 365.7a7.4 7.4 0 1 0 14.8 0a7.4 7.4 0 1 0 -14.8 0M371.5 289.9a6.5 6.5 0 1 0 12.9 0a6.5 6.5 0 1 0 -12.9 0M127.1 265.8a5.4 5.4 0 1 0 10.8 0a5.4 5.4 0 1 0 -10.8 0M180.2 111.7a4.5 4.5 0 1 0 9.0 0a4.5 4.5 0 1 0 -9.0 0M381.8 43.3a5.8 5.8 0 1 0 11.6 0a5.8 5.8 0 1 0 -11.6 0M127.5 20.6a4.9 4.9 0 1 0 9.8 0a4.9 4.9 0 1 0 -9.8 0M125.4 24.2a3.9 3.9 0 1 0 7.8 0a3.9 3.9 0 1 0 -7.8 0M261.3 15.3a6.9 6.9 0 1 0 13.7 0a6.9 6.9 0 1 0 -13.7 0M240.3 279.7a6.8 6.8 0 1 0 13.6 0a6.8 6.8 0 1 0 -13.6 0M70.6 163.5a5.3 5.3 0 1 0 10.5 0a5.3 5.3 0 1 0 -10.5 0M172.5 135.6a4.2 4.2 0 1 0 8.4 0a4.2 4.2 0 1 0 -8.4 0M118.4 155.4a4.1 4.1 0 1 0 8.2 0a4.1 4.1 0 1 0 -8.2 0M97.4 236.3a5.2 5.2 0 1 0 10.5 0a5.2 5.2 0 1 0 -10.5 0M180.3 316.8a7.0 7.0 0 1 0 14.0 0a7.0 7.0 0 1 0 -14.0 0M380.2 315.4a3.6 3.6 0 1 0 7.3 0a3.6 3.6 0 1 0 -7.3 0M7.2 383.8a6.1 6.1 0 1 0 12.3 0a6.1 6.1 0 1 0 -12.3 0M287.3 40.3a6.7 6.7 0 1 0 13.5 0a6.7 6.7 0 1 0 -13.5 0M148.5 185.2a6.7 6.7 0 1 0 13.3 0a6.7 6.7 0 1 0 -13.3 0M220.4 285.2a7.4 7.4 0 1 0 14.7 0a7.4 7.4 0 1 0 -14.7 0M307.2 304.5a6.8 6.8 0 1 0 13.6 0a6.8 6.8 0 1 0 -13.6 0M95.0 395.8a5.4 5.4 0 1 0 10.8 0a5.4 5.4 0 1 0 -10.8 0M333.7 21.6a3.6 3.6 0 1 0 7.2 0a3.6 3.6 0 1 0 -7.2 0M2.6 11.0a3.9 3.9 0 1 0 7.9 0a3.9 3.9 0 1 0 -7.9 0M115.6 137.1a6.2 6.2 0 1 0 12.4 0a6.2 6.2 0 1 0 -12.4 0M31.2 7.1a6.2 6.2 0 1 0 12.4 0a6.2 6.2 0 1 0 -12.4 0M168.7 6.1a5.5 5.5 0 1 0 11.0 0a5.5 5.5 0 1 0 -11.0 0M301.8 186.0a7.0 7.0 0 1 0 14.1 0a7.0 7.0 0 1 0 -14.1 0M304.9 307.2a5.5 5.5 0 1 0 11.0 0a5.5 5.5 0 1 0 -11.0 0M170.1 11.1a4.9 4.9 0 1 0 9.8 0a4.9 4.9 0 1 0 -9.8 0M332.3 357.3a5.9 5.9 0 1 0 11.8 0a5.9 5.9 0 1 0 -11.8 0M205.4 58.4a6.4 6.4 0 1 0 12.8 0a6.4 6.4 0 1 0 -12.8 0M314.4 268.4a7.1 7.1 0 1 0 14.3 0a7.1 7.1 0 1 0 -14.3 0M387.8 72.0a5.2 5.2 0 1 0 10.4 0a5.2 5.2 0 1 0 -10.4 0M332.0 129.5a5.4 5.4 0 1 0 10.8 0a5.4 5.4 0 1 0 -10.8 0M-11.5 366.5a5.8 5.8 0 1 0 11.5 0a5.8 5.8 0 1 0 -11.5 0M233.5 76.7a5.5 5.5 0 1 0 11.1 0a5.5 5.5 0 1 0 -11.1 0M233.2 380.3a5.1 5.1 0 1 0 10.2 0a5.1 5.1 0 1 0 -10.2 0M67.1 322.2a3.9 3.9 0 1 0 7.7 0a3.9 3.9 0 1 0 -7.7 0M301.8 319.5a4.9 4.9 0 1 0 9.8 0a4.9 4.9 0 1 0 -9.8 0M328.7 345.0a6.7 6.7 0 1 0 13.3 0a6.7 6.7 0 1 0 -13.3 0M232.7 344.5a6.2 6.2 0 1 0 12.3 0a6.2 6.2 0 1 0 -12.3 0M222.6 52.3a4.0 4.0 0 1 0 8.1 0a4.0 4.0 0 1 0 -8.1 0M281.6 98.0a6.3 6.3 0 1 0 12.6 0a6.3 6.3 0 1 0 -12.6 0M354.4 129.0a6.3 6.3 0 1 0 12.6 0a6.3 6.3 0 1 0 -12.6 0M174.3 330.6a7.0 7.0 0 1 0 14.0 0a7.0 7.0 0 1 0 -14.0 0M19.0 382.3a4.2 4.2 0 1 0 8.5 0a4.2 4.2 0 1 0 -8.5 0M18.3 36.6a6.3 6.3 0 1 0 12.7 0a6.3 6.3 0 1 0 -12.7 0M31.9 6.3a6.3 6.3 0 1 0 12.5 0a6.3 6.3 0 1 0 -12.5 0M301.5 273.7a5.7 5.7 0 1 0 11.4 0a5.7 5.7 0 1 0 -11.4 0M69.4 149.8a4.5 4.5 0 1 0 9.0 0a4.5 4.5 0 1 0 -9.0 0M324.4 108.5a4.7 4.7 0 1 0 9.5 0a4.7 4.7 0 1 0 -9.5 0M208.4 96.8a7.5 7.5 0 1 0 15.0 0a7.5 7.5 0 1 0 -15.0 0M143.4 352.0a6.1 6.1 0 1 0 12.3 0a6.1 6.1 0 1 0 -12.3 0M239.6 245.3a7.1 7.1 0 1 0 14.2 0a7.1 7.1 0 1 0 -14.2 0M286.1 85.0a6.4 6.4 0 1 0 12.8 0a6.4 6.4 0 1 0 -12.8 0M324.3 120.2a6.7 6.7 0 1 0 13.5 0a6.7 6.7 0 1 0 -13.5 0M291.9 71.8a5.7 5.7 0 1 0 11.5 0a5.7 5.7 0 1 0 -11.5 0M368.5 97.6a6.2 6.2 0 1 0 12.3 0a6.2 6.2 0 1 0 -12.3 0M169.9 283.4a5.6 5.6 0 1 0 11.3 0a5.6 5.6 0 1 0 -11.3 0M312.3 42.2a6.1 6.1 0 1 0 12.1 0a6.1 6.1 0 1 0 -12.1 0M41.5 36.0a7.2 7.2 0 1 0 14.4 0a7.2 7.2 0 1 0 -14.4 0M127.1 221.3a20.0 20.0 0 1 0 40.0 0a20.0 20.0 0 1 0 -40.0 0M111.3 205.5a12.0 12.0 0 1 0 24.0 0a12.0 12.0 0 1 0 -24.0 0M159.0 197.5a12.0 12.0 0 1 0 24.0 0a12.0 12.0 0 1 0 -24.0 0M148.0 252.9a11.0 11.0 0 1 0 22.0 0a11.0 11.0 0 1 0 -22.0 0M121.2 245.0a10.0 10.0 0 1 0 20.0 0a10.0 10.0 0 1 0 -20.0 0M91.4 197.5a8.0 8.0 0 1 0 16.0 0a8.0 8.0 0 1 0 -16.0 0M173.9 229.2a9.0 9.0 0 1 0 18.0 0a9.0 9.0 0 1 0 -18.0 0"/>
<path fill="none" stroke="#fff" stroke-width="2.2" d="M191.1 154.3a4.9 4.9 0 1 0 9.8 0a4.9 4.9 0 1 0 -9.8 0M119.1 49.1a6.1 6.1 0 1 0 12.2 0a6.1 6.1 0 1 0 -12.2 0M157.7 177.0a4.1 4.1 0 1 0 8.3 0a4.1 4.1 0 1 0 -8.3 0M290.7 80.2a4.0 4.0 0 1 0 8.1 0a4.0 4.0 0 1 0 -8.1 0M121.6 85.9a6.5 6.5 0 1 0 13.0 0a6.5 6.5 0 1 0 -13.0 0M83.4 67.1a5.0 5.0 0 1 0 10.0 0a5.0 5.0 0 1 0 -10.0 0M279.0 3.1a5.9 5.9 0 1 0 11.8 0a5.9 5.9 0 1 0 -11.8 0M-2.6 330.5a5.8 5.8 0 1 0 11.6 0a5.8 5.8 0 1 0 -11.6 0M173.8 261.3a4.4 4.4 0 1 0 8.8 0a4.4 4.4 0 1 0 -8.8 0M139.6 63.2a5.2 5.2 0 1 0 10.4 0a5.2 5.2 0 1 0 -10.4 0M173.7 169.2a5.4 5.4 0 1 0 10.7 0a5.4 5.4 0 1 0 -10.7 0M98.5 103.1a5.1 5.1 0 1 0 10.1 0a5.1 5.1 0 1 0 -10.1 0M122.5 335.4a4.9 4.9 0 1 0 9.8 0a4.9 4.9 0 1 0 -9.8 0M127.6 95.0a3.7 3.7 0 1 0 7.4 0a3.7 3.7 0 1 0 -7.4 0M302.0 56.8a6.4 6.4 0 1 0 12.9 0a6.4 6.4 0 1 0 -12.9 0M-1.0 -1.0a6.4 6.4 0 1 0 12.7 0a6.4 6.4 0 1 0 -12.7 0M38.7 378.7a4.8 4.8 0 1 0 9.7 0a4.8 4.8 0 1 0 -9.7 0M201.3 130.2a6.2 6.2 0 1 0 12.5 0a6.2 6.2 0 1 0 -12.5 0M196.6 190.2a4.3 4.3 0 1 0 8.6 0a4.3 4.3 0 1 0 -8.6 0M338.5 243.6a5.3 5.3 0 1 0 10.5 0a5.3 5.3 0 1 0 -10.5 0M106.1 193.7a6.3 6.3 0 1 0 12.5 0a6.3 6.3 0 1 0 -12.5 0M73.4 264.1a5.2 5.2 0 1 0 10.5 0a5.2 5.2 0 1 0 -10.5 0M31.5 107.3a6.2 6.2 0 1 0 12.4 0a6.2 6.2 0 1 0 -12.4 0M192.3 217.9a3.8 3.8 0 1 0 7.6 0a3.8 3.8 0 1 0 -7.6 0M386.4 306.3a3.6 3.6 0 1 0 7.2 0a3.6 3.6 0 1 0 -7.2 0M126.8 209.9a4.0 4.0 0 1 0 8.0 0a4.0 4.0 0 1 0 -8.0 0M261.6 389.7a5.1 5.1 0 1 0 10.2 0a5.1 5.1 0 1 0 -10.2 0M97.3 348.9a4.4 4.4 0 1 0 8.9 0a4.4 4.4 0 1 0 -8.9 0M-6.4 84.0a4.1 4.1 0 1 0 8.3 0a4.1 4.1 0 1 0 -8.3 0M369.7 364.5a6.0 6.0 0 1 0 12.0 0a6.0 6.0 0 1 0 -12.0 0M341.1 23.5a5.3 5.3 0 1 0 10.7 0a5.3 5.3 0 1 0 -10.7 0M325.9 167.1a6.2 6.2 0 1 0 12.4 0a6.2 6.2 0 1 0 -12.4 0M184.4 190.4a6.3 6.3 0 1 0 12.5 0a6.3 6.3 0 1 0 -12.5 0M374.9 18.7a5.5 5.5 0 1 0 10.9 0a5.5 5.5 0 1 0 -10.9 0M314.6 273.8a5.8 5.8 0 1 0 11.7 0a5.8 5.8 0 1 0 -11.7 0M352.0 300.5a4.7 4.7 0 1 0 9.4 0a4.7 4.7 0 1 0 -9.4 0M6.3 32.0a3.9 3.9 0 1 0 7.8 0a3.9 3.9 0 1 0 -7.8 0M378.8 211.4a4.4 4.4 0 1 0 8.7 0a4.4 4.4 0 1 0 -8.7 0M88.5 9.4a5.5 5.5 0 1 0 10.9 0a5.5 5.5 0 1 0 -10.9 0M164.3 188.4a3.6 3.6 0 1 0 7.3 0a3.6 3.6 0 1 0 -7.3 0M97.9 225.6a4.2 4.2 0 1 0 8.4 0a4.2 4.2 0 1 0 -8.4 0M230.5 337.8a4.3 4.3 0 1 0 8.5 0a4.3 4.3 0 1 0 -8.5 0M385.3 373.5a5.7 5.7 0 1 0 11.4 0a5.7 5.7 0 1 0 -11.4 0M-9.4 150.7a3.8 3.8 0 1 0 7.5 0a3.8 3.8 0 1 0 -7.5 0M117.4 158.9a4.4 4.4 0 1 0 8.8 0a4.4 4.4 0 1 0 -8.8 0M386.6 327.9a6.2 6.2 0 1 0 12.4 0a6.2 6.2 0 1 0 -12.4 0M228.6 106.6a5.4 5.4 0 1 0 10.8 0a5.4 5.4 0 1 0 -10.8 0M373.1 230.5a6.5 6.5 0 1 0 13.0 0a6.5 6.5 0 1 0 -13.0 0M-5.6 48.8a4.4 4.4 0 1 0 8.8 0a4.4 4.4 0 1 0 -8.8 0M187.5 253.1a4.7 4.7 0 1 0 9.3 0a4.7 4.7 0 1 0 -9.3 0M165.8 160.8a6.4 6.4 0 1 0 12.8 0a6.4 6.4 0 1 0 -12.8 0M146.5 187.9a4.2 4.2 0 1 0 8.4 0a4.2 4.2 0 1 0 -8.4 0M127.7 379.4a6.1 6.1 0 1 0 12.1 0a6.1 6.1 0 1 0 -12.1 0M192.7 51.5a6.4 6.4 0 1 0 12.8 0a6.4 6.4 0 1 0 -12.8 0M75.6 393.6a4.7 4.7 0 1 0 9.4 0a4.7 4.7 0 1 0 -9.4 0M310.5 274.5a6.0 6.0 0 1 0 12.0 0a6.0 6.0 0 1 0 -12.0 0M32.0 114.9a5.7 5.7 0 1 0 11.4 0a5.7 5.7 0 1 0 -11.4 0M70.3 50.2a4.7 4.7 0 1 0 9.5 0a4.7 4.7 0 1 0 -9.5 0M140.6 372.9a3.7 3.7 0 1 0 7.5 0a3.7 3.7 0 1 0 -7.5 0M143.7 115.4a5.3 5.3 0 1 0 10.6 0a5.3 5.3 0 1 0 -10.6 0M2.0 209.4a5.2 5.2 0 1 0 10.5 0a5.2 5.2 0 1 0 -10.5 0M47.8 9.6a5.8 5.8 0 1 0 11.7 0a5.8 5.8 0 1 0 -11.7 0M308.5 337.6a6.2 6.2 0 1 0 12.5 0a6.2 6.2 0 1 0 -12.5 0M181.9 212.1a3.5 3.5 0 1 0 7.1 0a3.5 3.5 0 1 0 -7.1 0M33.1 146.8a5.3 5.3 0 1 0 10.7 0a5.3 5.3 0 1 0 -10.7 0M156.7 389.9a5.8 5.8 0 1 0 11.5 0a5.8 5.8 0 1 0 -11.5 0M106.9 326.1a4.5 4.5 0 1 0 8.9 0a4.5 4.5 0 1 0 -8.9 0M261.3 349.3a6.4 6.4 0 1 0 12.7 0a6.4 6.4 0 1 0 -12.7 0M89.5 21.1a4.4 4.4 0 1 0 8.9 0a4.4 4.4 0 1 0 -8.9 0M256.1 69.5a4.9 4.9 0 1 0 9.9 0a4.9 4.9 0 1 0 -9.9 0M118.5 44.5a5.1 5.1 0 1 0 10.3 0a5.1 5.1 0 1 0 -10.3 0M133.8 313.3a6.1 6.1 0 1 0 12.2 0a6.1 6.1 0 1 0 -12.2 0M-5.5 70.1a5.5 5.5 0 1 0 11.0 0a5.5 5.5 0 1 0 -11.0 0M60.6 62.0a4.3 4.3 0 1 0 8.7 0a4.3 4.3 0 1 0 -8.7 0M151.5 392.0a3.8 3.8 0 1 0 7.5 0a3.8 3.8 0 1 0 -7.5 0M100.8 54.9a5.9 5.9 0 1 0 11.9 0a5.9 5.9 0 1 0 -11.9 0M2.9 131.1a5.3 5.3 0 1 0 10.6 0a5.3 5.3 0 1 0 -10.6 0M-13.5 155.6a5.8 5.8 0 1 0 11.6 0a5.8 5.8 0 1 0 -11.6 0M181.1 326.3a6.4 6.4 0 1 0 12.8 0a6.4 6.4 0 1 0 -12.8 0M151.7 371.3a5.3 5.3 0 1 0 10.6 0a5.3 5.3 0 1 0 -10.6 0M67.6 32.8a4.7 4.7 0 1 0 9.3 0a4.7 4.7 0 1 0 -9.3 0M78.9 375.0a3.8 3.8 0 1 0 7.6 0a3.8 3.8 0 1 0 -7.6 0M273.6 61.0a4.7 4.7 0 1 0 9.5 0a4.7 4.7 0 1 0 -9.5 0M251.5 274.8a3.5 3.5 0 1 0 7.0 0a3.5 3.5 0 1 0 -7.0 0M57.1 357.9a4.2 4.2 0 1 0 8.3 0a4.2 4.2 0 1 0 -8.3 0M133.2 132.1a5.7 5.7 0 1 0 11.3 0a5.7 5.7 0 1 0 -11.3 0M198.9 152.0a3.8 3.8 0 1 0 7.7 0a3.8 3.8 0 1 0 -7.7 0M30.9 41.3a4.4 4.4 0 1 0 8.9 0a4.4 4.4 0 1 0 -8.9 0M226.3 383.3a3.7 3.7 0 1 0 7.3 0a3.7 3.7 0 1 0 -7.3 0M210.6 109.1a5.2 5.2 0 1 0 10.4 0a5.2 5.2 0 1 0 -10.4 0M-11.5 3.3a4.2 4.2 0 1 0 8.5 0a4.2 4.2 0 1 0 -8.5 0M282.9 250.7a4.5 4.5 0 1 0 9.0 0a4.5 4.5 0 1 0 -9.0 0M203.7 37.4a6.2 6.2 0 1 0 12.3 0a6.2 6.2 0 1 0 -12.3 0M6.1 14.6a5.1 5.1 0 1 0 10.2 0a5.1 5.1 0 1 0 -10.2 0M3.1 -2.8a5.3 5.3 0 1 0 10.7 0a5.3 5.3 0 1 0 -10.7 0M126.4 249.6a4.3 4.3 0 1 0 8.6 0a4.3 4.3 0 1 0 -8.6 0M284.1 102.3a5.0 5.0 0 1 0 10.1 0a5.0 5.0 0 1 0 -10.1 0M89.4 310.7a4.3 4.3 0 1 0 8.6 0a4.3 4.3 0 1 0 -8.6 0M139.5 315.2a6.5 6.5 0 1 0 13.0 0a6.5 6.5 0 1 0 -13.0 0M180.2 172.7a5.2 5.2 0 1 0 10.3 0a5.2 5.2 0 1 0 -10.3 0M341.9 122.6a5.8 5.8 0 1 0 11.5 0a5.8 5.8 0 1 0 -11.5 0M3.3 265.5a4.1 4.1 0 1 0 8.3 0a4.1 4.1 0 1 0 -8.3 0M266.6 178.4a3.9 3.9 0 1 0 7.8 0a3.9 3.9 0 1 0 -7.8 0M186.2 79.9a3.9 3.9 0 1 0 7.8 0a3.9 3.9 0 1 0 -7.8 0M40.7 10.0a3.8 3.8 0 1 0 7.5 0a3.8 3.8 0 1 0 -7.5 0M368.7 397.3a4.0 4.0 0 1 0 8.1 0a4.0 4.0 0 1 0 -8.1 0M264.0 391.2a6.4 6.4 0 1 0 12.8 0a6.4 6.4 0 1 0 -12.8 0M135.8 258.6a4.3 4.3 0 1 0 8.5 0a4.3 4.3 0 1 0 -8.5 0M358.6 70.5a3.6 3.6 0 1 0 7.2 0a3.6 3.6 0 1 0 -7.2 0M-8.0 110.7a6.2 6.2 0 1 0 12.4 0a6.2 6.2 0 1 0 -12.4 0M204.5 123.1a3.8 3.8 0 1 0 7.6 0a3.8 3.8 0 1 0 -7.6 0M111.9 48.0a6.4 6.4 0 1 0 12.7 0a6.4 6.4 0 1 0 -12.7 0M223.0 108.2a6.4 6.4 0 1 0 12.8 0a6.4 6.4 0 1 0 -12.8 0M199.7 38.7a4.7 4.7 0 1 0 9.5 0a4.7 4.7 0 1 0 -9.5 0M293.3 330.7a3.6 3.6 0 1 0 7.2 0a3.6 3.6 0 1 0 -7.2 0M123.0 175.1a4.5 4.5 0 1 0 8.9 0a4.5 4.5 0 1 0 -8.9 0M106.8 133.7a6.1 6.1 0 1 0 12.2 0a6.1 6.1 0 1 0 -12.2 0M302.7 24.0a5.7 5.7 0 1 0 11.3 0a5.7 5.7 0 1 0 -11.3 0M156.4 48.0a5.8 5.8 0 1 0 11.6 0a5.8 5.8 0 1 0 -11.6 0M-13.5 59.7a5.9 5.9 0 1 0 11.7 0a5.9 5.9 0 1 0 -11.7 0M117.3 88.4a5.3 5.3 0 1 0 10.7 0a5.3 5.3 0 1 0 -10.7 0M300.1 225.5a3.6 3.6 0 1 0 7.2 0a3.6 3.6 0 1 0 -7.2 0M178.1 366.5a4.4 4.4 0 1 0 8.7 0a4.4 4.4 0 1 0 -8.7 0M168.3 358.0a6.1 6.1 0 1 0 12.1 0a6.1 6.1 0 1 0 -12.1 0M67.5 352.3a5.4 5.4 0 1 0 10.9 0a5.4 5.4 0 1 0 -10.9 0M315.0 76.7a3.6 3.6 0 1 0 7.3 0a3.6 3.6 0 1 0 -7.3 0M186.5 6.6a3.7 3.7 0 1 0 7.3 0a3.7 3.7 0 1 0 -7.3 0M331.0 310.5a4.4 4.4 0 1 0 8.8 0a4.4 4.4 0 1 0 -8.8 0M385.7 102.4a6.4 6.4 0 1 0 12.8 0a6.4 6.4 0 1 0 -12.8 0M220.5 39.5a5.9 5.9 0 1 0 11.9 0a5.9 5.9 0 1 0 -11.9 0M371.5 195.6a3.9 3.9 0 1 0 7.8 0a3.9 3.9 0 1 0 -7.8 0M-6.0 182.5a4.7 4.7 0 1 0 9.4 0a4.7 4.7 0 1 0 -9.4 0M221.4 163.6a4.1 4.1 0 1 0 8.2 0a4.1 4.1 0 1 0 -8.2 0M284.2 212.1a5.0 5.0 0 1 0 9.9 0a5.0 5.0 0 1 0 -9.9 0M274.6 1.8a5.7 5.7 0 1 0 11.5 0a5.7 5.7 0 1 0 -11.5 0M228.6 19.5a5.9 5.9 0 1 0 11.8 0a5.9 5.9 0 1 0 -11.8 0M256.5 241.3a5.2 5.2 0 1 0 10.3 0a5.2 5.2 0 1 0 -10.3 0M265.2 318.5a3.7 3.7 0 1 0 7.4 0a3.7 3.7 0 1 0 -7.4 0M214.4 242.6a5.0 5.0 0 1 0 10.0 0a5.0 5.0 0 1 0 -10.0 0M86.7 7.6a4.2 4.2 0 1 0 8.4 0a4.2 4.2 0 1 0 -8.4 0M313.0 171.6a4.7 4.7 0 1 0 9.4 0a4.7 4.7 0 1 0 -9.4 0M164.3 85.0a5.8 5.8 0 1 0 11.7 0a5.8 5.8 0 1 0 -11.7 0M19.7 140.5a5.9 5.9 0 1 0 11.8 0a5.9 5.9 0 1 0 -11.8 0M12.6 267.7a5.0 5.0 0 1 0 10.0 0a5.0 5.0 0 1 0 -10.0 0M198.7 334.6a4.7 4.7 0 1 0 9.4 0a4.7 4.7 0 1 0 -9.4 0M398.6 133.4a5.3 5.3 0 1 0 10.6 0a5.3 5.3 0 1 0 -10.6 0M90.9 193.8a6.5 6.5 0 1 0 13.0 0a6.5 6.5 0 1 0 -13.0 0M234.0 401.4a4.7 4.7 0 1 0 9.3 0a4.7 4.7 0 1 0 -9.3 0M280.1 73.7a6.0 6.0 0 1 0 12.1 0a6.0 6.0 0 1 0 -12.1 0M376.2 125.4a5.3 5.3 0 1 0 10.5 0a5.3 5.3 0 1 0 -10.5 0M353.3 283.0a4.4 4.4 0 1 0 8.8 0a4.4 4.4 0 1 0 -8.8 0M146.7 308.6a3.6 3.6 0 1 0 7.3 0a3.6 3.6 0 1 0 -7.3 0M230.3 23.0a3.7 3.7 0 1 0 7.5 0a3.7 3.7 0 1 0 -7.5 0M14.7 97.5a3.5 3.5 0 1 0 7.1 0a3.5 3.5 0 1 0 -7.1 0M175.7 397.1a3.8 3.8 0 1 0 7.7 0a3.8 3.8 0 1 0 -7.7 0M84.7 57.8a5.6 5.6 0 1 0 11.1 0a5.6 5.6 0 1 0 -11.1 0M384.6 35.4a6.4 6.4 0 1 0 12.7 0a6.4 6.4 0 1 0 -12.7 0M61.8 57.2a5.6 5.6 0 1 0 11.3 0a5.6 5.6 0 1 0 -11.3 0M156.1 376.4a5.2 5.2 0 1 0 10.4 0a5.2 5.2 0 1 0 -10.4 0M56.2 73.5a5.4 5.4 0 1 0 10.7 0a5.4 5.4 0 1 0 -10.7 0M186.8 369.5a4.1 4.1 0 1 0 8.2 0a4.1 4.1 0 1 0 -8.2 0M175.8 352.6a4.6 4.6 0 1 0 9.3 0a4.6 4.6 0 1 0 -9.3 0M56.2 87.6a4.9 4.9 0 1 0 9.9 0a4.9 4.9 0 1 0 -9.9 0M126.3 73.9a4.8 4.8 0 1 0 9.6 0a4.8 4.8 0 1 0 -9.6 0M-4.3 278.9a5.0 5.0 0 1 0 10.0 0a5.0 5.0 0 1 0 -10.0 0M380.1 399.2a6.1 6.1 0 1 0 12.3 0a6.1 6.1 0 1 0 -12.3 0M230.9 149.4a5.6 5.6 0 1 0 11.3 0a5.6 5.6 0 1 0 -11.3 0M6.0 2.5a6.2 6.2 0 1 0 12.5 0a6.2 6.2 0 1 0 -12.5 0M37.5 202.4a4.7 4.7 0 1 0 9.4 0a4.7 4.7 0 1 0 -9.4 0M169.5 117.1a4.6 4.6 0 1 0 9.2 0a4.6 4.6 0 1 0 -9.2 0M129.1 53.9a5.7 5.7 0 1 0 11.3 0a5.7 5.7 0 1 0 -11.3 0M108.6 208.7a3.9 3.9 0 1 0 7.8 0a3.9 3.9 0 1 0 -7.8 0M328.9 37.0a4.1 4.1 0 1 0 8.3 0a4.1 4.1 0 1 0 -8.3 0M331.4 393.4a4.4 4.4 0 1 0 8.7 0a4.4 4.4 0 1 0 -8.7 0M115.9 233.2a5.7 5.7 0 1 0 11.4 0a5.7 5.7 0 1 0 -11.4 0M250.1 11.3a6.3 6.3 0 1 0 12.6 0a6.3 6.3 0 1 0 -12.6 0M110.1 121.5a6.3 6.3 0 1 0 12.6 0a6.3 6.3 0 1 0 -12.6 0M185.7 208.3a3.9 3.9 0 1 0 7.9 0a3.9 3.9 0 1 0 -7.9 0M250.5 367.5a5.2 5.2 0 1 0 10.4 0a5.2 5.2 0 1 0 -10.4 0M400.2 20.7a4.5 4.5 0 1 0 9.0 0a4.5 4.5 0 1 0 -9.0 0M126.8 44.0a5.0 5.0 0 1 0 10.0 0a5.0 5.0 0 1 0 -10.0 0M132.8 140.1a4.8 4.8 0 1 0 9.6 0a4.8 4.8 0 1 0 -9.6 0M3.6 144.8a6.5 6.5 0 1 0 12.9 0a6.5 6.5 0 1 0 -12.9 0M377.3 58.7a3.6 3.6 0 1 0 7.1 0a3.6 3.6 0 1 0 -7.1 0M288.5 51.0a4.8 4.8 0 1 0 9.6 0a4.8 4.8 0 1 0 -9.6 0M113.8 254.1a6.0 6.0 0 1 0 12.0 0a6.0 6.0 0 1 0 -12.0 0M-9.5 251.4a5.8 5.8 0 1 0 11.7 0a5.8 5.8 0 1 0 -11.7 0M61.9 66.4a6.5 6.5 0 1 0 12.9 0a6.5 6.5 0 1 0 -12.9 0M241.1 5.1a4.1 4.1 0 1 0 8.1 0a4.1 4.1 0 1 0 -8.1 0M150.0 -7.3a5.6 5.6 0 1 0 11.3 0a5.6 5.6 0 1 0 -11.3 0M49.3 27.4a4.6 4.6 0 1 0 9.1 0a4.6 4.6 0 1 0 -9.1 0M58.8 -4.6a4.0 4.0 0 1 0 8.1 0a4.0 4.0 0 1 0 -8.1 0M83.1 33.2a4.0 4.0 0 1 0 7.9 0a4.0 4.0 0 1 0 -7.9 0M71.6 95.1a6.1 6.1 0 1 0 12.2 0a6.1 6.1 0 1 0 -12.2 0M331.2 123.0a6.1 6.1 0 1 0 12.2 0a6.1 6.1 0 1 0 -12.2 0M280.4 116.7a4.8 4.8 0 1 0 9.7 0a4.8 4.8 0 1 0 -9.7 0M196.6 -4.8a5.5 5.5 0 1 0 11.1 0a5.5 5.5 0 1 0 -11.1 0M58.8 -6.2a4.8 4.8 0 1 0 9.6 0a4.8 4.8 0 1 0 -9.6 0M102.8 142.2a6.0 6.0 0 1 0 12.0 0a6.0 6.0 0 1 0 -12.0 0M38.6 301.6a4.0 4.0 0 1 0 8.0 0a4.0 4.0 0 1 0 -8.0 0M4.7 152.4a5.5 5.5 0 1 0 10.9 0a5.5 5.5 0 1 0 -10.9 0M177.2 191.6a4.9 4.9 0 1 0 9.8 0a4.9 4.9 0 1 0 -9.8 0M235.3 38.5a4.8 4.8 0 1 0 9.6 0a4.8 4.8 0 1 0 -9.6 0M257.5 62.4a6.0 6.0 0 1 0 12.0 0a6.0 6.0 0 1 0 -12.0 0M45.6 145.2a5.0 5.0 0 1 0 10.0 0a5.0 5.0 0 1 0 -10.0 0M222.6 273.2a4.6 4.6 0 1 0 9.1 0a4.6 4.6 0 1 0 -9.1 0M23.2 355.8a5.5 5.5 0 1 0 10.9 0a5.5 5.5 0 1 0 -10.9 0M124.5 356.0a5.8 5.8 0 1 0 11.7 0a5.8 5.8 0 1 0 -11.7 0M177.0 283.0a4.0 4.0 0 1 0 7.9 0a4.0 4.0 0 1 0 -7.9 0M258.0 109.8a6.1 6.1 0 1 0 12.2 0a6.1 6.1 0 1 0 -12.2 0M157.9 13.8a6.2 6.2 0 1 0 12.5 0a6.2 6.2 0 1 0 -12.5 0M245.1 287.6a6.3 6.3 0 1 0 12.7 0a6.3 6.3 0 1 0 -12.7 0M23.0 369.9a6.5 6.5 0 1 0 13.0 0a6.5 6.5 0 1 0 -13.0 0M398.0 390.4a5.3 5.3 0 1 0 10.5 0a5.3 5.3 0 1 0 -10.5 0M99.6 382.5a4.0 4.0 0 1 0 8.1 0a4.0 4.0 0 1 0 -8.1 0M220.4 282.7a4.2 4.2 0 1 0 8.4 0a4.2 4.2 0 1 0 -8.4 0M391.3 110.4a5.4 5.4 0 1 0 10.7 0a5.4 5.4 0 1 0 -10.7 0M134.0 122.2a6.3 6.3 0 1 0 12.6 0a6.3 6.3 0 1 0 -12.6 0M291.3 323.2a4.1 4.1 0 1 0 8.2 0a4.1 4.1 0 1 0 -8.2 0M127.8 94.3a3.8 3.8 0 1 0 7.6 0a3.8 3.8 0 1 0 -7.6 0M266.2 131.4a6.0 6.0 0 1 0 12.0 0a6.0 6.0 0 1 0 -12.0 0M7.8 115.8a4.5 4.5 0 1 0 9.0 0a4.5 4.5 0 1 0 -9.0 0M55.0 91.1a4.4 4.4 0 1 0 8.9 0a4.4 4.4 0 1 0 -8.9 0M335.5 4.3a6.5 6.5 0 1 0 12.9 0a6.5 6.5 0 1 0 -12.9 0M192.1 4.6a3.6 3.6 0 1 0 7.2 0a3.6 3.6 0 1 0 -7.2 0M44.9 383.6a6.1 6.1 0 1 0 12.1 0a6.1 6.1 0 1 0 -12.1 0M155.7 315.7a4.8 4.8 0 1 0 9.6 0a4.8 4.8 0 1 0 -9.6 0M190.4 172.8a4.6 4.6 0 1 0 9.1 0a4.6 4.6 0 1 0 -9.1 0M396.2 271.0a4.4 4.4 0 1 0 8.8 0a4.4 4.4 0 1 0 -8.8 0M132.7 183.4a4.7 4.7 0 1 0 9.3 0a4.7 4.7 0 1 0 -9.3 0M91.3 311.3a4.6 4.6 0 1 0 9.3 0a4.6 4.6 0 1 0 -9.3 0M113.7 189.8a4.9 4.9 0 1 0 9.7 0a4.9 4.9 0 1 0 -9.7 0M106.1 205.1a3.7 3.7 0 1 0 7.4 0a3.7 3.7 0 1 0 -7.4 0M145.0 296.6a4.5 4.5 0 1 0 9.0 0a4.5 4.5 0 1 0 -9.0 0M54.8 250.1a6.4 6.4 0 1 0 12.8 0a6.4 6.4 0 1 0 -12.8 0M387.2 378.2a3.7 3.7 0 1 0 7.5 0a3.7 3.7 0 1 0 -7.5 0M245.9 0.9a6.0 6.0 0 1 0 12.1 0a6.0 6.0 0 1 0 -12.1 0M29.2 27.5a5.0 5.0 0 1 0 10.1 0a5.0 5.0 0 1 0 -10.1 0M122.2 75.4a3.9 3.9 0 1 0 7.8 0a3.9 3.9 0 1 0 -7.8 0M199.5 135.0a3.7 3.7 0 1 0 7.5 0a3.7 3.7 0 1 0 -7.5 0M59.2 82.3a5.3 5.3 0 1 0 10.5 0a5.3 5.3 0 1 0 -10.5 0M339.6 108.9a5.1 5.1 0 1 0 10.2 0a5.1 5.1 0 1 0 -10.2 0M138.7 111.9a4.0 4.0 0 1 0 7.9 0a4.0 4.0 0 1 0 -7.9 0M354.9 277.8a6.1 6.1 0 1 0 12.2 0a6.1 6.1 0 1 0 -12.2 0M109.7 172.7a4.8 4.8 0 1 0 9.7 0a4.8 4.8 0 1 0 -9.7 0M321.5 260.2a6.3 6.3 0 1 0 12.5 0a6.3 6.3 0 1 0 -12.5 0M281.8 129.3a4.2 4.2 0 1 0 8.4 0a4.2 4.2 0 1 0 -8.4 0"/>
</g></g></g><rect x="311.8" y="351.6" width="85.8" height="43.5" fill="#fff"/></g>
<rect x="734.9" y="1685.9" width="397.6" height="395.1" fill="none" stroke="#000" stroke-width="3"/>
<path d="M734.9 1685.9v-15M734.9 2081.0v15M734.9 2081.0h-15M1132.5 2081.0h15M774.7 1685.9v-8M774.7 2081.0v8M734.9 2041.5h-8M1132.5 2041.5h8M814.4 1685.9v-15M814.4 2081.0v15M734.9 2002.0h-15M1132.5 2002.0h15M854.2 1685.9v-8M854.2 2081.0v8M734.9 1962.5h-8M1132.5 1962.5h8M893.9 1685.9v-15M893.9 2081.0v15M734.9 1923.0h-15M1132.5 1923.0h15M933.7 1685.9v-8M933.7 2081.0v8M734.9 1883.5h-8M1132.5 1883.5h8M973.5 1685.9v-15M973.5 2081.0v15M734.9 1843.9h-15M1132.5 1843.9h15M1013.2 1685.9v-8M1013.2 2081.0v8M734.9 1804.4h-8M1132.5 1804.4h8M1053.0 1685.9v-15M1053.0 2081.0v15M734.9 1764.9h-15M1132.5 1764.9h15M1092.7 1685.9v-8M1092.7 2081.0v8M734.9 1725.4h-8M1132.5 1725.4h8M1132.5 1685.9v-15M1132.5 2081.0v15M734.9 1685.9h-15M1132.5 1685.9h15" stroke="#000" stroke-width="3" fill="none"/>
<text x="708.8" y="2090.0" font-size="25.5" text-anchor="end" >0</text>
<text x="734.9" y="2129.5" font-size="25.5" text-anchor="middle" >0</text>
<text x="708.8" y="2011.0" font-size="25.5" text-anchor="end" >200</text>
<text x="814.4" y="2129.5" font-size="25.5" text-anchor="middle" >200</text>
<text x="708.8" y="1931.9" font-size="25.5" text-anchor="end" >400</text>
<text x="893.9" y="2129.5" font-size="25.5" text-anchor="middle" >400</text>
<text x="708.8" y="1852.9" font-size="25.5" text-anchor="end" >600</text>
<text x="973.5" y="2129.5" font-size="25.5" text-anchor="middle" >600</text>
<text x="708.8" y="1773.9" font-size="25.5" text-anchor="end" >800</text>
<text x="1053.0" y="2129.5" font-size="25.5" text-anchor="middle" >800</text>
<text x="708.8" y="1694.9" font-size="25.5" text-anchor="end" >1000</text>
<text x="1132.5" y="2129.5" font-size="25.5" text-anchor="middle" >1000</text>
<text transform="translate(932.8 2161.0) scale(1.065 1)" font-size="25.5" text-anchor="middle" >X (µm)</text>
<text transform="translate(641.8 1883.5) rotate(-90) scale(1.045 1)" font-size="25.5" text-anchor="middle">Y (µm)</text>
<text transform="translate(940.5 2207.2) scale(1.11 1)" font-size="45" text-anchor="middle" >(h)</text>
<text transform="translate(1123.6 2072.7) scale(1.065 1)" font-size="29.5" text-anchor="end" >3.7 h</text>
<rect x="1158.3" y="1734.7" width="20.2" height="343.9" fill="url(#cbar)" stroke="#222" stroke-width="0.8" stroke-opacity="0.6"/>
<text transform="translate(1180.1 1742.9) scale(1.03 1)" font-size="19" text-anchor="start" >0.02</text>
<text transform="translate(1180.1 1828.9) scale(1.03 1)" font-size="19" text-anchor="start" >0.015</text>
<text transform="translate(1180.1 1914.8) scale(1.03 1)" font-size="19" text-anchor="start" >0.01</text>
<text transform="translate(1180.1 2000.8) scale(1.03 1)" font-size="19" text-anchor="start" >0.005</text>
<text transform="translate(1180.1 2086.8) scale(1.03 1)" font-size="19" text-anchor="start" >0</text>
<path d="M1155.8 2084.6l2.5 1.8" stroke="#333" stroke-width="1.6" fill="none"/>
<text x="1145.9" y="1716.5" font-size="25" text-anchor="start" textLength="102.5" lengthAdjust="spacingAndGlyphs">gradient</text></svg></body></html>
